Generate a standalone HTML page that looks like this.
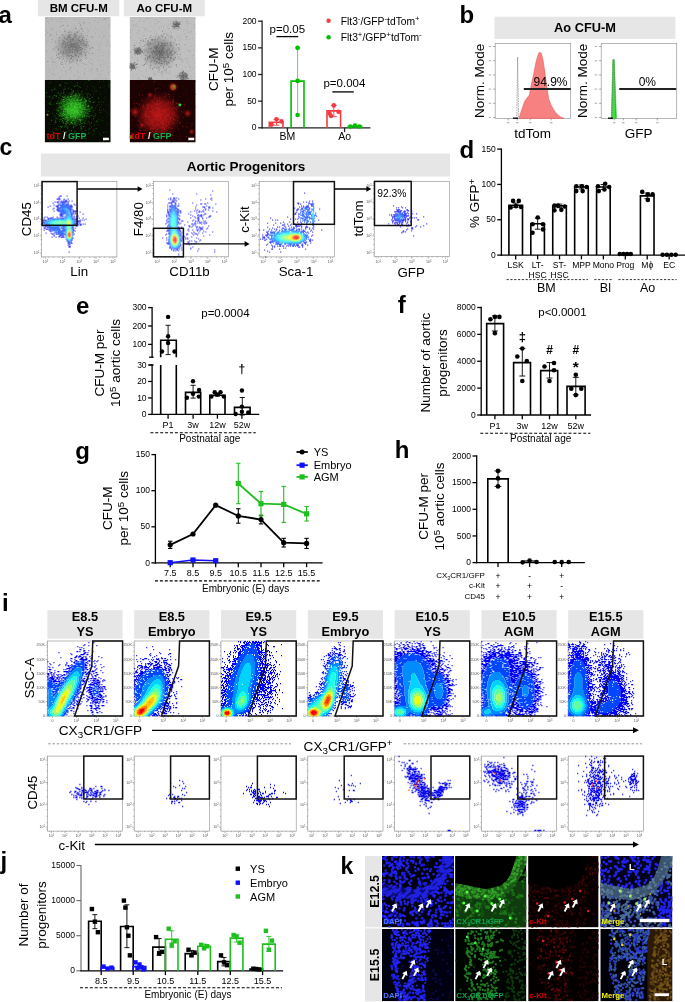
<!DOCTYPE html>
<html><head><meta charset="utf-8"><style>html,body{margin:0;padding:0;background:#fff;overflow:hidden;}svg{display:block;font-family:"Liberation Sans", sans-serif;will-change:transform;}</style></head><body><svg width="685" height="1002" viewBox="0 0 685 1002"><defs><clipPath id="c1"><rect x="44.7" y="17" width="66" height="63"/></clipPath><radialGradient id="g1"><stop offset="0" stop-color="#7a7a7a" stop-opacity="0.9"/><stop offset="0.6" stop-color="#8c8c8c" stop-opacity="0.5"/><stop offset="1" stop-color="#aaa" stop-opacity="0"/></radialGradient><clipPath id="c2"><rect x="129.6" y="17" width="66.1" height="63"/></clipPath><radialGradient id="g2"><stop offset="0" stop-color="#6e6e6e" stop-opacity="0.9"/><stop offset="0.6" stop-color="#858585" stop-opacity="0.5"/><stop offset="1" stop-color="#aaa" stop-opacity="0"/></radialGradient><clipPath id="c3"><rect x="44.7" y="80" width="66" height="62.5"/></clipPath><radialGradient id="g3"><stop offset="0" stop-color="#30c020" stop-opacity="1"/><stop offset="0.45" stop-color="#209818" stop-opacity="0.75"/><stop offset="1" stop-color="#104a08" stop-opacity="0"/></radialGradient><clipPath id="c4"><rect x="129.6" y="80" width="66.1" height="62.5"/></clipPath><radialGradient id="g4"><stop offset="0" stop-color="#b01414" stop-opacity="1"/><stop offset="0.55" stop-color="#901010" stop-opacity="0.85"/><stop offset="1" stop-color="#4a0505" stop-opacity="0"/></radialGradient><radialGradient id="g5"><stop offset="0" stop-color="#c01a1a" stop-opacity="1"/><stop offset="1" stop-color="#600808" stop-opacity="0.2"/></radialGradient><radialGradient id="g6"><stop offset="0" stop-color="#c01a1a" stop-opacity="1"/><stop offset="1" stop-color="#600808" stop-opacity="0.2"/></radialGradient><radialGradient id="g7"><stop offset="0" stop-color="#c01a1a" stop-opacity="1"/><stop offset="1" stop-color="#600808" stop-opacity="0.2"/></radialGradient><radialGradient id="g8"><stop offset="0" stop-color="#c01a1a" stop-opacity="1"/><stop offset="1" stop-color="#600808" stop-opacity="0.2"/></radialGradient><radialGradient id="g9"><stop offset="0" stop-color="#c01a1a" stop-opacity="1"/><stop offset="1" stop-color="#600808" stop-opacity="0.2"/></radialGradient><radialGradient id="g10"><stop offset="0" stop-color="#c01a1a" stop-opacity="1"/><stop offset="1" stop-color="#600808" stop-opacity="0.2"/></radialGradient><filter id="blurf" x="-5%" y="-5%" width="110%" height="110%"><feGaussianBlur stdDeviation="0.32"/></filter><clipPath id="c5"><rect x="382" y="856" width="72" height="71.4"/></clipPath><clipPath id="c6"><rect x="455.2" y="856" width="71.2" height="71.4"/></clipPath><clipPath id="c7"><rect x="528.2" y="856" width="70.4" height="71.4"/></clipPath><clipPath id="c8"><rect x="600.3" y="856" width="72.1" height="71.4"/></clipPath><clipPath id="c9"><rect x="382" y="928.9" width="72" height="72.3"/></clipPath><clipPath id="c10"><rect x="455.2" y="928.9" width="71.2" height="72.3"/></clipPath><clipPath id="c11"><rect x="528.2" y="928.9" width="70.4" height="72.3"/></clipPath><clipPath id="c12"><rect x="600.3" y="928.9" width="72.1" height="72.3"/></clipPath></defs>
<text x="-1.6" y="23.3" font-size="24" font-weight="bold">a</text>
<rect x="38" y="0" width="81.3" height="16.3" fill="#e6e6e6" />
<text x="78.7" y="12.4" font-size="11.5" text-anchor="middle" font-weight="bold">BM CFU-M</text>
<rect x="123.8" y="0" width="81" height="16.3" fill="#e6e6e6" />
<text x="164.3" y="12.4" font-size="11.5" text-anchor="middle" font-weight="bold">Ao CFU-M</text>
<g clip-path="url(#c1)">
<rect x="44.7" y="17" width="66" height="63" fill="#bbbbbb" />
<path d="M53.57 70.39h0.8v0.8h-0.8zM95.11 33.07h0.8v0.8h-0.8zM77.4 45.32h0.8v0.8h-0.8zM87.71 66.69h0.8v0.8h-0.8zM50.89 18.79h0.8v0.8h-0.8zM99.86 44.26h0.8v0.8h-0.8zM95.01 17.13h0.8v0.8h-0.8zM74.1 62.46h0.8v0.8h-0.8zM59.8 76.55h0.8v0.8h-0.8zM104.19 18.93h0.8v0.8h-0.8zM46.38 51.11h0.8v0.8h-0.8zM106.68 41.02h0.8v0.8h-0.8zM59 43.59h0.8v0.8h-0.8zM46.62 30.97h0.8v0.8h-0.8zM73.6 48.24h0.8v0.8h-0.8zM60.08 31.54h0.8v0.8h-0.8zM59.14 45.96h0.8v0.8h-0.8zM63.83 18.35h0.8v0.8h-0.8zM99.98 52.06h0.8v0.8h-0.8zM87.09 28.71h0.8v0.8h-0.8zM110.21 71.18h0.8v0.8h-0.8zM52.68 37.96h0.8v0.8h-0.8zM92.32 61.81h0.8v0.8h-0.8zM106.51 43.59h0.8v0.8h-0.8zM99.48 59.23h0.8v0.8h-0.8zM64.72 54.02h0.8v0.8h-0.8zM102.94 70.31h0.8v0.8h-0.8zM78.05 54.11h0.8v0.8h-0.8zM46.98 32.29h0.8v0.8h-0.8zM97.33 43.1h0.8v0.8h-0.8zM56.12 51.57h0.8v0.8h-0.8zM91.1 59.49h0.8v0.8h-0.8zM69.43 44.65h0.8v0.8h-0.8zM78.26 66.04h0.8v0.8h-0.8zM79.08 41.78h0.8v0.8h-0.8zM77.02 18.86h0.8v0.8h-0.8zM47.57 61.31h0.8v0.8h-0.8zM109.59 54.37h0.8v0.8h-0.8zM70.68 27.73h0.8v0.8h-0.8zM77.85 78.87h0.8v0.8h-0.8zM95.55 51h0.8v0.8h-0.8zM101.48 31.63h0.8v0.8h-0.8zM78.61 77.01h0.8v0.8h-0.8zM82.83 45.93h0.8v0.8h-0.8zM62.47 51.52h0.8v0.8h-0.8zM107.87 17.36h0.8v0.8h-0.8zM96.42 68.69h0.8v0.8h-0.8zM103.19 63.65h0.8v0.8h-0.8zM98.1 49.68h0.8v0.8h-0.8zM81.75 43.84h0.8v0.8h-0.8zM48.4 71.81h0.8v0.8h-0.8zM82.32 29.59h0.8v0.8h-0.8zM78.01 47.55h0.8v0.8h-0.8zM68.25 38.8h0.8v0.8h-0.8zM80.24 56.28h0.8v0.8h-0.8zM85.12 45.86h0.8v0.8h-0.8zM46.55 31.47h0.8v0.8h-0.8zM56.4 53.82h0.8v0.8h-0.8zM101.53 67.3h0.8v0.8h-0.8zM97.31 68.44h0.8v0.8h-0.8zM61.55 70.03h0.8v0.8h-0.8zM89.13 22.24h0.8v0.8h-0.8zM45.8 17.92h0.8v0.8h-0.8zM94.57 32.72h0.8v0.8h-0.8zM51.93 56.36h0.8v0.8h-0.8zM67.43 21.38h0.8v0.8h-0.8zM55.24 50.22h0.8v0.8h-0.8zM55.8 34.19h0.8v0.8h-0.8zM91.66 45.65h0.8v0.8h-0.8zM65.95 46.85h0.8v0.8h-0.8zM46.26 41.35h0.8v0.8h-0.8zM72.48 28.85h0.8v0.8h-0.8zM51.88 73.69h0.8v0.8h-0.8zM78.37 30.17h0.8v0.8h-0.8zM84.67 68.47h0.8v0.8h-0.8zM46.07 18.13h0.8v0.8h-0.8zM54.37 62.29h0.8v0.8h-0.8zM55.28 61.39h0.8v0.8h-0.8zM89.46 51.32h0.8v0.8h-0.8zM59.26 78.46h0.8v0.8h-0.8zM97.36 49.55h0.8v0.8h-0.8zM59.43 57.86h0.8v0.8h-0.8zM70.76 53.28h0.8v0.8h-0.8zM65.9 56.75h0.8v0.8h-0.8zM48.58 35.81h0.8v0.8h-0.8zM108.58 72.16h0.8v0.8h-0.8zM64.92 71.09h0.8v0.8h-0.8zM65.18 76.18h0.8v0.8h-0.8zM93.79 43.22h0.8v0.8h-0.8zM61.36 17.53h0.8v0.8h-0.8zM102.7 19.39h0.8v0.8h-0.8zM98.78 77.62h0.8v0.8h-0.8zM82.34 27.81h0.8v0.8h-0.8zM101.97 78.35h0.8v0.8h-0.8zM91.17 49.06h0.8v0.8h-0.8zM69.65 38.86h0.8v0.8h-0.8zM58.28 59.47h0.8v0.8h-0.8zM73.27 29.23h0.8v0.8h-0.8zM51.59 58.96h0.8v0.8h-0.8zM64.24 48.49h0.8v0.8h-0.8zM66.17 71.91h0.8v0.8h-0.8zM104.08 18.14h0.8v0.8h-0.8zM57.96 37.65h0.8v0.8h-0.8zM109.85 66.31h0.8v0.8h-0.8zM67.08 30.42h0.8v0.8h-0.8zM89.21 69.78h0.8v0.8h-0.8zM106.22 38.66h0.8v0.8h-0.8zM102.94 60.29h0.8v0.8h-0.8zM76.68 79.09h0.8v0.8h-0.8zM60.19 62.7h0.8v0.8h-0.8zM50.29 27.69h0.8v0.8h-0.8zM104.83 30.42h0.8v0.8h-0.8zM94.8 54.81h0.8v0.8h-0.8zM100.21 40.19h0.8v0.8h-0.8zM67.16 35.35h0.8v0.8h-0.8zM101.95 55.05h0.8v0.8h-0.8zM107.68 72.9h0.8v0.8h-0.8zM53.63 51.72h0.8v0.8h-0.8zM51.58 19.47h0.8v0.8h-0.8zM49.53 71.57h0.8v0.8h-0.8zM96.72 69.2h0.8v0.8h-0.8zM67.2 55.76h0.8v0.8h-0.8zM96.31 40.82h0.8v0.8h-0.8zM82.37 31.09h0.8v0.8h-0.8zM50.1 33.8h0.8v0.8h-0.8zM103.49 52.56h0.8v0.8h-0.8zM105.75 45.84h0.8v0.8h-0.8zM62.99 66.58h0.8v0.8h-0.8zM99.33 17.78h0.8v0.8h-0.8zM88.95 22.78h0.8v0.8h-0.8zM52.3 72.76h0.8v0.8h-0.8zM47.34 32.1h0.8v0.8h-0.8zM109.92 43.52h0.8v0.8h-0.8zM52.33 27.55h0.8v0.8h-0.8zM60.63 63.87h0.8v0.8h-0.8zM51.49 74.38h0.8v0.8h-0.8zM69.67 78.13h0.8v0.8h-0.8zM104.71 35.52h0.8v0.8h-0.8zM61.43 47.05h0.8v0.8h-0.8zM51.31 58.08h0.8v0.8h-0.8zM47.31 17.66h0.8v0.8h-0.8zM109.55 35.62h0.8v0.8h-0.8zM84.07 45.34h0.8v0.8h-0.8zM65.38 20.97h0.8v0.8h-0.8zM104.98 78.1h0.8v0.8h-0.8zM108.71 24.02h0.8v0.8h-0.8zM58.9 55.92h0.8v0.8h-0.8zM109.38 51.2h0.8v0.8h-0.8zM90.12 58.7h0.8v0.8h-0.8zM61.8 51.12h0.8v0.8h-0.8zM64.98 32.52h0.8v0.8h-0.8zM50.07 34.69h0.8v0.8h-0.8zM109.6 45.22h0.8v0.8h-0.8zM87.73 57.54h0.8v0.8h-0.8zM106.79 41.6h0.8v0.8h-0.8zM64.95 37.62h0.8v0.8h-0.8zM65.6 70.37h0.8v0.8h-0.8zM103.67 36.08h0.8v0.8h-0.8zM66.77 51.29h0.8v0.8h-0.8zM82.91 54.55h0.8v0.8h-0.8zM60.88 18.28h0.8v0.8h-0.8zM60.79 21.56h0.8v0.8h-0.8zM81.08 21.47h0.8v0.8h-0.8zM49.66 57.03h0.8v0.8h-0.8zM63.89 66.91h0.8v0.8h-0.8zM77.26 71.35h0.8v0.8h-0.8zM54.88 48.59h0.8v0.8h-0.8zM97.17 21.86h0.8v0.8h-0.8zM107.35 27.91h0.8v0.8h-0.8zM95.93 79.05h0.8v0.8h-0.8zM98.92 37.15h0.8v0.8h-0.8zM51.75 49.4h0.8v0.8h-0.8zM105.38 35.49h0.8v0.8h-0.8zM103.69 25.93h0.8v0.8h-0.8zM104.79 19h0.8v0.8h-0.8zM65.56 73.89h0.8v0.8h-0.8zM97.75 74.15h0.8v0.8h-0.8zM100.19 64.01h0.8v0.8h-0.8zM90.21 28.22h0.8v0.8h-0.8zM73.25 26.95h0.8v0.8h-0.8zM91.88 59.07h0.8v0.8h-0.8zM61.37 21.06h0.8v0.8h-0.8zM108.28 67.92h0.8v0.8h-0.8zM80.95 51.11h0.8v0.8h-0.8zM100.89 45.56h0.8v0.8h-0.8zM70.82 38.34h0.8v0.8h-0.8zM61.73 18.54h0.8v0.8h-0.8zM87.36 43.25h0.8v0.8h-0.8zM82.36 20.93h0.8v0.8h-0.8zM68.13 25.71h0.8v0.8h-0.8zM52.96 33.32h0.8v0.8h-0.8zM99.41 42.06h0.8v0.8h-0.8zM71.17 55.58h0.8v0.8h-0.8zM60.11 17.47h0.8v0.8h-0.8zM79.59 48.56h0.8v0.8h-0.8zM87.52 44.61h0.8v0.8h-0.8zM90.01 63.08h0.8v0.8h-0.8zM60.43 48.19h0.8v0.8h-0.8zM76.3 31.18h0.8v0.8h-0.8zM71.91 52.31h0.8v0.8h-0.8zM104.56 74.82h0.8v0.8h-0.8zM62.86 57.72h0.8v0.8h-0.8zM47.88 21.51h0.8v0.8h-0.8zM78.47 72.28h0.8v0.8h-0.8zM55.22 65.26h0.8v0.8h-0.8zM102.98 36.64h0.8v0.8h-0.8zM90.41 70.49h0.8v0.8h-0.8zM69.23 61.18h0.8v0.8h-0.8zM93.3 54.46h0.8v0.8h-0.8zM101.21 73.49h0.8v0.8h-0.8zM108.07 52.99h0.8v0.8h-0.8zM56.33 32.79h0.8v0.8h-0.8zM59.06 52.88h0.8v0.8h-0.8zM94.71 20.28h0.8v0.8h-0.8zM89.69 62.18h0.8v0.8h-0.8zM67.67 49.45h0.8v0.8h-0.8zM55.58 62.98h0.8v0.8h-0.8zM47.39 78.82h0.8v0.8h-0.8zM98.02 56.59h0.8v0.8h-0.8zM62.36 74.51h0.8v0.8h-0.8zM108.02 25.76h0.8v0.8h-0.8zM95.9 70.04h0.8v0.8h-0.8zM88.24 61.13h0.8v0.8h-0.8zM74.07 75.23h0.8v0.8h-0.8zM108.8 41.09h0.8v0.8h-0.8zM97.68 44.27h0.8v0.8h-0.8zM55.57 37.5h0.8v0.8h-0.8zM53.04 74.26h0.8v0.8h-0.8zM108.02 24.51h0.8v0.8h-0.8zM84.34 42.72h0.8v0.8h-0.8zM52.49 35.61h0.8v0.8h-0.8zM61.08 64.22h0.8v0.8h-0.8zM44.96 28.96h0.8v0.8h-0.8zM73.66 18.33h0.8v0.8h-0.8zM86.12 55.15h0.8v0.8h-0.8zM99.83 30.02h0.8v0.8h-0.8zM63.5 51.17h0.8v0.8h-0.8zM62.73 53.9h0.8v0.8h-0.8zM61.26 60.06h0.8v0.8h-0.8zM96.91 67.95h0.8v0.8h-0.8zM108.96 51.36h0.8v0.8h-0.8zM77.09 70.91h0.8v0.8h-0.8zM95.46 52.94h0.8v0.8h-0.8zM69.99 34.89h0.8v0.8h-0.8zM51.84 67.88h0.8v0.8h-0.8zM52.49 64.08h0.8v0.8h-0.8zM80.69 77.79h0.8v0.8h-0.8zM94.93 78.33h0.8v0.8h-0.8zM53.72 48.52h0.8v0.8h-0.8zM82.49 36.61h0.8v0.8h-0.8zM77.9 39.48h0.8v0.8h-0.8zM79.57 17.05h0.8v0.8h-0.8zM73.89 45.32h0.8v0.8h-0.8zM64.82 42.16h0.8v0.8h-0.8zM96.38 60.06h0.8v0.8h-0.8zM77.19 57.8h0.8v0.8h-0.8zM69.62 29.85h0.8v0.8h-0.8zM44.96 34.49h0.8v0.8h-0.8zM84.18 72.54h0.8v0.8h-0.8zM99.44 49.19h0.8v0.8h-0.8zM109.84 46.08h0.8v0.8h-0.8zM99.78 42.76h0.8v0.8h-0.8zM93.85 79.22h0.8v0.8h-0.8zM64.85 27.73h0.8v0.8h-0.8zM85.62 50.45h0.8v0.8h-0.8zM68.42 17.22h0.8v0.8h-0.8zM70.38 43.83h0.8v0.8h-0.8zM71.45 71.26h0.8v0.8h-0.8zM83.27 63.23h0.8v0.8h-0.8zM103.96 64.17h0.8v0.8h-0.8zM77.22 63.98h0.8v0.8h-0.8zM86.96 57.87h0.8v0.8h-0.8zM86.26 42.64h0.8v0.8h-0.8zM86.23 56.93h0.8v0.8h-0.8zM106.55 66.3h0.8v0.8h-0.8zM100.55 65.35h0.8v0.8h-0.8zM98.51 55.14h0.8v0.8h-0.8zM67.76 33.67h0.8v0.8h-0.8zM91.43 72.06h0.8v0.8h-0.8zM80.62 26.58h0.8v0.8h-0.8zM99.68 47.53h0.8v0.8h-0.8zM75.53 19.86h0.8v0.8h-0.8zM78.38 63.92h0.8v0.8h-0.8zM72.59 39.38h0.8v0.8h-0.8zM88.05 18.24h0.8v0.8h-0.8zM78.17 76.61h0.8v0.8h-0.8zM90.27 42.32h0.8v0.8h-0.8zM90.17 55.11h0.8v0.8h-0.8zM58.49 30.09h0.8v0.8h-0.8zM103.18 33.95h0.8v0.8h-0.8zM49.64 69.33h0.8v0.8h-0.8zM79.23 40.2h0.8v0.8h-0.8zM78.46 63.41h0.8v0.8h-0.8zM55.82 58.14h0.8v0.8h-0.8zM91.79 68.35h0.8v0.8h-0.8zM62.5 55.41h0.8v0.8h-0.8zM60.02 52.35h0.8v0.8h-0.8zM56.08 66.76h0.8v0.8h-0.8zM101.9 37.77h0.8v0.8h-0.8zM59.37 77.72h0.8v0.8h-0.8zM91.34 70.16h0.8v0.8h-0.8zM46.72 73.66h0.8v0.8h-0.8zM85.78 36.94h0.8v0.8h-0.8zM73.2 64.98h0.8v0.8h-0.8zM96.54 28.96h0.8v0.8h-0.8zM86.01 27.43h0.8v0.8h-0.8zM108.92 44.95h0.8v0.8h-0.8zM104.97 62.88h0.8v0.8h-0.8zM84.71 33.5h0.8v0.8h-0.8zM79.46 25.73h0.8v0.8h-0.8zM53.81 62.09h0.8v0.8h-0.8zM68.53 64.34h0.8v0.8h-0.8zM60.57 62.24h0.8v0.8h-0.8zM92.12 36.25h0.8v0.8h-0.8zM51.72 42.01h0.8v0.8h-0.8zM77.2 23.3h0.8v0.8h-0.8zM57.03 20.49h0.8v0.8h-0.8zM84.14 73h0.8v0.8h-0.8zM58.99 19.19h0.8v0.8h-0.8zM91.16 68.34h0.8v0.8h-0.8zM108.33 55.63h0.8v0.8h-0.8zM67.3 69.79h0.8v0.8h-0.8zM52.49 60.64h0.8v0.8h-0.8zM50.99 42.18h0.8v0.8h-0.8zM77.37 40.81h0.8v0.8h-0.8zM55.83 31.6h0.8v0.8h-0.8zM98.83 46.14h0.8v0.8h-0.8zM82.98 30.35h0.8v0.8h-0.8zM91.89 37.8h0.8v0.8h-0.8zM83.88 74.3h0.8v0.8h-0.8zM110.33 19.91h0.8v0.8h-0.8zM97.33 71.03h0.8v0.8h-0.8zM65.79 41.14h0.8v0.8h-0.8zM83 74.89h0.8v0.8h-0.8zM71.1 72.44h0.8v0.8h-0.8zM94.76 26.59h0.8v0.8h-0.8zM105 17.96h0.8v0.8h-0.8zM54.28 58.88h0.8v0.8h-0.8zM48.47 40.91h0.8v0.8h-0.8zM53.28 46.16h0.8v0.8h-0.8zM100.14 74.08h0.8v0.8h-0.8zM47.04 20.83h0.8v0.8h-0.8zM100.18 19.7h0.8v0.8h-0.8zM62.76 24.4h0.8v0.8h-0.8zM50.71 18.74h0.8v0.8h-0.8zM86.78 63.91h0.8v0.8h-0.8zM90.03 70.27h0.8v0.8h-0.8zM88.46 41.55h0.8v0.8h-0.8zM86.35 78.08h0.8v0.8h-0.8zM87.05 32.31h0.8v0.8h-0.8zM48.67 75.92h0.8v0.8h-0.8zM83.67 39.03h0.8v0.8h-0.8zM84.65 52.3h0.8v0.8h-0.8zM79.16 20.83h0.8v0.8h-0.8zM68.01 43h0.8v0.8h-0.8zM57.86 72.45h0.8v0.8h-0.8zM72.69 58.73h0.8v0.8h-0.8zM91.79 63.83h0.8v0.8h-0.8zM92.29 64.39h0.8v0.8h-0.8zM61.3 78.51h0.8v0.8h-0.8zM54.67 74.87h0.8v0.8h-0.8zM101.1 70.69h0.8v0.8h-0.8zM48.19 22.75h0.8v0.8h-0.8zM98.36 46.56h0.8v0.8h-0.8zM69.14 79.04h0.8v0.8h-0.8zM47.35 50.48h0.8v0.8h-0.8zM73.96 25.08h0.8v0.8h-0.8zM70.78 61.58h0.8v0.8h-0.8zM102.93 18.55h0.8v0.8h-0.8zM79.32 22.69h0.8v0.8h-0.8zM97.53 22.4h0.8v0.8h-0.8zM46.96 41.21h0.8v0.8h-0.8zM93.05 36.73h0.8v0.8h-0.8zM53.28 67.06h0.8v0.8h-0.8zM97.96 70.92h0.8v0.8h-0.8zM64.75 43.76h0.8v0.8h-0.8zM60.9 52.1h0.8v0.8h-0.8zM66.49 38.34h0.8v0.8h-0.8zM96.42 77.25h0.8v0.8h-0.8zM83.25 23.6h0.8v0.8h-0.8zM87.77 45.26h0.8v0.8h-0.8zM109.91 62.32h0.8v0.8h-0.8zM99.8 61.18h0.8v0.8h-0.8zM80.05 73.5h0.8v0.8h-0.8zM99.59 35.35h0.8v0.8h-0.8zM55.06 40.33h0.8v0.8h-0.8zM79.09 23.13h0.8v0.8h-0.8zM67.5 53.22h0.8v0.8h-0.8zM47.58 68.34h0.8v0.8h-0.8zM87.67 36.76h0.8v0.8h-0.8zM64.39 39.21h0.8v0.8h-0.8zM66.17 64.16h0.8v0.8h-0.8zM77.77 50.15h0.8v0.8h-0.8zM54.52 74.61h0.8v0.8h-0.8zM66.19 37.64h0.8v0.8h-0.8zM49.24 78.7h0.8v0.8h-0.8zM76.36 74.51h0.8v0.8h-0.8zM105.92 78.09h0.8v0.8h-0.8zM98.53 75.3h0.8v0.8h-0.8zM105.57 67.49h0.8v0.8h-0.8z" fill="#8a8a8a" fill-opacity="0.45"/>
<ellipse cx="72.5" cy="46" rx="20" ry="18" fill="url(#g1)"/>
<path d="M78.96 53.29h0.9v0.9h-0.9zM50.25 34.55h0.9v0.9h-0.9zM75.14 33.82h0.9v0.9h-0.9zM72.34 38.42h0.9v0.9h-0.9zM83.24 41.93h0.9v0.9h-0.9zM65.18 51.14h0.9v0.9h-0.9zM82.28 44.75h0.9v0.9h-0.9zM74.74 49.94h0.9v0.9h-0.9zM68.55 36.5h0.9v0.9h-0.9zM76.76 43.18h0.9v0.9h-0.9zM61.55 52.84h0.9v0.9h-0.9zM75.98 47.13h0.9v0.9h-0.9zM66.47 44.22h0.9v0.9h-0.9zM77.38 49.88h0.9v0.9h-0.9zM65.9 38.78h0.9v0.9h-0.9zM75.24 47.47h0.9v0.9h-0.9zM79.29 36.73h0.9v0.9h-0.9zM79.87 60.11h0.9v0.9h-0.9zM80.09 47.05h0.9v0.9h-0.9zM79.75 35.7h0.9v0.9h-0.9zM68.95 62.48h0.9v0.9h-0.9zM59.42 36.74h0.9v0.9h-0.9zM79.08 40.75h0.9v0.9h-0.9zM67.98 37.04h0.9v0.9h-0.9zM85.96 41.13h0.9v0.9h-0.9zM70.28 31.5h0.9v0.9h-0.9zM78.66 45.93h0.9v0.9h-0.9zM76.49 58.64h0.9v0.9h-0.9zM73.72 36.46h0.9v0.9h-0.9zM64.39 46.66h0.9v0.9h-0.9zM83.07 36.41h0.9v0.9h-0.9zM70.53 44.84h0.9v0.9h-0.9zM77.76 38.87h0.9v0.9h-0.9zM74.99 52.27h0.9v0.9h-0.9zM72.2 45.22h0.9v0.9h-0.9zM77.45 50.65h0.9v0.9h-0.9zM82.57 37.37h0.9v0.9h-0.9zM82.34 44.17h0.9v0.9h-0.9zM63.39 41.57h0.9v0.9h-0.9zM62.63 44.4h0.9v0.9h-0.9zM80.77 28h0.9v0.9h-0.9zM63.04 52.15h0.9v0.9h-0.9zM70.09 52.34h0.9v0.9h-0.9zM61.88 45.58h0.9v0.9h-0.9zM51.65 39.23h0.9v0.9h-0.9zM78.42 55.72h0.9v0.9h-0.9zM85.55 45.55h0.9v0.9h-0.9zM65.48 42.91h0.9v0.9h-0.9zM57.15 56.84h0.9v0.9h-0.9zM81.92 38.72h0.9v0.9h-0.9zM87.15 35.18h0.9v0.9h-0.9zM76.98 39.53h0.9v0.9h-0.9zM58.59 49.17h0.9v0.9h-0.9zM63.23 55.55h0.9v0.9h-0.9zM65.3 46.84h0.9v0.9h-0.9zM68.67 47.08h0.9v0.9h-0.9zM67.44 52.56h0.9v0.9h-0.9zM77.38 46.56h0.9v0.9h-0.9zM71.48 61.77h0.9v0.9h-0.9zM66.93 42.49h0.9v0.9h-0.9zM78.68 45.91h0.9v0.9h-0.9zM59.43 44.86h0.9v0.9h-0.9zM69.43 38.04h0.9v0.9h-0.9zM74.06 36.91h0.9v0.9h-0.9zM70.5 36.92h0.9v0.9h-0.9zM84.99 43.74h0.9v0.9h-0.9zM76.04 48.29h0.9v0.9h-0.9zM78.15 44.79h0.9v0.9h-0.9zM78.53 47h0.9v0.9h-0.9zM52.93 48.5h0.9v0.9h-0.9zM62.16 53.6h0.9v0.9h-0.9zM74.25 43.02h0.9v0.9h-0.9zM52.32 28.89h0.9v0.9h-0.9zM63.08 42.97h0.9v0.9h-0.9zM61.46 61.87h0.9v0.9h-0.9zM76.17 45.29h0.9v0.9h-0.9zM64.61 43.28h0.9v0.9h-0.9zM70.6 42.46h0.9v0.9h-0.9zM71.88 52.44h0.9v0.9h-0.9zM58.41 47.81h0.9v0.9h-0.9zM81.31 35.05h0.9v0.9h-0.9zM70.98 42.94h0.9v0.9h-0.9zM63.35 53.6h0.9v0.9h-0.9zM69.89 55.16h0.9v0.9h-0.9zM75.79 43.77h0.9v0.9h-0.9zM74.8 42.99h0.9v0.9h-0.9zM59.37 57.38h0.9v0.9h-0.9zM75.43 55.25h0.9v0.9h-0.9zM58.01 54.37h0.9v0.9h-0.9zM79.09 45.67h0.9v0.9h-0.9zM55.53 46.8h0.9v0.9h-0.9zM67.16 44.46h0.9v0.9h-0.9zM72.94 38.76h0.9v0.9h-0.9zM71.45 46.09h0.9v0.9h-0.9zM84.18 45.19h0.9v0.9h-0.9zM91.31 36.54h0.9v0.9h-0.9zM71.4 55.92h0.9v0.9h-0.9zM59.93 50.95h0.9v0.9h-0.9zM75.66 41.18h0.9v0.9h-0.9zM70.57 58.37h0.9v0.9h-0.9zM68.91 48.23h0.9v0.9h-0.9zM75.96 55.66h0.9v0.9h-0.9zM55.96 34.22h0.9v0.9h-0.9zM61.77 43.76h0.9v0.9h-0.9zM77.41 52.65h0.9v0.9h-0.9zM70.2 58.12h0.9v0.9h-0.9zM71.91 51.53h0.9v0.9h-0.9zM66.42 52.67h0.9v0.9h-0.9zM66.74 55.27h0.9v0.9h-0.9zM79.4 60.96h0.9v0.9h-0.9zM69.1 36.71h0.9v0.9h-0.9zM79.14 48.54h0.9v0.9h-0.9zM68.27 35.29h0.9v0.9h-0.9zM78.9 30.4h0.9v0.9h-0.9zM68.77 54.56h0.9v0.9h-0.9zM70.48 49.67h0.9v0.9h-0.9zM76.42 50.75h0.9v0.9h-0.9zM80.97 51.23h0.9v0.9h-0.9zM69.5 36.15h0.9v0.9h-0.9zM70.22 40.74h0.9v0.9h-0.9zM75.74 55.84h0.9v0.9h-0.9zM78.76 40.43h0.9v0.9h-0.9zM74.11 46.04h0.9v0.9h-0.9zM68.73 56.4h0.9v0.9h-0.9zM77.42 48.89h0.9v0.9h-0.9zM62.72 24.98h0.9v0.9h-0.9zM66.63 55.12h0.9v0.9h-0.9zM70.78 45.8h0.9v0.9h-0.9zM70.39 49.84h0.9v0.9h-0.9zM72.43 59.72h0.9v0.9h-0.9zM71.53 43.9h0.9v0.9h-0.9zM83.86 52.01h0.9v0.9h-0.9zM78.07 50.22h0.9v0.9h-0.9zM72.19 48.54h0.9v0.9h-0.9zM76.79 46.85h0.9v0.9h-0.9zM57.47 57.02h0.9v0.9h-0.9zM68.66 41.45h0.9v0.9h-0.9zM69.76 40.22h0.9v0.9h-0.9zM65.48 45.33h0.9v0.9h-0.9zM79.57 43.64h0.9v0.9h-0.9zM76.28 35.19h0.9v0.9h-0.9zM78.54 36.9h0.9v0.9h-0.9zM78.1 40.07h0.9v0.9h-0.9zM67.69 35.95h0.9v0.9h-0.9zM62.34 44.21h0.9v0.9h-0.9zM64.7 44.22h0.9v0.9h-0.9zM81.59 39.25h0.9v0.9h-0.9zM69.96 45.19h0.9v0.9h-0.9zM67.54 45.73h0.9v0.9h-0.9zM74.36 54.34h0.9v0.9h-0.9zM66.68 44.27h0.9v0.9h-0.9zM71.21 55.75h0.9v0.9h-0.9zM64.49 47.36h0.9v0.9h-0.9zM78.65 50.69h0.9v0.9h-0.9zM66.83 37.73h0.9v0.9h-0.9zM57.69 41.72h0.9v0.9h-0.9zM70.46 34.02h0.9v0.9h-0.9zM79.24 47.3h0.9v0.9h-0.9zM70.58 41.76h0.9v0.9h-0.9zM76.29 43.71h0.9v0.9h-0.9zM76.55 42.15h0.9v0.9h-0.9zM80.95 32.97h0.9v0.9h-0.9zM63.93 60.4h0.9v0.9h-0.9zM80.86 59.12h0.9v0.9h-0.9zM66.16 51.83h0.9v0.9h-0.9zM80.5 53.32h0.9v0.9h-0.9zM71.03 57.77h0.9v0.9h-0.9zM75.82 35.64h0.9v0.9h-0.9zM92.21 47.01h0.9v0.9h-0.9zM82.55 40.45h0.9v0.9h-0.9zM65.03 53.06h0.9v0.9h-0.9zM79.08 40.04h0.9v0.9h-0.9zM74.47 35.37h0.9v0.9h-0.9zM56.05 54.74h0.9v0.9h-0.9zM63.34 51.94h0.9v0.9h-0.9zM81.02 48.96h0.9v0.9h-0.9zM84.64 48.91h0.9v0.9h-0.9zM74.85 46.01h0.9v0.9h-0.9zM75.86 48.82h0.9v0.9h-0.9zM65 45.62h0.9v0.9h-0.9zM69.5 68.74h0.9v0.9h-0.9zM82.31 39.69h0.9v0.9h-0.9zM77.26 31.98h0.9v0.9h-0.9zM72.94 60.53h0.9v0.9h-0.9zM73.16 56.26h0.9v0.9h-0.9zM69.55 49.67h0.9v0.9h-0.9zM75.49 28.43h0.9v0.9h-0.9zM66.08 61.17h0.9v0.9h-0.9zM65.84 55.63h0.9v0.9h-0.9zM86.25 45.64h0.9v0.9h-0.9zM80.53 48.93h0.9v0.9h-0.9zM67.74 50.68h0.9v0.9h-0.9zM75.98 38.11h0.9v0.9h-0.9zM68.94 35.22h0.9v0.9h-0.9zM69.8 45.68h0.9v0.9h-0.9zM64.66 31.08h0.9v0.9h-0.9zM77.89 56.13h0.9v0.9h-0.9zM65.22 46.58h0.9v0.9h-0.9zM67.15 24.92h0.9v0.9h-0.9zM89.41 48.32h0.9v0.9h-0.9zM61.24 56.15h0.9v0.9h-0.9zM78.29 57.31h0.9v0.9h-0.9zM78.36 50.24h0.9v0.9h-0.9zM83.99 43.8h0.9v0.9h-0.9zM74.42 37.31h0.9v0.9h-0.9zM63.33 47.68h0.9v0.9h-0.9zM74.36 33.31h0.9v0.9h-0.9zM75.48 54.09h0.9v0.9h-0.9zM62.45 43.28h0.9v0.9h-0.9zM86.22 39.2h0.9v0.9h-0.9zM77.07 52.28h0.9v0.9h-0.9zM73.93 47.17h0.9v0.9h-0.9zM77.04 48.3h0.9v0.9h-0.9zM73.7 34.19h0.9v0.9h-0.9zM74.46 39.7h0.9v0.9h-0.9zM84.47 63.74h0.9v0.9h-0.9zM81.41 28.79h0.9v0.9h-0.9zM80.48 46.95h0.9v0.9h-0.9zM63.79 36.27h0.9v0.9h-0.9zM80.98 40.82h0.9v0.9h-0.9zM71.86 46.52h0.9v0.9h-0.9zM80.04 24.59h0.9v0.9h-0.9zM82.34 39.51h0.9v0.9h-0.9zM69.25 50.94h0.9v0.9h-0.9zM75.43 27.5h0.9v0.9h-0.9zM77.32 44.77h0.9v0.9h-0.9zM64.25 41.1h0.9v0.9h-0.9zM59.72 52.27h0.9v0.9h-0.9zM84.32 40.96h0.9v0.9h-0.9zM68.74 34.34h0.9v0.9h-0.9zM66.85 37.84h0.9v0.9h-0.9zM72.68 59.91h0.9v0.9h-0.9zM80.93 53.82h0.9v0.9h-0.9zM64.73 52.68h0.9v0.9h-0.9zM66.74 38.91h0.9v0.9h-0.9zM78.36 45.19h0.9v0.9h-0.9zM92.38 47.52h0.9v0.9h-0.9zM70.05 51.97h0.9v0.9h-0.9zM63.22 51.44h0.9v0.9h-0.9zM85 44.91h0.9v0.9h-0.9zM68.38 55h0.9v0.9h-0.9zM63.55 48.99h0.9v0.9h-0.9zM68.29 48.4h0.9v0.9h-0.9zM66.21 50.85h0.9v0.9h-0.9zM76.99 60.04h0.9v0.9h-0.9zM69.58 49.53h0.9v0.9h-0.9zM58.4 39.7h0.9v0.9h-0.9zM74.63 35.05h0.9v0.9h-0.9zM71.64 38.81h0.9v0.9h-0.9zM76.33 50.8h0.9v0.9h-0.9zM68.72 51.25h0.9v0.9h-0.9zM68.05 46.91h0.9v0.9h-0.9zM76.67 50.46h0.9v0.9h-0.9zM77.25 59.59h0.9v0.9h-0.9zM67.33 44.76h0.9v0.9h-0.9zM57.86 52.98h0.9v0.9h-0.9zM63.52 41.24h0.9v0.9h-0.9zM68.4 49.33h0.9v0.9h-0.9zM70.24 43.73h0.9v0.9h-0.9zM73.12 43.32h0.9v0.9h-0.9zM72.32 38.15h0.9v0.9h-0.9zM68.09 36.25h0.9v0.9h-0.9zM79.35 53.22h0.9v0.9h-0.9zM77.81 48.67h0.9v0.9h-0.9zM67.67 50.44h0.9v0.9h-0.9zM60.11 25.98h0.9v0.9h-0.9zM62.99 57.96h0.9v0.9h-0.9zM74.46 58.42h0.9v0.9h-0.9zM66.79 54.1h0.9v0.9h-0.9zM85.23 53.92h0.9v0.9h-0.9zM74.78 54.63h0.9v0.9h-0.9zM68.85 60.12h0.9v0.9h-0.9zM63.26 39.92h0.9v0.9h-0.9zM72.68 39.87h0.9v0.9h-0.9zM86.53 51.38h0.9v0.9h-0.9zM66.64 59.41h0.9v0.9h-0.9zM83.35 42.97h0.9v0.9h-0.9zM85 55.48h0.9v0.9h-0.9zM68.48 41.53h0.9v0.9h-0.9zM74.99 55.19h0.9v0.9h-0.9zM85.06 58.03h0.9v0.9h-0.9zM68.63 31.72h0.9v0.9h-0.9zM58.99 58.09h0.9v0.9h-0.9zM80.96 55.47h0.9v0.9h-0.9zM72.48 46.68h0.9v0.9h-0.9zM76.39 49.7h0.9v0.9h-0.9zM73.15 38.23h0.9v0.9h-0.9zM61.54 47.24h0.9v0.9h-0.9zM71.24 57.34h0.9v0.9h-0.9zM63.96 30.1h0.9v0.9h-0.9zM56.77 45.72h0.9v0.9h-0.9zM85.91 43.24h0.9v0.9h-0.9zM66.89 49.03h0.9v0.9h-0.9zM84.83 54.69h0.9v0.9h-0.9zM79.53 53.45h0.9v0.9h-0.9zM70.18 46.69h0.9v0.9h-0.9zM75.81 60.51h0.9v0.9h-0.9zM54.85 41.63h0.9v0.9h-0.9zM75.48 44.06h0.9v0.9h-0.9zM71.47 43.87h0.9v0.9h-0.9zM64.86 50.03h0.9v0.9h-0.9zM82.87 43.12h0.9v0.9h-0.9zM76.02 54.88h0.9v0.9h-0.9zM67.25 45.28h0.9v0.9h-0.9zM62.07 58.65h0.9v0.9h-0.9zM86.26 44.39h0.9v0.9h-0.9zM88.48 52.86h0.9v0.9h-0.9zM57.85 49.91h0.9v0.9h-0.9zM74.51 50.05h0.9v0.9h-0.9zM77.96 42.37h0.9v0.9h-0.9zM81.59 48.52h0.9v0.9h-0.9zM87.67 45.1h0.9v0.9h-0.9zM52.44 61.3h0.9v0.9h-0.9zM76.94 31.29h0.9v0.9h-0.9zM67.63 39.64h0.9v0.9h-0.9zM79.99 40.96h0.9v0.9h-0.9zM81.8 41.95h0.9v0.9h-0.9zM80.19 41.11h0.9v0.9h-0.9zM62.94 50.73h0.9v0.9h-0.9zM70.63 50.15h0.9v0.9h-0.9zM59.29 37.69h0.9v0.9h-0.9zM69.72 61.77h0.9v0.9h-0.9zM75.7 32.54h0.9v0.9h-0.9zM47.3 60.88h0.9v0.9h-0.9zM75.16 35.87h0.9v0.9h-0.9zM80.4 52.84h0.9v0.9h-0.9zM89.68 47.56h0.9v0.9h-0.9zM68.53 52.56h0.9v0.9h-0.9zM61.68 42.42h0.9v0.9h-0.9zM64.5 41.42h0.9v0.9h-0.9zM62.2 34.41h0.9v0.9h-0.9zM63.61 49.12h0.9v0.9h-0.9zM72.74 45.39h0.9v0.9h-0.9zM76.27 52.01h0.9v0.9h-0.9zM76.32 62.59h0.9v0.9h-0.9zM74.78 49.07h0.9v0.9h-0.9zM68.59 54.7h0.9v0.9h-0.9zM83.95 22.23h0.9v0.9h-0.9zM79.05 37.21h0.9v0.9h-0.9zM75.32 46.68h0.9v0.9h-0.9zM62.41 35.16h0.9v0.9h-0.9zM70.45 67.01h0.9v0.9h-0.9zM62.57 42.75h0.9v0.9h-0.9zM70.18 43.86h0.9v0.9h-0.9zM81.5 62.47h0.9v0.9h-0.9zM72.14 49.32h0.9v0.9h-0.9zM69.89 58.61h0.9v0.9h-0.9zM72.06 51.48h0.9v0.9h-0.9zM70.95 55.02h0.9v0.9h-0.9zM71.97 39.25h0.9v0.9h-0.9zM87.79 30.42h0.9v0.9h-0.9zM73.88 43.16h0.9v0.9h-0.9zM65.21 62.72h0.9v0.9h-0.9zM75.21 42.69h0.9v0.9h-0.9zM65.39 48.7h0.9v0.9h-0.9zM72.47 44.07h0.9v0.9h-0.9zM67.17 58.21h0.9v0.9h-0.9zM74.25 44.5h0.9v0.9h-0.9zM62.46 39.78h0.9v0.9h-0.9zM78.37 39.98h0.9v0.9h-0.9zM77.73 45.11h0.9v0.9h-0.9zM75.67 48.79h0.9v0.9h-0.9zM69 43.88h0.9v0.9h-0.9zM71.95 51.26h0.9v0.9h-0.9zM91.77 52.98h0.9v0.9h-0.9zM62.01 63.76h0.9v0.9h-0.9zM71.56 40.44h0.9v0.9h-0.9zM73.5 45.55h0.9v0.9h-0.9zM74.54 45.76h0.9v0.9h-0.9zM72.29 56.14h0.9v0.9h-0.9zM86.09 46.78h0.9v0.9h-0.9zM85.21 53.48h0.9v0.9h-0.9zM82.07 48.15h0.9v0.9h-0.9zM74.17 52.39h0.9v0.9h-0.9zM64.81 46.46h0.9v0.9h-0.9zM63.43 53.31h0.9v0.9h-0.9zM74.21 50.77h0.9v0.9h-0.9zM69.81 39.85h0.9v0.9h-0.9zM80.2 42.55h0.9v0.9h-0.9zM70.79 46.28h0.9v0.9h-0.9zM76.23 46.49h0.9v0.9h-0.9zM64.17 37.61h0.9v0.9h-0.9zM80.63 43.48h0.9v0.9h-0.9zM70.57 38.92h0.9v0.9h-0.9zM79.96 49.75h0.9v0.9h-0.9zM68.18 32.21h0.9v0.9h-0.9zM86.93 41.51h0.9v0.9h-0.9zM63.18 42.06h0.9v0.9h-0.9zM63.38 45.94h0.9v0.9h-0.9zM68.07 36.51h0.9v0.9h-0.9zM77.96 39.16h0.9v0.9h-0.9zM57.63 48.72h0.9v0.9h-0.9zM68.11 37.29h0.9v0.9h-0.9zM59.15 40.38h0.9v0.9h-0.9zM67.66 42.13h0.9v0.9h-0.9zM68.47 56.13h0.9v0.9h-0.9zM80.98 48.51h0.9v0.9h-0.9zM77.02 42.35h0.9v0.9h-0.9zM60.85 50.26h0.9v0.9h-0.9zM83.52 40.43h0.9v0.9h-0.9z" fill="#5a5a5a" fill-opacity="0.55"/>
</g>
<g clip-path="url(#c2)">
<rect x="129.6" y="17" width="66.1" height="63" fill="#bfbfbf" />
<path d="M170.97 41.19h0.8v0.8h-0.8zM158.51 57.44h0.8v0.8h-0.8zM153.15 66.45h0.8v0.8h-0.8zM130.14 64.34h0.8v0.8h-0.8zM178.65 36.31h0.8v0.8h-0.8zM130.59 38.3h0.8v0.8h-0.8zM168.55 66.58h0.8v0.8h-0.8zM187.13 30.14h0.8v0.8h-0.8zM135 24.55h0.8v0.8h-0.8zM194.98 57.66h0.8v0.8h-0.8zM138.08 60.52h0.8v0.8h-0.8zM193.02 55.27h0.8v0.8h-0.8zM144.97 77.63h0.8v0.8h-0.8zM175.91 28.53h0.8v0.8h-0.8zM180.25 48.76h0.8v0.8h-0.8zM167.54 40.04h0.8v0.8h-0.8zM149.02 43.49h0.8v0.8h-0.8zM164.4 46.07h0.8v0.8h-0.8zM186.86 21.67h0.8v0.8h-0.8zM142.75 76.06h0.8v0.8h-0.8zM169.78 55.9h0.8v0.8h-0.8zM171.23 32.34h0.8v0.8h-0.8zM155.69 30.24h0.8v0.8h-0.8zM139.65 79.34h0.8v0.8h-0.8zM178.77 72.39h0.8v0.8h-0.8zM129.7 61.38h0.8v0.8h-0.8zM149.91 48.37h0.8v0.8h-0.8zM174.23 18.96h0.8v0.8h-0.8zM154.11 51.9h0.8v0.8h-0.8zM187.4 49.33h0.8v0.8h-0.8zM150.59 55.04h0.8v0.8h-0.8zM168.18 35.41h0.8v0.8h-0.8zM165.83 34.4h0.8v0.8h-0.8zM130.35 36.58h0.8v0.8h-0.8zM135.31 47.99h0.8v0.8h-0.8zM162.73 71.82h0.8v0.8h-0.8zM179.04 64.21h0.8v0.8h-0.8zM195.02 33.67h0.8v0.8h-0.8zM154.24 31.53h0.8v0.8h-0.8zM136.37 49.46h0.8v0.8h-0.8zM163.4 25.17h0.8v0.8h-0.8zM190.58 78.65h0.8v0.8h-0.8zM134.12 17.2h0.8v0.8h-0.8zM133.68 63.1h0.8v0.8h-0.8zM185.95 21.17h0.8v0.8h-0.8zM130.19 50.89h0.8v0.8h-0.8zM151.59 18.18h0.8v0.8h-0.8zM130.18 30.32h0.8v0.8h-0.8zM142.83 35.61h0.8v0.8h-0.8zM166 32.84h0.8v0.8h-0.8zM145.04 30.28h0.8v0.8h-0.8zM188.23 32.03h0.8v0.8h-0.8zM166.31 45.52h0.8v0.8h-0.8zM151.51 42.63h0.8v0.8h-0.8zM130.66 28.66h0.8v0.8h-0.8zM171.91 64.97h0.8v0.8h-0.8zM144.03 28.12h0.8v0.8h-0.8zM189.47 23.16h0.8v0.8h-0.8zM182.14 72.32h0.8v0.8h-0.8zM139.27 69.48h0.8v0.8h-0.8zM139.52 19.72h0.8v0.8h-0.8zM148.52 38.69h0.8v0.8h-0.8zM168.57 44.88h0.8v0.8h-0.8zM182.05 58.88h0.8v0.8h-0.8zM137.48 29.75h0.8v0.8h-0.8zM178.92 24.3h0.8v0.8h-0.8zM192.57 68.13h0.8v0.8h-0.8zM144.13 35.03h0.8v0.8h-0.8zM146.27 43.64h0.8v0.8h-0.8zM146.04 19.03h0.8v0.8h-0.8zM146.24 29.27h0.8v0.8h-0.8zM152.73 45.62h0.8v0.8h-0.8zM187.39 58.55h0.8v0.8h-0.8zM170.28 71.47h0.8v0.8h-0.8zM155.15 43.84h0.8v0.8h-0.8zM145.76 69.3h0.8v0.8h-0.8zM187.59 74.38h0.8v0.8h-0.8zM169.59 24.17h0.8v0.8h-0.8zM134.38 67.24h0.8v0.8h-0.8zM188.13 50.53h0.8v0.8h-0.8zM190.46 75.64h0.8v0.8h-0.8zM179.49 40.34h0.8v0.8h-0.8zM159.76 39.17h0.8v0.8h-0.8zM155.78 46.69h0.8v0.8h-0.8zM130.73 25.02h0.8v0.8h-0.8zM140.71 52.71h0.8v0.8h-0.8zM187.21 61.82h0.8v0.8h-0.8zM139.48 45.83h0.8v0.8h-0.8zM171.06 25.52h0.8v0.8h-0.8zM134.87 55.56h0.8v0.8h-0.8zM145.16 57.64h0.8v0.8h-0.8zM140.94 70.92h0.8v0.8h-0.8zM150.07 43.99h0.8v0.8h-0.8zM165.95 72.84h0.8v0.8h-0.8zM190.17 70.22h0.8v0.8h-0.8zM174.85 21.36h0.8v0.8h-0.8zM141.95 50.68h0.8v0.8h-0.8zM194.72 62.75h0.8v0.8h-0.8zM142.27 39.43h0.8v0.8h-0.8zM193.22 48.99h0.8v0.8h-0.8zM187.13 71.05h0.8v0.8h-0.8zM181.27 56.5h0.8v0.8h-0.8zM173.61 38.55h0.8v0.8h-0.8zM137.56 76.76h0.8v0.8h-0.8zM131.76 34.07h0.8v0.8h-0.8zM170.18 77.79h0.8v0.8h-0.8zM143.49 32.56h0.8v0.8h-0.8zM185.65 37.61h0.8v0.8h-0.8zM156.24 39.66h0.8v0.8h-0.8zM132.87 76.33h0.8v0.8h-0.8zM175.72 17.43h0.8v0.8h-0.8zM136.02 25.53h0.8v0.8h-0.8zM153.98 73.09h0.8v0.8h-0.8zM138.91 31.37h0.8v0.8h-0.8zM150.19 49.17h0.8v0.8h-0.8zM189.16 50.99h0.8v0.8h-0.8zM189.32 51.14h0.8v0.8h-0.8zM158.16 71.9h0.8v0.8h-0.8zM167.99 46.92h0.8v0.8h-0.8zM163.47 39.4h0.8v0.8h-0.8zM158.23 21.67h0.8v0.8h-0.8zM143.16 65.07h0.8v0.8h-0.8zM138.43 30.12h0.8v0.8h-0.8zM140.41 39.86h0.8v0.8h-0.8zM132.86 39.7h0.8v0.8h-0.8zM169.9 59.71h0.8v0.8h-0.8zM186.93 22.49h0.8v0.8h-0.8zM172.16 29.37h0.8v0.8h-0.8zM152.23 53.23h0.8v0.8h-0.8zM184.99 59.25h0.8v0.8h-0.8zM194.73 18.13h0.8v0.8h-0.8zM150.49 47.26h0.8v0.8h-0.8zM131.99 20.3h0.8v0.8h-0.8zM153.84 52.23h0.8v0.8h-0.8zM138.56 21.3h0.8v0.8h-0.8zM150.68 63.72h0.8v0.8h-0.8zM167.09 79.8h0.8v0.8h-0.8zM169.6 73.09h0.8v0.8h-0.8zM167.47 47.3h0.8v0.8h-0.8zM157.07 21.5h0.8v0.8h-0.8zM133.76 58.48h0.8v0.8h-0.8zM186.39 18.2h0.8v0.8h-0.8zM141.51 37.63h0.8v0.8h-0.8zM150.29 69.55h0.8v0.8h-0.8zM146.28 36.29h0.8v0.8h-0.8zM161.83 76.9h0.8v0.8h-0.8zM149.07 56.92h0.8v0.8h-0.8zM132.81 44.18h0.8v0.8h-0.8zM190.89 30.7h0.8v0.8h-0.8zM153.16 58.21h0.8v0.8h-0.8zM166.98 53.29h0.8v0.8h-0.8zM169.83 59.55h0.8v0.8h-0.8zM150.93 39.16h0.8v0.8h-0.8zM155.84 49.91h0.8v0.8h-0.8zM167.08 72.06h0.8v0.8h-0.8zM155.76 45.3h0.8v0.8h-0.8zM184.64 78.18h0.8v0.8h-0.8zM145.66 63.02h0.8v0.8h-0.8zM145.97 63.69h0.8v0.8h-0.8zM132.15 48.95h0.8v0.8h-0.8zM167.28 61.07h0.8v0.8h-0.8zM190.22 67.09h0.8v0.8h-0.8zM166.82 48.32h0.8v0.8h-0.8zM130.47 51.82h0.8v0.8h-0.8zM166.76 63.75h0.8v0.8h-0.8zM140.53 54.09h0.8v0.8h-0.8zM133.01 62.73h0.8v0.8h-0.8zM183.91 44.58h0.8v0.8h-0.8zM175.06 58.73h0.8v0.8h-0.8zM149.67 22.56h0.8v0.8h-0.8zM179.7 39.5h0.8v0.8h-0.8zM140.27 44.86h0.8v0.8h-0.8zM184.66 77.11h0.8v0.8h-0.8zM167.1 78.1h0.8v0.8h-0.8zM141.06 47.9h0.8v0.8h-0.8zM130.15 31.74h0.8v0.8h-0.8zM187.54 20.74h0.8v0.8h-0.8zM172.86 49.1h0.8v0.8h-0.8zM194.88 79.6h0.8v0.8h-0.8zM137.75 33.51h0.8v0.8h-0.8zM195.13 37.79h0.8v0.8h-0.8zM141.53 74.44h0.8v0.8h-0.8zM170.4 36.41h0.8v0.8h-0.8zM166.24 43.93h0.8v0.8h-0.8zM159.87 51.78h0.8v0.8h-0.8zM140.82 55.78h0.8v0.8h-0.8zM192.74 54.3h0.8v0.8h-0.8zM181.65 34.8h0.8v0.8h-0.8zM139.82 17.41h0.8v0.8h-0.8zM194.47 24.5h0.8v0.8h-0.8zM154.72 58.25h0.8v0.8h-0.8zM178.16 55.94h0.8v0.8h-0.8zM158.66 68.34h0.8v0.8h-0.8zM158.84 69.62h0.8v0.8h-0.8zM133.17 62.49h0.8v0.8h-0.8zM136.03 41.42h0.8v0.8h-0.8zM158.91 28.47h0.8v0.8h-0.8zM159.28 70.73h0.8v0.8h-0.8zM132.01 29.22h0.8v0.8h-0.8zM194.09 45.35h0.8v0.8h-0.8zM155.36 74.5h0.8v0.8h-0.8zM180.89 27.93h0.8v0.8h-0.8zM169.12 28.37h0.8v0.8h-0.8zM180.88 52.06h0.8v0.8h-0.8zM182.39 21.09h0.8v0.8h-0.8zM190.94 31.48h0.8v0.8h-0.8zM185.77 44.82h0.8v0.8h-0.8zM188.35 23.4h0.8v0.8h-0.8zM133.16 46.5h0.8v0.8h-0.8zM191.1 46.31h0.8v0.8h-0.8zM163.14 27.34h0.8v0.8h-0.8zM165.36 43.91h0.8v0.8h-0.8zM188.29 63.68h0.8v0.8h-0.8zM161.18 26.38h0.8v0.8h-0.8zM139.25 78.19h0.8v0.8h-0.8zM169.99 31.17h0.8v0.8h-0.8zM183.21 30.62h0.8v0.8h-0.8zM159.61 72.26h0.8v0.8h-0.8zM136.43 23.49h0.8v0.8h-0.8zM133.08 26.56h0.8v0.8h-0.8zM154.36 37.26h0.8v0.8h-0.8zM148.12 17.89h0.8v0.8h-0.8zM161.8 45.06h0.8v0.8h-0.8zM178.57 36.1h0.8v0.8h-0.8zM168.02 36.73h0.8v0.8h-0.8zM179.37 27.97h0.8v0.8h-0.8zM161.95 45.08h0.8v0.8h-0.8zM159.92 50.9h0.8v0.8h-0.8zM165.04 36.93h0.8v0.8h-0.8zM184.07 76.94h0.8v0.8h-0.8zM166.55 57.04h0.8v0.8h-0.8zM177.43 37.15h0.8v0.8h-0.8zM168.75 46.14h0.8v0.8h-0.8zM161.62 41.83h0.8v0.8h-0.8zM165.05 30.74h0.8v0.8h-0.8zM145.53 29.61h0.8v0.8h-0.8zM168.9 32.46h0.8v0.8h-0.8zM181.2 74.03h0.8v0.8h-0.8zM179.82 37.68h0.8v0.8h-0.8zM191.91 38.69h0.8v0.8h-0.8zM153.5 54.5h0.8v0.8h-0.8zM173.27 42.76h0.8v0.8h-0.8zM181.6 70.77h0.8v0.8h-0.8zM148.68 31.15h0.8v0.8h-0.8zM155.87 61.01h0.8v0.8h-0.8zM173.88 28.06h0.8v0.8h-0.8zM155.29 73.82h0.8v0.8h-0.8zM193.05 55.07h0.8v0.8h-0.8zM181.17 69.91h0.8v0.8h-0.8zM144.29 21.15h0.8v0.8h-0.8zM170.01 41.24h0.8v0.8h-0.8zM176.58 35.5h0.8v0.8h-0.8zM158.28 67.92h0.8v0.8h-0.8zM135.76 42.69h0.8v0.8h-0.8zM139.73 50.62h0.8v0.8h-0.8zM178.04 79.19h0.8v0.8h-0.8zM179.4 26.09h0.8v0.8h-0.8zM158.49 51.16h0.8v0.8h-0.8zM171.76 61.15h0.8v0.8h-0.8zM193.94 76.36h0.8v0.8h-0.8zM143.39 26.98h0.8v0.8h-0.8zM193.72 27.11h0.8v0.8h-0.8zM193.6 24.55h0.8v0.8h-0.8zM168.27 25.18h0.8v0.8h-0.8zM138.44 38.03h0.8v0.8h-0.8zM182.07 61.24h0.8v0.8h-0.8zM150.57 25.64h0.8v0.8h-0.8zM153.31 27.97h0.8v0.8h-0.8zM145.13 48.31h0.8v0.8h-0.8zM161.9 75.12h0.8v0.8h-0.8zM135.53 50.57h0.8v0.8h-0.8zM166.93 25.99h0.8v0.8h-0.8zM153.43 25.69h0.8v0.8h-0.8zM188.67 38.96h0.8v0.8h-0.8zM133.89 46.94h0.8v0.8h-0.8zM164.57 72.9h0.8v0.8h-0.8zM177.13 29.99h0.8v0.8h-0.8zM189.64 17.32h0.8v0.8h-0.8zM175.68 19.66h0.8v0.8h-0.8zM183.78 28.93h0.8v0.8h-0.8zM182.3 68.25h0.8v0.8h-0.8zM180.6 23.94h0.8v0.8h-0.8zM156.06 23.6h0.8v0.8h-0.8zM177.1 79.63h0.8v0.8h-0.8zM164.15 58.07h0.8v0.8h-0.8zM173.69 25.99h0.8v0.8h-0.8zM154.15 38.98h0.8v0.8h-0.8zM179.22 42.92h0.8v0.8h-0.8zM153.93 51.59h0.8v0.8h-0.8zM143.21 21.11h0.8v0.8h-0.8zM145.33 18.31h0.8v0.8h-0.8zM173.85 45.78h0.8v0.8h-0.8zM170.36 52.77h0.8v0.8h-0.8zM133.18 68.35h0.8v0.8h-0.8zM183.73 17.48h0.8v0.8h-0.8zM158.04 66.5h0.8v0.8h-0.8zM157.06 71.17h0.8v0.8h-0.8zM175.55 58.62h0.8v0.8h-0.8zM189.47 66.07h0.8v0.8h-0.8zM168.27 19.98h0.8v0.8h-0.8zM159.64 60.39h0.8v0.8h-0.8zM164.18 53.84h0.8v0.8h-0.8zM152.69 70h0.8v0.8h-0.8zM145.82 57.29h0.8v0.8h-0.8zM158.47 26.37h0.8v0.8h-0.8zM130.86 25.18h0.8v0.8h-0.8zM148.65 46.76h0.8v0.8h-0.8zM131.37 21.23h0.8v0.8h-0.8zM182.24 78.75h0.8v0.8h-0.8zM158.09 46.6h0.8v0.8h-0.8zM169.44 23.1h0.8v0.8h-0.8zM165.21 59.46h0.8v0.8h-0.8zM192.02 57.52h0.8v0.8h-0.8zM165.62 42.84h0.8v0.8h-0.8zM189.87 49.97h0.8v0.8h-0.8zM161.17 63.23h0.8v0.8h-0.8zM158.54 21.24h0.8v0.8h-0.8zM168.72 71.56h0.8v0.8h-0.8zM154.01 23.06h0.8v0.8h-0.8zM136.59 74.1h0.8v0.8h-0.8zM136.94 58.21h0.8v0.8h-0.8zM135.38 49.28h0.8v0.8h-0.8zM189.83 31.77h0.8v0.8h-0.8zM149.92 55.52h0.8v0.8h-0.8zM167.51 52.31h0.8v0.8h-0.8zM155.51 19.58h0.8v0.8h-0.8zM168.95 34.44h0.8v0.8h-0.8zM170.61 44.59h0.8v0.8h-0.8zM147.36 79.73h0.8v0.8h-0.8zM150.86 78.18h0.8v0.8h-0.8zM161.18 50.64h0.8v0.8h-0.8zM147.37 27.95h0.8v0.8h-0.8zM176.28 45.7h0.8v0.8h-0.8zM168.28 28.5h0.8v0.8h-0.8zM163.31 58.5h0.8v0.8h-0.8zM179.82 58.99h0.8v0.8h-0.8zM156.95 60.17h0.8v0.8h-0.8zM169.05 47.08h0.8v0.8h-0.8zM171.26 36.3h0.8v0.8h-0.8zM133.78 26.31h0.8v0.8h-0.8zM193.9 73.24h0.8v0.8h-0.8zM184.27 33.33h0.8v0.8h-0.8zM185.05 66.74h0.8v0.8h-0.8zM165.37 36.09h0.8v0.8h-0.8zM136.66 79.86h0.8v0.8h-0.8zM195.62 70.61h0.8v0.8h-0.8zM159.06 62.97h0.8v0.8h-0.8zM189.78 51.15h0.8v0.8h-0.8zM137.87 78.5h0.8v0.8h-0.8zM165.14 65.49h0.8v0.8h-0.8zM170.75 21.08h0.8v0.8h-0.8zM160.14 17.75h0.8v0.8h-0.8zM147.18 77.58h0.8v0.8h-0.8zM175.31 52.64h0.8v0.8h-0.8zM137.01 60.17h0.8v0.8h-0.8zM169.62 57.16h0.8v0.8h-0.8zM175.1 75.46h0.8v0.8h-0.8zM159.17 55.49h0.8v0.8h-0.8zM164.62 54.11h0.8v0.8h-0.8zM174.5 28.84h0.8v0.8h-0.8zM133.27 24.33h0.8v0.8h-0.8zM132.42 51.97h0.8v0.8h-0.8zM149.77 66.43h0.8v0.8h-0.8zM140.3 26.46h0.8v0.8h-0.8zM186.82 22.65h0.8v0.8h-0.8zM152.93 60.47h0.8v0.8h-0.8zM166.8 33.81h0.8v0.8h-0.8zM138.5 53.4h0.8v0.8h-0.8zM146 70.93h0.8v0.8h-0.8zM147.11 75.79h0.8v0.8h-0.8zM131.04 55.49h0.8v0.8h-0.8zM148.26 46.9h0.8v0.8h-0.8zM158.45 67.97h0.8v0.8h-0.8zM141.85 65.37h0.8v0.8h-0.8zM131.85 57.11h0.8v0.8h-0.8zM184.04 44.05h0.8v0.8h-0.8zM185.72 39.35h0.8v0.8h-0.8zM153.06 74.38h0.8v0.8h-0.8zM195.07 66.72h0.8v0.8h-0.8zM144.77 76.37h0.8v0.8h-0.8zM153.76 71.66h0.8v0.8h-0.8zM150.88 30.71h0.8v0.8h-0.8zM146.63 60.53h0.8v0.8h-0.8zM194.35 49.82h0.8v0.8h-0.8zM136.69 60.14h0.8v0.8h-0.8zM188.99 66.24h0.8v0.8h-0.8zM129.72 36.67h0.8v0.8h-0.8zM180.93 61.18h0.8v0.8h-0.8zM195.44 73.59h0.8v0.8h-0.8zM182.36 60.44h0.8v0.8h-0.8zM154.75 19.21h0.8v0.8h-0.8zM180.38 45.79h0.8v0.8h-0.8zM186.78 25.3h0.8v0.8h-0.8zM186.26 57.66h0.8v0.8h-0.8zM188.17 61.18h0.8v0.8h-0.8zM158.43 49.51h0.8v0.8h-0.8zM136.1 32.28h0.8v0.8h-0.8zM167.6 28.2h0.8v0.8h-0.8zM153.3 57.52h0.8v0.8h-0.8zM168.91 73.31h0.8v0.8h-0.8z" fill="#8a8a8a" fill-opacity="0.5"/>
<ellipse cx="159.7" cy="52" rx="20" ry="19" fill="url(#g2)"/>
<path d="M149.84 56.14h0.9v0.9h-0.9zM147.13 58.33h0.9v0.9h-0.9zM145.27 38.3h0.9v0.9h-0.9zM162.49 55.24h0.9v0.9h-0.9zM156.6 62.68h0.9v0.9h-0.9zM156.02 47.9h0.9v0.9h-0.9zM158.17 62.67h0.9v0.9h-0.9zM158.26 67h0.9v0.9h-0.9zM171.34 60.68h0.9v0.9h-0.9zM167.4 62.38h0.9v0.9h-0.9zM163.78 33.22h0.9v0.9h-0.9zM161.25 50.97h0.9v0.9h-0.9zM149.8 37.1h0.9v0.9h-0.9zM160.89 43.27h0.9v0.9h-0.9zM159.71 45.46h0.9v0.9h-0.9zM162.54 44.28h0.9v0.9h-0.9zM161.69 51.65h0.9v0.9h-0.9zM155.81 49.9h0.9v0.9h-0.9zM161.98 30.87h0.9v0.9h-0.9zM143.41 52.77h0.9v0.9h-0.9zM159.92 53.9h0.9v0.9h-0.9zM162.57 44.23h0.9v0.9h-0.9zM170.67 58.02h0.9v0.9h-0.9zM162.59 50.05h0.9v0.9h-0.9zM153.67 47.26h0.9v0.9h-0.9zM162.9 52.82h0.9v0.9h-0.9zM166.68 53.92h0.9v0.9h-0.9zM155.95 61.28h0.9v0.9h-0.9zM147.67 41.27h0.9v0.9h-0.9zM162.92 48.15h0.9v0.9h-0.9zM147.61 40.24h0.9v0.9h-0.9zM159.71 62.87h0.9v0.9h-0.9zM171.73 51.16h0.9v0.9h-0.9zM157.5 45.42h0.9v0.9h-0.9zM175.72 51.29h0.9v0.9h-0.9zM156.52 58.08h0.9v0.9h-0.9zM169.43 52.28h0.9v0.9h-0.9zM170.13 41.98h0.9v0.9h-0.9zM163.49 56.76h0.9v0.9h-0.9zM163.19 57.26h0.9v0.9h-0.9zM161.2 56.59h0.9v0.9h-0.9zM141.9 46.18h0.9v0.9h-0.9zM166.94 43.17h0.9v0.9h-0.9zM152.19 68h0.9v0.9h-0.9zM160.28 54.18h0.9v0.9h-0.9zM162.88 65.81h0.9v0.9h-0.9zM157.46 45.43h0.9v0.9h-0.9zM161.98 63.19h0.9v0.9h-0.9zM144.63 50.97h0.9v0.9h-0.9zM156.36 53.11h0.9v0.9h-0.9zM165.27 54.48h0.9v0.9h-0.9zM146.38 50.13h0.9v0.9h-0.9zM158.58 51.61h0.9v0.9h-0.9zM168.7 49.42h0.9v0.9h-0.9zM154.32 50.69h0.9v0.9h-0.9zM159.95 57.55h0.9v0.9h-0.9zM145.11 41.15h0.9v0.9h-0.9zM159 59.39h0.9v0.9h-0.9zM159.22 53.89h0.9v0.9h-0.9zM174.48 52.92h0.9v0.9h-0.9zM162.18 51.67h0.9v0.9h-0.9zM167.96 56.08h0.9v0.9h-0.9zM157.56 57.67h0.9v0.9h-0.9zM163.51 48.17h0.9v0.9h-0.9zM166 68.36h0.9v0.9h-0.9zM150.45 43.49h0.9v0.9h-0.9zM158.75 50.41h0.9v0.9h-0.9zM161.73 51.73h0.9v0.9h-0.9zM161.07 60.99h0.9v0.9h-0.9zM170.56 35.34h0.9v0.9h-0.9zM164.33 52.24h0.9v0.9h-0.9zM164.29 52.44h0.9v0.9h-0.9zM162.76 50.26h0.9v0.9h-0.9zM154.27 50.72h0.9v0.9h-0.9zM166.58 52.32h0.9v0.9h-0.9zM159.1 61.99h0.9v0.9h-0.9zM167.03 44.99h0.9v0.9h-0.9zM152.98 50.66h0.9v0.9h-0.9zM163.84 60.27h0.9v0.9h-0.9zM145.31 62.65h0.9v0.9h-0.9zM160.2 53.76h0.9v0.9h-0.9zM166.74 54.23h0.9v0.9h-0.9zM161.36 59.89h0.9v0.9h-0.9zM169.72 43.18h0.9v0.9h-0.9zM146.33 43.63h0.9v0.9h-0.9zM161.96 49.98h0.9v0.9h-0.9zM158.02 48.07h0.9v0.9h-0.9zM152.55 56.23h0.9v0.9h-0.9zM159.35 54.39h0.9v0.9h-0.9zM164.26 63.76h0.9v0.9h-0.9zM177.67 47.35h0.9v0.9h-0.9zM170.62 53.49h0.9v0.9h-0.9zM163.45 61.04h0.9v0.9h-0.9zM154.75 51h0.9v0.9h-0.9zM167.98 56.8h0.9v0.9h-0.9zM175.12 56.98h0.9v0.9h-0.9zM160.83 51.11h0.9v0.9h-0.9zM164.8 37.49h0.9v0.9h-0.9zM170.66 54.63h0.9v0.9h-0.9zM154.49 52.78h0.9v0.9h-0.9zM164.3 42.61h0.9v0.9h-0.9zM167.29 34.71h0.9v0.9h-0.9zM172.01 49.78h0.9v0.9h-0.9zM161.85 49.92h0.9v0.9h-0.9zM154.64 59.73h0.9v0.9h-0.9zM151.59 51.41h0.9v0.9h-0.9zM164.29 42.35h0.9v0.9h-0.9zM164.95 44.89h0.9v0.9h-0.9zM167.14 49.32h0.9v0.9h-0.9zM170.68 51.56h0.9v0.9h-0.9zM151.22 59.77h0.9v0.9h-0.9zM169.87 59.55h0.9v0.9h-0.9zM147.25 43.51h0.9v0.9h-0.9zM167.58 55.82h0.9v0.9h-0.9zM157.12 50.54h0.9v0.9h-0.9zM161.15 34.87h0.9v0.9h-0.9zM149.53 42.34h0.9v0.9h-0.9zM168.5 48.99h0.9v0.9h-0.9zM141.96 50.75h0.9v0.9h-0.9zM156.66 46.23h0.9v0.9h-0.9zM147.41 44.72h0.9v0.9h-0.9zM162.2 48.5h0.9v0.9h-0.9zM166.15 62.58h0.9v0.9h-0.9zM156.78 39.36h0.9v0.9h-0.9zM151.36 52.53h0.9v0.9h-0.9zM166.02 50.49h0.9v0.9h-0.9zM159.26 53.75h0.9v0.9h-0.9zM169.97 57.67h0.9v0.9h-0.9zM156.58 47.2h0.9v0.9h-0.9zM159.38 47.12h0.9v0.9h-0.9zM151.31 60.2h0.9v0.9h-0.9zM161.3 43.34h0.9v0.9h-0.9zM163.14 43.56h0.9v0.9h-0.9zM151.41 39.01h0.9v0.9h-0.9zM149.61 48.05h0.9v0.9h-0.9zM161.74 51.14h0.9v0.9h-0.9zM162 52.26h0.9v0.9h-0.9zM155.76 61.22h0.9v0.9h-0.9zM150.21 43.84h0.9v0.9h-0.9zM176.9 53.74h0.9v0.9h-0.9zM161.44 72.87h0.9v0.9h-0.9zM150.41 64.73h0.9v0.9h-0.9zM159.27 50.32h0.9v0.9h-0.9zM151.22 51.39h0.9v0.9h-0.9zM165.87 51.76h0.9v0.9h-0.9zM155.54 55.03h0.9v0.9h-0.9zM170.26 52.29h0.9v0.9h-0.9zM156.01 48.74h0.9v0.9h-0.9zM162.85 47.17h0.9v0.9h-0.9zM171.44 47.41h0.9v0.9h-0.9zM168.68 50.46h0.9v0.9h-0.9zM165.81 42.73h0.9v0.9h-0.9zM157.79 43.97h0.9v0.9h-0.9zM152.95 51.54h0.9v0.9h-0.9zM149.63 67.58h0.9v0.9h-0.9zM173.85 59.14h0.9v0.9h-0.9zM159.7 47.24h0.9v0.9h-0.9zM145.07 58.42h0.9v0.9h-0.9zM149.59 51.47h0.9v0.9h-0.9zM154.48 51.88h0.9v0.9h-0.9zM173.8 51.23h0.9v0.9h-0.9zM157.96 59.21h0.9v0.9h-0.9zM155.18 36.41h0.9v0.9h-0.9zM153.08 49.91h0.9v0.9h-0.9zM152.96 59.78h0.9v0.9h-0.9zM169.72 43.82h0.9v0.9h-0.9zM159.96 53.59h0.9v0.9h-0.9zM156.05 46.77h0.9v0.9h-0.9zM163.29 48.69h0.9v0.9h-0.9zM174.96 51.67h0.9v0.9h-0.9zM159.68 53.42h0.9v0.9h-0.9zM161.47 48.5h0.9v0.9h-0.9zM164.53 58.43h0.9v0.9h-0.9zM161.47 55.16h0.9v0.9h-0.9zM147.89 48.45h0.9v0.9h-0.9zM160.35 49.3h0.9v0.9h-0.9zM168.82 54.87h0.9v0.9h-0.9zM159.4 46.55h0.9v0.9h-0.9zM156.3 49.81h0.9v0.9h-0.9zM173.6 42.33h0.9v0.9h-0.9zM167.47 48.91h0.9v0.9h-0.9zM173.31 59.32h0.9v0.9h-0.9zM152.35 54.67h0.9v0.9h-0.9zM147.71 57.54h0.9v0.9h-0.9zM158.45 43.52h0.9v0.9h-0.9zM159.2 56.55h0.9v0.9h-0.9zM180.27 58.67h0.9v0.9h-0.9zM162.81 51.39h0.9v0.9h-0.9zM140.63 40.13h0.9v0.9h-0.9zM139.64 42.24h0.9v0.9h-0.9zM167.98 62.09h0.9v0.9h-0.9zM161.98 48.68h0.9v0.9h-0.9zM165.52 70.58h0.9v0.9h-0.9zM160.94 63.01h0.9v0.9h-0.9zM171.09 45.36h0.9v0.9h-0.9zM160.73 45.33h0.9v0.9h-0.9zM162.42 48.46h0.9v0.9h-0.9zM151.73 57.45h0.9v0.9h-0.9zM159.06 49.98h0.9v0.9h-0.9zM166.95 55.49h0.9v0.9h-0.9zM170.11 66.55h0.9v0.9h-0.9zM149.06 55.7h0.9v0.9h-0.9zM144.65 59.09h0.9v0.9h-0.9zM175.99 44.26h0.9v0.9h-0.9zM169.89 57.36h0.9v0.9h-0.9zM162.9 34.38h0.9v0.9h-0.9zM150.71 48.89h0.9v0.9h-0.9zM160.19 52.92h0.9v0.9h-0.9zM166.49 52.97h0.9v0.9h-0.9zM158.1 44.02h0.9v0.9h-0.9zM153.17 50.34h0.9v0.9h-0.9zM178.55 49h0.9v0.9h-0.9zM158.96 59.85h0.9v0.9h-0.9zM166.42 56.93h0.9v0.9h-0.9zM160.44 64.87h0.9v0.9h-0.9zM154.73 63.24h0.9v0.9h-0.9zM172.83 54.08h0.9v0.9h-0.9zM155.12 46.97h0.9v0.9h-0.9zM161.94 36.15h0.9v0.9h-0.9zM170.56 45.13h0.9v0.9h-0.9zM149.24 55.96h0.9v0.9h-0.9zM160.26 45.05h0.9v0.9h-0.9zM170.81 42.59h0.9v0.9h-0.9zM154.79 39.32h0.9v0.9h-0.9zM174.47 56.63h0.9v0.9h-0.9zM147.48 56.01h0.9v0.9h-0.9zM154.49 45.18h0.9v0.9h-0.9zM158.2 36.26h0.9v0.9h-0.9zM161.3 51.95h0.9v0.9h-0.9zM172.33 44.96h0.9v0.9h-0.9zM147.82 44.33h0.9v0.9h-0.9zM154.69 58.64h0.9v0.9h-0.9zM178.59 56.64h0.9v0.9h-0.9zM163.31 42.97h0.9v0.9h-0.9zM147.66 42.31h0.9v0.9h-0.9zM165.25 60.99h0.9v0.9h-0.9zM157.81 41.57h0.9v0.9h-0.9zM166.17 51.1h0.9v0.9h-0.9zM153.36 39.44h0.9v0.9h-0.9zM144.09 64.03h0.9v0.9h-0.9zM155.63 54.36h0.9v0.9h-0.9zM163.77 59.02h0.9v0.9h-0.9zM178.51 50.55h0.9v0.9h-0.9zM169.83 45.04h0.9v0.9h-0.9zM147.51 51.76h0.9v0.9h-0.9zM143 39.78h0.9v0.9h-0.9zM153.07 56.97h0.9v0.9h-0.9zM157.7 37.69h0.9v0.9h-0.9zM159.36 47.29h0.9v0.9h-0.9zM155.21 47.29h0.9v0.9h-0.9zM158.71 58.07h0.9v0.9h-0.9zM163.98 52.22h0.9v0.9h-0.9zM152.55 39.42h0.9v0.9h-0.9zM175.81 64.05h0.9v0.9h-0.9zM145.19 54.98h0.9v0.9h-0.9zM163.05 52.84h0.9v0.9h-0.9zM161.21 48.69h0.9v0.9h-0.9zM171.8 54.73h0.9v0.9h-0.9zM168.17 54.25h0.9v0.9h-0.9zM161.36 48.39h0.9v0.9h-0.9zM169.96 37.33h0.9v0.9h-0.9zM171.29 50.28h0.9v0.9h-0.9zM161.87 47.75h0.9v0.9h-0.9zM144.2 44.67h0.9v0.9h-0.9zM163.16 48.33h0.9v0.9h-0.9zM163.77 44.91h0.9v0.9h-0.9zM144.56 50.88h0.9v0.9h-0.9zM155.99 45.81h0.9v0.9h-0.9zM171.83 37.46h0.9v0.9h-0.9zM160.68 49.61h0.9v0.9h-0.9zM170.78 53h0.9v0.9h-0.9zM162.64 54h0.9v0.9h-0.9zM161.53 50.19h0.9v0.9h-0.9zM158.29 58.69h0.9v0.9h-0.9zM178.46 44.03h0.9v0.9h-0.9zM161.73 43.35h0.9v0.9h-0.9zM175.92 65.85h0.9v0.9h-0.9zM161.72 63.29h0.9v0.9h-0.9zM161.51 42.6h0.9v0.9h-0.9zM174.82 39.54h0.9v0.9h-0.9zM150.8 61.38h0.9v0.9h-0.9zM167.18 56.75h0.9v0.9h-0.9zM156.5 46.34h0.9v0.9h-0.9zM149.67 61.66h0.9v0.9h-0.9zM164.36 69.55h0.9v0.9h-0.9zM163.52 56.4h0.9v0.9h-0.9zM155.07 48.19h0.9v0.9h-0.9zM163.99 45.63h0.9v0.9h-0.9zM168.51 60.53h0.9v0.9h-0.9zM149.03 56.93h0.9v0.9h-0.9zM161.84 53.71h0.9v0.9h-0.9zM156.83 61.24h0.9v0.9h-0.9zM161.53 57.19h0.9v0.9h-0.9zM162.96 46.9h0.9v0.9h-0.9zM149.85 65.28h0.9v0.9h-0.9zM174.32 51.82h0.9v0.9h-0.9zM168.88 62.51h0.9v0.9h-0.9zM172.54 59.72h0.9v0.9h-0.9zM158.73 57.55h0.9v0.9h-0.9zM155.49 53.98h0.9v0.9h-0.9zM151.81 39.09h0.9v0.9h-0.9zM152.08 39.63h0.9v0.9h-0.9zM163.29 57.42h0.9v0.9h-0.9zM163.64 45.93h0.9v0.9h-0.9zM159.49 41.65h0.9v0.9h-0.9zM163.25 56.56h0.9v0.9h-0.9zM175.93 44.01h0.9v0.9h-0.9zM158.44 51.19h0.9v0.9h-0.9zM179.62 53.98h0.9v0.9h-0.9zM163.66 40.2h0.9v0.9h-0.9zM158.58 69.47h0.9v0.9h-0.9zM171.33 57.41h0.9v0.9h-0.9zM156.6 44.88h0.9v0.9h-0.9zM161.82 47.21h0.9v0.9h-0.9zM178.9 47.63h0.9v0.9h-0.9zM155.66 58.07h0.9v0.9h-0.9zM161.87 44.96h0.9v0.9h-0.9zM148.64 45.52h0.9v0.9h-0.9zM173.1 47.48h0.9v0.9h-0.9zM158.42 59.37h0.9v0.9h-0.9zM173.38 58.56h0.9v0.9h-0.9zM163.08 47.29h0.9v0.9h-0.9zM151.99 53.29h0.9v0.9h-0.9zM159.28 53.91h0.9v0.9h-0.9zM142.44 41h0.9v0.9h-0.9zM166.48 63.79h0.9v0.9h-0.9zM161.22 42.2h0.9v0.9h-0.9zM164.85 45.15h0.9v0.9h-0.9zM157.39 49.93h0.9v0.9h-0.9zM166.19 60.71h0.9v0.9h-0.9zM164.98 44.41h0.9v0.9h-0.9zM168.77 48.22h0.9v0.9h-0.9zM147.14 59.49h0.9v0.9h-0.9zM175.75 43.77h0.9v0.9h-0.9zM156.52 47.31h0.9v0.9h-0.9zM155.78 61.53h0.9v0.9h-0.9zM166.68 53.52h0.9v0.9h-0.9zM161.23 46.09h0.9v0.9h-0.9zM155.38 46.54h0.9v0.9h-0.9zM164.82 57.36h0.9v0.9h-0.9zM156.73 57.82h0.9v0.9h-0.9zM152.63 68.64h0.9v0.9h-0.9zM150.81 47.75h0.9v0.9h-0.9zM159.07 58.59h0.9v0.9h-0.9zM162.04 45.13h0.9v0.9h-0.9zM164.69 58.38h0.9v0.9h-0.9zM150.34 35.14h0.9v0.9h-0.9zM164.65 43.89h0.9v0.9h-0.9zM168.38 66.54h0.9v0.9h-0.9zM170.59 54.6h0.9v0.9h-0.9zM167 50.76h0.9v0.9h-0.9zM152.52 51.02h0.9v0.9h-0.9zM156.18 53.94h0.9v0.9h-0.9zM149.93 43.62h0.9v0.9h-0.9zM160.55 52.84h0.9v0.9h-0.9zM160.13 59.47h0.9v0.9h-0.9zM147.4 57.05h0.9v0.9h-0.9zM157.53 51.74h0.9v0.9h-0.9zM168.84 53.03h0.9v0.9h-0.9zM167.27 64.67h0.9v0.9h-0.9zM159.31 37.56h0.9v0.9h-0.9zM155.37 48.33h0.9v0.9h-0.9zM161.54 45.62h0.9v0.9h-0.9zM160.92 53.94h0.9v0.9h-0.9zM143.36 64.66h0.9v0.9h-0.9zM154.68 41.24h0.9v0.9h-0.9zM153.07 57.86h0.9v0.9h-0.9zM186.2 36.09h0.9v0.9h-0.9zM154.02 61.22h0.9v0.9h-0.9zM153.99 52.44h0.9v0.9h-0.9zM156.04 51.75h0.9v0.9h-0.9zM162.18 44.19h0.9v0.9h-0.9zM151.33 40.52h0.9v0.9h-0.9zM161.59 71.35h0.9v0.9h-0.9zM169.46 51.24h0.9v0.9h-0.9zM170.61 57.01h0.9v0.9h-0.9zM157.11 46.94h0.9v0.9h-0.9zM160.91 45.59h0.9v0.9h-0.9zM159.47 55.37h0.9v0.9h-0.9zM149.23 42.86h0.9v0.9h-0.9zM157.21 45.58h0.9v0.9h-0.9zM158.87 54.55h0.9v0.9h-0.9zM162.64 57.47h0.9v0.9h-0.9zM160.34 54.27h0.9v0.9h-0.9zM158.73 52.67h0.9v0.9h-0.9zM159.07 51.99h0.9v0.9h-0.9zM156.88 54.44h0.9v0.9h-0.9zM166.6 62.52h0.9v0.9h-0.9zM172.99 58.14h0.9v0.9h-0.9zM154.55 41.63h0.9v0.9h-0.9zM146.35 49.54h0.9v0.9h-0.9zM161.31 60.03h0.9v0.9h-0.9zM160.48 52.08h0.9v0.9h-0.9zM149.54 57.6h0.9v0.9h-0.9zM175.56 48.71h0.9v0.9h-0.9zM177.62 57.88h0.9v0.9h-0.9zM152.72 57.04h0.9v0.9h-0.9zM161.71 54.95h0.9v0.9h-0.9zM149.52 54.98h0.9v0.9h-0.9zM167.22 42.53h0.9v0.9h-0.9zM163.79 62.06h0.9v0.9h-0.9zM162.46 46.56h0.9v0.9h-0.9zM157.97 57.96h0.9v0.9h-0.9zM164.42 51.21h0.9v0.9h-0.9zM154.28 46.39h0.9v0.9h-0.9zM158.12 42.69h0.9v0.9h-0.9zM162.97 67.55h0.9v0.9h-0.9zM157.96 51.61h0.9v0.9h-0.9zM160.71 56.77h0.9v0.9h-0.9zM157.48 56.29h0.9v0.9h-0.9zM152.58 43.33h0.9v0.9h-0.9zM154.7 56h0.9v0.9h-0.9zM154.25 46.17h0.9v0.9h-0.9zM161.61 36.12h0.9v0.9h-0.9zM155.88 33.42h0.9v0.9h-0.9zM154.44 66.81h0.9v0.9h-0.9zM145.77 60.83h0.9v0.9h-0.9zM154.53 47.58h0.9v0.9h-0.9zM156.53 67.49h0.9v0.9h-0.9zM154.83 52.48h0.9v0.9h-0.9z" fill="#555" fill-opacity="0.6"/>
<ellipse cx="137.7" cy="50.7" rx="4" ry="3.4" fill="#8a8a8a" fill-opacity="0.75"/>
<path d="M136.73 50.22h0.9v0.9h-0.9zM139.14 51.22h0.9v0.9h-0.9zM137.91 49.49h0.9v0.9h-0.9zM138.08 50.31h0.9v0.9h-0.9zM137.6 50.84h0.9v0.9h-0.9zM136.65 48.4h0.9v0.9h-0.9zM138.49 47.47h0.9v0.9h-0.9zM139.46 49.67h0.9v0.9h-0.9zM135.87 52.53h0.9v0.9h-0.9zM136.39 50.8h0.9v0.9h-0.9zM135.88 51.44h0.9v0.9h-0.9zM138.33 50.22h0.9v0.9h-0.9zM137.25 47.91h0.9v0.9h-0.9zM139.92 49.5h0.9v0.9h-0.9zM137.42 49.81h0.9v0.9h-0.9zM138.16 50.28h0.9v0.9h-0.9zM136.94 50.15h0.9v0.9h-0.9zM138.1 53.42h0.9v0.9h-0.9zM135.43 52.53h0.9v0.9h-0.9zM137.87 51.49h0.9v0.9h-0.9zM136.34 52.45h0.9v0.9h-0.9zM139.17 47.34h0.9v0.9h-0.9zM134.25 53.68h0.9v0.9h-0.9zM136.52 50.26h0.9v0.9h-0.9zM134.68 50.64h0.9v0.9h-0.9zM137.78 49.79h0.9v0.9h-0.9zM140.21 50.31h0.9v0.9h-0.9zM139.34 50.75h0.9v0.9h-0.9zM138.03 50.18h0.9v0.9h-0.9zM136.56 53.21h0.9v0.9h-0.9zM139.92 52.76h0.9v0.9h-0.9zM136.36 49.94h0.9v0.9h-0.9zM137.99 50.05h0.9v0.9h-0.9zM138.89 53.57h0.9v0.9h-0.9zM136.58 49.95h0.9v0.9h-0.9zM134.67 52.88h0.9v0.9h-0.9zM138.04 51.28h0.9v0.9h-0.9zM136.35 50.71h0.9v0.9h-0.9zM137.08 49.47h0.9v0.9h-0.9zM138.73 53h0.9v0.9h-0.9zM140.14 50.13h0.9v0.9h-0.9zM143.74 49.53h0.9v0.9h-0.9zM137.73 48.35h0.9v0.9h-0.9zM137.14 51.23h0.9v0.9h-0.9zM136.46 50.5h0.9v0.9h-0.9zM135.75 49.92h0.9v0.9h-0.9zM135.25 49.88h0.9v0.9h-0.9zM133.44 49.18h0.9v0.9h-0.9zM136.76 50.4h0.9v0.9h-0.9zM140.16 48.73h0.9v0.9h-0.9zM136.24 52.14h0.9v0.9h-0.9zM135.86 50.02h0.9v0.9h-0.9zM134.27 45.12h0.9v0.9h-0.9zM141.93 52h0.9v0.9h-0.9zM141.68 50.48h0.9v0.9h-0.9zM134.83 51.31h0.9v0.9h-0.9zM135.81 51.06h0.9v0.9h-0.9zM138.44 51.7h0.9v0.9h-0.9zM136.09 50.91h0.9v0.9h-0.9zM138.41 53.08h0.9v0.9h-0.9zM136.93 54.03h0.9v0.9h-0.9zM138.92 51.38h0.9v0.9h-0.9zM136.47 51.27h0.9v0.9h-0.9zM138.91 48.91h0.9v0.9h-0.9zM138.95 51.16h0.9v0.9h-0.9zM137.15 49.23h0.9v0.9h-0.9zM137.28 51.88h0.9v0.9h-0.9zM141.06 50.94h0.9v0.9h-0.9zM137.02 51.9h0.9v0.9h-0.9zM139.57 52.01h0.9v0.9h-0.9z" fill="#5a5a5a" fill-opacity="0.8"/>
<ellipse cx="176" cy="24.2" rx="3.5" ry="2.98" fill="#8a8a8a" fill-opacity="0.75"/>
<path d="M175.7 20.39h0.9v0.9h-0.9zM176.3 24.08h0.9v0.9h-0.9zM173.98 24.25h0.9v0.9h-0.9zM174.24 23.69h0.9v0.9h-0.9zM178.11 23.27h0.9v0.9h-0.9zM171.87 25.78h0.9v0.9h-0.9zM175.78 24.18h0.9v0.9h-0.9zM172.84 21.28h0.9v0.9h-0.9zM175.33 23.34h0.9v0.9h-0.9zM176.25 23.84h0.9v0.9h-0.9zM176.54 23.51h0.9v0.9h-0.9zM176.59 23.37h0.9v0.9h-0.9zM176.81 25.15h0.9v0.9h-0.9zM173.31 24.14h0.9v0.9h-0.9zM175.33 24.15h0.9v0.9h-0.9zM179.16 23.22h0.9v0.9h-0.9zM175.68 24.52h0.9v0.9h-0.9zM172.21 26.38h0.9v0.9h-0.9zM177.02 23.93h0.9v0.9h-0.9zM177.57 28.29h0.9v0.9h-0.9zM174.57 26.26h0.9v0.9h-0.9zM178.95 22.93h0.9v0.9h-0.9zM176.81 22.16h0.9v0.9h-0.9zM176.45 23.12h0.9v0.9h-0.9zM177 23.58h0.9v0.9h-0.9zM178.14 26.09h0.9v0.9h-0.9zM178.95 24.06h0.9v0.9h-0.9zM175.46 23.72h0.9v0.9h-0.9zM174.92 24.03h0.9v0.9h-0.9zM174.26 23.79h0.9v0.9h-0.9zM177.4 25.72h0.9v0.9h-0.9zM176.71 21.79h0.9v0.9h-0.9zM178.61 27.05h0.9v0.9h-0.9zM177.5 23.58h0.9v0.9h-0.9zM177.13 24.06h0.9v0.9h-0.9zM173.28 25.97h0.9v0.9h-0.9zM177.5 25.01h0.9v0.9h-0.9zM177.2 24.27h0.9v0.9h-0.9zM173.95 26.55h0.9v0.9h-0.9zM175.45 23.7h0.9v0.9h-0.9zM176.85 21.66h0.9v0.9h-0.9zM175.62 25.11h0.9v0.9h-0.9zM175.61 20.51h0.9v0.9h-0.9zM176.3 25.58h0.9v0.9h-0.9zM173.74 27.77h0.9v0.9h-0.9zM176.32 24.3h0.9v0.9h-0.9zM176.81 25.8h0.9v0.9h-0.9zM176.47 24.11h0.9v0.9h-0.9zM176.63 22.36h0.9v0.9h-0.9zM179.48 21.62h0.9v0.9h-0.9zM175.73 23.03h0.9v0.9h-0.9zM176.23 24.07h0.9v0.9h-0.9zM177.8 24.08h0.9v0.9h-0.9zM175.55 27.44h0.9v0.9h-0.9zM174.27 24.21h0.9v0.9h-0.9zM175.38 25.74h0.9v0.9h-0.9zM176.02 26.1h0.9v0.9h-0.9zM174.74 24.68h0.9v0.9h-0.9zM177 24.23h0.9v0.9h-0.9zM176.53 21.77h0.9v0.9h-0.9zM176.88 23.79h0.9v0.9h-0.9zM179.27 22.73h0.9v0.9h-0.9zM173.44 27.37h0.9v0.9h-0.9zM179.37 23.89h0.9v0.9h-0.9zM172.68 23.08h0.9v0.9h-0.9zM176.53 24.89h0.9v0.9h-0.9zM177.73 26.06h0.9v0.9h-0.9zM177.11 23.94h0.9v0.9h-0.9zM178.38 26.68h0.9v0.9h-0.9zM176.66 23.63h0.9v0.9h-0.9z" fill="#5a5a5a" fill-opacity="0.8"/>
<ellipse cx="183.2" cy="76" rx="5" ry="4.25" fill="#8a8a8a" fill-opacity="0.75"/>
<path d="M185.17 76.38h0.9v0.9h-0.9zM183.16 76.27h0.9v0.9h-0.9zM186.1 79.38h0.9v0.9h-0.9zM185.74 76.97h0.9v0.9h-0.9zM182.37 72.52h0.9v0.9h-0.9zM182.71 77.12h0.9v0.9h-0.9zM181.09 76.95h0.9v0.9h-0.9zM181.23 76.6h0.9v0.9h-0.9zM176.51 76.95h0.9v0.9h-0.9zM185 76.08h0.9v0.9h-0.9zM184.92 73.85h0.9v0.9h-0.9zM183.41 75.11h0.9v0.9h-0.9zM183.38 75.99h0.9v0.9h-0.9zM183.62 74.35h0.9v0.9h-0.9zM182.12 72.05h0.9v0.9h-0.9zM182.59 70.43h0.9v0.9h-0.9zM184.04 80.33h0.9v0.9h-0.9zM182.02 75.04h0.9v0.9h-0.9zM183.42 76.96h0.9v0.9h-0.9zM185.03 74.84h0.9v0.9h-0.9zM182.47 76.94h0.9v0.9h-0.9zM184.24 73.29h0.9v0.9h-0.9zM184.45 79.85h0.9v0.9h-0.9zM178.88 75.09h0.9v0.9h-0.9zM182.47 73.7h0.9v0.9h-0.9zM179.93 79.73h0.9v0.9h-0.9zM183.69 76.95h0.9v0.9h-0.9zM185.61 73.34h0.9v0.9h-0.9zM186.27 74.61h0.9v0.9h-0.9zM185.86 75.99h0.9v0.9h-0.9zM186.61 77.29h0.9v0.9h-0.9zM183.17 78.24h0.9v0.9h-0.9zM181.7 77.47h0.9v0.9h-0.9zM179.84 75.68h0.9v0.9h-0.9zM187.97 78.05h0.9v0.9h-0.9zM180.85 79.01h0.9v0.9h-0.9zM182.48 76.93h0.9v0.9h-0.9zM182.35 77.41h0.9v0.9h-0.9zM181.96 79.15h0.9v0.9h-0.9zM182.49 74.68h0.9v0.9h-0.9zM182.24 73.01h0.9v0.9h-0.9zM184.92 78.53h0.9v0.9h-0.9zM186.64 77.16h0.9v0.9h-0.9zM182.87 78.99h0.9v0.9h-0.9zM186.82 74.66h0.9v0.9h-0.9zM180.17 74.95h0.9v0.9h-0.9zM183.24 78.53h0.9v0.9h-0.9zM185.94 76.88h0.9v0.9h-0.9zM186.1 75.47h0.9v0.9h-0.9zM183 71.15h0.9v0.9h-0.9zM181.99 75.52h0.9v0.9h-0.9zM186.18 75.83h0.9v0.9h-0.9zM182.39 76.35h0.9v0.9h-0.9zM182.39 71.7h0.9v0.9h-0.9zM181.63 75.71h0.9v0.9h-0.9zM182.76 74.6h0.9v0.9h-0.9zM182.14 77.36h0.9v0.9h-0.9zM179.63 75.45h0.9v0.9h-0.9zM181.8 75.52h0.9v0.9h-0.9zM183.37 77.58h0.9v0.9h-0.9zM176.78 75.62h0.9v0.9h-0.9zM180.43 72.3h0.9v0.9h-0.9zM183.67 76.27h0.9v0.9h-0.9zM181.46 75.55h0.9v0.9h-0.9zM181.19 79.17h0.9v0.9h-0.9zM187.47 78.57h0.9v0.9h-0.9zM180.34 77.58h0.9v0.9h-0.9zM184.06 76.21h0.9v0.9h-0.9zM182.88 75.45h0.9v0.9h-0.9zM181.79 74.53h0.9v0.9h-0.9z" fill="#5a5a5a" fill-opacity="0.8"/>
<ellipse cx="132" cy="66" rx="3.5" ry="2.98" fill="#8a8a8a" fill-opacity="0.75"/>
<path d="M130.64 69.74h0.9v0.9h-0.9zM132.98 64.98h0.9v0.9h-0.9zM130.9 66.87h0.9v0.9h-0.9zM135.16 68.67h0.9v0.9h-0.9zM130.38 63.97h0.9v0.9h-0.9zM130.94 66.5h0.9v0.9h-0.9zM131.11 65.13h0.9v0.9h-0.9zM135.61 64.04h0.9v0.9h-0.9zM133.19 65.78h0.9v0.9h-0.9zM131.01 69.01h0.9v0.9h-0.9zM129.82 66.44h0.9v0.9h-0.9zM131.73 64.95h0.9v0.9h-0.9zM131.29 66.15h0.9v0.9h-0.9zM136.51 66.8h0.9v0.9h-0.9zM131.57 63.84h0.9v0.9h-0.9zM132.41 67.26h0.9v0.9h-0.9zM136.89 63.57h0.9v0.9h-0.9zM129.52 63.21h0.9v0.9h-0.9zM129.34 67.86h0.9v0.9h-0.9zM131.83 64.9h0.9v0.9h-0.9zM132.26 65.87h0.9v0.9h-0.9zM131.76 67.82h0.9v0.9h-0.9zM133.51 65.44h0.9v0.9h-0.9zM134.17 67.6h0.9v0.9h-0.9zM131.57 65.3h0.9v0.9h-0.9zM131.35 64.55h0.9v0.9h-0.9zM128.34 67.78h0.9v0.9h-0.9zM134.38 62.23h0.9v0.9h-0.9zM131.49 64.51h0.9v0.9h-0.9zM131.32 66.62h0.9v0.9h-0.9zM133.91 66.78h0.9v0.9h-0.9zM133.24 67.76h0.9v0.9h-0.9zM132.49 67.81h0.9v0.9h-0.9zM133.57 64.95h0.9v0.9h-0.9zM133.32 65.39h0.9v0.9h-0.9zM133.82 67.85h0.9v0.9h-0.9zM129.62 66.95h0.9v0.9h-0.9zM130.35 65.2h0.9v0.9h-0.9zM131.2 66.84h0.9v0.9h-0.9zM133.18 65.94h0.9v0.9h-0.9zM128.41 66.8h0.9v0.9h-0.9zM134.02 61.9h0.9v0.9h-0.9zM130.98 65.1h0.9v0.9h-0.9zM132.44 65.57h0.9v0.9h-0.9zM133.78 65.39h0.9v0.9h-0.9zM130.46 62.96h0.9v0.9h-0.9zM128.78 65.65h0.9v0.9h-0.9zM133.1 64.41h0.9v0.9h-0.9zM133.12 65.37h0.9v0.9h-0.9zM133.51 68.06h0.9v0.9h-0.9zM132.81 64.55h0.9v0.9h-0.9zM133.82 66.31h0.9v0.9h-0.9zM132.1 66.6h0.9v0.9h-0.9zM133.21 67.84h0.9v0.9h-0.9zM129.73 67.93h0.9v0.9h-0.9zM132.45 68.11h0.9v0.9h-0.9zM131.84 67.28h0.9v0.9h-0.9zM133.7 68.1h0.9v0.9h-0.9zM131.48 68.3h0.9v0.9h-0.9zM131.16 64.15h0.9v0.9h-0.9zM130.61 63.97h0.9v0.9h-0.9zM134.47 67.56h0.9v0.9h-0.9zM128.81 65.67h0.9v0.9h-0.9zM132.46 66.35h0.9v0.9h-0.9zM131.09 64.93h0.9v0.9h-0.9zM133.49 65.87h0.9v0.9h-0.9zM130.47 66.44h0.9v0.9h-0.9zM130.87 65.61h0.9v0.9h-0.9zM133.36 65.69h0.9v0.9h-0.9zM136.43 63.79h0.9v0.9h-0.9z" fill="#5a5a5a" fill-opacity="0.8"/>
<ellipse cx="150" cy="79" rx="2" ry="1.7" fill="#8a8a8a" fill-opacity="0.75"/>
<path d="M149.03 80.41h0.9v0.9h-0.9zM150.21 78.85h0.9v0.9h-0.9zM150.97 78.84h0.9v0.9h-0.9zM149.04 80.38h0.9v0.9h-0.9zM150.12 79.18h0.9v0.9h-0.9zM150.18 78.97h0.9v0.9h-0.9zM149.16 78.11h0.9v0.9h-0.9zM148.36 79.81h0.9v0.9h-0.9zM150.09 78.82h0.9v0.9h-0.9zM148.54 77.8h0.9v0.9h-0.9zM149.6 79.3h0.9v0.9h-0.9zM149.84 78.93h0.9v0.9h-0.9zM149.12 79.71h0.9v0.9h-0.9zM150.29 80.17h0.9v0.9h-0.9zM150.53 78.1h0.9v0.9h-0.9zM149.37 78.85h0.9v0.9h-0.9zM151.13 79.05h0.9v0.9h-0.9zM150 80.27h0.9v0.9h-0.9zM150.89 79.58h0.9v0.9h-0.9zM148.26 78.84h0.9v0.9h-0.9zM151.99 79.61h0.9v0.9h-0.9zM151.27 80.66h0.9v0.9h-0.9zM150.8 77.25h0.9v0.9h-0.9zM150.37 78.83h0.9v0.9h-0.9zM149.13 79.92h0.9v0.9h-0.9zM149.28 80.15h0.9v0.9h-0.9zM150.46 78.56h0.9v0.9h-0.9zM149.16 80.66h0.9v0.9h-0.9zM149.8 79.32h0.9v0.9h-0.9zM149.98 78.25h0.9v0.9h-0.9zM149.68 78.83h0.9v0.9h-0.9zM148.32 78.34h0.9v0.9h-0.9zM149.11 79.29h0.9v0.9h-0.9zM150.15 77.91h0.9v0.9h-0.9zM149.39 79.09h0.9v0.9h-0.9zM149.19 77.47h0.9v0.9h-0.9zM150.86 79h0.9v0.9h-0.9zM149.67 78.58h0.9v0.9h-0.9zM150.34 78.62h0.9v0.9h-0.9zM150.04 79.99h0.9v0.9h-0.9zM151.41 80.49h0.9v0.9h-0.9zM149.01 78.96h0.9v0.9h-0.9zM148.73 78.04h0.9v0.9h-0.9zM148.61 78.64h0.9v0.9h-0.9zM149.55 78.12h0.9v0.9h-0.9zM149.9 79.46h0.9v0.9h-0.9zM149.49 78.25h0.9v0.9h-0.9zM150.77 78.79h0.9v0.9h-0.9zM150.22 78.05h0.9v0.9h-0.9zM150.56 79.74h0.9v0.9h-0.9zM148.96 78.03h0.9v0.9h-0.9zM149.59 79.53h0.9v0.9h-0.9zM150.75 80h0.9v0.9h-0.9zM149.08 77.25h0.9v0.9h-0.9zM149.11 79.05h0.9v0.9h-0.9zM150.43 77.78h0.9v0.9h-0.9zM149.94 78.68h0.9v0.9h-0.9zM150.44 78.19h0.9v0.9h-0.9zM149.81 78.69h0.9v0.9h-0.9zM150.25 79h0.9v0.9h-0.9zM150.38 79.17h0.9v0.9h-0.9zM150.81 78.13h0.9v0.9h-0.9zM153.4 80.24h0.9v0.9h-0.9zM148.63 79.57h0.9v0.9h-0.9zM149.51 78.28h0.9v0.9h-0.9zM151.2 76.91h0.9v0.9h-0.9zM149.21 79.45h0.9v0.9h-0.9zM148.33 79.79h0.9v0.9h-0.9zM149.54 78.99h0.9v0.9h-0.9zM151.47 79.09h0.9v0.9h-0.9z" fill="#5a5a5a" fill-opacity="0.8"/>
</g>
<g clip-path="url(#c3)">
<rect x="44.7" y="80" width="66" height="62.5" fill="#080a04" />
<path d="M54.48 127.92h0.9v0.9h-0.9zM84.28 93.19h0.9v0.9h-0.9zM49.2 121.86h0.9v0.9h-0.9zM55.28 141.3h0.9v0.9h-0.9zM78.61 100.44h0.9v0.9h-0.9zM97.77 118.6h0.9v0.9h-0.9zM88.17 129.31h0.9v0.9h-0.9zM74.56 82.74h0.9v0.9h-0.9zM55.22 141.95h0.9v0.9h-0.9zM85.88 81.49h0.9v0.9h-0.9zM54.46 86.67h0.9v0.9h-0.9zM61.63 120.89h0.9v0.9h-0.9zM105.9 115.73h0.9v0.9h-0.9zM77.64 137.63h0.9v0.9h-0.9zM53.34 136.17h0.9v0.9h-0.9zM87.13 94.75h0.9v0.9h-0.9zM95.37 90.93h0.9v0.9h-0.9zM83.77 108.76h0.9v0.9h-0.9zM51.79 138.57h0.9v0.9h-0.9zM57.61 102.85h0.9v0.9h-0.9zM86.73 96.88h0.9v0.9h-0.9zM50.95 98.77h0.9v0.9h-0.9zM69.57 130.43h0.9v0.9h-0.9zM80.67 137.64h0.9v0.9h-0.9zM53.9 131.69h0.9v0.9h-0.9zM109.76 141.45h0.9v0.9h-0.9zM64.46 86.28h0.9v0.9h-0.9zM95.13 107.5h0.9v0.9h-0.9zM86.94 86.11h0.9v0.9h-0.9zM108.33 104.71h0.9v0.9h-0.9zM108.43 80.48h0.9v0.9h-0.9zM64.1 109.33h0.9v0.9h-0.9zM69.06 93.08h0.9v0.9h-0.9zM109.4 114.26h0.9v0.9h-0.9zM106.53 112.44h0.9v0.9h-0.9zM96.59 120.11h0.9v0.9h-0.9zM53.79 123.64h0.9v0.9h-0.9zM94.04 124.8h0.9v0.9h-0.9zM77.13 83.04h0.9v0.9h-0.9zM99.49 140.54h0.9v0.9h-0.9zM49.1 82.66h0.9v0.9h-0.9zM73.21 126.06h0.9v0.9h-0.9zM74.36 131.14h0.9v0.9h-0.9zM102.79 117.22h0.9v0.9h-0.9zM85.38 120.25h0.9v0.9h-0.9zM69.19 92.72h0.9v0.9h-0.9zM104.78 96.22h0.9v0.9h-0.9zM99.25 112.38h0.9v0.9h-0.9zM93.5 129.22h0.9v0.9h-0.9zM102.99 132.4h0.9v0.9h-0.9zM66.32 132.15h0.9v0.9h-0.9zM102.06 120.12h0.9v0.9h-0.9zM57.8 141.57h0.9v0.9h-0.9zM97.43 104.01h0.9v0.9h-0.9zM64.7 130.91h0.9v0.9h-0.9zM88.24 103.4h0.9v0.9h-0.9zM104.55 141.87h0.9v0.9h-0.9zM89.48 131.97h0.9v0.9h-0.9zM84.08 99.06h0.9v0.9h-0.9zM97.41 123.77h0.9v0.9h-0.9zM102.84 101.75h0.9v0.9h-0.9zM106.65 123.43h0.9v0.9h-0.9zM94.23 132.66h0.9v0.9h-0.9zM74.74 132.45h0.9v0.9h-0.9zM103.51 140.68h0.9v0.9h-0.9zM84.26 83.86h0.9v0.9h-0.9zM60.63 92.33h0.9v0.9h-0.9zM53.98 103.66h0.9v0.9h-0.9zM83.49 141.85h0.9v0.9h-0.9zM50.13 139.83h0.9v0.9h-0.9zM80.8 130.07h0.9v0.9h-0.9zM99.34 102.1h0.9v0.9h-0.9zM91.08 126.5h0.9v0.9h-0.9zM66.42 137.79h0.9v0.9h-0.9zM102.91 80.69h0.9v0.9h-0.9zM101.1 104.18h0.9v0.9h-0.9zM107.89 83.65h0.9v0.9h-0.9zM100.33 111.98h0.9v0.9h-0.9zM62.95 110.73h0.9v0.9h-0.9zM99.76 106.77h0.9v0.9h-0.9zM74.78 135.25h0.9v0.9h-0.9zM100.18 93.76h0.9v0.9h-0.9zM78.46 105.06h0.9v0.9h-0.9zM57.36 92.59h0.9v0.9h-0.9zM52.08 90.45h0.9v0.9h-0.9zM72.53 95.81h0.9v0.9h-0.9zM92.56 85.8h0.9v0.9h-0.9zM60.52 140.11h0.9v0.9h-0.9zM82.36 91.49h0.9v0.9h-0.9zM98.9 81.06h0.9v0.9h-0.9zM64.85 88.66h0.9v0.9h-0.9zM71.86 109.2h0.9v0.9h-0.9zM105.17 110.97h0.9v0.9h-0.9zM104.05 139.88h0.9v0.9h-0.9zM47.65 86.63h0.9v0.9h-0.9zM98.19 98.38h0.9v0.9h-0.9zM75.28 120.93h0.9v0.9h-0.9zM72.9 134.17h0.9v0.9h-0.9zM46.46 96.41h0.9v0.9h-0.9zM48.78 96.21h0.9v0.9h-0.9zM109.78 81.79h0.9v0.9h-0.9zM80.59 93.64h0.9v0.9h-0.9zM93.62 90.24h0.9v0.9h-0.9zM93.79 112.47h0.9v0.9h-0.9zM108.25 84.96h0.9v0.9h-0.9zM79.25 136.9h0.9v0.9h-0.9zM79.08 106.61h0.9v0.9h-0.9zM105.65 131.8h0.9v0.9h-0.9zM96.29 105.39h0.9v0.9h-0.9zM66.33 97.62h0.9v0.9h-0.9zM108.97 84.85h0.9v0.9h-0.9zM53.62 119.53h0.9v0.9h-0.9zM103.01 141.19h0.9v0.9h-0.9zM84.88 133.77h0.9v0.9h-0.9zM68.71 112.21h0.9v0.9h-0.9zM95.44 90.92h0.9v0.9h-0.9zM91.05 106.54h0.9v0.9h-0.9zM47.7 102.25h0.9v0.9h-0.9zM93.6 129.97h0.9v0.9h-0.9zM89.89 125.21h0.9v0.9h-0.9zM69.12 99.38h0.9v0.9h-0.9zM71.01 107.39h0.9v0.9h-0.9zM66.23 135.34h0.9v0.9h-0.9zM90.94 89.47h0.9v0.9h-0.9zM53.46 109.86h0.9v0.9h-0.9zM86.74 123.37h0.9v0.9h-0.9zM72.89 116.1h0.9v0.9h-0.9zM84.65 98.39h0.9v0.9h-0.9zM97.86 101.54h0.9v0.9h-0.9zM53.37 89.06h0.9v0.9h-0.9zM87.49 109.64h0.9v0.9h-0.9zM100.47 134.81h0.9v0.9h-0.9zM60.06 128.75h0.9v0.9h-0.9zM89.75 115.16h0.9v0.9h-0.9zM110.41 90.62h0.9v0.9h-0.9zM72.42 105.62h0.9v0.9h-0.9zM62.51 118.55h0.9v0.9h-0.9zM101.17 109.99h0.9v0.9h-0.9zM50.05 96.42h0.9v0.9h-0.9zM92.18 108.71h0.9v0.9h-0.9zM47.71 95.82h0.9v0.9h-0.9zM79.69 100.13h0.9v0.9h-0.9zM58.29 103.83h0.9v0.9h-0.9zM52.02 135.43h0.9v0.9h-0.9zM65.91 109.31h0.9v0.9h-0.9zM79.08 108.07h0.9v0.9h-0.9zM105.53 89.65h0.9v0.9h-0.9zM77.3 89.74h0.9v0.9h-0.9zM48.71 124.03h0.9v0.9h-0.9zM66.77 126.27h0.9v0.9h-0.9zM76.91 82.31h0.9v0.9h-0.9zM50.01 81.67h0.9v0.9h-0.9zM82.68 105.3h0.9v0.9h-0.9zM63.95 98.76h0.9v0.9h-0.9zM73.2 134.06h0.9v0.9h-0.9zM103.55 131.5h0.9v0.9h-0.9zM93.93 87.53h0.9v0.9h-0.9zM69.24 131.35h0.9v0.9h-0.9zM58.11 125.33h0.9v0.9h-0.9zM51.88 130.93h0.9v0.9h-0.9zM61.75 96.13h0.9v0.9h-0.9zM108.37 86.9h0.9v0.9h-0.9zM104.08 98.43h0.9v0.9h-0.9zM63.16 89.03h0.9v0.9h-0.9zM48.5 103.68h0.9v0.9h-0.9zM74.03 99.57h0.9v0.9h-0.9zM45.16 135.69h0.9v0.9h-0.9zM100.3 119.32h0.9v0.9h-0.9zM53.7 89.37h0.9v0.9h-0.9zM76.72 90.74h0.9v0.9h-0.9zM63.28 93.7h0.9v0.9h-0.9zM95.48 121.77h0.9v0.9h-0.9zM58.39 139.25h0.9v0.9h-0.9zM84.55 129.57h0.9v0.9h-0.9zM89 108.97h0.9v0.9h-0.9zM75.7 106.7h0.9v0.9h-0.9zM49.21 138.89h0.9v0.9h-0.9zM67.44 83.47h0.9v0.9h-0.9zM51.56 103.97h0.9v0.9h-0.9zM91.88 111.24h0.9v0.9h-0.9zM66.54 136.63h0.9v0.9h-0.9zM49.22 96.77h0.9v0.9h-0.9zM103.03 109.29h0.9v0.9h-0.9zM75.42 85.01h0.9v0.9h-0.9zM84.1 125.51h0.9v0.9h-0.9zM100.04 87.09h0.9v0.9h-0.9zM82.41 131h0.9v0.9h-0.9zM103.58 85.82h0.9v0.9h-0.9zM54.24 136.62h0.9v0.9h-0.9zM69.93 106.48h0.9v0.9h-0.9zM93.09 93.64h0.9v0.9h-0.9zM54.38 114.99h0.9v0.9h-0.9zM85.45 138.44h0.9v0.9h-0.9zM51.39 120.34h0.9v0.9h-0.9zM52.91 116.44h0.9v0.9h-0.9zM87.17 106.05h0.9v0.9h-0.9zM70.74 105.87h0.9v0.9h-0.9zM98.99 133.1h0.9v0.9h-0.9zM74.47 126.51h0.9v0.9h-0.9zM73.47 107.54h0.9v0.9h-0.9zM85.79 118.02h0.9v0.9h-0.9zM74.88 109.88h0.9v0.9h-0.9zM101.58 100.75h0.9v0.9h-0.9zM86.08 88.82h0.9v0.9h-0.9zM109.23 82.72h0.9v0.9h-0.9zM96.21 90.41h0.9v0.9h-0.9zM88.19 80.28h0.9v0.9h-0.9zM66.28 82.57h0.9v0.9h-0.9zM72.54 118.69h0.9v0.9h-0.9zM45.84 114.34h0.9v0.9h-0.9zM71.21 134.53h0.9v0.9h-0.9zM70.78 81.72h0.9v0.9h-0.9zM60.55 134.68h0.9v0.9h-0.9zM76.78 104.41h0.9v0.9h-0.9zM65.42 98.03h0.9v0.9h-0.9zM53.89 115.38h0.9v0.9h-0.9zM53.94 88.83h0.9v0.9h-0.9zM54.32 94.81h0.9v0.9h-0.9zM103.71 92.4h0.9v0.9h-0.9zM46.72 139.36h0.9v0.9h-0.9z" fill="#1a5a10" fill-opacity="0.7"/>
<ellipse cx="73.5" cy="109" rx="19" ry="18" fill="url(#g3)"/>
<path d="M57.65 110.03h0.9v0.9h-0.9zM75.08 102.43h0.9v0.9h-0.9zM73.33 109.08h0.9v0.9h-0.9zM69.62 111.13h0.9v0.9h-0.9zM64.91 117.17h0.9v0.9h-0.9zM62.99 99.26h0.9v0.9h-0.9zM74.88 97.33h0.9v0.9h-0.9zM79.08 113.55h0.9v0.9h-0.9zM78.07 99.67h0.9v0.9h-0.9zM76.17 103.24h0.9v0.9h-0.9zM78.51 114.28h0.9v0.9h-0.9zM64.23 104.8h0.9v0.9h-0.9zM64.89 118.48h0.9v0.9h-0.9zM80.62 102.03h0.9v0.9h-0.9zM72.89 90.86h0.9v0.9h-0.9zM78.18 112.02h0.9v0.9h-0.9zM67.63 111.24h0.9v0.9h-0.9zM70.62 103.23h0.9v0.9h-0.9zM72.48 110h0.9v0.9h-0.9zM80.13 111.06h0.9v0.9h-0.9zM71.58 112.9h0.9v0.9h-0.9zM75.88 109.29h0.9v0.9h-0.9zM76.42 115.16h0.9v0.9h-0.9zM74.29 115.61h0.9v0.9h-0.9zM73.37 106.62h0.9v0.9h-0.9zM66.52 101.72h0.9v0.9h-0.9zM89.37 98.16h0.9v0.9h-0.9zM74.19 110.65h0.9v0.9h-0.9zM69.03 102.96h0.9v0.9h-0.9zM80.2 104.49h0.9v0.9h-0.9zM73.89 108.2h0.9v0.9h-0.9zM69.58 109.74h0.9v0.9h-0.9zM74.47 111.11h0.9v0.9h-0.9zM79.14 107h0.9v0.9h-0.9zM76.51 99.1h0.9v0.9h-0.9zM75.32 104.24h0.9v0.9h-0.9zM74.24 102.43h0.9v0.9h-0.9zM81.81 105.38h0.9v0.9h-0.9zM85.4 100.1h0.9v0.9h-0.9zM69.98 113.4h0.9v0.9h-0.9zM84.84 109.2h0.9v0.9h-0.9zM70.84 106.58h0.9v0.9h-0.9zM63.19 99.01h0.9v0.9h-0.9zM89.94 100.71h0.9v0.9h-0.9zM71.13 112.89h0.9v0.9h-0.9zM76.84 109.07h0.9v0.9h-0.9zM73.12 117.42h0.9v0.9h-0.9zM87.3 109.54h0.9v0.9h-0.9zM66.43 99.5h0.9v0.9h-0.9zM71.93 116.13h0.9v0.9h-0.9zM75.98 107.51h0.9v0.9h-0.9zM76.51 110.61h0.9v0.9h-0.9zM74.59 112.6h0.9v0.9h-0.9zM76.94 109.68h0.9v0.9h-0.9zM68.6 110.94h0.9v0.9h-0.9zM66.81 111.33h0.9v0.9h-0.9zM71.41 101.39h0.9v0.9h-0.9zM87.7 106.37h0.9v0.9h-0.9zM79.36 104.67h0.9v0.9h-0.9zM73.78 115.58h0.9v0.9h-0.9zM66.3 109.38h0.9v0.9h-0.9zM81.81 105.69h0.9v0.9h-0.9zM76.66 107.66h0.9v0.9h-0.9zM70.5 105.37h0.9v0.9h-0.9zM74.05 109.06h0.9v0.9h-0.9zM70.87 111.78h0.9v0.9h-0.9zM72.68 110.56h0.9v0.9h-0.9zM77.95 109.83h0.9v0.9h-0.9zM72.43 102.2h0.9v0.9h-0.9zM71.16 95.86h0.9v0.9h-0.9zM65.52 109.03h0.9v0.9h-0.9zM75.24 114.3h0.9v0.9h-0.9zM73.4 98.46h0.9v0.9h-0.9zM75.93 112.1h0.9v0.9h-0.9zM67.15 110.56h0.9v0.9h-0.9zM64.44 101.08h0.9v0.9h-0.9zM73.55 111.68h0.9v0.9h-0.9zM77.92 111.73h0.9v0.9h-0.9zM71.41 111.23h0.9v0.9h-0.9zM76.29 104.06h0.9v0.9h-0.9zM73.52 113.9h0.9v0.9h-0.9zM79.79 103.36h0.9v0.9h-0.9zM74.63 106.12h0.9v0.9h-0.9zM76.54 114.32h0.9v0.9h-0.9zM70.33 109.73h0.9v0.9h-0.9zM74.3 111.31h0.9v0.9h-0.9zM76.61 110.53h0.9v0.9h-0.9zM73.69 114.08h0.9v0.9h-0.9zM55.8 95.84h0.9v0.9h-0.9zM67.37 105.95h0.9v0.9h-0.9zM71.33 110.88h0.9v0.9h-0.9zM69.96 103.43h0.9v0.9h-0.9zM70.25 103.94h0.9v0.9h-0.9zM74.77 114.25h0.9v0.9h-0.9zM76.28 112.84h0.9v0.9h-0.9zM77.29 107.83h0.9v0.9h-0.9zM62.33 101.1h0.9v0.9h-0.9zM69.17 112.04h0.9v0.9h-0.9zM76 111h0.9v0.9h-0.9zM79.59 106.05h0.9v0.9h-0.9zM72.7 110.59h0.9v0.9h-0.9zM72.69 105.88h0.9v0.9h-0.9zM63.44 109.07h0.9v0.9h-0.9zM77.35 97.77h0.9v0.9h-0.9zM73.34 112.49h0.9v0.9h-0.9zM77.35 112.56h0.9v0.9h-0.9zM71.34 112.33h0.9v0.9h-0.9zM77.99 113.3h0.9v0.9h-0.9zM70.69 110.54h0.9v0.9h-0.9zM74.61 106.66h0.9v0.9h-0.9zM68.97 112.82h0.9v0.9h-0.9zM66.95 114.15h0.9v0.9h-0.9zM65.4 108.17h0.9v0.9h-0.9zM73.2 106.36h0.9v0.9h-0.9zM80.63 107.43h0.9v0.9h-0.9zM73.61 105h0.9v0.9h-0.9zM63.34 110.74h0.9v0.9h-0.9zM70.34 115.98h0.9v0.9h-0.9zM78.62 103.72h0.9v0.9h-0.9zM64.31 107.6h0.9v0.9h-0.9zM77.61 106.8h0.9v0.9h-0.9zM83.23 107.42h0.9v0.9h-0.9zM70.63 111.28h0.9v0.9h-0.9zM73.13 115.12h0.9v0.9h-0.9zM71.85 103.12h0.9v0.9h-0.9zM75.84 109.82h0.9v0.9h-0.9zM75.77 108.09h0.9v0.9h-0.9zM84.39 101.38h0.9v0.9h-0.9zM66.74 103.35h0.9v0.9h-0.9zM80.41 99.92h0.9v0.9h-0.9zM71.18 99.22h0.9v0.9h-0.9zM77.44 106.91h0.9v0.9h-0.9zM65.04 114.38h0.9v0.9h-0.9zM71.04 103.45h0.9v0.9h-0.9zM75.35 108.97h0.9v0.9h-0.9zM74.79 112.14h0.9v0.9h-0.9zM65.98 121.01h0.9v0.9h-0.9zM83.79 108.45h0.9v0.9h-0.9zM61.37 115.6h0.9v0.9h-0.9zM69.81 115.47h0.9v0.9h-0.9zM72.37 103.56h0.9v0.9h-0.9zM69.96 96.12h0.9v0.9h-0.9zM67.39 117.36h0.9v0.9h-0.9zM85.3 114.67h0.9v0.9h-0.9zM67.98 110.13h0.9v0.9h-0.9zM76.05 108.32h0.9v0.9h-0.9zM58.64 107.55h0.9v0.9h-0.9zM70.14 112.26h0.9v0.9h-0.9zM64.94 111.32h0.9v0.9h-0.9zM72.26 123.35h0.9v0.9h-0.9zM82.56 103.68h0.9v0.9h-0.9zM67.29 107.91h0.9v0.9h-0.9zM73.98 114.56h0.9v0.9h-0.9zM68.24 110.15h0.9v0.9h-0.9zM72.59 108.89h0.9v0.9h-0.9zM77.02 99.51h0.9v0.9h-0.9zM74.13 106.33h0.9v0.9h-0.9zM72.89 113.23h0.9v0.9h-0.9zM59.38 102.9h0.9v0.9h-0.9zM66.36 117.87h0.9v0.9h-0.9zM82.18 111.17h0.9v0.9h-0.9zM69.21 112.61h0.9v0.9h-0.9zM67.4 99.16h0.9v0.9h-0.9zM79.12 106.5h0.9v0.9h-0.9zM66.87 108.62h0.9v0.9h-0.9zM80.73 111.51h0.9v0.9h-0.9zM72.87 95.54h0.9v0.9h-0.9zM75.29 116.45h0.9v0.9h-0.9zM74.63 105.15h0.9v0.9h-0.9zM72.37 115.13h0.9v0.9h-0.9zM68.56 98.46h0.9v0.9h-0.9zM71.35 116.89h0.9v0.9h-0.9zM87.84 105.47h0.9v0.9h-0.9zM76.33 103.49h0.9v0.9h-0.9zM71.39 102.46h0.9v0.9h-0.9zM67.86 108.48h0.9v0.9h-0.9zM83.48 108.52h0.9v0.9h-0.9zM72.04 108.59h0.9v0.9h-0.9zM68.22 119.66h0.9v0.9h-0.9zM83.99 115.73h0.9v0.9h-0.9zM71.13 109.92h0.9v0.9h-0.9zM63.02 110.94h0.9v0.9h-0.9zM80.16 111.16h0.9v0.9h-0.9zM71.12 103.04h0.9v0.9h-0.9zM71.24 116.89h0.9v0.9h-0.9zM70.6 108.17h0.9v0.9h-0.9zM82.69 101.64h0.9v0.9h-0.9zM60.33 106.14h0.9v0.9h-0.9zM72.34 107.95h0.9v0.9h-0.9zM81.8 105.82h0.9v0.9h-0.9zM74.23 110.03h0.9v0.9h-0.9zM73.57 103.13h0.9v0.9h-0.9zM79.51 115.61h0.9v0.9h-0.9zM62.95 105.2h0.9v0.9h-0.9zM68.24 105.07h0.9v0.9h-0.9zM64.76 125.41h0.9v0.9h-0.9zM75.58 108.34h0.9v0.9h-0.9zM83.63 108.45h0.9v0.9h-0.9zM73.36 119.49h0.9v0.9h-0.9zM68.53 102.18h0.9v0.9h-0.9zM77.02 105.33h0.9v0.9h-0.9zM76.66 101.91h0.9v0.9h-0.9zM61.93 120.14h0.9v0.9h-0.9zM80.6 112.65h0.9v0.9h-0.9zM74.69 107.2h0.9v0.9h-0.9zM78.17 103.34h0.9v0.9h-0.9zM68.61 107.3h0.9v0.9h-0.9zM73.87 105.68h0.9v0.9h-0.9zM67.78 109.53h0.9v0.9h-0.9zM69.6 107.8h0.9v0.9h-0.9zM72.52 108.74h0.9v0.9h-0.9zM67.86 103.33h0.9v0.9h-0.9zM76.73 113.11h0.9v0.9h-0.9zM62.87 113.09h0.9v0.9h-0.9zM81.52 108.58h0.9v0.9h-0.9zM74.74 103.36h0.9v0.9h-0.9zM85.45 100.74h0.9v0.9h-0.9zM81.82 108.64h0.9v0.9h-0.9zM77.12 111.1h0.9v0.9h-0.9zM74.9 117.11h0.9v0.9h-0.9zM69.82 114.23h0.9v0.9h-0.9zM73.76 106.32h0.9v0.9h-0.9zM77.8 109.8h0.9v0.9h-0.9zM70.8 105.47h0.9v0.9h-0.9zM80.12 105.78h0.9v0.9h-0.9zM66.67 106.83h0.9v0.9h-0.9zM81.41 112.22h0.9v0.9h-0.9zM65.42 104.12h0.9v0.9h-0.9zM67.18 119.87h0.9v0.9h-0.9zM64.38 113.74h0.9v0.9h-0.9zM81.42 109.07h0.9v0.9h-0.9zM76.9 107.39h0.9v0.9h-0.9zM74.6 109.01h0.9v0.9h-0.9zM66.07 117.34h0.9v0.9h-0.9zM75.24 117.63h0.9v0.9h-0.9zM74.91 104.74h0.9v0.9h-0.9zM79.7 103.99h0.9v0.9h-0.9zM68.45 111.97h0.9v0.9h-0.9zM78.91 119.01h0.9v0.9h-0.9zM75.18 105.26h0.9v0.9h-0.9zM76.67 110.2h0.9v0.9h-0.9zM69.06 112.53h0.9v0.9h-0.9zM82.9 105.06h0.9v0.9h-0.9zM79.7 120.06h0.9v0.9h-0.9zM88.23 105.3h0.9v0.9h-0.9zM64.86 109.01h0.9v0.9h-0.9zM76.68 106.9h0.9v0.9h-0.9zM78.44 108.92h0.9v0.9h-0.9zM70.88 112.62h0.9v0.9h-0.9zM70.76 99.66h0.9v0.9h-0.9zM74.06 113.17h0.9v0.9h-0.9zM84.37 108.64h0.9v0.9h-0.9zM72.2 119.9h0.9v0.9h-0.9zM71.66 102.91h0.9v0.9h-0.9zM82.64 105.44h0.9v0.9h-0.9zM71.03 121.98h0.9v0.9h-0.9zM66.83 117.09h0.9v0.9h-0.9zM67.34 109.38h0.9v0.9h-0.9zM75.64 115.88h0.9v0.9h-0.9zM68.37 108.03h0.9v0.9h-0.9zM74.32 116.43h0.9v0.9h-0.9zM66.84 112.48h0.9v0.9h-0.9zM74.5 95.19h0.9v0.9h-0.9zM65.39 108.36h0.9v0.9h-0.9zM76.85 111.26h0.9v0.9h-0.9zM67.68 113.77h0.9v0.9h-0.9zM75.28 116.11h0.9v0.9h-0.9zM73.23 99.48h0.9v0.9h-0.9zM78.43 102.5h0.9v0.9h-0.9zM73.63 100.42h0.9v0.9h-0.9zM80.23 114.24h0.9v0.9h-0.9zM71.31 104.5h0.9v0.9h-0.9zM75.12 103.49h0.9v0.9h-0.9zM81.07 99.31h0.9v0.9h-0.9zM64.08 114.05h0.9v0.9h-0.9zM73.59 112.9h0.9v0.9h-0.9zM75.05 107h0.9v0.9h-0.9zM69.43 100.02h0.9v0.9h-0.9zM68.89 109.22h0.9v0.9h-0.9zM79.37 110.26h0.9v0.9h-0.9zM68.04 112.89h0.9v0.9h-0.9zM74.89 113.72h0.9v0.9h-0.9zM73.87 112.31h0.9v0.9h-0.9zM67.17 119.45h0.9v0.9h-0.9zM78.72 103.64h0.9v0.9h-0.9zM69.85 101.61h0.9v0.9h-0.9zM67.78 105.76h0.9v0.9h-0.9zM70.83 103.84h0.9v0.9h-0.9zM71.83 112.97h0.9v0.9h-0.9zM65.69 115.11h0.9v0.9h-0.9zM83.61 111.47h0.9v0.9h-0.9zM76.26 100.36h0.9v0.9h-0.9zM71.75 106.26h0.9v0.9h-0.9zM71.51 111.69h0.9v0.9h-0.9zM66.97 108.97h0.9v0.9h-0.9zM59.63 119.2h0.9v0.9h-0.9zM63.08 115.01h0.9v0.9h-0.9zM71.8 112.71h0.9v0.9h-0.9zM68.92 112.97h0.9v0.9h-0.9zM70.9 108.83h0.9v0.9h-0.9zM63.32 97.08h0.9v0.9h-0.9zM81.84 116.13h0.9v0.9h-0.9zM71.37 111h0.9v0.9h-0.9zM75.6 93.36h0.9v0.9h-0.9zM71.86 98.35h0.9v0.9h-0.9zM79.71 99.79h0.9v0.9h-0.9zM66.76 110.43h0.9v0.9h-0.9zM82.25 113.94h0.9v0.9h-0.9zM85.88 100.73h0.9v0.9h-0.9zM79.8 106.86h0.9v0.9h-0.9zM73.69 103.1h0.9v0.9h-0.9zM75.77 105.85h0.9v0.9h-0.9zM77.18 110.49h0.9v0.9h-0.9zM72.79 112.7h0.9v0.9h-0.9zM63.61 109.16h0.9v0.9h-0.9zM60.38 106.69h0.9v0.9h-0.9zM73.98 109.71h0.9v0.9h-0.9zM70.23 117.64h0.9v0.9h-0.9zM74.03 110.21h0.9v0.9h-0.9zM70.36 121.41h0.9v0.9h-0.9zM72.7 112.58h0.9v0.9h-0.9zM71.36 115.82h0.9v0.9h-0.9zM75.97 100.45h0.9v0.9h-0.9zM77.85 104.11h0.9v0.9h-0.9zM74.45 112.83h0.9v0.9h-0.9zM81.25 111.63h0.9v0.9h-0.9zM70.86 113.97h0.9v0.9h-0.9zM72.16 110.21h0.9v0.9h-0.9zM70.72 111.14h0.9v0.9h-0.9zM80.73 119.51h0.9v0.9h-0.9zM77.39 117.37h0.9v0.9h-0.9zM68.15 110.34h0.9v0.9h-0.9zM80.6 107.67h0.9v0.9h-0.9zM77.2 107.01h0.9v0.9h-0.9zM69.21 107.79h0.9v0.9h-0.9zM74.18 106.94h0.9v0.9h-0.9zM74.42 123.48h0.9v0.9h-0.9zM66.96 107.54h0.9v0.9h-0.9zM65.17 123.2h0.9v0.9h-0.9zM80.38 107.82h0.9v0.9h-0.9zM70.31 109.24h0.9v0.9h-0.9zM70.06 110.75h0.9v0.9h-0.9zM68.07 106.83h0.9v0.9h-0.9zM79.79 102.61h0.9v0.9h-0.9zM76.54 100.23h0.9v0.9h-0.9zM73.79 115.9h0.9v0.9h-0.9zM70.01 114.5h0.9v0.9h-0.9zM83.97 114.65h0.9v0.9h-0.9zM87.52 105.96h0.9v0.9h-0.9zM74.59 110.65h0.9v0.9h-0.9z" fill="#48e038" fill-opacity="0.7"/>
<path d="M52.24 112.71h0.9v0.9h-0.9zM61.31 98.95h0.9v0.9h-0.9zM76.32 109.77h0.9v0.9h-0.9zM85 104.02h0.9v0.9h-0.9zM61.57 112.17h0.9v0.9h-0.9zM63.37 113.82h0.9v0.9h-0.9zM80.66 114.46h0.9v0.9h-0.9zM74.15 114.15h0.9v0.9h-0.9zM58.81 115.97h0.9v0.9h-0.9zM88.81 98.74h0.9v0.9h-0.9zM76.21 99.99h0.9v0.9h-0.9zM69.41 104.59h0.9v0.9h-0.9zM69.84 117.77h0.9v0.9h-0.9zM46.07 92.31h0.9v0.9h-0.9zM80.6 110.62h0.9v0.9h-0.9zM56.3 112.9h0.9v0.9h-0.9zM77.7 102.42h0.9v0.9h-0.9zM99.17 109.54h0.9v0.9h-0.9zM82.4 116.44h0.9v0.9h-0.9zM73.41 115.04h0.9v0.9h-0.9zM69.47 96.6h0.9v0.9h-0.9zM66.38 116.15h0.9v0.9h-0.9zM91.83 96.79h0.9v0.9h-0.9zM93.44 115.82h0.9v0.9h-0.9zM77.61 115.8h0.9v0.9h-0.9zM58.28 110.9h0.9v0.9h-0.9zM68.42 107.49h0.9v0.9h-0.9zM91.96 106.68h0.9v0.9h-0.9zM51.05 89.74h0.9v0.9h-0.9zM88.17 108.79h0.9v0.9h-0.9zM59.07 115.22h0.9v0.9h-0.9zM73.35 106.24h0.9v0.9h-0.9zM69.56 97.07h0.9v0.9h-0.9zM68.75 105.56h0.9v0.9h-0.9zM86.64 112.78h0.9v0.9h-0.9zM67.15 127.92h0.9v0.9h-0.9zM87.57 106.26h0.9v0.9h-0.9zM80.97 104.99h0.9v0.9h-0.9zM67.75 117.06h0.9v0.9h-0.9zM71.58 111.16h0.9v0.9h-0.9zM61.94 114.69h0.9v0.9h-0.9zM83.95 107.22h0.9v0.9h-0.9zM72.95 137.21h0.9v0.9h-0.9zM73.65 104.94h0.9v0.9h-0.9zM72.95 118.14h0.9v0.9h-0.9zM74.84 99.93h0.9v0.9h-0.9zM88.76 101.01h0.9v0.9h-0.9zM87.77 93.17h0.9v0.9h-0.9zM67.21 97.02h0.9v0.9h-0.9zM79.68 105.06h0.9v0.9h-0.9zM61.45 103.17h0.9v0.9h-0.9zM70.36 122.65h0.9v0.9h-0.9zM75.93 124.88h0.9v0.9h-0.9zM84.21 122.87h0.9v0.9h-0.9zM54.51 88.49h0.9v0.9h-0.9zM61.92 96.16h0.9v0.9h-0.9zM58.48 97.23h0.9v0.9h-0.9zM59.31 84.32h0.9v0.9h-0.9zM87.51 96.61h0.9v0.9h-0.9zM77.67 110.37h0.9v0.9h-0.9zM78.54 85.92h0.9v0.9h-0.9zM81.52 128.43h0.9v0.9h-0.9zM85.08 109.36h0.9v0.9h-0.9zM74.12 132.86h0.9v0.9h-0.9zM81.6 115.92h0.9v0.9h-0.9zM81.77 96.6h0.9v0.9h-0.9zM81.68 98.4h0.9v0.9h-0.9zM81.5 114.36h0.9v0.9h-0.9zM65.16 99.88h0.9v0.9h-0.9zM87.62 108.61h0.9v0.9h-0.9zM59.88 115.09h0.9v0.9h-0.9zM66.31 116.1h0.9v0.9h-0.9zM70.53 119.68h0.9v0.9h-0.9zM83.73 106.37h0.9v0.9h-0.9zM79.66 99.58h0.9v0.9h-0.9zM51.11 119.82h0.9v0.9h-0.9zM69.92 99.82h0.9v0.9h-0.9zM88.9 127.86h0.9v0.9h-0.9zM66.15 126.42h0.9v0.9h-0.9zM81.47 101.98h0.9v0.9h-0.9zM70.58 112.42h0.9v0.9h-0.9zM73.57 103.15h0.9v0.9h-0.9zM71.67 106.64h0.9v0.9h-0.9zM84.76 122.88h0.9v0.9h-0.9zM73.21 112.15h0.9v0.9h-0.9zM79.17 114.86h0.9v0.9h-0.9zM81.03 108.22h0.9v0.9h-0.9zM77.53 115.13h0.9v0.9h-0.9zM66.89 115.82h0.9v0.9h-0.9zM63.34 102.22h0.9v0.9h-0.9zM57.51 100.97h0.9v0.9h-0.9zM71.55 107h0.9v0.9h-0.9zM83.73 121.5h0.9v0.9h-0.9zM65.92 108.38h0.9v0.9h-0.9zM85.5 100.09h0.9v0.9h-0.9zM60.45 106.98h0.9v0.9h-0.9zM88.38 100.17h0.9v0.9h-0.9zM71.64 92.21h0.9v0.9h-0.9zM62.02 104.54h0.9v0.9h-0.9zM52.58 97.57h0.9v0.9h-0.9zM68.71 106.93h0.9v0.9h-0.9zM67.58 127.2h0.9v0.9h-0.9zM74.08 116.44h0.9v0.9h-0.9zM81.42 125.59h0.9v0.9h-0.9zM73.98 85.9h0.9v0.9h-0.9zM59.69 93.72h0.9v0.9h-0.9zM75.37 124.66h0.9v0.9h-0.9zM56.71 110.29h0.9v0.9h-0.9zM78.77 105.47h0.9v0.9h-0.9zM88.63 105.72h0.9v0.9h-0.9zM82.37 116.98h0.9v0.9h-0.9zM60.43 84.72h0.9v0.9h-0.9zM78.86 94.27h0.9v0.9h-0.9zM74.6 100.74h0.9v0.9h-0.9zM78.94 104.94h0.9v0.9h-0.9zM70.3 106.39h0.9v0.9h-0.9zM76.45 105.37h0.9v0.9h-0.9zM81.85 94.19h0.9v0.9h-0.9zM64.25 107.83h0.9v0.9h-0.9zM67.15 96.75h0.9v0.9h-0.9zM67.32 101.69h0.9v0.9h-0.9zM81.29 119.35h0.9v0.9h-0.9zM71.41 102.56h0.9v0.9h-0.9zM75.9 93.97h0.9v0.9h-0.9zM77.66 109.02h0.9v0.9h-0.9zM49.45 102.87h0.9v0.9h-0.9zM94.56 115.55h0.9v0.9h-0.9zM65.37 98.11h0.9v0.9h-0.9zM59.73 112.57h0.9v0.9h-0.9zM75.56 108.71h0.9v0.9h-0.9zM70.72 112.54h0.9v0.9h-0.9zM79.81 111.7h0.9v0.9h-0.9zM60.58 102.57h0.9v0.9h-0.9zM79.18 124.36h0.9v0.9h-0.9zM85.42 104.62h0.9v0.9h-0.9zM60.96 126.74h0.9v0.9h-0.9zM84.32 102.2h0.9v0.9h-0.9zM91.03 122.24h0.9v0.9h-0.9zM66.86 107.28h0.9v0.9h-0.9zM77.77 106.43h0.9v0.9h-0.9zM66.2 131.49h0.9v0.9h-0.9zM63.11 99.14h0.9v0.9h-0.9zM59.49 105.64h0.9v0.9h-0.9zM63.16 103.23h0.9v0.9h-0.9zM74.01 97.18h0.9v0.9h-0.9zM76.5 95.77h0.9v0.9h-0.9zM65.58 104.01h0.9v0.9h-0.9zM70.93 129.83h0.9v0.9h-0.9zM88.86 80.08h0.9v0.9h-0.9zM95.18 113.69h0.9v0.9h-0.9zM70.85 96.52h0.9v0.9h-0.9zM92.61 101.92h0.9v0.9h-0.9zM71.34 91.65h0.9v0.9h-0.9zM59.75 85.26h0.9v0.9h-0.9zM63.11 103.47h0.9v0.9h-0.9zM74.02 122.71h0.9v0.9h-0.9zM88.27 116.29h0.9v0.9h-0.9zM73.1 125.65h0.9v0.9h-0.9zM74.63 99.06h0.9v0.9h-0.9zM82.85 103.64h0.9v0.9h-0.9zM93.39 130.57h0.9v0.9h-0.9zM68.46 119.05h0.9v0.9h-0.9zM86.18 116.1h0.9v0.9h-0.9zM85.1 107.17h0.9v0.9h-0.9zM62.25 117.84h0.9v0.9h-0.9zM75.5 93.9h0.9v0.9h-0.9zM73.76 103.12h0.9v0.9h-0.9zM94.65 78.92h0.9v0.9h-0.9zM89.19 110.77h0.9v0.9h-0.9zM84.69 112.92h0.9v0.9h-0.9zM61.97 125.75h0.9v0.9h-0.9zM64.32 126.57h0.9v0.9h-0.9zM64.59 82.45h0.9v0.9h-0.9zM71.17 93.82h0.9v0.9h-0.9zM75.14 116.17h0.9v0.9h-0.9zM58.95 121.16h0.9v0.9h-0.9zM71.21 100.4h0.9v0.9h-0.9zM82.14 122.91h0.9v0.9h-0.9zM75.06 94.03h0.9v0.9h-0.9zM87.3 115.53h0.9v0.9h-0.9zM61.05 103.06h0.9v0.9h-0.9zM74.01 121.93h0.9v0.9h-0.9zM60.37 113.27h0.9v0.9h-0.9zM95.68 128.02h0.9v0.9h-0.9zM65.62 124.54h0.9v0.9h-0.9zM67.88 114.46h0.9v0.9h-0.9zM83.42 115.82h0.9v0.9h-0.9zM87.78 121.11h0.9v0.9h-0.9zM81.87 108.57h0.9v0.9h-0.9zM64.2 108.17h0.9v0.9h-0.9zM88.37 110.86h0.9v0.9h-0.9zM68.97 99.16h0.9v0.9h-0.9zM61.71 114.43h0.9v0.9h-0.9zM61.64 112.96h0.9v0.9h-0.9zM72.76 127h0.9v0.9h-0.9zM76.8 94.95h0.9v0.9h-0.9zM78.61 111.33h0.9v0.9h-0.9zM69.37 112.67h0.9v0.9h-0.9zM71.15 130.38h0.9v0.9h-0.9zM81.96 114.52h0.9v0.9h-0.9zM60.66 119.35h0.9v0.9h-0.9zM90.31 101.97h0.9v0.9h-0.9zM63.81 96.58h0.9v0.9h-0.9zM66.57 114.03h0.9v0.9h-0.9zM68.59 99.32h0.9v0.9h-0.9zM89.95 110.61h0.9v0.9h-0.9zM69.33 108h0.9v0.9h-0.9zM69.18 111.97h0.9v0.9h-0.9zM76.78 85.01h0.9v0.9h-0.9zM85.27 105.61h0.9v0.9h-0.9zM64.24 115.36h0.9v0.9h-0.9zM82.31 110.44h0.9v0.9h-0.9zM75.58 96.47h0.9v0.9h-0.9zM56.89 118.34h0.9v0.9h-0.9zM76.69 115.37h0.9v0.9h-0.9zM67.09 115.31h0.9v0.9h-0.9zM98.2 97.54h0.9v0.9h-0.9zM62.65 105.64h0.9v0.9h-0.9zM92.56 133.95h0.9v0.9h-0.9zM68.85 124.25h0.9v0.9h-0.9zM71.11 107.58h0.9v0.9h-0.9zM64.42 107.65h0.9v0.9h-0.9zM47.7 111.02h0.9v0.9h-0.9zM72.33 89.94h0.9v0.9h-0.9zM73.66 98.19h0.9v0.9h-0.9zM69.73 96.74h0.9v0.9h-0.9zM81.07 91.36h0.9v0.9h-0.9zM65.44 113.43h0.9v0.9h-0.9zM80.95 102.1h0.9v0.9h-0.9zM68.98 115.9h0.9v0.9h-0.9zM93.13 101.73h0.9v0.9h-0.9zM78.79 112.56h0.9v0.9h-0.9zM67.57 122.49h0.9v0.9h-0.9zM85.97 108.97h0.9v0.9h-0.9zM63.16 118.12h0.9v0.9h-0.9zM74.8 122.37h0.9v0.9h-0.9zM50.17 101.41h0.9v0.9h-0.9zM64.08 114.4h0.9v0.9h-0.9zM74.89 108.64h0.9v0.9h-0.9zM82.27 97.68h0.9v0.9h-0.9zM64.63 105.34h0.9v0.9h-0.9zM79.69 87.07h0.9v0.9h-0.9zM84.24 97.83h0.9v0.9h-0.9zM75.82 120.56h0.9v0.9h-0.9zM79.84 121.76h0.9v0.9h-0.9zM71.86 99.9h0.9v0.9h-0.9zM83.35 101.41h0.9v0.9h-0.9zM75.11 95.64h0.9v0.9h-0.9zM89.72 94.34h0.9v0.9h-0.9zM68.3 102.73h0.9v0.9h-0.9zM93.09 118.29h0.9v0.9h-0.9zM66.17 123.29h0.9v0.9h-0.9zM67.53 104.06h0.9v0.9h-0.9zM74.48 102.55h0.9v0.9h-0.9zM75.15 105.62h0.9v0.9h-0.9zM59.81 126.29h0.9v0.9h-0.9zM66.59 102.66h0.9v0.9h-0.9zM85.06 112.08h0.9v0.9h-0.9zM91.62 107.09h0.9v0.9h-0.9zM80.01 121.51h0.9v0.9h-0.9zM79.52 93.51h0.9v0.9h-0.9zM55.87 109.18h0.9v0.9h-0.9zM71.24 115.05h0.9v0.9h-0.9zM66.81 97.24h0.9v0.9h-0.9zM70.8 88.78h0.9v0.9h-0.9zM74.07 97.36h0.9v0.9h-0.9zM74.98 139.35h0.9v0.9h-0.9zM56.62 128.56h0.9v0.9h-0.9zM63.07 122.91h0.9v0.9h-0.9zM62.45 121.29h0.9v0.9h-0.9zM64.76 94.71h0.9v0.9h-0.9zM87.27 112.81h0.9v0.9h-0.9zM85.23 102.73h0.9v0.9h-0.9zM69.79 112.27h0.9v0.9h-0.9zM74.24 109.01h0.9v0.9h-0.9zM75.78 113.77h0.9v0.9h-0.9zM64.29 118.43h0.9v0.9h-0.9zM63.92 115.9h0.9v0.9h-0.9zM63.13 100.77h0.9v0.9h-0.9zM71.74 121.44h0.9v0.9h-0.9zM80.17 123.68h0.9v0.9h-0.9zM89.39 108.26h0.9v0.9h-0.9zM96.33 121.12h0.9v0.9h-0.9zM77.65 115.65h0.9v0.9h-0.9zM68.52 129.95h0.9v0.9h-0.9zM76.4 107.04h0.9v0.9h-0.9zM72.51 108.26h0.9v0.9h-0.9zM72.91 107.36h0.9v0.9h-0.9zM83.63 102.78h0.9v0.9h-0.9zM77.33 118.98h0.9v0.9h-0.9zM79.42 117.08h0.9v0.9h-0.9zM69.62 105.44h0.9v0.9h-0.9zM79.25 94.91h0.9v0.9h-0.9zM67.37 118.76h0.9v0.9h-0.9zM72.35 102.49h0.9v0.9h-0.9zM61.14 108.92h0.9v0.9h-0.9zM76.86 105.91h0.9v0.9h-0.9zM76.75 123.55h0.9v0.9h-0.9zM78.79 115.42h0.9v0.9h-0.9zM74.93 130.72h0.9v0.9h-0.9zM64.91 119.24h0.9v0.9h-0.9zM66.93 105.81h0.9v0.9h-0.9zM78.41 110.01h0.9v0.9h-0.9zM54.99 120.57h0.9v0.9h-0.9zM78.47 96.93h0.9v0.9h-0.9zM73.98 112.71h0.9v0.9h-0.9zM83.01 126.04h0.9v0.9h-0.9zM67.54 98.94h0.9v0.9h-0.9zM65.05 106.9h0.9v0.9h-0.9zM73.62 85.48h0.9v0.9h-0.9zM76.69 95.72h0.9v0.9h-0.9zM71.23 116.76h0.9v0.9h-0.9zM64.06 106.23h0.9v0.9h-0.9zM56.56 102.75h0.9v0.9h-0.9zM61.7 116.16h0.9v0.9h-0.9zM53.9 94.98h0.9v0.9h-0.9zM75.85 95.61h0.9v0.9h-0.9zM85.82 111.24h0.9v0.9h-0.9zM74.91 113.82h0.9v0.9h-0.9zM59.05 114.73h0.9v0.9h-0.9zM85.17 103.66h0.9v0.9h-0.9zM55.99 103.11h0.9v0.9h-0.9zM57.81 114.37h0.9v0.9h-0.9zM80.02 126.27h0.9v0.9h-0.9zM64.45 96.26h0.9v0.9h-0.9zM55.71 95.24h0.9v0.9h-0.9zM93.59 109.95h0.9v0.9h-0.9zM68.13 99.55h0.9v0.9h-0.9zM77.91 96.72h0.9v0.9h-0.9zM71.37 123.05h0.9v0.9h-0.9zM75.08 95.01h0.9v0.9h-0.9zM63.22 112.18h0.9v0.9h-0.9zM70.57 111.28h0.9v0.9h-0.9zM83.05 112.81h0.9v0.9h-0.9zM71.76 96.92h0.9v0.9h-0.9zM70.5 109.57h0.9v0.9h-0.9zM80.57 107.84h0.9v0.9h-0.9zM62.95 130.92h0.9v0.9h-0.9zM65.58 133.65h0.9v0.9h-0.9zM72.58 100.73h0.9v0.9h-0.9zM71.58 102.86h0.9v0.9h-0.9zM84.77 99.63h0.9v0.9h-0.9zM64.52 88.53h0.9v0.9h-0.9zM69.81 112.71h0.9v0.9h-0.9zM69.23 98.25h0.9v0.9h-0.9zM55.51 118.31h0.9v0.9h-0.9zM74.64 115.77h0.9v0.9h-0.9zM60.86 100.35h0.9v0.9h-0.9zM68.49 110.05h0.9v0.9h-0.9zM55.55 121.85h0.9v0.9h-0.9zM73.66 101.83h0.9v0.9h-0.9zM67.39 96.01h0.9v0.9h-0.9zM83.15 105.27h0.9v0.9h-0.9zM62.18 101.29h0.9v0.9h-0.9zM79.07 95.41h0.9v0.9h-0.9zM74.36 119.82h0.9v0.9h-0.9zM66.95 103.33h0.9v0.9h-0.9zM88.16 132.8h0.9v0.9h-0.9zM75.11 101.58h0.9v0.9h-0.9zM69.61 114.74h0.9v0.9h-0.9zM82.62 108.8h0.9v0.9h-0.9zM89.16 122.86h0.9v0.9h-0.9zM72.36 107.48h0.9v0.9h-0.9zM72.04 115h0.9v0.9h-0.9zM60.29 101.78h0.9v0.9h-0.9zM68.12 107.32h0.9v0.9h-0.9zM69.41 102.84h0.9v0.9h-0.9zM59.57 95.22h0.9v0.9h-0.9zM70.43 94.34h0.9v0.9h-0.9zM80.7 123.42h0.9v0.9h-0.9zM83.53 134.56h0.9v0.9h-0.9zM77.63 105.63h0.9v0.9h-0.9zM52.39 96.99h0.9v0.9h-0.9zM73.4 109.79h0.9v0.9h-0.9zM62.18 95.71h0.9v0.9h-0.9zM80.2 102.48h0.9v0.9h-0.9zM62.64 106.27h0.9v0.9h-0.9zM71.08 114.4h0.9v0.9h-0.9zM84.53 98.78h0.9v0.9h-0.9zM80.08 119.31h0.9v0.9h-0.9zM69.87 112.25h0.9v0.9h-0.9zM68.26 110.99h0.9v0.9h-0.9zM83.64 133.27h0.9v0.9h-0.9zM86.39 93.53h0.9v0.9h-0.9zM73.08 99.75h0.9v0.9h-0.9zM62.86 122.35h0.9v0.9h-0.9zM63.37 90.46h0.9v0.9h-0.9zM73.78 95.31h0.9v0.9h-0.9zM60.8 92.94h0.9v0.9h-0.9zM65.72 112.6h0.9v0.9h-0.9zM50 103.87h0.9v0.9h-0.9zM67.98 103.1h0.9v0.9h-0.9zM63.41 92.01h0.9v0.9h-0.9zM63.33 92.51h0.9v0.9h-0.9zM91.05 114.96h0.9v0.9h-0.9zM93.98 101.4h0.9v0.9h-0.9zM72.41 105.34h0.9v0.9h-0.9zM71.55 105.76h0.9v0.9h-0.9zM76.5 108.84h0.9v0.9h-0.9zM60.4 126.07h0.9v0.9h-0.9zM76.88 115.06h0.9v0.9h-0.9zM81.2 127.59h0.9v0.9h-0.9zM71.49 106.42h0.9v0.9h-0.9zM61.96 99.17h0.9v0.9h-0.9zM57.87 92.87h0.9v0.9h-0.9zM67.98 97.4h0.9v0.9h-0.9zM63.93 99.15h0.9v0.9h-0.9zM75.38 138.31h0.9v0.9h-0.9zM73.82 114.25h0.9v0.9h-0.9zM70.38 115.11h0.9v0.9h-0.9zM84.45 101.56h0.9v0.9h-0.9zM65.73 115.73h0.9v0.9h-0.9zM82.19 103.94h0.9v0.9h-0.9zM61.98 113.75h0.9v0.9h-0.9zM72.43 102.51h0.9v0.9h-0.9zM89.39 115.41h0.9v0.9h-0.9zM66.72 121.55h0.9v0.9h-0.9zM79.74 110.23h0.9v0.9h-0.9zM80.3 128.46h0.9v0.9h-0.9zM63.98 101.14h0.9v0.9h-0.9zM74.07 112.81h0.9v0.9h-0.9zM68.55 104.64h0.9v0.9h-0.9zM59.59 113.2h0.9v0.9h-0.9zM73.89 108.69h0.9v0.9h-0.9zM88.16 113.4h0.9v0.9h-0.9zM88.88 116.68h0.9v0.9h-0.9zM54.55 122.36h0.9v0.9h-0.9zM77.95 92.8h0.9v0.9h-0.9zM77.8 99.96h0.9v0.9h-0.9zM82.24 115.55h0.9v0.9h-0.9zM67.45 122.57h0.9v0.9h-0.9zM82.49 137.88h0.9v0.9h-0.9zM90.5 108.27h0.9v0.9h-0.9zM64.54 97.31h0.9v0.9h-0.9zM70.36 117.61h0.9v0.9h-0.9zM66.99 108.8h0.9v0.9h-0.9zM85.33 130.13h0.9v0.9h-0.9zM58.78 102.46h0.9v0.9h-0.9zM68.27 95.7h0.9v0.9h-0.9zM55.54 116.67h0.9v0.9h-0.9zM78.29 107.79h0.9v0.9h-0.9zM60.71 114.41h0.9v0.9h-0.9zM61.32 107.74h0.9v0.9h-0.9zM72.39 92.74h0.9v0.9h-0.9zM78.48 95.55h0.9v0.9h-0.9zM84.62 138.2h0.9v0.9h-0.9zM67.82 87.87h0.9v0.9h-0.9zM62.6 133.42h0.9v0.9h-0.9zM77.57 112.74h0.9v0.9h-0.9zM86.78 113.44h0.9v0.9h-0.9z" fill="#2a9a1a" fill-opacity="0.7"/>
<circle cx="47.5" cy="114.8" r="1" fill="#8a8a10" />
</g>
<g clip-path="url(#c4)">
<rect x="129.6" y="80" width="66.1" height="62.5" fill="#1c0303" />
<path d="M153.1 135.95h1v1h-1zM136.59 135.93h1v1h-1zM133.45 100.48h1v1h-1zM158.52 131.34h1v1h-1zM159.89 87.92h1v1h-1zM164.73 87.09h1v1h-1zM168.83 138.23h1v1h-1zM134.98 106.77h1v1h-1zM163.2 85.36h1v1h-1zM153.13 139.15h1v1h-1zM140.73 115.99h1v1h-1zM162.6 120.56h1v1h-1zM184.62 111.74h1v1h-1zM180.13 137.95h1v1h-1zM179.27 109.2h1v1h-1zM143.41 128.99h1v1h-1zM142.32 83.88h1v1h-1zM147.91 80.86h1v1h-1zM158.8 108.03h1v1h-1zM173.69 93.03h1v1h-1zM187.96 98.92h1v1h-1zM135.22 131.38h1v1h-1zM164.68 121.21h1v1h-1zM140.87 90.51h1v1h-1zM143.69 106.36h1v1h-1zM146.31 128.36h1v1h-1zM139.74 114.83h1v1h-1zM191.55 100.52h1v1h-1zM180.02 138.11h1v1h-1zM180.79 126.85h1v1h-1zM144.86 119.51h1v1h-1zM133.36 94.11h1v1h-1zM174.35 106.66h1v1h-1zM129.9 82.11h1v1h-1zM174.93 117.59h1v1h-1zM182.63 107.47h1v1h-1zM178.15 138.21h1v1h-1zM139.29 102.76h1v1h-1zM186.08 127.36h1v1h-1zM166.83 132.18h1v1h-1zM194.22 114.9h1v1h-1zM148.06 111.38h1v1h-1zM148.65 98.34h1v1h-1zM164.35 83.87h1v1h-1zM133.23 103.15h1v1h-1zM137.18 111.5h1v1h-1zM147.75 124.38h1v1h-1zM133.28 141.38h1v1h-1zM151.99 101.79h1v1h-1zM180.36 140.99h1v1h-1zM162 127.53h1v1h-1zM134.07 105.52h1v1h-1zM160.66 131.73h1v1h-1zM156.89 107.15h1v1h-1zM159.78 112.09h1v1h-1zM135.01 111.73h1v1h-1zM154.71 92.55h1v1h-1zM170.58 82.35h1v1h-1zM139.05 141.59h1v1h-1zM152.9 130.05h1v1h-1zM193.82 133.53h1v1h-1zM182.17 85.86h1v1h-1zM186.04 95.06h1v1h-1zM195.29 81.11h1v1h-1zM174.12 107.16h1v1h-1zM147.15 101.3h1v1h-1zM177.07 85.2h1v1h-1zM178.86 96.79h1v1h-1zM157.74 139.34h1v1h-1zM195.59 131.74h1v1h-1zM184.64 103.21h1v1h-1zM170.48 127.76h1v1h-1zM145.22 124.39h1v1h-1zM141.18 121.77h1v1h-1zM192.97 139.74h1v1h-1zM185.79 92.07h1v1h-1zM171.2 94.43h1v1h-1zM156.97 125.75h1v1h-1zM139.13 122.14h1v1h-1zM160.42 131.94h1v1h-1zM169.06 133.44h1v1h-1zM192.11 130.07h1v1h-1zM176.63 86.26h1v1h-1zM142 83.93h1v1h-1zM167.38 93.56h1v1h-1zM150.65 104.45h1v1h-1zM140.94 98.26h1v1h-1zM148.06 135.11h1v1h-1zM144.69 87.46h1v1h-1zM192.28 88.89h1v1h-1zM191.06 101.98h1v1h-1zM169.06 116.99h1v1h-1zM189.21 112.75h1v1h-1zM135.57 107.13h1v1h-1zM152 112.85h1v1h-1zM165.32 141.01h1v1h-1zM163.94 97.85h1v1h-1zM163.75 100.17h1v1h-1zM139.43 86.26h1v1h-1zM173.26 89.49h1v1h-1zM144.31 98.91h1v1h-1zM157.49 136.63h1v1h-1zM147.02 119.27h1v1h-1zM170.87 134.23h1v1h-1zM171.97 138.08h1v1h-1zM158.86 83.53h1v1h-1zM166.64 80.02h1v1h-1zM191.88 98.62h1v1h-1zM162.72 120.19h1v1h-1zM137.05 102.68h1v1h-1zM153.82 139.61h1v1h-1zM139.53 131.05h1v1h-1zM173.9 125.52h1v1h-1zM182.99 110.56h1v1h-1zM193.04 114.22h1v1h-1zM152.89 83.48h1v1h-1zM137.37 111.06h1v1h-1zM174.98 85.83h1v1h-1zM133.64 125.73h1v1h-1zM134.38 80.7h1v1h-1zM168.91 141.18h1v1h-1zM170.19 140.09h1v1h-1zM144.86 124.86h1v1h-1zM166.24 105.37h1v1h-1zM168.06 123.45h1v1h-1zM139.94 122.07h1v1h-1zM185.36 83.5h1v1h-1zM131.54 137.72h1v1h-1zM173.54 108.25h1v1h-1zM131.91 124.05h1v1h-1zM182.23 103.9h1v1h-1zM172.36 127.92h1v1h-1zM132.11 112.79h1v1h-1zM141.78 118.34h1v1h-1zM148.25 87.42h1v1h-1zM167.68 91.54h1v1h-1zM168.81 109.91h1v1h-1zM179.9 95.89h1v1h-1zM187.42 114.69h1v1h-1zM183.42 122.34h1v1h-1zM138.37 94.41h1v1h-1zM151.83 107.52h1v1h-1zM152.63 127.89h1v1h-1zM176.83 80.71h1v1h-1zM190.5 125.77h1v1h-1zM167.34 132.58h1v1h-1zM130.56 114.16h1v1h-1zM179.33 135.96h1v1h-1zM149.06 139.44h1v1h-1zM170.92 141.64h1v1h-1zM166.04 136.45h1v1h-1zM167.74 111.51h1v1h-1zM186.5 123.19h1v1h-1zM166.12 111.22h1v1h-1zM160.81 101.54h1v1h-1zM156.59 122.44h1v1h-1zM136.13 131.36h1v1h-1zM182.96 92.9h1v1h-1zM176.01 117.69h1v1h-1zM168.44 83.73h1v1h-1zM195.29 93.84h1v1h-1zM187.41 141.78h1v1h-1zM181.83 103.55h1v1h-1zM133.01 83.19h1v1h-1zM179.97 134.71h1v1h-1zM187.91 126.9h1v1h-1zM147.96 134.74h1v1h-1zM167.91 123.64h1v1h-1zM136.44 133.21h1v1h-1zM152.6 109.18h1v1h-1zM177.82 106.21h1v1h-1zM176.23 135.97h1v1h-1zM191.45 81.65h1v1h-1zM179.12 141.33h1v1h-1zM186.8 121.67h1v1h-1zM141.73 85.06h1v1h-1zM169.1 126.65h1v1h-1zM170.05 81.64h1v1h-1zM142.21 133.36h1v1h-1zM133.62 104.91h1v1h-1zM147.42 106.36h1v1h-1zM190.44 135.6h1v1h-1zM159.47 84.35h1v1h-1zM143.34 81.92h1v1h-1zM156.82 132.45h1v1h-1zM158.66 91.12h1v1h-1zM142.26 85.8h1v1h-1zM175.52 102.62h1v1h-1zM190.58 122.52h1v1h-1zM164.61 114.85h1v1h-1zM130.1 97.44h1v1h-1zM153.35 81.75h1v1h-1zM195.11 106.58h1v1h-1zM154 122.04h1v1h-1zM183.82 108.93h1v1h-1zM176.73 126.48h1v1h-1zM136.9 125.85h1v1h-1zM180 134.87h1v1h-1zM143.44 101.4h1v1h-1zM158.11 124.03h1v1h-1z" fill="#4a0808" fill-opacity="0.8"/>
<ellipse cx="158.7" cy="115" rx="25" ry="24" fill="url(#g4)"/>
<path d="M159.26 111.59h1v1h-1zM165.87 119.81h1v1h-1zM175.9 109.26h1v1h-1zM156.02 118.19h1v1h-1zM154.95 125.14h1v1h-1zM165.41 126.18h1v1h-1zM152.19 113.62h1v1h-1zM167.42 113.14h1v1h-1zM147.88 107.41h1v1h-1zM130.88 132.59h1v1h-1zM153.27 106.9h1v1h-1zM149.87 110.86h1v1h-1zM156.84 124.2h1v1h-1zM161.49 110.27h1v1h-1zM150.53 112.98h1v1h-1zM161.58 111.59h1v1h-1zM149.44 115.74h1v1h-1zM143.97 126.21h1v1h-1zM156.45 111.44h1v1h-1zM180.93 110.95h1v1h-1zM164.09 117.13h1v1h-1zM136.31 102.67h1v1h-1zM160.23 118.45h1v1h-1zM153.56 119.06h1v1h-1zM151.4 120.87h1v1h-1zM153.43 111.77h1v1h-1zM139.33 127.83h1v1h-1zM160.4 131.34h1v1h-1zM148.98 124.73h1v1h-1zM176.59 115.91h1v1h-1zM155.96 107.23h1v1h-1zM159.42 107.14h1v1h-1zM164.66 111.75h1v1h-1zM158.93 112.19h1v1h-1zM159.35 110.1h1v1h-1zM157.21 112.12h1v1h-1zM151.8 105.51h1v1h-1zM144.91 116.15h1v1h-1zM160.97 129.94h1v1h-1zM155.87 116.67h1v1h-1zM182.33 111.86h1v1h-1zM170.06 118.29h1v1h-1zM154.97 109.67h1v1h-1zM154.58 110.74h1v1h-1zM159.14 116.9h1v1h-1zM138.82 94.24h1v1h-1zM150.77 120.37h1v1h-1zM155.83 119.96h1v1h-1zM151.96 128.71h1v1h-1zM152.69 108.51h1v1h-1zM139.5 120.81h1v1h-1zM170.41 134.07h1v1h-1zM156.88 103.58h1v1h-1zM176.51 106.39h1v1h-1zM163.97 127.92h1v1h-1zM142.66 124.95h1v1h-1zM168.01 122.67h1v1h-1zM174.74 119.54h1v1h-1zM161.35 127.4h1v1h-1zM152.98 97.43h1v1h-1zM150.77 119.33h1v1h-1zM177.37 103.11h1v1h-1zM141.48 127.26h1v1h-1zM165.47 110.89h1v1h-1zM159.69 113.71h1v1h-1zM155.58 116.09h1v1h-1zM142.46 107.75h1v1h-1zM154.37 103.1h1v1h-1zM164.64 116.24h1v1h-1zM172.77 110.68h1v1h-1zM157.22 115.37h1v1h-1zM140.37 109.22h1v1h-1zM160.57 127.18h1v1h-1zM144.36 114.08h1v1h-1zM142.98 104.74h1v1h-1zM174.01 112h1v1h-1zM155.9 103.79h1v1h-1zM150.66 128.83h1v1h-1zM160.44 122.28h1v1h-1zM146.85 97.48h1v1h-1zM163 122.29h1v1h-1zM164.72 118.24h1v1h-1zM162.33 113.43h1v1h-1zM159.01 97.72h1v1h-1zM158.23 124.45h1v1h-1zM167.09 125.27h1v1h-1zM158.97 118.93h1v1h-1zM152.62 113.9h1v1h-1zM170.29 119.61h1v1h-1zM191.54 124.17h1v1h-1zM146.26 110.37h1v1h-1zM148.43 116.47h1v1h-1zM154.61 112.33h1v1h-1zM153.89 95.82h1v1h-1zM142.15 114.6h1v1h-1zM159.04 100.27h1v1h-1zM157.83 131.4h1v1h-1zM154.82 132.62h1v1h-1zM155.24 126.42h1v1h-1zM144.93 114.64h1v1h-1zM161.51 117.36h1v1h-1zM165.79 110.06h1v1h-1zM172.95 113.53h1v1h-1zM149.59 124.43h1v1h-1zM148.2 78.87h1v1h-1zM173.08 99.45h1v1h-1zM175.23 114.94h1v1h-1zM151.56 114.82h1v1h-1zM163.99 109.49h1v1h-1zM146.16 122.47h1v1h-1zM160.98 119.33h1v1h-1zM156.65 104.47h1v1h-1zM156.08 98.34h1v1h-1zM167.91 113.97h1v1h-1zM165.05 120.93h1v1h-1zM164.56 113.74h1v1h-1zM157.86 104.12h1v1h-1zM164.5 96.04h1v1h-1zM145.82 115.14h1v1h-1zM156.72 119.09h1v1h-1zM164.78 119.34h1v1h-1zM159.86 139.63h1v1h-1zM177.05 120.26h1v1h-1zM185.71 126.04h1v1h-1zM155.3 107.18h1v1h-1zM146.99 103.65h1v1h-1zM161.41 110.08h1v1h-1zM173.41 107.21h1v1h-1zM162.06 113.16h1v1h-1zM174.7 108.21h1v1h-1zM166.33 130.26h1v1h-1zM155.95 104.66h1v1h-1zM155.36 107.93h1v1h-1zM164.11 123.65h1v1h-1zM162.55 109.89h1v1h-1zM159.47 126.15h1v1h-1zM141.66 99.99h1v1h-1zM152.45 109.79h1v1h-1zM151.95 128.43h1v1h-1zM179.41 104.47h1v1h-1zM151.42 111.36h1v1h-1zM162.45 109.58h1v1h-1zM165.19 110.09h1v1h-1zM160.13 116.78h1v1h-1zM150.15 118.62h1v1h-1zM154.72 95.52h1v1h-1zM137.61 125.26h1v1h-1zM168.12 114.72h1v1h-1zM160.43 118.35h1v1h-1zM158.01 124.02h1v1h-1zM167.22 114.54h1v1h-1zM172.32 135.2h1v1h-1zM147.09 106.47h1v1h-1zM162.82 104.59h1v1h-1zM161.05 101.42h1v1h-1zM159.79 115.67h1v1h-1zM158.9 113.21h1v1h-1zM160.11 105.5h1v1h-1zM161.28 113.46h1v1h-1zM179.53 121.71h1v1h-1zM163.91 131.26h1v1h-1zM163.27 127.21h1v1h-1zM162.61 126.68h1v1h-1zM156.92 102.17h1v1h-1zM164.3 108.36h1v1h-1zM145.22 111.07h1v1h-1zM171.7 108.11h1v1h-1zM169.99 116.65h1v1h-1zM167.45 115.72h1v1h-1zM166.43 109.6h1v1h-1zM139.46 126.97h1v1h-1zM157.33 110.4h1v1h-1zM173.29 113.8h1v1h-1zM172.13 102h1v1h-1zM164.73 114.76h1v1h-1zM160.56 115.88h1v1h-1zM158.48 114.99h1v1h-1zM158.89 109.62h1v1h-1zM160.87 106.77h1v1h-1zM155.18 115.53h1v1h-1zM158.95 115.34h1v1h-1zM156.44 113.44h1v1h-1zM166.08 121.63h1v1h-1zM170.61 112.4h1v1h-1zM151.25 110.75h1v1h-1zM160.83 115.09h1v1h-1zM130.77 109.53h1v1h-1zM153.42 108.89h1v1h-1zM142.13 134.06h1v1h-1zM163.63 135.94h1v1h-1zM144.27 121.91h1v1h-1zM155.52 114.95h1v1h-1zM171.2 128.21h1v1h-1zM148.51 104.87h1v1h-1zM176.74 107.46h1v1h-1zM139.53 129.63h1v1h-1zM145.19 115.44h1v1h-1zM167.86 127.53h1v1h-1zM158.69 118.52h1v1h-1zM154.92 114.22h1v1h-1zM183.94 104.41h1v1h-1zM158.75 109.15h1v1h-1zM149.04 115.75h1v1h-1zM171.64 104h1v1h-1zM152.89 133.88h1v1h-1zM162.68 122.49h1v1h-1zM166.04 116.36h1v1h-1zM158.46 111h1v1h-1zM153.56 132.54h1v1h-1zM177.84 128.69h1v1h-1zM161.8 131.67h1v1h-1zM151.66 123.36h1v1h-1zM153.14 126.27h1v1h-1zM148.62 118.52h1v1h-1zM153.89 114.21h1v1h-1zM152.44 110.52h1v1h-1zM149.17 117.12h1v1h-1zM166.08 120.18h1v1h-1zM157.68 113.97h1v1h-1zM169 134.82h1v1h-1zM156.47 116.04h1v1h-1zM156.95 99.89h1v1h-1zM156.38 113.35h1v1h-1zM161.03 114.99h1v1h-1zM152.43 106.02h1v1h-1zM165.41 104.7h1v1h-1zM143.58 119.66h1v1h-1zM172.93 122.52h1v1h-1zM167.66 109.42h1v1h-1zM148.12 115.52h1v1h-1zM147.79 123.85h1v1h-1zM144.21 108.17h1v1h-1zM155.77 111.4h1v1h-1zM159.95 102.5h1v1h-1zM171.86 134.33h1v1h-1zM162.28 131.09h1v1h-1zM149.76 128.42h1v1h-1zM155.7 111.43h1v1h-1zM146.81 106.84h1v1h-1zM135.27 116.05h1v1h-1zM172.99 118.45h1v1h-1zM168.23 121.71h1v1h-1zM169.65 131.58h1v1h-1zM153.42 122.1h1v1h-1zM163.96 127.29h1v1h-1zM161.85 128.62h1v1h-1zM154.05 113.82h1v1h-1zM161.52 119.22h1v1h-1zM173.36 119.19h1v1h-1zM144.71 113.16h1v1h-1zM142.46 105.7h1v1h-1zM148.78 93.34h1v1h-1zM151.53 100.32h1v1h-1zM154.06 113.28h1v1h-1zM151.67 112.29h1v1h-1zM146.94 121.7h1v1h-1zM163.2 122.7h1v1h-1zM164.53 96.02h1v1h-1zM158.9 108.89h1v1h-1zM145.34 129.51h1v1h-1zM167.7 103.36h1v1h-1zM176.24 102.64h1v1h-1zM164.54 92.89h1v1h-1zM140.75 125.05h1v1h-1zM166.08 126.05h1v1h-1zM150.63 106.87h1v1h-1zM156.92 129.23h1v1h-1zM145.75 114.57h1v1h-1zM159.03 103.21h1v1h-1zM142.08 116.86h1v1h-1zM170.3 102.87h1v1h-1zM167.38 101.9h1v1h-1zM166.23 114.15h1v1h-1zM162.6 119.64h1v1h-1zM157.25 110.8h1v1h-1zM179.13 122.65h1v1h-1zM155.58 113.74h1v1h-1zM147.53 115.13h1v1h-1zM170.21 116.76h1v1h-1zM155.33 130.84h1v1h-1zM139.66 117.56h1v1h-1zM153.44 128.11h1v1h-1zM173.19 95.83h1v1h-1zM161.65 146.55h1v1h-1zM182.45 126h1v1h-1zM157.07 106.9h1v1h-1zM159.99 110.56h1v1h-1zM159.19 109.6h1v1h-1zM155 119.59h1v1h-1zM157.39 87.76h1v1h-1zM185.94 136.06h1v1h-1zM161.11 121.92h1v1h-1zM156.77 112.84h1v1h-1zM148.59 132.76h1v1h-1zM151.86 121.64h1v1h-1zM146.69 104.96h1v1h-1zM159.17 103.78h1v1h-1zM155.01 106.8h1v1h-1zM159.06 113.07h1v1h-1zM153.46 114.66h1v1h-1zM177.41 117.38h1v1h-1zM158.93 131.68h1v1h-1zM173.78 113.38h1v1h-1zM153.97 80.9h1v1h-1zM141.95 94.87h1v1h-1zM143.52 130.05h1v1h-1zM129.94 110.52h1v1h-1zM160.99 121.64h1v1h-1zM152.03 130.94h1v1h-1zM155.84 97.19h1v1h-1zM157.94 124.95h1v1h-1zM150.97 132.09h1v1h-1zM163.37 129.39h1v1h-1zM153.06 116.4h1v1h-1zM152.49 121.06h1v1h-1zM159.54 126.18h1v1h-1zM155.08 88.27h1v1h-1zM167.73 112.71h1v1h-1zM168.98 96.31h1v1h-1zM153.06 124.23h1v1h-1zM151.8 101.18h1v1h-1zM153.3 104.77h1v1h-1zM157.35 111.75h1v1h-1zM154.39 116.03h1v1h-1zM180.79 103.89h1v1h-1zM162.28 120.88h1v1h-1zM163.13 122.25h1v1h-1zM140.12 129.94h1v1h-1zM163.81 127.5h1v1h-1zM172.84 116.22h1v1h-1zM158.29 107.16h1v1h-1zM154.92 113.66h1v1h-1zM166.9 109.37h1v1h-1zM133.88 103.37h1v1h-1zM165.12 116.58h1v1h-1zM131.7 119.61h1v1h-1zM160.56 123.65h1v1h-1zM146.76 115.98h1v1h-1zM156.75 107.42h1v1h-1zM164.11 123.62h1v1h-1zM172.46 100.44h1v1h-1zM161.43 108.39h1v1h-1zM149.64 121.03h1v1h-1zM156.57 105.34h1v1h-1zM165.19 115.06h1v1h-1zM155.87 118.79h1v1h-1zM169.68 117.65h1v1h-1zM164.09 128.86h1v1h-1zM152.73 128.63h1v1h-1zM151.91 114.77h1v1h-1zM165.69 94.73h1v1h-1zM145.82 112.82h1v1h-1zM157.81 139.7h1v1h-1zM159.72 116.32h1v1h-1zM159.54 97.3h1v1h-1zM152.86 111.19h1v1h-1zM161.19 119.9h1v1h-1zM163.47 123.99h1v1h-1zM158.28 114.77h1v1h-1zM142.04 105.83h1v1h-1zM167.83 93.99h1v1h-1zM159.2 108.06h1v1h-1zM173.08 122.88h1v1h-1zM137.9 119.79h1v1h-1zM169.79 135.42h1v1h-1zM160.6 114.69h1v1h-1zM142.13 124.94h1v1h-1zM147.21 108.39h1v1h-1zM160.6 119.13h1v1h-1zM142.23 106.7h1v1h-1zM156.94 108.55h1v1h-1zM157.14 114.81h1v1h-1zM168.96 93.66h1v1h-1zM159.4 102.52h1v1h-1zM162.43 126.14h1v1h-1zM147.73 123.07h1v1h-1zM154.58 89.72h1v1h-1zM150.96 123.09h1v1h-1zM155.23 115.54h1v1h-1zM151.1 128.33h1v1h-1zM158.81 120.18h1v1h-1zM152.98 119.46h1v1h-1zM155.74 124.14h1v1h-1zM164.7 109.67h1v1h-1zM157.62 109.33h1v1h-1zM145.46 111.69h1v1h-1zM148.5 116.45h1v1h-1zM158.36 113.47h1v1h-1zM152.77 109.03h1v1h-1zM168.93 118.44h1v1h-1zM156.67 116.03h1v1h-1zM157.27 122.28h1v1h-1zM168.19 127.21h1v1h-1zM148.82 122.65h1v1h-1zM153.84 98.93h1v1h-1zM159.61 105.48h1v1h-1zM144.91 116.04h1v1h-1zM154.66 117.35h1v1h-1zM164.06 117.99h1v1h-1zM183.16 117.26h1v1h-1zM169.33 121.1h1v1h-1zM152.89 112.28h1v1h-1zM146.14 112.82h1v1h-1zM163.98 111.44h1v1h-1zM162.64 114.49h1v1h-1zM159.27 115.46h1v1h-1zM159.97 105.56h1v1h-1zM157.24 101.84h1v1h-1zM163.42 120.64h1v1h-1zM147.01 137.44h1v1h-1zM168.7 107.84h1v1h-1zM150.52 105.75h1v1h-1zM168.76 111.13h1v1h-1zM139.02 104.2h1v1h-1zM160.62 117.71h1v1h-1zM164.68 112.18h1v1h-1zM134.89 116.35h1v1h-1zM161.99 124.55h1v1h-1zM152.03 124.85h1v1h-1zM172.96 101.63h1v1h-1zM159.88 121.47h1v1h-1zM157.45 113.74h1v1h-1zM165.23 124.69h1v1h-1zM156.36 103.51h1v1h-1zM158.09 120.1h1v1h-1zM167.05 118.92h1v1h-1zM162.04 125.02h1v1h-1zM152.2 119.16h1v1h-1zM136.33 112.23h1v1h-1zM156.81 116.84h1v1h-1zM158.68 108.46h1v1h-1zM144.61 124.5h1v1h-1zM156.11 130.49h1v1h-1zM165.65 128.77h1v1h-1zM149.9 127.23h1v1h-1zM171.79 113.77h1v1h-1zM151.23 122.64h1v1h-1zM155.23 118.79h1v1h-1zM165.23 117.29h1v1h-1zM151.55 108.87h1v1h-1zM146.28 110.4h1v1h-1zM166.23 111.71h1v1h-1zM148.94 111.16h1v1h-1zM165.46 108.13h1v1h-1zM162.99 110.75h1v1h-1zM162.55 123.61h1v1h-1zM154.5 104.54h1v1h-1zM148.05 104.19h1v1h-1zM161.83 123.22h1v1h-1zM167.89 101.3h1v1h-1z" fill="#c81c1c" fill-opacity="0.6"/>
<circle cx="135" cy="112" r="5" fill="url(#g5)"/>
<circle cx="187.6" cy="113.4" r="4" fill="url(#g6)"/>
<circle cx="173.2" cy="87" r="5" fill="url(#g7)"/>
<circle cx="191.6" cy="131.7" r="3" fill="url(#g8)"/>
<circle cx="142" cy="125" r="3" fill="url(#g9)"/>
<circle cx="150" cy="95" r="3" fill="url(#g10)"/>
<circle cx="173.2" cy="87" r="3" fill="#b05020" fill-opacity="0.8"/>
<circle cx="174" cy="86.5" r="0.9" fill="#60c020" />
<circle cx="179.8" cy="105" r="1.4" fill="#22dd22" />
<circle cx="131" cy="137" r="2" fill="#806010" />
</g>
<text x="46.5" y="139" font-size="9" font-weight="bold"><tspan fill="#e00000">tdT</tspan><tspan fill="#ffffff"> / </tspan><tspan fill="#10b050">GFP</tspan></text>
<rect x="103" y="137.7" width="5.9" height="2.5" fill="#ffffff" />
<text x="131.6" y="139" font-size="9" font-weight="bold"><tspan fill="#e00000">tdT</tspan><tspan fill="#ffffff"> / </tspan><tspan fill="#10b050">GFP</tspan></text>
<rect x="188.3" y="137.7" width="5.9" height="2.5" fill="#ffffff" />
<line x1="262.1" y1="21.2" x2="262.1" y2="127.8" stroke="#222" stroke-width="1.3" stroke-linecap="square"/>
<line x1="258.1" y1="127.8" x2="262.1" y2="127.8" stroke="#222" stroke-width="1.3" />
<text x="256.6" y="130.44" font-size="8.5" text-anchor="end" fill="#000">0</text>
<line x1="258.1" y1="101.15" x2="262.1" y2="101.15" stroke="#222" stroke-width="1.3" />
<text x="256.6" y="103.79" font-size="8.5" text-anchor="end" fill="#000">50</text>
<line x1="258.1" y1="74.5" x2="262.1" y2="74.5" stroke="#222" stroke-width="1.3" />
<text x="256.6" y="77.14" font-size="8.5" text-anchor="end" fill="#000">100</text>
<line x1="258.1" y1="47.85" x2="262.1" y2="47.85" stroke="#222" stroke-width="1.3" />
<text x="256.6" y="50.49" font-size="8.5" text-anchor="end" fill="#000">150</text>
<line x1="258.1" y1="21.2" x2="262.1" y2="21.2" stroke="#222" stroke-width="1.3" />
<text x="256.6" y="23.84" font-size="8.5" text-anchor="end" fill="#000">200</text>
<line x1="262.1" y1="127.8" x2="369.8" y2="127.8" stroke="#222" stroke-width="1.3" stroke-linecap="square"/>
<line x1="287.4" y1="127.8" x2="287.4" y2="132.1" stroke="#222" stroke-width="1.3" />
<line x1="344.6" y1="127.8" x2="344.6" y2="132.1" stroke="#222" stroke-width="1.3" />
<path d="M269.3 127.8V122.2H283V127.8" fill="none" stroke="#f23c44" stroke-width="1.6"/>
<path d="M291.1 127.8V81.16H304V127.8" fill="none" stroke="#00bd00" stroke-width="1.6"/>
<path d="M327 127.8V110.9H340.6V127.8" fill="none" stroke="#f23c44" stroke-width="1.6"/>
<path d="M348.4 127.8V126.3H361.6V127.8" fill="none" stroke="#00bd00" stroke-width="1.6"/>
<line x1="276.5" y1="125.13" x2="276.5" y2="119.27" stroke="#f23c44" stroke-width="0.9" />
<line x1="273.5" y1="119.27" x2="279.5" y2="119.27" stroke="#f23c44" stroke-width="0.9" />
<line x1="273.5" y1="125.13" x2="279.5" y2="125.13" stroke="#f23c44" stroke-width="0.9" />
<line x1="297.6" y1="115.01" x2="297.6" y2="47.85" stroke="#55cc55" stroke-width="0.9" />
<line x1="295" y1="47.85" x2="300.2" y2="47.85" stroke="#00bd00" stroke-width="0.9" />
<line x1="333.8" y1="116.61" x2="333.8" y2="105.41" stroke="#f23c44" stroke-width="0.9" />
<line x1="330.8" y1="105.41" x2="336.8" y2="105.41" stroke="#f23c44" stroke-width="0.9" />
<line x1="330.8" y1="116.61" x2="336.8" y2="116.61" stroke="#f23c44" stroke-width="0.9" />
<circle cx="271.5" cy="124.6" r="2.3" fill="#f23c44" />
<circle cx="276.5" cy="119.27" r="2.3" fill="#f23c44" />
<circle cx="281.5" cy="121.4" r="2.3" fill="#f23c44" />
<circle cx="297.6" cy="47.85" r="2.3" fill="#00bd00" />
<circle cx="297.6" cy="80.9" r="2.3" fill="#00bd00" />
<circle cx="297.6" cy="115.01" r="2.3" fill="#00bd00" />
<circle cx="329.5" cy="113.41" r="2.3" fill="#f23c44" />
<circle cx="333.8" cy="105.41" r="2.3" fill="#f23c44" />
<circle cx="338.5" cy="111.81" r="2.3" fill="#f23c44" />
<circle cx="331" cy="116.07" r="2.3" fill="#f23c44" />
<circle cx="350.5" cy="126.47" r="2.3" fill="#00bd00" />
<circle cx="355" cy="125.67" r="2.3" fill="#00bd00" />
<circle cx="359.5" cy="126.47" r="2.3" fill="#00bd00" />
<text x="287.4" y="140.2" font-size="10.5" text-anchor="middle">BM</text>
<text x="344.6" y="140.2" font-size="10.5" text-anchor="middle">Ao</text>
<text x="287.3" y="32.9" font-size="11.5" text-anchor="middle">p=0.05</text>
<line x1="276.4" y1="36.6" x2="298.2" y2="36.6" stroke="#000" stroke-width="1.3" />
<text x="344.4" y="87.4" font-size="11.5" text-anchor="middle">p=0.004</text>
<line x1="332.4" y1="91.9" x2="353.8" y2="91.9" stroke="#000" stroke-width="1.3" />
<text transform="translate(218 69.3) rotate(-90)" font-size="13.5" text-anchor="middle">CFU-M</text>
<text transform="translate(233.2 69.3) rotate(-90)" font-size="13.5" text-anchor="middle">per 10<tspan dy="-4.6" font-size="9.72">5</tspan><tspan dy="4.6">​</tspan> cells</text>
<circle cx="328.6" cy="20.8" r="2.2" fill="#f23c44" />
<circle cx="328.6" cy="37.2" r="2.2" fill="#00bd00" />
<text x="340.7" y="24.6" font-size="10.3">Flt3<tspan dy="-3.6" font-size="7.73">-</tspan><tspan dy="3.6">​</tspan>/GFP<tspan dy="-3.6" font-size="7.73">-</tspan><tspan dy="3.6">​</tspan>tdTom<tspan dy="-3.6" font-size="7.73">+</tspan><tspan dy="3.6">​</tspan></text>
<text x="340.7" y="40.7" font-size="10.3">Flt3<tspan dy="-3.6" font-size="7.73">+</tspan><tspan dy="3.6">​</tspan>/GFP<tspan dy="-3.6" font-size="7.73">+</tspan><tspan dy="3.6">​</tspan>tdTom<tspan dy="-3.6" font-size="7.73">-</tspan><tspan dy="3.6">​</tspan></text>
<text x="459.5" y="23.2" font-size="24" font-weight="bold">b</text>
<rect x="494.4" y="16.7" width="181" height="22.2" fill="#e6e6e6" />
<text x="585" y="32.3" font-size="12.8" text-anchor="middle" font-weight="bold">Ao CFU-M</text>
<rect x="495.2" y="43.4" width="75.5" height="75" fill="none" stroke="#999" stroke-width="0.7" />
<line x1="493.2" y1="46.5" x2="495.2" y2="46.5" stroke="#666" stroke-width="0.6" />
<rect x="488.7" y="45.9" width="2.6" height="1.2" fill="#bbb" />
<line x1="493.2" y1="60.7" x2="495.2" y2="60.7" stroke="#666" stroke-width="0.6" />
<rect x="488.7" y="60.1" width="2.6" height="1.2" fill="#bbb" />
<line x1="493.2" y1="74.9" x2="495.2" y2="74.9" stroke="#666" stroke-width="0.6" />
<rect x="488.7" y="74.3" width="2.6" height="1.2" fill="#bbb" />
<line x1="493.2" y1="89.1" x2="495.2" y2="89.1" stroke="#666" stroke-width="0.6" />
<rect x="488.7" y="88.5" width="2.6" height="1.2" fill="#bbb" />
<line x1="493.2" y1="103.3" x2="495.2" y2="103.3" stroke="#666" stroke-width="0.6" />
<rect x="488.7" y="102.7" width="2.6" height="1.2" fill="#bbb" />
<line x1="493.2" y1="117.5" x2="495.2" y2="117.5" stroke="#666" stroke-width="0.6" />
<rect x="488.7" y="116.9" width="2.6" height="1.2" fill="#bbb" />
<line x1="508.2" y1="118.4" x2="508.2" y2="120.4" stroke="#666" stroke-width="0.6" />
<rect x="506.9" y="122" width="2.6" height="1.3" fill="#bbb" />
<line x1="517.2" y1="118.4" x2="517.2" y2="120.4" stroke="#666" stroke-width="0.6" />
<rect x="515.9" y="122" width="2.6" height="1.3" fill="#bbb" />
<line x1="530.2" y1="118.4" x2="530.2" y2="120.4" stroke="#666" stroke-width="0.6" />
<rect x="528.9" y="122" width="2.6" height="1.3" fill="#bbb" />
<line x1="551.2" y1="118.4" x2="551.2" y2="120.4" stroke="#666" stroke-width="0.6" />
<rect x="549.9" y="122" width="2.6" height="1.3" fill="#bbb" />
<text x="532.6" y="137.7" font-size="13.5" text-anchor="middle">tdTom</text>
<text transform="translate(484.2 80.8) rotate(-90)" font-size="13.5" text-anchor="middle">Norm. Mode</text>
<rect x="601.2" y="43.4" width="75.5" height="75" fill="none" stroke="#999" stroke-width="0.7" />
<line x1="599.2" y1="46.5" x2="601.2" y2="46.5" stroke="#666" stroke-width="0.6" />
<rect x="594.7" y="45.9" width="2.6" height="1.2" fill="#bbb" />
<line x1="599.2" y1="60.7" x2="601.2" y2="60.7" stroke="#666" stroke-width="0.6" />
<rect x="594.7" y="60.1" width="2.6" height="1.2" fill="#bbb" />
<line x1="599.2" y1="74.9" x2="601.2" y2="74.9" stroke="#666" stroke-width="0.6" />
<rect x="594.7" y="74.3" width="2.6" height="1.2" fill="#bbb" />
<line x1="599.2" y1="89.1" x2="601.2" y2="89.1" stroke="#666" stroke-width="0.6" />
<rect x="594.7" y="88.5" width="2.6" height="1.2" fill="#bbb" />
<line x1="599.2" y1="103.3" x2="601.2" y2="103.3" stroke="#666" stroke-width="0.6" />
<rect x="594.7" y="102.7" width="2.6" height="1.2" fill="#bbb" />
<line x1="599.2" y1="117.5" x2="601.2" y2="117.5" stroke="#666" stroke-width="0.6" />
<rect x="594.7" y="116.9" width="2.6" height="1.2" fill="#bbb" />
<line x1="614.2" y1="118.4" x2="614.2" y2="120.4" stroke="#666" stroke-width="0.6" />
<rect x="612.9" y="122" width="2.6" height="1.3" fill="#bbb" />
<line x1="623.2" y1="118.4" x2="623.2" y2="120.4" stroke="#666" stroke-width="0.6" />
<rect x="621.9" y="122" width="2.6" height="1.3" fill="#bbb" />
<line x1="636.2" y1="118.4" x2="636.2" y2="120.4" stroke="#666" stroke-width="0.6" />
<rect x="634.9" y="122" width="2.6" height="1.3" fill="#bbb" />
<line x1="657.2" y1="118.4" x2="657.2" y2="120.4" stroke="#666" stroke-width="0.6" />
<rect x="655.9" y="122" width="2.6" height="1.3" fill="#bbb" />
<text x="638.6" y="137.7" font-size="13.5" text-anchor="middle">GFP</text>
<text transform="translate(586.8 80.8) rotate(-90)" font-size="13.5" text-anchor="middle">Norm. Mode</text>
<path d="M519 118.4 L521 112 L524.6 101.5 L527 98 L529.4 95.1 L531.8 82.3 L533.5 75 L535.8 63 L538 55 L539.2 52.4 L541.3 53.2 L543 60 L544.7 71 L546.5 85 L548.7 99 L551 105 L553.5 109.6 L556 113 L558.3 115.2 L561 117.3 L564 118.4Z" fill="#f78080" stroke="#e85a5a" stroke-width="0.6"/>
<path d="M516.8 118.4 L517.6 57 L518.6 118.4" fill="none" stroke="#666" stroke-width="0.6" stroke-dasharray="1.5 1"/>
<line x1="513" y1="118.2" x2="518" y2="118.2" stroke="#111" stroke-width="1.4" />
<line x1="523.8" y1="89" x2="570.8" y2="89" stroke="#222" stroke-width="1.8" />
<text x="550.5" y="85.5" font-size="12" text-anchor="middle">94.9%</text>
<path d="M611.3 118.4 L612.8 60 L614.3 60 L616.5 118.4Z" fill="#40e040" stroke="#22bb22" stroke-width="0.5"/>
<path d="M611.8 118.4 L613.2 59 L614 59 L615.6 118.4" fill="none" stroke="#666" stroke-width="0.7" stroke-dasharray="1.5 1"/>
<line x1="608" y1="118.2" x2="613" y2="118.2" stroke="#111" stroke-width="1.4" />
<line x1="619.2" y1="89" x2="676.2" y2="89" stroke="#222" stroke-width="1.8" />
<text x="647.3" y="85.5" font-size="12" text-anchor="middle">0%</text>
<text x="-0.5" y="155.2" font-size="23" font-weight="bold">c</text>
<rect x="40.9" y="153.5" width="409.1" height="23" fill="#e6e6e6" />
<text x="246" y="171.3" font-size="13.5" text-anchor="middle" font-weight="bold">Aortic Progenitors</text>
<rect x="41.6" y="181.6" width="75.3" height="75.3" fill="none" stroke="#8c8c8c" stroke-width="0.6" />
<path d="M41.6 252.9h-2M41.6 236.07h-2M41.6 219.25h-2M41.6 202.42h-2M41.6 185.6h-2M45.6 256.9v2M62.42 256.9v2M79.25 256.9v2M96.07 256.9v2M112.9 256.9v2M41.6 254.9h-1M41.6 249.81h-1M41.6 244.71h-1M41.6 239.62h-1M41.6 234.53h-1M41.6 229.44h-1M41.6 224.34h-1M41.6 219.25h-1M41.6 214.16h-1M41.6 209.06h-1M41.6 203.97h-1M41.6 198.88h-1M41.6 193.79h-1M41.6 188.69h-1M41.6 183.6h-1M43.6 256.9v1M48.69 256.9v1M53.79 256.9v1M58.88 256.9v1M63.97 256.9v1M69.06 256.9v1M74.16 256.9v1M79.25 256.9v1M84.34 256.9v1M89.44 256.9v1M94.53 256.9v1M99.62 256.9v1M104.71 256.9v1M109.81 256.9v1M114.9 256.9v1" stroke="#777" stroke-width="0.5"/>
<text x="39.2" y="254.1" font-size="3.6" text-anchor="end" fill="#555">10<tspan dy="-1" font-size="2.6">1</tspan><tspan dy="1"> </tspan></text>
<text x="39.2" y="237.27" font-size="3.6" text-anchor="end" fill="#555">10<tspan dy="-1" font-size="2.6">2</tspan><tspan dy="1"> </tspan></text>
<text x="39.2" y="220.45" font-size="3.6" text-anchor="end" fill="#555">10<tspan dy="-1" font-size="2.6">3</tspan><tspan dy="1"> </tspan></text>
<text x="39.2" y="203.62" font-size="3.6" text-anchor="end" fill="#555">10<tspan dy="-1" font-size="2.6">4</tspan><tspan dy="1"> </tspan></text>
<text x="39.2" y="186.8" font-size="3.6" text-anchor="end" fill="#555">10<tspan dy="-1" font-size="2.6">5</tspan><tspan dy="1"> </tspan></text>
<text x="45.6" y="263.1" font-size="3.6" text-anchor="middle" fill="#555">10<tspan dy="-1" font-size="2.6">1</tspan><tspan dy="1"> </tspan></text>
<text x="62.42" y="263.1" font-size="3.6" text-anchor="middle" fill="#555">10<tspan dy="-1" font-size="2.6">2</tspan><tspan dy="1"> </tspan></text>
<text x="79.25" y="263.1" font-size="3.6" text-anchor="middle" fill="#555">10<tspan dy="-1" font-size="2.6">3</tspan><tspan dy="1"> </tspan></text>
<text x="96.07" y="263.1" font-size="3.6" text-anchor="middle" fill="#555">10<tspan dy="-1" font-size="2.6">4</tspan><tspan dy="1"> </tspan></text>
<text x="112.9" y="263.1" font-size="3.6" text-anchor="middle" fill="#555">10<tspan dy="-1" font-size="2.6">5</tspan><tspan dy="1"> </tspan></text>
<g transform="translate(41.6 181.6)" stroke-width="1" filter="url(#blurf)">
<path d="M18 14.5h2M25 14.5h1M17 15.5h1M17 16.5h1M15 17.5h4M22 17.5h1M26 17.5h1M22 18.5h1M24 18.5h1M17 19.5h1M19 19.5h1M21 19.5h1M23 19.5h3M27 19.5h1M30 19.5h1M13 20.5h1M15 20.5h2M19 20.5h6M26 20.5h1M11 21.5h1M16 21.5h1M18 21.5h1M26 21.5h1M26 22.5h1M32 22.5h1M12 23.5h1M16 23.5h2M27 23.5h1M29 23.5h1M33 23.5h1M8 24.5h1M14 24.5h3M28 24.5h3M6 25.5h1M15 25.5h2M29 25.5h2M12 26.5h1M16 26.5h1M35 26.5h1M11 27.5h1M15 27.5h2M30 27.5h1M15 28.5h3M31 28.5h1M12 29.5h1M16 29.5h2M31 29.5h5M18 30.5h1M31 30.5h1M33 30.5h1M38 30.5h1M19 31.5h1M31 31.5h1M33 31.5h1M18 32.5h3M31 32.5h1M33 32.5h1M41 32.5h1M18 33.5h3M19 34.5h3M32 34.5h1M36 34.5h1M3 35.5h1M5 35.5h1M11 35.5h1M15 35.5h1M18 35.5h1M32 35.5h1M34 35.5h1M2 36.5h1M6 36.5h1M8 36.5h3M16 36.5h1M19 36.5h1M31 36.5h1M37 36.5h1M41 36.5h1M6 37.5h2M32 37.5h4M44 37.5h1M1 38.5h3M35 38.5h1M38 38.5h1M40 38.5h1M42 38.5h1M1 39.5h1M35 39.5h4M36 40.5h1M38 40.5h1M0 41.5h1M37 41.5h1M0 42.5h1M36 42.5h1M38 42.5h2M41 42.5h1M43 42.5h1M33 43.5h1M36 43.5h1M38 43.5h2M1 44.5h1M3 44.5h2M34 44.5h2M3 45.5h1M5 45.5h2M31 45.5h1M2 46.5h2M7 46.5h1M31 46.5h1M33 46.5h1M4 47.5h3M8 47.5h1M31 47.5h1M2 48.5h1M7 48.5h2M31 48.5h2M8 49.5h2M31 49.5h1M33 49.5h1M31 50.5h1M4 51.5h1M9 51.5h1M12 51.5h1M31 51.5h1M10 52.5h2M14 52.5h2M32 52.5h1M12 53.5h1M18 53.5h4M12 54.5h1M17 54.5h2M21 54.5h1M10 55.5h1M14 55.5h1M17 55.5h1M19 55.5h4M31 56.5h1M30 58.5h1M25 59.5h1M29 60.5h1M26 61.5h2M29 61.5h2M27 62.5h2M26 63.5h1M27 64.5h2M27 65.5h2M27 70.5h1" stroke="#0000ff"/>
<path d="M20 21.5h4M18 22.5h1M20 22.5h3M24 22.5h2M18 23.5h9M19 24.5h9M18 25.5h11M17 26.5h5M25 26.5h5M17 27.5h2M20 27.5h2M26 27.5h4M18 28.5h5M27 28.5h3M18 29.5h6M28 29.5h2M19 30.5h6M28 30.5h2M20 31.5h5M29 31.5h2M21 32.5h2M24 32.5h1M29 32.5h2M24 33.5h1M29 33.5h2M23 34.5h1M29 34.5h2M23 35.5h2M30 35.5h1M20 36.5h3M24 36.5h1M30 36.5h1M8 37.5h1M10 37.5h13M30 37.5h2M4 38.5h1M6 38.5h1M8 38.5h1M31 38.5h1M33 38.5h1M3 39.5h3M32 39.5h3M1 40.5h3M34 40.5h2M1 41.5h3M32 41.5h4M2 42.5h1M4 42.5h2M32 42.5h3M3 43.5h5M31 43.5h1M5 44.5h5M20 44.5h3M31 44.5h1M7 45.5h11M19 45.5h1M21 45.5h3M30 45.5h1M8 46.5h10M19 46.5h4M30 46.5h1M9 47.5h10M21 47.5h3M30 47.5h1M10 48.5h9M20 48.5h4M10 49.5h1M12 49.5h1M14 49.5h1M16 49.5h8M13 50.5h9M23 50.5h1M14 51.5h1M16 51.5h7M16 52.5h8M23 53.5h1M31 53.5h1M24 55.5h1M30 56.5h1M24 57.5h1M30 57.5h1M25 58.5h1M29 58.5h1M26 59.5h2M29 59.5h1M26 60.5h3" stroke="#0046ff"/>
<path d="M22 26.5h3M22 27.5h3M23 28.5h4M24 29.5h3M25 30.5h3M25 31.5h2M28 31.5h1M25 32.5h4M25 33.5h3M25 34.5h4M25 35.5h1M28 35.5h2M25 36.5h1M29 36.5h1M23 37.5h2M29 37.5h1M9 38.5h5M30 38.5h1M6 39.5h3M31 39.5h1M5 40.5h2M31 40.5h2M4 41.5h3M31 41.5h1M6 42.5h3M31 42.5h1M8 43.5h4M30 43.5h1M11 44.5h8M23 44.5h2M30 44.5h1M24 45.5h1M24 46.5h1M24 47.5h1M24 48.5h1M24 49.5h1M30 49.5h1M24 50.5h1M30 50.5h1M24 51.5h1M30 51.5h1M24 52.5h1M30 52.5h1M24 53.5h1M30 53.5h1M24 54.5h1M30 54.5h1M30 55.5h1M25 57.5h1M29 57.5h1M26 58.5h1M28 58.5h1" stroke="#008cff"/>
<path d="M26 35.5h2M26 36.5h3M25 37.5h1M28 37.5h1M14 38.5h11M29 38.5h1M9 39.5h3M30 39.5h1M7 40.5h3M30 40.5h1M7 41.5h3M30 41.5h1M9 42.5h3M30 42.5h1M12 43.5h13M29 44.5h1M25 45.5h1M29 45.5h1M25 46.5h1M29 46.5h1M25 47.5h1M29 47.5h1M25 48.5h1M29 48.5h1M25 56.5h1M29 56.5h1M26 57.5h1M27 58.5h1" stroke="#00d3ff"/>
<path d="M26 37.5h2M25 38.5h1M28 38.5h1M12 39.5h6M19 39.5h6M29 39.5h1M10 40.5h3M29 40.5h1M10 41.5h3M29 41.5h1M12 42.5h13M29 42.5h1M25 43.5h1M29 43.5h1M25 44.5h1M28 45.5h1M28 46.5h1M25 49.5h1M29 49.5h1M25 50.5h1M25 55.5h1M27 57.5h2" stroke="#1affe4"/>
<path d="M26 38.5h2M18 39.5h1M25 39.5h1M28 39.5h1M13 40.5h12M13 41.5h12M25 42.5h1M26 43.5h1M28 43.5h1M26 44.5h3M26 45.5h2M26 46.5h2M26 47.5h3M26 48.5h1M28 48.5h1M29 50.5h1M25 51.5h1M25 52.5h1M25 53.5h1M25 54.5h1M29 55.5h1M26 56.5h1" stroke="#61ff9d"/>
<path d="M26 39.5h2M25 40.5h1M28 40.5h1M25 41.5h1M28 41.5h1M26 42.5h3M27 43.5h1M27 48.5h1M26 49.5h1M28 49.5h1M29 51.5h1M29 52.5h1M29 53.5h1M29 54.5h1M28 56.5h1" stroke="#a7ff57"/>
<path d="M26 40.5h2M26 41.5h2M27 49.5h1M26 50.5h1M26 55.5h1M27 56.5h1" stroke="#eeff10"/>
<path d="M28 50.5h1M26 51.5h1M26 54.5h1M28 55.5h1" stroke="#ffc900"/>
<path d="M27 50.5h1M28 51.5h1M26 52.5h1M26 53.5h1M28 54.5h1M27 55.5h1" stroke="#ff8200"/>
<path d="M27 51.5h1M28 52.5h1M28 53.5h1" stroke="#ff3c00"/>
<path d="M27 52.5h1M27 53.5h1M27 54.5h1" stroke="#f40000"/>
</g>
<rect x="42.1" y="181.6" width="35" height="43.7" fill="none" stroke="#111" stroke-width="1.5" />
<line x1="77.1" y1="189" x2="138.1" y2="189" stroke="#000" stroke-width="1.3" />
<path d="M142.6 189L137.6 186.2L137.6 191.8Z" fill="#000"/>
<text transform="translate(31.3 219.2) rotate(-90)" font-size="13.3" text-anchor="middle">CD45</text>
<text x="79.2" y="276" font-size="13.3" text-anchor="middle">Lin</text>
<rect x="153.3" y="181.5" width="75.3" height="75.3" fill="none" stroke="#8c8c8c" stroke-width="0.6" />
<path d="M153.3 252.8h-2M153.3 235.98h-2M153.3 219.15h-2M153.3 202.33h-2M153.3 185.5h-2M157.3 256.8v2M174.12 256.8v2M190.95 256.8v2M207.78 256.8v2M224.6 256.8v2M153.3 254.8h-1M153.3 249.71h-1M153.3 244.61h-1M153.3 239.52h-1M153.3 234.43h-1M153.3 229.34h-1M153.3 224.24h-1M153.3 219.15h-1M153.3 214.06h-1M153.3 208.96h-1M153.3 203.87h-1M153.3 198.78h-1M153.3 193.69h-1M153.3 188.59h-1M153.3 183.5h-1M155.3 256.8v1M160.39 256.8v1M165.49 256.8v1M170.58 256.8v1M175.67 256.8v1M180.76 256.8v1M185.86 256.8v1M190.95 256.8v1M196.04 256.8v1M201.14 256.8v1M206.23 256.8v1M211.32 256.8v1M216.41 256.8v1M221.51 256.8v1M226.6 256.8v1" stroke="#777" stroke-width="0.5"/>
<text x="150.9" y="254" font-size="3.6" text-anchor="end" fill="#555">10<tspan dy="-1" font-size="2.6">1</tspan><tspan dy="1"> </tspan></text>
<text x="150.9" y="237.18" font-size="3.6" text-anchor="end" fill="#555">10<tspan dy="-1" font-size="2.6">2</tspan><tspan dy="1"> </tspan></text>
<text x="150.9" y="220.35" font-size="3.6" text-anchor="end" fill="#555">10<tspan dy="-1" font-size="2.6">3</tspan><tspan dy="1"> </tspan></text>
<text x="150.9" y="203.53" font-size="3.6" text-anchor="end" fill="#555">10<tspan dy="-1" font-size="2.6">4</tspan><tspan dy="1"> </tspan></text>
<text x="150.9" y="186.7" font-size="3.6" text-anchor="end" fill="#555">10<tspan dy="-1" font-size="2.6">5</tspan><tspan dy="1"> </tspan></text>
<text x="157.3" y="263" font-size="3.6" text-anchor="middle" fill="#555">10<tspan dy="-1" font-size="2.6">1</tspan><tspan dy="1"> </tspan></text>
<text x="174.12" y="263" font-size="3.6" text-anchor="middle" fill="#555">10<tspan dy="-1" font-size="2.6">2</tspan><tspan dy="1"> </tspan></text>
<text x="190.95" y="263" font-size="3.6" text-anchor="middle" fill="#555">10<tspan dy="-1" font-size="2.6">3</tspan><tspan dy="1"> </tspan></text>
<text x="207.78" y="263" font-size="3.6" text-anchor="middle" fill="#555">10<tspan dy="-1" font-size="2.6">4</tspan><tspan dy="1"> </tspan></text>
<text x="224.6" y="263" font-size="3.6" text-anchor="middle" fill="#555">10<tspan dy="-1" font-size="2.6">5</tspan><tspan dy="1"> </tspan></text>
<g transform="translate(153.3 181.5)" stroke-width="0.9" filter="url(#blurf)">
<path d="M16 8.5h1M59 9.5h1M19 12.5h1M43 12.5h1M57 13.5h1M17 16.5h1M20 16.5h2M23 16.5h1M58 16.5h1M15 17.5h1M17 17.5h1M20 17.5h2M25 17.5h1M52 17.5h1M57 17.5h1M17 18.5h1M19 18.5h1M22 18.5h1M47 18.5h1M58 18.5h1M19 19.5h3M23 19.5h1M18 20.5h3M15 21.5h4M21 21.5h2M39 21.5h1M54 21.5h1M18 22.5h1M22 22.5h1M25 22.5h1M47 22.5h2M51 22.5h2M62 22.5h1M14 23.5h1M18 23.5h1M22 23.5h1M43 23.5h1M16 24.5h2M22 24.5h1M24 24.5h2M53 24.5h1M14 25.5h1M16 25.5h2M42 25.5h1M49 25.5h3M55 25.5h2M23 26.5h1M51 26.5h1M55 26.5h2M59 26.5h1M14 27.5h1M16 27.5h1M24 27.5h1M42 27.5h1M52 27.5h1M14 28.5h1M24 28.5h2M44 28.5h1M50 28.5h1M52 28.5h1M55 28.5h1M14 29.5h1M24 29.5h1M26 29.5h2M41 29.5h1M43 29.5h1M46 29.5h1M49 29.5h1M59 29.5h1M14 30.5h2M24 30.5h2M27 30.5h1M37 30.5h1M45 30.5h2M48 30.5h1M50 30.5h1M63 30.5h1M14 31.5h2M25 31.5h1M27 31.5h1M43 31.5h1M15 32.5h1M35 32.5h1M51 32.5h2M13 33.5h1M15 33.5h1M25 33.5h1M37 33.5h1M44 33.5h2M47 33.5h2M50 33.5h1M13 34.5h1M26 34.5h1M39 34.5h1M44 34.5h1M46 34.5h3M56 34.5h2M13 35.5h1M41 35.5h1M45 35.5h1M48 35.5h1M55 35.5h2M25 36.5h1M37 36.5h1M42 36.5h1M44 36.5h2M49 36.5h1M53 36.5h1M14 37.5h1M25 37.5h2M44 37.5h2M49 37.5h1M13 38.5h1M26 38.5h1M40 38.5h1M45 38.5h1M13 39.5h1M28 39.5h2M39 39.5h1M42 39.5h1M44 39.5h2M50 39.5h1M52 39.5h1M14 40.5h1M25 40.5h1M34 40.5h1M42 40.5h1M46 40.5h1M48 40.5h1M51 40.5h1M13 41.5h1M25 41.5h1M27 41.5h1M41 41.5h1M44 41.5h1M46 41.5h2M50 41.5h1M52 41.5h2M12 42.5h1M26 42.5h1M38 42.5h2M41 42.5h2M48 42.5h1M51 42.5h1M31 43.5h1M40 43.5h1M14 44.5h1M35 44.5h2M39 44.5h1M42 44.5h1M55 44.5h1M14 45.5h1M25 45.5h1M28 45.5h1M36 45.5h1M38 45.5h1M43 45.5h2M46 45.5h1M49 45.5h1M13 46.5h1M25 46.5h2M28 46.5h1M43 46.5h1M46 46.5h3M54 46.5h1M25 47.5h2M35 47.5h1M45 47.5h1M47 47.5h3M53 47.5h1M14 48.5h2M25 48.5h2M34 48.5h1M39 48.5h1M43 48.5h2M47 48.5h1M13 49.5h3M26 49.5h2M35 49.5h1M44 49.5h1M46 49.5h1M50 49.5h1M27 50.5h1M40 50.5h1M52 50.5h1M59 50.5h1M15 51.5h1M26 51.5h1M28 51.5h1M38 51.5h1M41 51.5h1M45 51.5h1M49 51.5h1M13 52.5h1M15 52.5h1M27 52.5h1M33 52.5h2M39 52.5h1M42 52.5h2M12 53.5h1M27 53.5h1M33 53.5h1M40 53.5h1M44 53.5h1M56 53.5h1M28 54.5h1M30 54.5h1M50 54.5h1M29 55.5h1M31 55.5h1M38 55.5h1M9 56.5h1M13 56.5h1M28 56.5h1M32 56.5h1M34 56.5h1M43 56.5h1M29 57.5h1M32 57.5h1M34 57.5h1M45 57.5h1M13 58.5h1M28 58.5h1M30 58.5h1M47 58.5h1M28 59.5h1M36 59.5h1M38 59.5h1M41 59.5h1M46 59.5h1M30 60.5h1M34 60.5h2M42 60.5h2M13 61.5h3M35 61.5h1M14 62.5h2M27 62.5h1M33 62.5h1M35 62.5h1M38 62.5h1M41 62.5h1M27 63.5h1M36 63.5h1M27 64.5h1M16 65.5h1M26 65.5h1M39 65.5h1M16 66.5h2M25 66.5h1M28 66.5h1M37 66.5h1M18 67.5h1M24 67.5h1M26 67.5h1M37 67.5h1M45 67.5h1M18 68.5h1M20 68.5h1M23 68.5h2M28 68.5h1M61 68.5h1M20 69.5h1M22 69.5h1M25 69.5h1M44 69.5h1M61 70.5h1M25 72.5h1M25 74.5h1M29 75.5h1" stroke="#0000ff"/>
<path d="M19 23.5h1M21 23.5h1M18 24.5h4M18 25.5h5M18 26.5h5M17 27.5h2M21 27.5h3M16 28.5h3M22 28.5h1M16 29.5h2M22 29.5h2M16 30.5h2M23 30.5h1M23 31.5h2M16 32.5h1M23 32.5h2M16 33.5h1M23 33.5h2M15 34.5h2M24 34.5h1M16 35.5h1M24 35.5h1M15 36.5h1M24 36.5h1M15 37.5h1M24 37.5h1M24 38.5h1M15 39.5h1M24 39.5h1M15 40.5h1M24 40.5h1M24 41.5h1M15 42.5h1M24 42.5h1M15 43.5h1M24 43.5h1M15 44.5h2M16 45.5h1M24 45.5h1M15 46.5h2M24 46.5h1M16 47.5h1M24 47.5h1M16 48.5h1M24 48.5h1M16 49.5h1M24 49.5h2M16 50.5h1M25 50.5h1M16 51.5h1M25 51.5h1M16 52.5h1M26 52.5h1M16 53.5h1M26 53.5h1M16 54.5h1M26 54.5h2M15 55.5h1M27 56.5h1M15 57.5h1M27 57.5h1M15 58.5h1M27 58.5h1M15 59.5h1M27 59.5h1M15 60.5h1M27 60.5h1M16 61.5h1M16 62.5h1M26 62.5h1M16 63.5h1M17 64.5h1M25 64.5h2M17 65.5h1M25 65.5h1M18 66.5h2M23 66.5h2M20 67.5h4" stroke="#0046ff"/>
<path d="M19 27.5h2M19 28.5h3M18 29.5h4M18 30.5h2M21 30.5h2M17 31.5h2M21 31.5h2M17 32.5h1M22 32.5h1M17 33.5h1M22 33.5h1M17 34.5h1M23 34.5h1M17 35.5h1M23 35.5h1M17 36.5h1M23 36.5h1M16 37.5h1M23 37.5h1M16 38.5h1M23 38.5h1M16 39.5h1M23 39.5h1M16 40.5h1M23 40.5h1M16 41.5h1M23 41.5h1M16 42.5h1M23 42.5h1M16 43.5h1M23 43.5h1M17 44.5h1M23 44.5h1M17 45.5h1M23 45.5h1M17 46.5h1M17 47.5h1M23 47.5h1M17 48.5h1M23 48.5h1M17 49.5h1M23 49.5h1M17 50.5h1M24 50.5h1M17 51.5h1M24 51.5h1M17 52.5h1M25 52.5h1M25 53.5h1M16 55.5h1M26 55.5h1M16 56.5h1M26 56.5h1M16 57.5h1M26 57.5h1M16 58.5h1M26 58.5h1M16 59.5h1M26 59.5h1M16 60.5h1M26 60.5h1M26 61.5h1M17 62.5h1M17 63.5h1M25 63.5h1M18 64.5h1M24 64.5h1M19 65.5h1M23 65.5h2M20 66.5h3" stroke="#008cff"/>
<path d="M19 31.5h2M18 32.5h4M18 33.5h4M18 34.5h1M21 34.5h2M18 35.5h1M21 35.5h2M18 36.5h1M22 36.5h1M17 37.5h1M22 37.5h1M17 38.5h1M22 38.5h1M17 39.5h1M22 39.5h1M17 40.5h1M22 40.5h1M17 41.5h1M22 41.5h1M17 42.5h1M22 42.5h1M17 43.5h1M22 43.5h1M18 44.5h1M22 44.5h1M18 45.5h1M22 45.5h1M18 46.5h1M21 46.5h2M18 47.5h1M21 47.5h2M18 48.5h2M21 48.5h2M18 49.5h2M22 49.5h1M18 50.5h1M22 50.5h2M18 51.5h1M23 51.5h1M18 52.5h1M24 52.5h1M17 53.5h1M17 54.5h1M25 54.5h1M17 55.5h1M25 55.5h1M17 60.5h1M17 61.5h1M25 61.5h1M25 62.5h1M18 63.5h1M24 63.5h1M19 64.5h1M23 64.5h1M20 65.5h3" stroke="#00d3ff"/>
<path d="M19 34.5h2M19 35.5h2M19 36.5h3M18 37.5h4M18 38.5h4M18 39.5h4M18 40.5h2M21 40.5h1M18 41.5h4M18 42.5h4M18 43.5h4M19 44.5h3M19 45.5h3M19 46.5h2M19 47.5h2M20 48.5h1M20 49.5h2M19 50.5h3M19 51.5h1M22 51.5h1M23 52.5h1M18 53.5h1M24 53.5h1M17 56.5h1M25 56.5h1M17 57.5h1M25 57.5h1M17 58.5h1M25 58.5h1M17 59.5h1M25 59.5h1M25 60.5h1M18 62.5h1M24 62.5h1M19 63.5h1M20 64.5h3" stroke="#1affe4"/>
<path d="M20 40.5h1M20 51.5h2M19 52.5h2M22 52.5h1M19 53.5h1M23 53.5h1M18 54.5h1M24 54.5h1M18 55.5h1M24 55.5h1M18 60.5h1M18 61.5h1M24 61.5h1M19 62.5h1M20 63.5h1M22 63.5h2" stroke="#61ff9d"/>
<path d="M21 52.5h1M22 53.5h1M19 54.5h1M23 54.5h1M18 56.5h1M24 56.5h1M18 57.5h1M18 58.5h1M18 59.5h1M24 60.5h1M23 62.5h1M21 63.5h1" stroke="#a7ff57"/>
<path d="M20 53.5h2M19 55.5h1M23 55.5h1M24 57.5h1M24 58.5h1M24 59.5h1M19 61.5h1M23 61.5h1M20 62.5h3" stroke="#eeff10"/>
<path d="M20 54.5h3M19 56.5h1M23 56.5h1M19 57.5h1M19 59.5h1M19 60.5h1M23 60.5h1M20 61.5h1" stroke="#ffc900"/>
<path d="M20 55.5h1M22 55.5h1M23 57.5h1M19 58.5h1M23 58.5h1M23 59.5h1M20 60.5h1M21 61.5h2" stroke="#ff8200"/>
<path d="M21 55.5h1M20 56.5h1M22 56.5h1M20 57.5h1M20 59.5h1M21 60.5h2" stroke="#ff3c00"/>
<path d="M21 56.5h1M21 57.5h2M20 58.5h3M21 59.5h2" stroke="#f40000"/>
</g>
<rect x="153.5" y="228.3" width="29.9" height="28.5" fill="none" stroke="#111" stroke-width="1.5" />
<line x1="183.4" y1="243.9" x2="245.1" y2="243.9" stroke="#000" stroke-width="1.3" />
<path d="M249.6 243.9L244.6 241.1L244.6 246.7Z" fill="#000"/>
<text transform="translate(143.3 219.2) rotate(-90)" font-size="13.3" text-anchor="middle">F4/80</text>
<text x="189.5" y="276" font-size="13.3" text-anchor="middle">CD11b</text>
<rect x="259.2" y="181.6" width="75.3" height="75.3" fill="none" stroke="#8c8c8c" stroke-width="0.6" />
<path d="M259.2 252.9h-2M259.2 236.07h-2M259.2 219.25h-2M259.2 202.42h-2M259.2 185.6h-2M263.2 256.9v2M280.02 256.9v2M296.85 256.9v2M313.67 256.9v2M330.5 256.9v2M259.2 254.9h-1M259.2 249.81h-1M259.2 244.71h-1M259.2 239.62h-1M259.2 234.53h-1M259.2 229.44h-1M259.2 224.34h-1M259.2 219.25h-1M259.2 214.16h-1M259.2 209.06h-1M259.2 203.97h-1M259.2 198.88h-1M259.2 193.79h-1M259.2 188.69h-1M259.2 183.6h-1M261.2 256.9v1M266.29 256.9v1M271.39 256.9v1M276.48 256.9v1M281.57 256.9v1M286.66 256.9v1M291.76 256.9v1M296.85 256.9v1M301.94 256.9v1M307.04 256.9v1M312.13 256.9v1M317.22 256.9v1M322.31 256.9v1M327.41 256.9v1M332.5 256.9v1" stroke="#777" stroke-width="0.5"/>
<text x="256.8" y="254.1" font-size="3.6" text-anchor="end" fill="#555">10<tspan dy="-1" font-size="2.6">1</tspan><tspan dy="1"> </tspan></text>
<text x="256.8" y="237.27" font-size="3.6" text-anchor="end" fill="#555">10<tspan dy="-1" font-size="2.6">2</tspan><tspan dy="1"> </tspan></text>
<text x="256.8" y="220.45" font-size="3.6" text-anchor="end" fill="#555">10<tspan dy="-1" font-size="2.6">3</tspan><tspan dy="1"> </tspan></text>
<text x="256.8" y="203.62" font-size="3.6" text-anchor="end" fill="#555">10<tspan dy="-1" font-size="2.6">4</tspan><tspan dy="1"> </tspan></text>
<text x="256.8" y="186.8" font-size="3.6" text-anchor="end" fill="#555">10<tspan dy="-1" font-size="2.6">5</tspan><tspan dy="1"> </tspan></text>
<text x="263.2" y="263.1" font-size="3.6" text-anchor="middle" fill="#555">10<tspan dy="-1" font-size="2.6">1</tspan><tspan dy="1"> </tspan></text>
<text x="280.02" y="263.1" font-size="3.6" text-anchor="middle" fill="#555">10<tspan dy="-1" font-size="2.6">2</tspan><tspan dy="1"> </tspan></text>
<text x="296.85" y="263.1" font-size="3.6" text-anchor="middle" fill="#555">10<tspan dy="-1" font-size="2.6">3</tspan><tspan dy="1"> </tspan></text>
<text x="313.67" y="263.1" font-size="3.6" text-anchor="middle" fill="#555">10<tspan dy="-1" font-size="2.6">4</tspan><tspan dy="1"> </tspan></text>
<text x="330.5" y="263.1" font-size="3.6" text-anchor="middle" fill="#555">10<tspan dy="-1" font-size="2.6">5</tspan><tspan dy="1"> </tspan></text>
<g transform="translate(259.2 181.6)" stroke-width="1" filter="url(#blurf)">
<path d="M45 11.5h1M50 19.5h1M53 19.5h1M44 20.5h1M47 20.5h1M38 21.5h2M49 21.5h2M53 21.5h1M39 22.5h1M41 22.5h1M51 22.5h2M49 23.5h1M52 23.5h1M42 24.5h1M44 24.5h1M47 24.5h2M52 24.5h1M40 25.5h1M44 25.5h1M46 25.5h4M35 26.5h1M42 26.5h2M50 26.5h1M38 27.5h2M42 27.5h1M60 27.5h1M37 28.5h2M41 28.5h1M37 30.5h1M36 31.5h1M56 31.5h1M35 32.5h2M39 32.5h1M56 33.5h1M39 34.5h1M57 34.5h1M28 35.5h1M11 36.5h1M39 36.5h1M31 37.5h1M36 37.5h1M38 37.5h1M13 38.5h1M16 38.5h1M18 38.5h1M34 38.5h1M59 38.5h1M24 40.5h1M30 40.5h1M38 40.5h1M41 40.5h1M51 40.5h1M8 41.5h1M16 41.5h1M21 41.5h1M42 41.5h1M25 42.5h1M28 42.5h1M32 42.5h1M35 42.5h1M39 42.5h1M42 42.5h1M47 42.5h1M14 43.5h1M23 43.5h2M31 43.5h1M36 43.5h2M41 43.5h1M25 44.5h1M29 44.5h1M36 44.5h5M42 44.5h1M47 44.5h1M8 45.5h1M18 45.5h1M20 45.5h1M26 45.5h1M32 45.5h1M34 45.5h1M37 45.5h1M42 45.5h1M46 45.5h3M13 46.5h1M23 46.5h2M34 46.5h2M46 46.5h1M50 46.5h1M53 46.5h1M10 47.5h1M15 47.5h1M17 47.5h1M39 47.5h2M42 47.5h1M46 47.5h1M50 47.5h1M54 47.5h1M0 48.5h1M4 48.5h1M12 48.5h1M17 48.5h1M44 48.5h1M52 48.5h1M62 48.5h1M9 49.5h1M44 49.5h2M51 49.5h1M7 50.5h2M11 50.5h2M46 50.5h1M48 50.5h1M53 50.5h1M8 51.5h1M49 51.5h1M8 52.5h2M3 53.5h1M6 53.5h3M53 53.5h1M7 54.5h1M52 54.5h1M3 55.5h3M4 56.5h2M1 57.5h1M3 57.5h1M7 57.5h1M51 57.5h1M5 58.5h2M50 58.5h2M53 58.5h1M50 59.5h2M10 60.5h2M47 60.5h1M11 61.5h1M45 61.5h2M51 61.5h1M8 62.5h1M43 62.5h1M46 62.5h1M7 63.5h1M12 63.5h1M37 63.5h3M42 63.5h2M48 63.5h1M13 64.5h1M15 64.5h1M18 64.5h1M20 64.5h2M23 64.5h2M27 64.5h1M29 64.5h1M31 64.5h1M33 64.5h2M36 64.5h1M38 64.5h1M43 64.5h1M13 65.5h1M15 65.5h1M39 65.5h2M43 65.5h1M24 66.5h1M26 66.5h1M12 67.5h2M20 67.5h1M46 67.5h1M5 68.5h1M8 69.5h1M10 70.5h1M21 70.5h1M6 75.5h1" stroke="#0000ff"/>
<path d="M53 22.5h2M53 23.5h1M53 24.5h2M45 26.5h3M43 27.5h1M46 27.5h5M52 27.5h1M44 28.5h2M48 28.5h2M42 29.5h3M46 29.5h1M48 29.5h1M50 29.5h1M52 29.5h1M41 30.5h1M43 30.5h2M47 30.5h5M41 31.5h1M43 31.5h1M45 31.5h1M47 31.5h1M49 31.5h3M40 32.5h1M43 32.5h2M46 32.5h6M41 33.5h4M47 33.5h1M49 33.5h1M52 33.5h1M55 33.5h1M43 34.5h3M47 34.5h2M52 34.5h1M55 34.5h1M40 35.5h1M45 35.5h6M41 36.5h4M46 36.5h3M50 36.5h3M55 36.5h1M43 37.5h1M45 37.5h2M50 37.5h1M52 37.5h1M41 38.5h1M44 38.5h5M43 39.5h1M45 39.5h1M48 39.5h2M55 39.5h1M45 40.5h1M47 40.5h2M47 41.5h1M53 41.5h2M53 42.5h2M53 43.5h2M54 44.5h1M54 45.5h1M30 46.5h1M22 47.5h1M25 47.5h3M29 47.5h2M32 47.5h3M37 47.5h1M20 48.5h1M23 48.5h1M25 48.5h2M30 48.5h5M37 48.5h2M40 48.5h1M16 49.5h1M20 49.5h1M22 49.5h2M36 49.5h2M39 49.5h2M42 49.5h2M13 50.5h3M18 50.5h2M41 50.5h4M11 51.5h5M44 51.5h1M47 51.5h1M45 52.5h1M10 53.5h4M46 53.5h3M12 54.5h1M46 54.5h2M8 55.5h2M12 55.5h1M47 55.5h3M9 56.5h1M12 56.5h1M47 56.5h1M10 57.5h3M47 57.5h1M49 57.5h1M13 58.5h1M45 58.5h2M11 59.5h5M44 59.5h1M12 60.5h2M16 60.5h2M42 60.5h1M44 60.5h3M14 61.5h1M17 61.5h3M39 61.5h3M16 62.5h7M25 62.5h2M29 62.5h4M34 62.5h2M37 62.5h2M20 63.5h2M28 63.5h1M30 63.5h2M33 63.5h3" stroke="#0046ff"/>
<path d="M54 25.5h1M54 26.5h1M53 27.5h2M53 28.5h2M54 29.5h1M53 36.5h1M53 37.5h2M53 38.5h2M53 39.5h2M53 40.5h2M24 49.5h7M32 49.5h4M22 50.5h6M33 50.5h7M17 51.5h5M41 51.5h2M15 52.5h4M44 52.5h1M14 53.5h3M44 53.5h2M13 54.5h1M15 54.5h2M45 54.5h1M14 55.5h2M45 55.5h2M13 56.5h3M45 56.5h2M13 57.5h4M45 57.5h1M14 58.5h4M44 58.5h1M16 59.5h4M42 59.5h2M18 60.5h3M22 60.5h1M40 60.5h2M21 61.5h1M23 61.5h1M25 61.5h14" stroke="#008cff"/>
<path d="M54 30.5h1M53 31.5h1M53 32.5h2M53 33.5h1M53 34.5h2M53 35.5h2M54 36.5h1M28 50.5h3M32 50.5h1M22 51.5h9M37 51.5h3M19 52.5h4M41 52.5h2M17 53.5h1M19 53.5h2M43 53.5h1M17 54.5h2M44 54.5h1M16 55.5h3M44 55.5h1M16 56.5h3M44 56.5h1M17 57.5h3M43 57.5h2M18 58.5h3M42 58.5h2M20 59.5h4M41 59.5h1M23 60.5h17" stroke="#00d3ff"/>
<path d="M31 51.5h6M23 52.5h7M40 52.5h1M21 53.5h3M42 53.5h1M19 54.5h3M43 54.5h1M19 55.5h2M43 55.5h1M19 56.5h3M43 56.5h1M20 57.5h2M42 57.5h1M21 58.5h4M41 58.5h1M24 59.5h9M39 59.5h2" stroke="#1affe4"/>
<path d="M30 52.5h5M37 52.5h3M24 53.5h6M41 53.5h1M22 54.5h4M42 54.5h1M21 55.5h3M42 55.5h1M22 56.5h3M42 56.5h1M22 57.5h4M25 58.5h6M40 58.5h1M33 59.5h6" stroke="#61ff9d"/>
<path d="M35 52.5h2M30 53.5h3M40 53.5h1M26 54.5h5M41 54.5h1M24 55.5h5M25 56.5h4M26 57.5h5M41 57.5h1M31 58.5h3M39 58.5h1" stroke="#a7ff57"/>
<path d="M33 53.5h2M38 53.5h2M31 54.5h1M40 54.5h1M29 55.5h3M41 55.5h1M29 56.5h3M41 56.5h1M31 57.5h2M40 57.5h1M34 58.5h5" stroke="#eeff10"/>
<path d="M35 53.5h3M32 54.5h2M32 55.5h1M40 55.5h1M32 56.5h1M40 56.5h1M33 57.5h1M39 57.5h1" stroke="#ffc900"/>
<path d="M34 54.5h1M39 54.5h1M33 55.5h1M33 56.5h1M34 57.5h2M38 57.5h1" stroke="#ff8200"/>
<path d="M35 54.5h4M34 55.5h1M39 55.5h1M34 56.5h1M39 56.5h1M36 57.5h2" stroke="#ff3c00"/>
<path d="M35 55.5h4M35 56.5h4" stroke="#f40000"/>
</g>
<rect x="293.5" y="181.6" width="40.9" height="42.7" fill="none" stroke="#111" stroke-width="1.5" />
<line x1="334.4" y1="189" x2="366.9" y2="189" stroke="#000" stroke-width="1.3" />
<path d="M371.4 189L366.4 186.2L366.4 191.8Z" fill="#000"/>
<text transform="translate(249.3 219.5) rotate(-90)" font-size="13.3" text-anchor="middle">c-Kit</text>
<text x="296" y="276" font-size="13.3" text-anchor="middle">Sca-1</text>
<rect x="374.2" y="181.4" width="75.3" height="75.3" fill="none" stroke="#8c8c8c" stroke-width="0.6" />
<path d="M374.2 252.7h-2M374.2 235.88h-2M374.2 219.05h-2M374.2 202.22h-2M374.2 185.4h-2M378.2 256.7v2M395.02 256.7v2M411.85 256.7v2M428.67 256.7v2M445.5 256.7v2M374.2 254.7h-1M374.2 249.61h-1M374.2 244.51h-1M374.2 239.42h-1M374.2 234.33h-1M374.2 229.24h-1M374.2 224.14h-1M374.2 219.05h-1M374.2 213.96h-1M374.2 208.86h-1M374.2 203.77h-1M374.2 198.68h-1M374.2 193.59h-1M374.2 188.49h-1M374.2 183.4h-1M376.2 256.7v1M381.29 256.7v1M386.39 256.7v1M391.48 256.7v1M396.57 256.7v1M401.66 256.7v1M406.76 256.7v1M411.85 256.7v1M416.94 256.7v1M422.04 256.7v1M427.13 256.7v1M432.22 256.7v1M437.31 256.7v1M442.41 256.7v1M447.5 256.7v1" stroke="#777" stroke-width="0.5"/>
<text x="371.8" y="253.9" font-size="3.6" text-anchor="end" fill="#555">10<tspan dy="-1" font-size="2.6">1</tspan><tspan dy="1"> </tspan></text>
<text x="371.8" y="237.07" font-size="3.6" text-anchor="end" fill="#555">10<tspan dy="-1" font-size="2.6">2</tspan><tspan dy="1"> </tspan></text>
<text x="371.8" y="220.25" font-size="3.6" text-anchor="end" fill="#555">10<tspan dy="-1" font-size="2.6">3</tspan><tspan dy="1"> </tspan></text>
<text x="371.8" y="203.42" font-size="3.6" text-anchor="end" fill="#555">10<tspan dy="-1" font-size="2.6">4</tspan><tspan dy="1"> </tspan></text>
<text x="371.8" y="186.6" font-size="3.6" text-anchor="end" fill="#555">10<tspan dy="-1" font-size="2.6">5</tspan><tspan dy="1"> </tspan></text>
<text x="378.2" y="262.9" font-size="3.6" text-anchor="middle" fill="#555">10<tspan dy="-1" font-size="2.6">1</tspan><tspan dy="1"> </tspan></text>
<text x="395.02" y="262.9" font-size="3.6" text-anchor="middle" fill="#555">10<tspan dy="-1" font-size="2.6">2</tspan><tspan dy="1"> </tspan></text>
<text x="411.85" y="262.9" font-size="3.6" text-anchor="middle" fill="#555">10<tspan dy="-1" font-size="2.6">3</tspan><tspan dy="1"> </tspan></text>
<text x="428.67" y="262.9" font-size="3.6" text-anchor="middle" fill="#555">10<tspan dy="-1" font-size="2.6">4</tspan><tspan dy="1"> </tspan></text>
<text x="445.5" y="262.9" font-size="3.6" text-anchor="middle" fill="#555">10<tspan dy="-1" font-size="2.6">5</tspan><tspan dy="1"> </tspan></text>
<g transform="translate(374.2 181.4)" stroke-width="1" filter="url(#blurf)">
<path d="M19 24.5h1M27 25.5h1M22 26.5h1M24 26.5h1M28 26.5h1M31 26.5h1M22 28.5h4M32 28.5h2M23 29.5h2M26 29.5h2M30 29.5h1M33 29.5h2M37 29.5h1M20 30.5h7M29 30.5h3M37 30.5h1M28 31.5h1M30 31.5h1M33 31.5h1M21 32.5h1M28 32.5h1M30 32.5h3M34 32.5h1M38 32.5h1M42 32.5h1M15 33.5h1M17 33.5h1M19 33.5h2M29 33.5h3M17 34.5h1M20 34.5h1M29 34.5h6M18 35.5h3M30 35.5h1M32 35.5h1M36 35.5h1M49 35.5h1M18 36.5h1M20 36.5h1M30 36.5h2M35 36.5h1M38 36.5h1M40 36.5h1M42 36.5h1M18 37.5h1M20 37.5h1M29 37.5h1M31 37.5h1M33 37.5h2M17 38.5h1M20 38.5h2M28 38.5h4M33 38.5h2M43 38.5h2M18 39.5h2M21 39.5h3M27 39.5h3M31 39.5h1M18 40.5h1M24 40.5h3M28 40.5h1M31 40.5h1M33 40.5h1M36 40.5h1M18 41.5h1M20 41.5h4M25 41.5h1M27 41.5h2M33 41.5h1M14 42.5h1M20 42.5h1M23 42.5h1M25 42.5h1M27 42.5h1M32 42.5h1M52 42.5h1M21 43.5h1M23 43.5h2M27 43.5h2M34 43.5h1M32 44.5h3M42 44.5h1M49 44.5h1M26 45.5h1M41 45.5h1M46 45.5h1M37 46.5h2M33 47.5h1M37 47.5h2M32 48.5h1M29 49.5h1M37 49.5h1M28 50.5h2M31 50.5h1M27 51.5h1M39 54.5h1" stroke="#0000ff"/>
<path d="M24 31.5h3M22 32.5h2M25 32.5h3M21 33.5h8M21 34.5h3M27 34.5h2M21 35.5h2M27 35.5h3M23 36.5h1M28 36.5h1M21 37.5h5M27 37.5h1M22 38.5h6M24 39.5h3" stroke="#0046ff"/>
<path d="M24 34.5h3M23 35.5h4M24 36.5h3" stroke="#008cff"/>
</g>
<rect x="374.5" y="181.4" width="36.7" height="44.1" fill="none" stroke="#111" stroke-width="1.5" />
<text x="391.8" y="196.5" font-size="10.3" text-anchor="middle">92.3%</text>
<text transform="translate(362.8 218.5) rotate(-90)" font-size="13.3" text-anchor="middle">tdTom</text>
<text x="411.2" y="276.8" font-size="13.3" text-anchor="middle">GFP</text>
<text x="459.5" y="157.5" font-size="24" font-weight="bold">d</text>
<line x1="501.4" y1="149.1" x2="501.4" y2="255.1" stroke="#000" stroke-width="1.3" stroke-linecap="square"/>
<line x1="497.2" y1="255.1" x2="501.4" y2="255.1" stroke="#000" stroke-width="1.3" />
<text x="495.7" y="257.74" font-size="8.5" text-anchor="end" fill="#000">0</text>
<line x1="497.2" y1="219.77" x2="501.4" y2="219.77" stroke="#000" stroke-width="1.3" />
<text x="495.7" y="222.4" font-size="8.5" text-anchor="end" fill="#000">50</text>
<line x1="497.2" y1="184.43" x2="501.4" y2="184.43" stroke="#000" stroke-width="1.3" />
<text x="495.7" y="187.07" font-size="8.5" text-anchor="end" fill="#000">100</text>
<line x1="497.2" y1="149.1" x2="501.4" y2="149.1" stroke="#000" stroke-width="1.3" />
<text x="495.7" y="151.73" font-size="8.5" text-anchor="end" fill="#000">150</text>
<line x1="501.3" y1="255.1" x2="685" y2="255.1" stroke="#000" stroke-width="1.3" stroke-linecap="square"/>
<line x1="515.7" y1="255.1" x2="515.7" y2="259.4" stroke="#000" stroke-width="1.3" />
<line x1="537.62" y1="255.1" x2="537.62" y2="259.4" stroke="#000" stroke-width="1.3" />
<line x1="559.54" y1="255.1" x2="559.54" y2="259.4" stroke="#000" stroke-width="1.3" />
<line x1="581.46" y1="255.1" x2="581.46" y2="259.4" stroke="#000" stroke-width="1.3" />
<line x1="603.38" y1="255.1" x2="603.38" y2="259.4" stroke="#000" stroke-width="1.3" />
<line x1="625.3" y1="255.1" x2="625.3" y2="259.4" stroke="#000" stroke-width="1.3" />
<line x1="647.22" y1="255.1" x2="647.22" y2="259.4" stroke="#000" stroke-width="1.3" />
<line x1="669.14" y1="255.1" x2="669.14" y2="259.4" stroke="#000" stroke-width="1.3" />
<path d="M508.9 255.1V205.21H522.5V255.1" fill="none" stroke="#000" stroke-width="1.6"/>
<line x1="515.7" y1="207.33" x2="515.7" y2="203.09" stroke="#000" stroke-width="0.9" />
<line x1="512.9" y1="203.09" x2="518.5" y2="203.09" stroke="#000" stroke-width="0.9" />
<line x1="512.9" y1="207.33" x2="518.5" y2="207.33" stroke="#000" stroke-width="0.9" />
<circle cx="513.1" cy="200.9" r="2.3" fill="#000" />
<circle cx="518.8" cy="200.9" r="2.3" fill="#000" />
<circle cx="510.7" cy="207.47" r="2.3" fill="#000" />
<circle cx="515.9" cy="206.13" r="2.3" fill="#000" />
<circle cx="521.1" cy="206.98" r="2.3" fill="#000" />
<path d="M530.82 255.1V223.72H544.42V255.1" fill="none" stroke="#000" stroke-width="1.6"/>
<line x1="537.62" y1="229.17" x2="537.62" y2="218.28" stroke="#000" stroke-width="0.9" />
<line x1="534.82" y1="218.28" x2="540.42" y2="218.28" stroke="#000" stroke-width="0.9" />
<line x1="534.82" y1="229.17" x2="540.42" y2="229.17" stroke="#000" stroke-width="0.9" />
<circle cx="537.72" cy="217.51" r="2.3" fill="#000" />
<circle cx="532.52" cy="224.22" r="2.3" fill="#000" />
<circle cx="543.02" cy="224.22" r="2.3" fill="#000" />
<circle cx="543.02" cy="229.38" r="2.3" fill="#000" />
<circle cx="532.52" cy="232.7" r="2.3" fill="#000" />
<path d="M552.74 255.1V205.92H566.34V255.1" fill="none" stroke="#000" stroke-width="1.6"/>
<line x1="559.54" y1="207.68" x2="559.54" y2="204.15" stroke="#000" stroke-width="0.9" />
<line x1="556.74" y1="204.15" x2="562.34" y2="204.15" stroke="#000" stroke-width="0.9" />
<line x1="556.74" y1="207.68" x2="562.34" y2="207.68" stroke="#000" stroke-width="0.9" />
<circle cx="554.44" cy="205.63" r="2.3" fill="#000" />
<circle cx="558.14" cy="205.63" r="2.3" fill="#000" />
<circle cx="564.84" cy="206.48" r="2.3" fill="#000" />
<circle cx="554.44" cy="210.37" r="2.3" fill="#000" />
<circle cx="561.34" cy="209.87" r="2.3" fill="#000" />
<path d="M574.66 255.1V186.98H588.26V255.1" fill="none" stroke="#000" stroke-width="1.6"/>
<line x1="581.46" y1="188.96" x2="581.46" y2="185" stroke="#000" stroke-width="0.9" />
<line x1="578.66" y1="185" x2="584.26" y2="185" stroke="#000" stroke-width="0.9" />
<line x1="578.66" y1="188.96" x2="584.26" y2="188.96" stroke="#000" stroke-width="0.9" />
<circle cx="576.26" cy="186.2" r="2.3" fill="#000" />
<circle cx="581.86" cy="186.2" r="2.3" fill="#000" />
<circle cx="586.76" cy="186.98" r="2.3" fill="#000" />
<circle cx="576.26" cy="191.08" r="2.3" fill="#000" />
<circle cx="582.66" cy="191.08" r="2.3" fill="#000" />
<path d="M596.58 255.1V186.98H610.18V255.1" fill="none" stroke="#000" stroke-width="1.6"/>
<line x1="603.38" y1="189.45" x2="603.38" y2="184.5" stroke="#000" stroke-width="0.9" />
<line x1="600.58" y1="184.5" x2="606.18" y2="184.5" stroke="#000" stroke-width="0.9" />
<line x1="600.58" y1="189.45" x2="606.18" y2="189.45" stroke="#000" stroke-width="0.9" />
<circle cx="597.98" cy="186.2" r="2.3" fill="#000" />
<circle cx="605.18" cy="183.8" r="2.3" fill="#000" />
<circle cx="609.18" cy="186.98" r="2.3" fill="#000" />
<circle cx="598.78" cy="191.08" r="2.3" fill="#000" />
<circle cx="604.38" cy="189.52" r="2.3" fill="#000" />
<circle cx="619.8" cy="254.04" r="2.3" fill="#000" />
<circle cx="623.5" cy="254.04" r="2.3" fill="#000" />
<circle cx="627.1" cy="254.04" r="2.3" fill="#000" />
<circle cx="630.8" cy="254.04" r="2.3" fill="#000" />
<path d="M640.42 255.1V195.88H654.02V255.1" fill="none" stroke="#000" stroke-width="1.6"/>
<line x1="647.22" y1="198.71" x2="647.22" y2="193.05" stroke="#000" stroke-width="0.9" />
<line x1="644.42" y1="193.05" x2="650.02" y2="193.05" stroke="#000" stroke-width="0.9" />
<line x1="644.42" y1="198.71" x2="650.02" y2="198.71" stroke="#000" stroke-width="0.9" />
<circle cx="642.22" cy="191.92" r="2.3" fill="#000" />
<circle cx="647.82" cy="194.33" r="2.3" fill="#000" />
<circle cx="652.62" cy="194.33" r="2.3" fill="#000" />
<circle cx="647.82" cy="199.91" r="2.3" fill="#000" />
<circle cx="662.64" cy="254.75" r="2.3" fill="#000" />
<circle cx="666.94" cy="254.75" r="2.3" fill="#000" />
<circle cx="671.34" cy="254.75" r="2.3" fill="#000" />
<circle cx="675.64" cy="254.75" r="2.3" fill="#000" />
<text x="515.7" y="268" font-size="8.6" text-anchor="middle">LSK</text>
<text x="537.62" y="268" font-size="8.6" text-anchor="middle">LT-</text>
<text x="559.54" y="268" font-size="8.6" text-anchor="middle">ST-</text>
<text x="581.46" y="268" font-size="8.6" text-anchor="middle">MPP</text>
<text x="603.38" y="268" font-size="8.6" text-anchor="middle">Mono</text>
<text x="625.3" y="268" font-size="8.6" text-anchor="middle">Prog</text>
<text x="647.22" y="268" font-size="8.6" text-anchor="middle">Mϕ</text>
<text x="669.14" y="268" font-size="8.6" text-anchor="middle">EC</text>
<text x="537.62" y="278.3" font-size="8.6" text-anchor="middle">HSC</text>
<text x="559.54" y="278.3" font-size="8.6" text-anchor="middle">HSC</text>
<line x1="506.6" y1="279.6" x2="588" y2="279.6" stroke="#000" stroke-width="0.8" stroke-dasharray="2.2 1.6"/>
<line x1="594.3" y1="279.6" x2="612.9" y2="279.6" stroke="#000" stroke-width="0.8" stroke-dasharray="2.2 1.6"/>
<line x1="618.4" y1="279.6" x2="676.7" y2="279.6" stroke="#000" stroke-width="0.8" stroke-dasharray="2.2 1.6"/>
<text x="546.3" y="291.6" font-size="12.5" text-anchor="middle">BM</text>
<text x="605.4" y="291.6" font-size="12.5" text-anchor="middle">Bl</text>
<text x="647.6" y="291.6" font-size="12.5" text-anchor="middle">Ao</text>
<text transform="translate(479.3 203.5) rotate(-90)" font-size="13.5" text-anchor="middle">% GFP<tspan dy="-4.6" font-size="9.72">+</tspan><tspan dy="4.6">​</tspan></text>
<text x="76" y="313.9" font-size="24" font-weight="bold">e</text>
<line x1="152.1" y1="307.6" x2="152.1" y2="357.2" stroke="#000" stroke-width="1.3" stroke-linecap="square"/>
<line x1="152.1" y1="365" x2="152.1" y2="414.4" stroke="#000" stroke-width="1.3" stroke-linecap="square"/>
<line x1="148.1" y1="307.6" x2="152.1" y2="307.6" stroke="#000" stroke-width="1.3" />
<text x="146.6" y="310.2" font-size="8.5" text-anchor="end">300</text>
<line x1="148.1" y1="326" x2="152.1" y2="326" stroke="#000" stroke-width="1.3" />
<text x="146.6" y="328.6" font-size="8.5" text-anchor="end">200</text>
<line x1="148.1" y1="344.4" x2="152.1" y2="344.4" stroke="#000" stroke-width="1.3" />
<text x="146.6" y="347" font-size="8.5" text-anchor="end">100</text>
<line x1="149.1" y1="357.2" x2="153.6" y2="357.2" stroke="#000" stroke-width="1.3" />
<line x1="149.1" y1="365" x2="153.6" y2="365" stroke="#000" stroke-width="1.3" />
<line x1="148.1" y1="365" x2="152.1" y2="365" stroke="#000" stroke-width="1.3" />
<text x="146.6" y="367.6" font-size="8.5" text-anchor="end">30</text>
<line x1="148.1" y1="381.47" x2="152.1" y2="381.47" stroke="#000" stroke-width="1.3" />
<text x="146.6" y="384.07" font-size="8.5" text-anchor="end">20</text>
<line x1="148.1" y1="397.93" x2="152.1" y2="397.93" stroke="#000" stroke-width="1.3" />
<text x="146.6" y="400.53" font-size="8.5" text-anchor="end">10</text>
<line x1="148.1" y1="414.4" x2="152.1" y2="414.4" stroke="#000" stroke-width="1.3" />
<text x="146.6" y="417" font-size="8.5" text-anchor="end">0</text>
<line x1="152.1" y1="414.4" x2="258.6" y2="414.4" stroke="#000" stroke-width="1.3" stroke-linecap="square"/>
<line x1="168.1" y1="414.4" x2="168.1" y2="418.7" stroke="#000" stroke-width="1.3" />
<line x1="193.1" y1="414.4" x2="193.1" y2="418.7" stroke="#000" stroke-width="1.3" />
<line x1="217.4" y1="414.4" x2="217.4" y2="418.7" stroke="#000" stroke-width="1.3" />
<line x1="241.9" y1="414.4" x2="241.9" y2="418.7" stroke="#000" stroke-width="1.3" />
<path d="M160.7 357.2V340.2H176.3V357.2" fill="none" stroke="#000" stroke-width="1.6"/>
<path d="M160.7 414.4V365M176.3 414.4V365" fill="none" stroke="#000" stroke-width="1.6"/>
<line x1="168.1" y1="325.3" x2="168.1" y2="354.6" stroke="#000" stroke-width="0.9" />
<line x1="165.5" y1="325.3" x2="170.7" y2="325.3" stroke="#000" stroke-width="0.9" />
<line x1="165.5" y1="354.6" x2="170.7" y2="354.6" stroke="#000" stroke-width="0.9" />
<circle cx="168.1" cy="316.9" r="2.2" fill="#000" />
<circle cx="168.1" cy="336.2" r="2.2" fill="#000" />
<circle cx="168.1" cy="343" r="2.2" fill="#000" />
<circle cx="162" cy="351.5" r="2.2" fill="#000" />
<circle cx="174.5" cy="351.5" r="2.2" fill="#000" />
<path d="M185.5 414.4V392.4H200.7V414.4" fill="none" stroke="#000" stroke-width="1.6"/>
<line x1="193.1" y1="398.1" x2="193.1" y2="385.3" stroke="#000" stroke-width="0.9" />
<line x1="190.5" y1="385.3" x2="195.7" y2="385.3" stroke="#000" stroke-width="0.9" />
<line x1="190.5" y1="398.1" x2="195.7" y2="398.1" stroke="#000" stroke-width="0.9" />
<circle cx="193" cy="381.3" r="2.2" fill="#000" />
<circle cx="199.1" cy="389.9" r="2.2" fill="#000" />
<circle cx="193" cy="393.7" r="2.2" fill="#000" />
<circle cx="186.9" cy="397.7" r="2.2" fill="#000" />
<circle cx="198.8" cy="396.6" r="2.2" fill="#000" />
<path d="M209.8 414.4V395.3H225V414.4" fill="none" stroke="#000" stroke-width="1.6"/>
<line x1="217.4" y1="396.2" x2="217.4" y2="394.6" stroke="#000" stroke-width="0.9" />
<line x1="214.8" y1="394.6" x2="220" y2="394.6" stroke="#000" stroke-width="0.9" />
<line x1="214.8" y1="396.2" x2="220" y2="396.2" stroke="#000" stroke-width="0.9" />
<circle cx="214.7" cy="392.3" r="2.2" fill="#000" />
<circle cx="220.5" cy="392.3" r="2.2" fill="#000" />
<circle cx="211.4" cy="396.6" r="2.2" fill="#000" />
<circle cx="217.2" cy="394.5" r="2.2" fill="#000" />
<circle cx="223.8" cy="396.6" r="2.2" fill="#000" />
<path d="M234.5 414.4V407.4H250.1V414.4" fill="none" stroke="#000" stroke-width="1.6"/>
<line x1="242.3" y1="415" x2="242.3" y2="397.5" stroke="#000" stroke-width="0.9" />
<line x1="239.7" y1="397.5" x2="244.9" y2="397.5" stroke="#000" stroke-width="0.9" />
<line x1="239.7" y1="415" x2="244.9" y2="415" stroke="#000" stroke-width="0.9" />
<circle cx="235.7" cy="414" r="2.2" fill="#000" />
<circle cx="241.9" cy="406.6" r="2.2" fill="#000" />
<circle cx="241.9" cy="411.8" r="2.2" fill="#000" />
<circle cx="248.2" cy="412.5" r="2.2" fill="#000" />
<circle cx="241.9" cy="390.5" r="2.2" fill="#000" />
<text x="241.9" y="373.2" font-size="12" text-anchor="middle" font-weight="bold">†</text>
<text x="168.1" y="427.7" font-size="9" text-anchor="middle">P1</text>
<text x="193.1" y="427.7" font-size="9" text-anchor="middle">3w</text>
<text x="217.4" y="427.7" font-size="9" text-anchor="middle">12w</text>
<text x="241.9" y="427.7" font-size="9" text-anchor="middle">52w</text>
<line x1="150.4" y1="432.8" x2="255.8" y2="432.8" stroke="#000" stroke-width="1.1" stroke-dasharray="3 1.9"/>
<text x="209.8" y="441.5" font-size="10" text-anchor="middle">Postnatal age</text>
<text x="225.4" y="316.6" font-size="11.5" text-anchor="middle">p=0.0004</text>
<text transform="translate(104 363) rotate(-90)" font-size="13.5" text-anchor="middle">CFU-M per</text>
<text transform="translate(120.2 363) rotate(-90)" font-size="13.5" text-anchor="middle">10<tspan dy="-4.6" font-size="9.72">5</tspan><tspan dy="4.6">​</tspan> aortic cells</text>
<text x="397.8" y="313.4" font-size="24" font-weight="bold">f</text>
<line x1="481.2" y1="307.5" x2="481.2" y2="415" stroke="#000" stroke-width="1.3" stroke-linecap="square"/>
<line x1="477.2" y1="415" x2="481.2" y2="415" stroke="#000" stroke-width="1.3" />
<text x="475.7" y="417.63" font-size="8.5" text-anchor="end" fill="#000">0</text>
<line x1="477.2" y1="388.12" x2="481.2" y2="388.12" stroke="#000" stroke-width="1.3" />
<text x="475.7" y="390.76" font-size="8.5" text-anchor="end" fill="#000">2000</text>
<line x1="477.2" y1="361.25" x2="481.2" y2="361.25" stroke="#000" stroke-width="1.3" />
<text x="475.7" y="363.88" font-size="8.5" text-anchor="end" fill="#000">4000</text>
<line x1="477.2" y1="334.38" x2="481.2" y2="334.38" stroke="#000" stroke-width="1.3" />
<text x="475.7" y="337.01" font-size="8.5" text-anchor="end" fill="#000">6000</text>
<line x1="477.2" y1="307.5" x2="481.2" y2="307.5" stroke="#000" stroke-width="1.3" />
<text x="475.7" y="310.13" font-size="8.5" text-anchor="end" fill="#000">8000</text>
<line x1="481.2" y1="415" x2="590.4" y2="415" stroke="#000" stroke-width="1.3" stroke-linecap="square"/>
<line x1="494.9" y1="415" x2="494.9" y2="419.3" stroke="#000" stroke-width="1.3" />
<line x1="522.3" y1="415" x2="522.3" y2="419.3" stroke="#000" stroke-width="1.3" />
<line x1="549.5" y1="415" x2="549.5" y2="419.3" stroke="#000" stroke-width="1.3" />
<line x1="575.8" y1="415" x2="575.8" y2="419.3" stroke="#000" stroke-width="1.3" />
<path d="M486.7 415V323.62H503.6V415" fill="none" stroke="#000" stroke-width="1.6"/>
<line x1="494.9" y1="331.02" x2="494.9" y2="315.83" stroke="#000" stroke-width="0.9" />
<line x1="491.9" y1="315.83" x2="497.9" y2="315.83" stroke="#000" stroke-width="0.9" />
<line x1="491.9" y1="331.02" x2="497.9" y2="331.02" stroke="#000" stroke-width="0.9" />
<circle cx="490.4" cy="319.19" r="2.3" fill="#000" />
<circle cx="499.4" cy="316.91" r="2.3" fill="#000" />
<circle cx="494.9" cy="316.91" r="2.3" fill="#000" />
<circle cx="494.9" cy="333.17" r="2.3" fill="#000" />
<path d="M513.6 415V362.59H530.5V415" fill="none" stroke="#000" stroke-width="1.6"/>
<line x1="522.3" y1="376.03" x2="522.3" y2="348.48" stroke="#000" stroke-width="0.9" />
<line x1="519.3" y1="348.48" x2="525.3" y2="348.48" stroke="#000" stroke-width="0.9" />
<line x1="519.3" y1="376.03" x2="525.3" y2="376.03" stroke="#000" stroke-width="0.9" />
<circle cx="522.3" cy="348.48" r="2.3" fill="#000" />
<circle cx="517.3" cy="356.55" r="2.3" fill="#000" />
<circle cx="526.8" cy="360.98" r="2.3" fill="#000" />
<circle cx="522.3" cy="381" r="2.3" fill="#000" />
<path d="M540.7 415V370.66H557.7V415" fill="none" stroke="#000" stroke-width="1.6"/>
<line x1="549.5" y1="378.05" x2="549.5" y2="362.59" stroke="#000" stroke-width="0.9" />
<line x1="546.5" y1="362.59" x2="552.5" y2="362.59" stroke="#000" stroke-width="0.9" />
<line x1="546.5" y1="378.05" x2="552.5" y2="378.05" stroke="#000" stroke-width="0.9" />
<circle cx="544.5" cy="366.49" r="2.3" fill="#000" />
<circle cx="554" cy="363" r="2.3" fill="#000" />
<circle cx="554" cy="370.25" r="2.3" fill="#000" />
<circle cx="549.5" cy="381" r="2.3" fill="#000" />
<path d="M567 415V386.38H585.1V415" fill="none" stroke="#000" stroke-width="1.6"/>
<line x1="575.8" y1="394.84" x2="575.8" y2="377.38" stroke="#000" stroke-width="0.9" />
<line x1="572.8" y1="377.38" x2="578.8" y2="377.38" stroke="#000" stroke-width="0.9" />
<line x1="572.8" y1="394.84" x2="578.8" y2="394.84" stroke="#000" stroke-width="0.9" />
<circle cx="575.8" cy="374.69" r="2.3" fill="#000" />
<circle cx="571.3" cy="388.66" r="2.3" fill="#000" />
<circle cx="581.3" cy="388.66" r="2.3" fill="#000" />
<circle cx="575.8" cy="395.11" r="2.3" fill="#000" />
<text x="522.3" y="341.3" font-size="13" text-anchor="middle" font-weight="bold">‡</text>
<text x="549.5" y="354.3" font-size="12" text-anchor="middle" font-weight="bold">#</text>
<text x="575.8" y="354.3" font-size="12" text-anchor="middle" font-weight="bold">#</text>
<text x="575.8" y="372.2" font-size="15.5" text-anchor="middle" font-weight="bold">*</text>
<text x="494.9" y="428.7" font-size="9" text-anchor="middle">P1</text>
<text x="522.3" y="428.7" font-size="9" text-anchor="middle">3w</text>
<text x="549.5" y="428.7" font-size="9" text-anchor="middle">12w</text>
<text x="575.8" y="428.7" font-size="9" text-anchor="middle">52w</text>
<line x1="480.3" y1="433.2" x2="590.4" y2="433.2" stroke="#000" stroke-width="1.1" stroke-dasharray="3 1.9"/>
<text x="540.7" y="442.4" font-size="10" text-anchor="middle">Postnatal age</text>
<text x="562.4" y="316.3" font-size="11.5" text-anchor="middle">p&lt;0.0001</text>
<text transform="translate(430.4 362.6) rotate(-90)" font-size="13.5" text-anchor="middle">Number of aortic</text>
<text transform="translate(447.2 363) rotate(-90)" font-size="13.5" text-anchor="middle">progenitors</text>
<text x="75.2" y="459.2" font-size="24" font-weight="bold">g</text>
<line x1="155.4" y1="454.6" x2="155.4" y2="562.9" stroke="#000" stroke-width="1.3" stroke-linecap="square"/>
<line x1="151.4" y1="562.9" x2="155.4" y2="562.9" stroke="#000" stroke-width="1.3" />
<text x="149.9" y="565.53" font-size="8.5" text-anchor="end" fill="#000">0</text>
<line x1="151.4" y1="526.8" x2="155.4" y2="526.8" stroke="#000" stroke-width="1.3" />
<text x="149.9" y="529.43" font-size="8.5" text-anchor="end" fill="#000">50</text>
<line x1="151.4" y1="490.7" x2="155.4" y2="490.7" stroke="#000" stroke-width="1.3" />
<text x="149.9" y="493.34" font-size="8.5" text-anchor="end" fill="#000">100</text>
<line x1="151.4" y1="454.6" x2="155.4" y2="454.6" stroke="#000" stroke-width="1.3" />
<text x="149.9" y="457.24" font-size="8.5" text-anchor="end" fill="#000">150</text>
<line x1="155.4" y1="562.9" x2="322" y2="562.9" stroke="#000" stroke-width="1.3" stroke-linecap="square"/>
<line x1="170.2" y1="562.9" x2="170.2" y2="567.2" stroke="#000" stroke-width="1.3" />
<line x1="193" y1="562.9" x2="193" y2="567.2" stroke="#000" stroke-width="1.3" />
<line x1="215.7" y1="562.9" x2="215.7" y2="567.2" stroke="#000" stroke-width="1.3" />
<line x1="238.3" y1="562.9" x2="238.3" y2="567.2" stroke="#000" stroke-width="1.3" />
<line x1="261" y1="562.9" x2="261" y2="567.2" stroke="#000" stroke-width="1.3" />
<line x1="283.7" y1="562.9" x2="283.7" y2="567.2" stroke="#000" stroke-width="1.3" />
<line x1="306.6" y1="562.9" x2="306.6" y2="567.2" stroke="#000" stroke-width="1.3" />
<text x="170.2" y="575.6" font-size="9" text-anchor="middle">7.5</text>
<text x="193" y="575.6" font-size="9" text-anchor="middle">8.5</text>
<text x="215.7" y="575.6" font-size="9" text-anchor="middle">9.5</text>
<text x="238.3" y="575.6" font-size="9" text-anchor="middle">10.5</text>
<text x="261" y="575.6" font-size="9" text-anchor="middle">11.5</text>
<text x="283.7" y="575.6" font-size="9" text-anchor="middle">12.5</text>
<text x="306.6" y="575.6" font-size="9" text-anchor="middle">15.5</text>
<line x1="155" y1="580.9" x2="319.8" y2="580.9" stroke="#000" stroke-width="1.1" stroke-dasharray="3 1.9"/>
<text x="245.7" y="592" font-size="10" text-anchor="middle">Embryonic (E) days</text>
<polyline points="170.2,544.85 193,534.02 215.7,505.14 238.3,515.97 261,519.58 283.7,542.68 306.6,543.41" fill="none" stroke="#000" stroke-width="1.8"/>
<line x1="170.2" y1="548.46" x2="170.2" y2="541.24" stroke="#000" stroke-width="1.1" />
<line x1="168" y1="541.24" x2="172.4" y2="541.24" stroke="#000" stroke-width="1.1" />
<line x1="168" y1="548.46" x2="172.4" y2="548.46" stroke="#000" stroke-width="1.1" />
<circle cx="170.2" cy="544.85" r="2.6" fill="#000" />
<circle cx="193" cy="534.02" r="2.6" fill="#000" />
<circle cx="215.7" cy="505.14" r="2.6" fill="#000" />
<line x1="238.3" y1="523.19" x2="238.3" y2="508.75" stroke="#000" stroke-width="1.1" />
<line x1="236.1" y1="508.75" x2="240.5" y2="508.75" stroke="#000" stroke-width="1.1" />
<line x1="236.1" y1="523.19" x2="240.5" y2="523.19" stroke="#000" stroke-width="1.1" />
<circle cx="238.3" cy="515.97" r="2.6" fill="#000" />
<line x1="261" y1="523.91" x2="261" y2="515.25" stroke="#000" stroke-width="1.1" />
<line x1="258.8" y1="515.25" x2="263.2" y2="515.25" stroke="#000" stroke-width="1.1" />
<line x1="258.8" y1="523.91" x2="263.2" y2="523.91" stroke="#000" stroke-width="1.1" />
<circle cx="261" cy="519.58" r="2.6" fill="#000" />
<line x1="283.7" y1="547.02" x2="283.7" y2="538.35" stroke="#000" stroke-width="1.1" />
<line x1="281.5" y1="538.35" x2="285.9" y2="538.35" stroke="#000" stroke-width="1.1" />
<line x1="281.5" y1="547.02" x2="285.9" y2="547.02" stroke="#000" stroke-width="1.1" />
<circle cx="283.7" cy="542.68" r="2.6" fill="#000" />
<line x1="306.6" y1="548.46" x2="306.6" y2="538.35" stroke="#000" stroke-width="1.1" />
<line x1="304.4" y1="538.35" x2="308.8" y2="538.35" stroke="#000" stroke-width="1.1" />
<line x1="304.4" y1="548.46" x2="308.8" y2="548.46" stroke="#000" stroke-width="1.1" />
<circle cx="306.6" cy="543.41" r="2.6" fill="#000" />
<polyline points="238.3,483.48 261,503.7 283.7,504.42 306.6,513.8" fill="none" stroke="#1fbf1f" stroke-width="1.8"/>
<line x1="238.3" y1="503.7" x2="238.3" y2="463.26" stroke="#1fbf1f" stroke-width="1.1" />
<line x1="236.1" y1="463.26" x2="240.5" y2="463.26" stroke="#1fbf1f" stroke-width="1.1" />
<line x1="236.1" y1="503.7" x2="240.5" y2="503.7" stroke="#1fbf1f" stroke-width="1.1" />
<rect x="235.7" y="480.88" width="5.2" height="5.2" fill="#1fbf1f" />
<line x1="261" y1="515.97" x2="261" y2="491.42" stroke="#1fbf1f" stroke-width="1.1" />
<line x1="258.8" y1="491.42" x2="263.2" y2="491.42" stroke="#1fbf1f" stroke-width="1.1" />
<line x1="258.8" y1="515.97" x2="263.2" y2="515.97" stroke="#1fbf1f" stroke-width="1.1" />
<rect x="258.4" y="501.1" width="5.2" height="5.2" fill="#1fbf1f" />
<line x1="283.7" y1="522.47" x2="283.7" y2="486.37" stroke="#1fbf1f" stroke-width="1.1" />
<line x1="281.5" y1="486.37" x2="285.9" y2="486.37" stroke="#1fbf1f" stroke-width="1.1" />
<line x1="281.5" y1="522.47" x2="285.9" y2="522.47" stroke="#1fbf1f" stroke-width="1.1" />
<rect x="281.1" y="501.82" width="5.2" height="5.2" fill="#1fbf1f" />
<line x1="306.6" y1="521.02" x2="306.6" y2="506.58" stroke="#1fbf1f" stroke-width="1.1" />
<line x1="304.4" y1="506.58" x2="308.8" y2="506.58" stroke="#1fbf1f" stroke-width="1.1" />
<line x1="304.4" y1="521.02" x2="308.8" y2="521.02" stroke="#1fbf1f" stroke-width="1.1" />
<rect x="304" y="511.2" width="5.2" height="5.2" fill="#1fbf1f" />
<polyline points="170.2,562.68 193,560.01 215.7,560.73" fill="none" stroke="#1010ff" stroke-width="1.6"/>
<rect x="167.6" y="560.08" width="5.2" height="5.2" fill="#1010ff" />
<rect x="190.4" y="557.41" width="5.2" height="5.2" fill="#1010ff" />
<rect x="213.1" y="558.13" width="5.2" height="5.2" fill="#1010ff" />
<line x1="296.5" y1="452" x2="307.8" y2="452" stroke="#000" stroke-width="1.8" />
<circle cx="302.1" cy="452" r="2.5" fill="#000" />
<text x="313.7" y="456" font-size="11" fill="#000">YS</text>
<line x1="296.5" y1="465.2" x2="307.8" y2="465.2" stroke="#1010ff" stroke-width="1.8" />
<rect x="299.5" y="462.6" width="5.2" height="5.2" fill="#1010ff" />
<text x="313.7" y="469.2" font-size="11" fill="#000">Embryo</text>
<line x1="296.5" y1="476.9" x2="307.8" y2="476.9" stroke="#1fbf1f" stroke-width="1.8" />
<rect x="299.5" y="474.3" width="5.2" height="5.2" fill="#1fbf1f" />
<text x="313.7" y="480.9" font-size="11" fill="#000">AGM</text>
<text transform="translate(111.9 508.2) rotate(-90)" font-size="13.5" text-anchor="middle">CFU-M</text>
<text transform="translate(128.4 508.2) rotate(-90)" font-size="13.5" text-anchor="middle">per 10<tspan dy="-4.6" font-size="9.72">5</tspan><tspan dy="4.6">​</tspan> cells</text>
<text x="394.8" y="458.1" font-size="24" font-weight="bold">h</text>
<line x1="476.7" y1="456" x2="476.7" y2="562.6" stroke="#000" stroke-width="1.3" stroke-linecap="square"/>
<line x1="472.5" y1="562.6" x2="476.7" y2="562.6" stroke="#000" stroke-width="1.3" />
<text x="471" y="565.24" font-size="8.5" text-anchor="end" fill="#000">0</text>
<line x1="472.5" y1="535.95" x2="476.7" y2="535.95" stroke="#000" stroke-width="1.3" />
<text x="471" y="538.59" font-size="8.5" text-anchor="end" fill="#000">500</text>
<line x1="472.5" y1="509.3" x2="476.7" y2="509.3" stroke="#000" stroke-width="1.3" />
<text x="471" y="511.94" font-size="8.5" text-anchor="end" fill="#000">1000</text>
<line x1="472.5" y1="482.65" x2="476.7" y2="482.65" stroke="#000" stroke-width="1.3" />
<text x="471" y="485.28" font-size="8.5" text-anchor="end" fill="#000">1500</text>
<line x1="472.5" y1="456" x2="476.7" y2="456" stroke="#000" stroke-width="1.3" />
<text x="471" y="458.63" font-size="8.5" text-anchor="end" fill="#000">2000</text>
<line x1="476.7" y1="562.6" x2="584.2" y2="562.6" stroke="#000" stroke-width="1.3" stroke-linecap="square"/>
<line x1="498" y1="562.6" x2="498" y2="566.9" stroke="#000" stroke-width="1.3" />
<line x1="529.6" y1="562.6" x2="529.6" y2="566.9" stroke="#000" stroke-width="1.3" />
<line x1="561.7" y1="562.6" x2="561.7" y2="566.9" stroke="#000" stroke-width="1.3" />
<path d="M487.8 562.6V478.92H508.2V562.6" fill="none" stroke="#000" stroke-width="1.6"/>
<line x1="498" y1="486.38" x2="498" y2="470.92" stroke="#000" stroke-width="0.9" />
<line x1="494.5" y1="470.92" x2="501.5" y2="470.92" stroke="#000" stroke-width="0.9" />
<line x1="494.5" y1="486.38" x2="501.5" y2="486.38" stroke="#000" stroke-width="0.9" />
<circle cx="498" cy="470.92" r="2.3" fill="#000" />
<circle cx="498" cy="478.39" r="2.3" fill="#000" />
<circle cx="498" cy="486.38" r="2.3" fill="#000" />
<circle cx="522.6" cy="562.33" r="2.3" fill="#000" />
<circle cx="529.6" cy="560.47" r="2.3" fill="#000" />
<circle cx="536.6" cy="562.07" r="2.3" fill="#000" />
<line x1="524" y1="561" x2="535" y2="561" stroke="#000" stroke-width="1.2" />
<circle cx="554.7" cy="562.07" r="2.3" fill="#000" />
<circle cx="561.7" cy="562.17" r="2.3" fill="#000" />
<circle cx="568.7" cy="561.96" r="2.3" fill="#000" />
<text x="484.9" y="578.2" font-size="8" text-anchor="end">CX<tspan dy="2" font-size="5.2">3</tspan><tspan dy="-2">​</tspan>CR1/GFP</text>
<text x="484.9" y="588" font-size="8" text-anchor="end">c-Kit</text>
<text x="484.9" y="598.6" font-size="8" text-anchor="end">CD45</text>
<text x="498" y="578.7" font-size="8.5" text-anchor="middle">+</text>
<text x="529.6" y="578.7" font-size="8.5" text-anchor="middle">-</text>
<text x="561.7" y="578.7" font-size="8.5" text-anchor="middle">+</text>
<text x="498" y="589.2" font-size="8.5" text-anchor="middle">+</text>
<text x="529.6" y="589.2" font-size="8.5" text-anchor="middle">+</text>
<text x="561.7" y="589.2" font-size="8.5" text-anchor="middle">-</text>
<text x="498" y="599.6" font-size="8.5" text-anchor="middle">+</text>
<text x="529.6" y="599.6" font-size="8.5" text-anchor="middle">+</text>
<text x="561.7" y="599.6" font-size="8.5" text-anchor="middle">+</text>
<text transform="translate(428.3 506.4) rotate(-90)" font-size="13.5" text-anchor="middle">CFU-M per</text>
<text transform="translate(444.3 506.4) rotate(-90)" font-size="13.5" text-anchor="middle">10<tspan dy="-4.6" font-size="9.72">5</tspan><tspan dy="4.6">​</tspan> aortic cells</text>
<text x="2" y="610.5" font-size="24" font-weight="bold">i</text>
<rect x="47.4" y="610.2" width="75.2" height="28.5" fill="#e6e6e6" />
<text x="85" y="621.3" font-size="12.8" text-anchor="middle" font-weight="bold">E8.5</text>
<text x="85" y="636.4" font-size="12.8" text-anchor="middle" font-weight="bold">YS</text>
<rect x="134.2" y="610.2" width="75.2" height="28.5" fill="#e6e6e6" />
<text x="171.8" y="621.3" font-size="12.8" text-anchor="middle" font-weight="bold">E8.5</text>
<text x="171.8" y="636.4" font-size="12.8" text-anchor="middle" font-weight="bold">Embryo</text>
<rect x="221" y="610.2" width="75.2" height="28.5" fill="#e6e6e6" />
<text x="258.6" y="621.3" font-size="12.8" text-anchor="middle" font-weight="bold">E9.5</text>
<text x="258.6" y="636.4" font-size="12.8" text-anchor="middle" font-weight="bold">YS</text>
<rect x="307.8" y="610.2" width="75.2" height="28.5" fill="#e6e6e6" />
<text x="345.4" y="621.3" font-size="12.8" text-anchor="middle" font-weight="bold">E9.5</text>
<text x="345.4" y="636.4" font-size="12.8" text-anchor="middle" font-weight="bold">Embryo</text>
<rect x="394.6" y="610.2" width="75.2" height="28.5" fill="#e6e6e6" />
<text x="432.2" y="621.3" font-size="12.8" text-anchor="middle" font-weight="bold">E10.5</text>
<text x="432.2" y="636.4" font-size="12.8" text-anchor="middle" font-weight="bold">YS</text>
<rect x="481.4" y="610.2" width="75.2" height="28.5" fill="#e6e6e6" />
<text x="519" y="621.3" font-size="12.8" text-anchor="middle" font-weight="bold">E10.5</text>
<text x="519" y="636.4" font-size="12.8" text-anchor="middle" font-weight="bold">AGM</text>
<rect x="568.2" y="610.2" width="75.2" height="28.5" fill="#e6e6e6" />
<text x="605.8" y="621.3" font-size="12.8" text-anchor="middle" font-weight="bold">E15.5</text>
<text x="605.8" y="636.4" font-size="12.8" text-anchor="middle" font-weight="bold">AGM</text>
<rect x="47.4" y="641" width="75.2" height="75" fill="none" stroke="#8c8c8c" stroke-width="0.6" />
<path d="M47.4 716h-2M47.4 701.85h-2M47.4 687.7h-2M47.4 673.55h-2M47.4 659.4h-2M47.4 645.25h-2M52.6 716v2M76.5 716v2M96.4 716v2M115.7 716v2M47.4 714h-1M47.4 709.82h-1M47.4 705.65h-1M47.4 701.47h-1M47.4 697.29h-1M47.4 693.12h-1M47.4 688.94h-1M47.4 684.76h-1M47.4 680.59h-1M47.4 676.41h-1M47.4 672.24h-1M47.4 668.06h-1M47.4 663.88h-1M47.4 659.71h-1M47.4 655.53h-1M47.4 651.35h-1M47.4 647.18h-1M47.4 643h-1M49.4 716v1M55.87 716v1M62.35 716v1M68.82 716v1M75.29 716v1M81.76 716v1M88.24 716v1M94.71 716v1M101.18 716v1M107.65 716v1M114.13 716v1M120.6 716v1" stroke="#777" stroke-width="0.5"/>
<text x="45" y="717.2" font-size="3.6" text-anchor="end" fill="#555">0</text>
<text x="45" y="703.05" font-size="3.6" text-anchor="end" fill="#555">50K</text>
<text x="45" y="688.9" font-size="3.6" text-anchor="end" fill="#555">100K</text>
<text x="45" y="674.75" font-size="3.6" text-anchor="end" fill="#555">150K</text>
<text x="45" y="660.6" font-size="3.6" text-anchor="end" fill="#555">200K</text>
<text x="45" y="646.45" font-size="3.6" text-anchor="end" fill="#555">250K</text>
<text x="52.6" y="722.2" font-size="3.6" text-anchor="middle" fill="#555">0</text>
<text x="76.5" y="722.2" font-size="3.6" text-anchor="middle" fill="#555">10<tspan dy="-1" font-size="2.6">3</tspan></text>
<text x="96.4" y="722.2" font-size="3.6" text-anchor="middle" fill="#555">10<tspan dy="-1" font-size="2.6">4</tspan></text>
<text x="115.7" y="722.2" font-size="3.6" text-anchor="middle" fill="#555">10<tspan dy="-1" font-size="2.6">5</tspan></text>
<g transform="translate(47.4 641)" stroke-width="1.25" filter="url(#blurf)">
<path d="M41 1.5h1M46 1.5h1M37 3.5h1M36 4.5h1M41 4.5h1M49 4.5h1M30 5.5h1M32 6.5h1M34 6.5h1M36 7.5h1M32 8.5h2M36 9.5h2M41 9.5h1M29 10.5h2M32 10.5h1M36 10.5h1M45 10.5h1M11 11.5h1M37 11.5h2M40 11.5h1M23 12.5h1M36 12.5h2M24 13.5h1M33 13.5h4M39 13.5h2M29 14.5h1M32 14.5h1M44 14.5h1M28 15.5h2M31 15.5h3M36 15.5h1M38 15.5h1M42 15.5h1M51 15.5h1M13 16.5h1M27 16.5h2M31 16.5h1M34 16.5h2M38 16.5h1M44 16.5h1M54 16.5h1M23 17.5h2M33 17.5h3M38 17.5h2M43 17.5h1M27 18.5h1M32 18.5h8M23 19.5h1M28 19.5h2M35 19.5h2M38 19.5h1M41 19.5h2M47 19.5h1M50 19.5h1M0 20.5h1M24 20.5h1M27 20.5h1M29 20.5h1M36 20.5h1M40 20.5h1M42 20.5h1M46 20.5h1M49 20.5h1M6 21.5h1M19 21.5h1M26 21.5h2M38 21.5h2M2 22.5h1M19 22.5h1M27 22.5h1M37 22.5h1M40 22.5h1M47 22.5h1M3 23.5h1M12 23.5h1M18 23.5h1M24 23.5h1M37 23.5h2M42 23.5h1M53 23.5h1M11 24.5h1M18 24.5h1M20 24.5h2M23 24.5h1M25 24.5h1M37 24.5h3M42 24.5h1M44 24.5h1M48 24.5h1M1 25.5h1M21 25.5h1M24 25.5h1M37 25.5h1M45 25.5h1M47 25.5h1M56 25.5h1M2 26.5h1M5 26.5h1M22 26.5h2M37 26.5h3M47 26.5h1M54 26.5h1M19 27.5h4M38 27.5h1M42 27.5h1M49 27.5h1M1 28.5h3M16 28.5h1M18 28.5h1M22 28.5h1M37 28.5h1M39 28.5h2M48 28.5h1M7 29.5h1M21 29.5h1M45 29.5h1M47 29.5h1M53 29.5h1M2 30.5h1M10 30.5h2M16 30.5h5M38 30.5h1M41 30.5h1M44 30.5h3M3 31.5h2M7 31.5h1M19 31.5h1M37 31.5h2M40 31.5h2M48 31.5h2M55 31.5h1M0 32.5h2M3 32.5h1M6 32.5h1M19 32.5h1M39 32.5h2M43 32.5h1M46 32.5h1M0 33.5h2M4 33.5h1M6 33.5h1M9 33.5h1M11 33.5h1M13 33.5h1M16 33.5h2M38 33.5h2M44 33.5h1M49 33.5h2M1 34.5h1M4 34.5h1M6 34.5h1M10 34.5h1M14 34.5h2M17 34.5h1M44 34.5h1M47 34.5h2M0 35.5h1M4 35.5h2M7 35.5h1M11 35.5h1M13 35.5h1M37 35.5h1M39 35.5h1M45 35.5h1M48 35.5h1M0 36.5h1M2 36.5h4M7 36.5h1M9 36.5h2M12 36.5h1M15 36.5h2M45 36.5h1M51 36.5h1M1 37.5h1M3 37.5h4M9 37.5h2M12 37.5h1M14 37.5h1M36 37.5h2M41 37.5h1M43 37.5h2M46 37.5h3M53 37.5h1M0 38.5h1M4 38.5h3M8 38.5h1M11 38.5h1M14 38.5h1M35 38.5h1M39 38.5h2M46 38.5h1M48 38.5h1M50 38.5h1M56 38.5h1M6 39.5h3M11 39.5h1M13 39.5h1M35 39.5h2M38 39.5h1M43 39.5h1M45 39.5h3M49 39.5h3M55 39.5h1M57 39.5h1M5 40.5h8M35 40.5h3M41 40.5h1M46 40.5h1M48 40.5h1M50 40.5h1M52 40.5h1M55 40.5h1M6 41.5h1M12 41.5h1M37 41.5h1M44 41.5h2M47 41.5h1M49 41.5h4M8 42.5h2M36 42.5h1M43 42.5h1M46 42.5h4M51 42.5h1M34 43.5h2M41 43.5h6M49 43.5h2M52 43.5h1M54 43.5h1M33 44.5h1M43 44.5h1M45 44.5h1M51 44.5h1M33 45.5h1M37 45.5h1M42 45.5h1M50 45.5h2M53 45.5h1M55 45.5h3M33 46.5h1M36 46.5h1M39 46.5h6M51 46.5h2M54 46.5h1M57 46.5h1M32 47.5h2M39 47.5h1M42 47.5h1M44 47.5h1M51 47.5h1M53 47.5h1M55 47.5h1M57 47.5h1M32 48.5h1M37 48.5h1M41 48.5h4M51 48.5h1M53 48.5h1M55 48.5h1M58 48.5h1M31 49.5h1M40 49.5h3M53 49.5h1M55 49.5h1M31 50.5h1M33 50.5h1M39 50.5h1M42 50.5h3M51 50.5h5M32 51.5h1M34 51.5h1M41 51.5h3M51 51.5h1M30 52.5h2M35 52.5h1M43 52.5h2M52 52.5h1M56 52.5h1M30 53.5h1M35 53.5h2M42 53.5h3M51 53.5h3M29 54.5h1M33 54.5h1M39 54.5h1M44 54.5h2M50 54.5h1M52 54.5h3M58 54.5h1M30 55.5h1M40 55.5h1M42 55.5h1M44 55.5h2M50 55.5h2M53 55.5h2M56 55.5h1M58 55.5h1M29 56.5h1M31 56.5h1M36 56.5h1M41 56.5h2M44 56.5h3M52 56.5h2M55 56.5h1M34 57.5h1M39 57.5h1M43 57.5h3M47 57.5h1M49 57.5h2M54 57.5h1M27 58.5h1M31 58.5h1M40 58.5h2M45 58.5h1M47 58.5h7M55 58.5h2M27 59.5h1M29 59.5h1M31 59.5h1M40 59.5h1M44 59.5h1M46 59.5h2M49 59.5h1M53 59.5h1M59 59.5h1M26 60.5h1M29 60.5h2M34 60.5h1M39 60.5h1M45 60.5h2M48 60.5h1M50 60.5h1M52 60.5h1M55 60.5h2M27 61.5h1M30 61.5h1M43 61.5h1M45 61.5h1M47 61.5h4M52 61.5h1M55 61.5h1M59 61.5h1M26 62.5h1M29 62.5h1M33 62.5h1M43 62.5h1M45 62.5h1M48 62.5h1M51 62.5h1M25 63.5h1M29 63.5h2M32 63.5h1M47 63.5h1M26 64.5h2M30 64.5h1M39 64.5h1M42 64.5h3M48 64.5h1M50 64.5h2M54 64.5h3M23 65.5h1M43 65.5h2M48 65.5h1M51 65.5h1M22 66.5h1M25 66.5h2M44 66.5h1M49 66.5h2M22 67.5h1M24 67.5h1M26 67.5h1M30 67.5h1M43 67.5h2M46 67.5h4M51 67.5h2M48 68.5h1M23 69.5h2M40 69.5h1M43 69.5h2M49 69.5h1M20 70.5h1M26 70.5h1M45 70.5h1M52 70.5h1M20 71.5h1M44 71.5h2M49 71.5h2M54 71.5h1M26 72.5h1M19 73.5h1M45 73.5h1M47 74.5h1" stroke="#0000ff"/>
<path d="M34 19.5h1M30 20.5h2M33 20.5h3M29 21.5h1M31 21.5h1M33 21.5h4M28 22.5h9M28 23.5h9M26 24.5h3M30 24.5h3M35 24.5h2M25 25.5h12M24 26.5h1M26 26.5h3M33 26.5h4M24 27.5h4M34 27.5h3M24 28.5h3M34 28.5h3M23 29.5h3M34 29.5h3M21 30.5h4M36 30.5h1M20 31.5h2M23 31.5h1M34 31.5h3M21 32.5h2M34 32.5h3M19 33.5h1M21 33.5h1M34 33.5h2M20 34.5h2M34 34.5h2M19 35.5h2M34 35.5h1M17 36.5h3M33 36.5h2M2 37.5h1M16 37.5h3M33 37.5h2M1 38.5h1M3 38.5h1M17 38.5h2M33 38.5h1M1 39.5h4M15 39.5h2M33 39.5h2M1 40.5h4M14 40.5h1M16 40.5h1M32 40.5h2M0 41.5h5M13 41.5h4M32 41.5h2M0 42.5h6M7 42.5h1M11 42.5h5M32 42.5h2M0 43.5h5M6 43.5h2M10 43.5h3M14 43.5h1M31 43.5h3M0 44.5h15M31 44.5h2M46 44.5h2M49 44.5h1M0 45.5h6M7 45.5h5M13 45.5h1M31 45.5h2M47 45.5h3M1 46.5h8M10 46.5h1M12 46.5h1M30 46.5h3M45 46.5h1M47 46.5h1M49 46.5h1M0 47.5h2M3 47.5h1M6 47.5h2M9 47.5h3M30 47.5h1M45 47.5h3M49 47.5h2M0 48.5h1M5 48.5h7M29 48.5h3M46 48.5h1M48 48.5h1M50 48.5h1M0 49.5h1M4 49.5h1M8 49.5h3M29 49.5h2M45 49.5h4M50 49.5h1M0 50.5h1M4 50.5h6M29 50.5h2M45 50.5h2M48 50.5h3M0 51.5h1M5 51.5h2M8 51.5h2M28 51.5h3M46 51.5h1M49 51.5h2M5 52.5h1M7 52.5h2M28 52.5h1M45 52.5h6M0 53.5h1M5 53.5h3M27 53.5h3M46 53.5h2M0 54.5h1M5 54.5h2M28 54.5h1M47 54.5h1M49 54.5h1M0 55.5h1M6 55.5h1M26 55.5h3M49 55.5h1M0 56.5h1M26 56.5h2M47 56.5h2M0 57.5h1M25 57.5h3M0 58.5h1M25 58.5h2M0 59.5h1M25 59.5h2M0 60.5h1M23 60.5h1M25 60.5h1M0 61.5h1M23 61.5h2M0 62.5h1M23 62.5h2M0 63.5h1M22 63.5h2M0 64.5h1M21 64.5h1M20 65.5h1M20 67.5h2M19 68.5h1M18 69.5h3M18 70.5h2M17 71.5h2M16 72.5h3M16 73.5h2M15 74.5h2" stroke="#0046ff"/>
<path d="M29 26.5h1M31 26.5h2M28 27.5h6M27 28.5h7M26 29.5h8M25 30.5h4M30 30.5h4M24 31.5h3M31 31.5h3M23 32.5h3M31 32.5h3M22 33.5h3M32 33.5h2M22 34.5h2M32 34.5h2M21 35.5h2M31 35.5h3M20 36.5h2M31 36.5h2M19 37.5h2M31 37.5h2M19 38.5h1M31 38.5h2M18 39.5h2M31 39.5h2M17 40.5h2M31 40.5h1M17 41.5h2M30 41.5h2M16 42.5h1M30 42.5h2M15 43.5h2M30 43.5h1M15 44.5h1M29 44.5h2M15 45.5h1M29 45.5h2M13 46.5h2M29 46.5h1M2 47.5h1M12 47.5h2M28 47.5h2M1 48.5h3M13 48.5h1M28 48.5h1M1 49.5h3M12 49.5h1M27 49.5h2M1 50.5h3M12 50.5h1M27 50.5h2M1 51.5h3M10 51.5h1M26 51.5h2M1 52.5h4M9 52.5h2M26 52.5h2M1 53.5h4M8 53.5h3M26 53.5h1M1 54.5h3M7 54.5h3M25 54.5h2M1 55.5h5M7 55.5h3M24 55.5h2M1 56.5h5M7 56.5h2M24 56.5h2M1 57.5h8M23 57.5h2M1 58.5h7M23 58.5h1M1 59.5h7M22 59.5h2M1 60.5h3M5 60.5h2M22 60.5h1M1 61.5h6M21 61.5h2M1 62.5h4M6 62.5h1M21 62.5h1M1 63.5h5M20 63.5h2M1 64.5h4M19 64.5h2M0 65.5h4M19 65.5h1M1 66.5h2M18 66.5h2M0 67.5h2M18 67.5h1M0 68.5h1M17 68.5h2M17 69.5h1M0 70.5h1M16 70.5h2M0 71.5h1M15 71.5h2M0 72.5h1M15 72.5h1M0 73.5h2M14 73.5h2M0 74.5h2M13 74.5h2" stroke="#008cff"/>
<path d="M29 30.5h1M27 31.5h4M26 32.5h5M25 33.5h7M24 34.5h8M23 35.5h3M29 35.5h2M22 36.5h3M29 36.5h2M21 37.5h3M29 37.5h2M21 38.5h2M29 38.5h2M20 39.5h2M29 39.5h2M19 40.5h2M29 40.5h2M19 41.5h1M29 41.5h1M18 42.5h1M28 42.5h2M17 43.5h2M28 43.5h2M17 44.5h1M28 44.5h1M16 45.5h1M28 45.5h1M15 46.5h2M27 46.5h2M14 47.5h2M27 47.5h1M14 48.5h1M26 48.5h2M13 49.5h2M26 49.5h1M13 50.5h1M26 50.5h1M12 51.5h1M25 51.5h1M11 52.5h2M25 52.5h1M11 53.5h1M24 53.5h1M10 54.5h2M24 54.5h1M10 55.5h1M23 55.5h1M9 56.5h2M23 56.5h1M9 57.5h1M22 57.5h1M8 58.5h2M22 58.5h1M8 59.5h1M21 59.5h1M7 60.5h2M20 60.5h2M7 61.5h1M20 61.5h1M7 62.5h1M19 62.5h2M6 63.5h2M19 63.5h1M5 64.5h2M18 64.5h1M4 65.5h2M3 66.5h3M17 66.5h1M2 67.5h3M16 67.5h2M1 68.5h3M16 68.5h1M1 69.5h2M15 69.5h2M1 70.5h2M15 70.5h1M1 71.5h2M14 71.5h1M1 72.5h2M14 72.5h1M2 73.5h2M13 73.5h1M2 74.5h3M12 74.5h1" stroke="#00d3ff"/>
<path d="M26 35.5h3M25 36.5h4M24 37.5h5M23 38.5h6M22 39.5h2M27 39.5h2M21 40.5h2M27 40.5h2M20 41.5h2M27 41.5h2M19 42.5h2M27 42.5h1M19 43.5h1M27 43.5h1M18 44.5h1M26 44.5h2M17 45.5h2M26 45.5h2M17 46.5h1M26 46.5h1M16 47.5h1M25 47.5h2M15 48.5h1M25 48.5h1M15 49.5h1M25 49.5h1M14 50.5h1M24 50.5h2M13 51.5h1M24 51.5h1M13 52.5h1M23 52.5h2M12 53.5h1M23 53.5h1M12 54.5h1M22 54.5h2M11 55.5h1M22 55.5h1M11 56.5h1M22 56.5h1M10 57.5h1M21 57.5h1M10 58.5h1M20 58.5h2M9 59.5h1M20 59.5h1M9 60.5h1M19 60.5h1M8 61.5h1M19 61.5h1M8 62.5h1M18 62.5h1M8 63.5h1M18 63.5h1M7 64.5h1M17 64.5h1M6 65.5h2M17 65.5h1M6 66.5h1M16 66.5h1M5 67.5h2M15 67.5h1M4 68.5h2M15 68.5h1M3 69.5h2M14 69.5h1M3 70.5h2M14 70.5h1M3 71.5h2M13 71.5h1M3 72.5h2M12 72.5h2M4 73.5h2M11 73.5h2M5 74.5h2M9 74.5h3" stroke="#1affe4"/>
<path d="M24 39.5h3M23 40.5h4M22 41.5h5M21 42.5h6M20 43.5h7M19 44.5h3M24 44.5h2M19 45.5h1M24 45.5h2M18 46.5h1M24 46.5h2M17 47.5h2M24 47.5h1M16 48.5h2M24 48.5h1M16 49.5h1M23 49.5h2M15 50.5h1M23 50.5h1M14 51.5h2M23 51.5h1M14 52.5h1M22 52.5h1M13 53.5h1M22 53.5h1M13 54.5h1M21 54.5h1M12 55.5h1M21 55.5h1M12 56.5h1M20 56.5h2M11 57.5h1M20 57.5h1M11 58.5h1M19 58.5h1M10 59.5h1M19 59.5h1M10 60.5h1M18 60.5h1M9 61.5h1M18 61.5h1M9 62.5h1M17 62.5h1M9 63.5h1M17 63.5h1M8 64.5h1M16 64.5h1M8 65.5h1M15 65.5h2M7 66.5h1M15 66.5h1M7 67.5h1M14 67.5h1M6 68.5h1M14 68.5h1M5 69.5h2M13 69.5h1M5 70.5h1M12 70.5h2M5 71.5h2M12 71.5h1M5 72.5h2M11 72.5h1M6 73.5h5M7 74.5h2" stroke="#61ff9d"/>
<path d="M22 44.5h2M20 45.5h4M19 46.5h5M19 47.5h5M18 48.5h2M21 48.5h3M17 49.5h2M21 49.5h2M16 50.5h2M21 50.5h2M16 51.5h1M21 51.5h2M15 52.5h1M21 52.5h1M14 53.5h1M20 53.5h2M14 54.5h1M20 54.5h1M13 55.5h1M20 55.5h1M13 56.5h1M19 56.5h1M12 57.5h1M19 57.5h1M12 58.5h1M18 58.5h1M11 59.5h1M18 59.5h1M11 60.5h1M17 60.5h1M10 61.5h2M17 61.5h1M10 62.5h1M16 62.5h1M10 63.5h1M16 63.5h1M9 64.5h2M15 64.5h1M9 65.5h1M14 65.5h1M8 66.5h2M14 66.5h1M8 67.5h1M13 67.5h1M7 68.5h2M12 68.5h2M7 69.5h2M12 69.5h1M6 70.5h3M11 70.5h1M7 71.5h5M7 72.5h4" stroke="#a7ff57"/>
<path d="M20 48.5h1M19 49.5h2M18 50.5h3M17 51.5h4M16 52.5h5M15 53.5h5M15 54.5h2M18 54.5h2M14 55.5h2M18 55.5h2M14 56.5h1M18 56.5h1M13 57.5h1M17 57.5h2M13 58.5h1M17 58.5h1M12 59.5h2M17 59.5h1M12 60.5h1M16 60.5h1M12 61.5h1M15 61.5h2M11 62.5h2M15 62.5h1M11 63.5h5M11 64.5h4M10 65.5h4M10 66.5h4M9 67.5h4M9 68.5h3M9 69.5h3M9 70.5h2" stroke="#eeff10"/>
<path d="M17 54.5h1M16 55.5h2M15 56.5h3M14 57.5h3M14 58.5h3M14 59.5h3M13 60.5h3M13 61.5h2M13 62.5h2" stroke="#ffc900"/>
</g>
<path d="M92.8 641L91.8 666L74.6 716H122.6V641Z" fill="none" stroke="#111" stroke-width="1.5" stroke-linejoin="miter"/>
<rect x="134.2" y="641" width="75.2" height="75" fill="none" stroke="#8c8c8c" stroke-width="0.6" />
<path d="M134.2 716h-2M134.2 701.85h-2M134.2 687.7h-2M134.2 673.55h-2M134.2 659.4h-2M134.2 645.25h-2M139.4 716v2M163.3 716v2M183.2 716v2M202.5 716v2M134.2 714h-1M134.2 709.82h-1M134.2 705.65h-1M134.2 701.47h-1M134.2 697.29h-1M134.2 693.12h-1M134.2 688.94h-1M134.2 684.76h-1M134.2 680.59h-1M134.2 676.41h-1M134.2 672.24h-1M134.2 668.06h-1M134.2 663.88h-1M134.2 659.71h-1M134.2 655.53h-1M134.2 651.35h-1M134.2 647.18h-1M134.2 643h-1M136.2 716v1M142.67 716v1M149.15 716v1M155.62 716v1M162.09 716v1M168.56 716v1M175.04 716v1M181.51 716v1M187.98 716v1M194.45 716v1M200.93 716v1M207.4 716v1" stroke="#777" stroke-width="0.5"/>
<text x="131.8" y="717.2" font-size="3.6" text-anchor="end" fill="#555">0</text>
<text x="131.8" y="703.05" font-size="3.6" text-anchor="end" fill="#555">50K</text>
<text x="131.8" y="688.9" font-size="3.6" text-anchor="end" fill="#555">100K</text>
<text x="131.8" y="674.75" font-size="3.6" text-anchor="end" fill="#555">150K</text>
<text x="131.8" y="660.6" font-size="3.6" text-anchor="end" fill="#555">200K</text>
<text x="131.8" y="646.45" font-size="3.6" text-anchor="end" fill="#555">250K</text>
<text x="139.4" y="722.2" font-size="3.6" text-anchor="middle" fill="#555">0</text>
<text x="163.3" y="722.2" font-size="3.6" text-anchor="middle" fill="#555">10<tspan dy="-1" font-size="2.6">3</tspan></text>
<text x="183.2" y="722.2" font-size="3.6" text-anchor="middle" fill="#555">10<tspan dy="-1" font-size="2.6">4</tspan></text>
<text x="202.5" y="722.2" font-size="3.6" text-anchor="middle" fill="#555">10<tspan dy="-1" font-size="2.6">5</tspan></text>
<g transform="translate(134.2 641)" stroke-width="1.25" filter="url(#blurf)">
<path d="M18 5.5h1M12 6.5h1M19 8.5h1M35 8.5h1M25 11.5h1M16 12.5h1M26 12.5h1M35 12.5h2M15 13.5h1M34 13.5h1M2 14.5h1M16 14.5h1M22 14.5h1M20 15.5h1M36 15.5h1M18 16.5h1M27 16.5h1M6 17.5h1M10 17.5h3M22 17.5h1M24 17.5h1M27 17.5h2M30 17.5h2M2 18.5h1M8 18.5h2M14 18.5h1M17 18.5h1M19 18.5h1M22 18.5h3M33 18.5h1M36 18.5h1M41 18.5h1M18 19.5h1M25 19.5h1M29 19.5h4M3 20.5h1M6 20.5h1M15 20.5h1M20 20.5h3M25 20.5h1M29 20.5h1M16 21.5h1M21 21.5h2M24 21.5h1M27 21.5h1M29 21.5h4M7 22.5h1M11 22.5h1M13 22.5h3M17 22.5h2M23 22.5h2M30 22.5h1M32 22.5h2M37 22.5h1M11 23.5h1M14 23.5h1M16 23.5h2M21 23.5h3M25 23.5h1M30 23.5h1M32 23.5h1M34 23.5h2M4 24.5h4M11 24.5h1M16 24.5h1M19 24.5h4M25 24.5h3M31 24.5h1M35 24.5h2M3 25.5h1M7 25.5h2M10 25.5h3M15 25.5h1M19 25.5h1M23 25.5h3M30 25.5h1M33 25.5h2M3 26.5h1M6 26.5h3M10 26.5h5M19 26.5h9M30 26.5h2M35 26.5h2M0 27.5h1M5 27.5h1M8 27.5h1M10 27.5h1M14 27.5h1M17 27.5h1M19 27.5h2M22 27.5h3M28 27.5h1M31 27.5h2M34 27.5h1M36 27.5h1M3 28.5h1M7 28.5h1M11 28.5h3M15 28.5h2M28 28.5h4M34 28.5h2M37 28.5h1M2 29.5h1M6 29.5h1M11 29.5h1M29 29.5h1M31 29.5h2M34 29.5h2M37 29.5h1M1 30.5h2M6 30.5h3M10 30.5h2M35 30.5h1M1 31.5h3M6 31.5h4M32 31.5h3M38 31.5h1M0 32.5h1M5 32.5h4M4 33.5h1M6 33.5h2M32 33.5h2M35 33.5h2M0 34.5h1M2 34.5h5M33 34.5h1M35 34.5h1M0 35.5h2M3 35.5h1M5 35.5h1M33 35.5h2M2 36.5h1M4 36.5h1M42 36.5h1M44 36.5h1M2 37.5h1M4 37.5h1M33 37.5h2M38 37.5h1M43 37.5h1M0 38.5h4M34 38.5h1M46 38.5h2M0 39.5h2M33 39.5h1M35 39.5h1M39 39.5h1M0 40.5h1M2 40.5h1M33 40.5h3M39 40.5h2M44 40.5h1M0 41.5h1M33 41.5h2M36 41.5h1M40 41.5h1M0 42.5h1M33 42.5h2M39 42.5h1M0 43.5h2M35 43.5h3M0 44.5h1M34 44.5h3M38 44.5h1M0 45.5h1M36 45.5h3M47 45.5h1M34 46.5h1M36 46.5h1M38 46.5h1M0 47.5h1M35 47.5h1M37 47.5h1M0 48.5h1M35 48.5h3M37 49.5h1M37 50.5h1M42 50.5h1M34 51.5h2M39 51.5h1M33 52.5h1M35 52.5h1M42 52.5h1M33 53.5h2M40 53.5h1M34 54.5h2M37 54.5h1M40 54.5h1M0 55.5h1M34 55.5h3M41 55.5h1M34 57.5h2M41 57.5h2M0 58.5h1M32 58.5h1M32 59.5h1M31 60.5h1M35 60.5h1M31 61.5h3M35 61.5h1M42 61.5h1M30 62.5h5M38 62.5h1M42 62.5h1M29 63.5h3M34 63.5h1M29 64.5h2M32 64.5h3M39 64.5h1M30 65.5h1M32 65.5h2M35 65.5h2M28 66.5h3M34 66.5h1M36 66.5h1M39 66.5h1M41 66.5h2M27 67.5h1M30 67.5h4M35 67.5h2M26 68.5h1M29 68.5h2M33 68.5h1M35 68.5h1M30 69.5h2M35 69.5h1M24 70.5h1M26 70.5h1M29 70.5h1M31 70.5h2M34 70.5h1M23 71.5h1M27 71.5h4M36 71.5h1M39 71.5h1M20 72.5h2M24 72.5h1M29 72.5h4M44 72.5h1M19 73.5h4M24 73.5h1M18 74.5h3M22 74.5h2M25 74.5h1M30 74.5h1M38 74.5h1" stroke="#0000ff"/>
<path d="M18 28.5h10M14 29.5h1M16 29.5h2M21 29.5h2M24 29.5h4M12 30.5h5M18 30.5h5M24 30.5h5M10 31.5h2M15 31.5h2M19 31.5h9M29 31.5h1M9 32.5h2M12 32.5h1M14 32.5h17M8 33.5h1M11 33.5h19M31 33.5h1M7 34.5h5M14 34.5h5M20 34.5h1M27 34.5h3M31 34.5h1M6 35.5h3M10 35.5h9M28 35.5h4M6 36.5h11M28 36.5h5M5 37.5h2M8 37.5h1M10 37.5h3M14 37.5h1M29 37.5h4M4 38.5h2M7 38.5h2M10 38.5h4M29 38.5h3M3 39.5h7M11 39.5h2M30 39.5h2M4 40.5h1M6 40.5h6M30 40.5h3M3 41.5h3M8 41.5h3M30 41.5h3M3 42.5h1M5 42.5h5M30 42.5h3M4 43.5h6M30 43.5h4M2 44.5h3M6 44.5h3M30 44.5h3M1 45.5h4M6 45.5h3M30 45.5h2M33 45.5h1M1 46.5h4M6 46.5h2M30 46.5h4M1 47.5h7M30 47.5h4M1 48.5h2M4 48.5h4M30 48.5h4M0 49.5h1M2 49.5h6M30 49.5h4M0 50.5h1M2 50.5h6M30 50.5h2M33 50.5h1M0 51.5h1M3 51.5h4M30 51.5h1M32 51.5h1M0 52.5h3M4 52.5h1M6 52.5h1M30 52.5h3M0 53.5h6M30 53.5h3M1 54.5h5M2 55.5h5M30 55.5h1M32 55.5h1M1 56.5h2M4 56.5h2M29 56.5h4M2 57.5h4M29 57.5h3M2 58.5h3M29 58.5h1M1 59.5h3M28 59.5h4M1 60.5h1M28 60.5h1M1 61.5h1M3 61.5h1M28 61.5h3M0 62.5h1M2 62.5h1M26 62.5h4M1 63.5h1M26 63.5h3M0 64.5h1M25 64.5h2M28 64.5h1M24 65.5h4M24 66.5h3M22 67.5h4M22 68.5h2M20 69.5h4M19 70.5h1M18 71.5h2M17 72.5h3M16 73.5h2M15 74.5h1" stroke="#0046ff"/>
<path d="M21 34.5h4M26 34.5h1M19 35.5h9M17 36.5h11M15 37.5h14M14 38.5h8M25 38.5h4M13 39.5h7M26 39.5h4M12 40.5h7M27 40.5h3M12 41.5h6M27 41.5h3M10 42.5h4M15 42.5h2M27 42.5h3M10 43.5h1M12 43.5h4M28 43.5h2M9 44.5h7M28 44.5h2M10 45.5h5M28 45.5h2M8 46.5h6M28 46.5h2M8 47.5h6M28 47.5h1M8 48.5h5M28 48.5h2M8 49.5h1M10 49.5h3M28 49.5h2M8 50.5h4M28 50.5h2M7 51.5h5M28 51.5h2M7 52.5h4M28 52.5h2M7 53.5h4M28 53.5h1M7 54.5h3M28 54.5h2M7 55.5h2M28 55.5h2M6 56.5h3M27 56.5h2M6 57.5h2M27 57.5h1M6 58.5h2M27 58.5h2M5 59.5h2M26 59.5h2M4 60.5h2M26 60.5h2M4 61.5h2M3 62.5h2M25 62.5h1M2 63.5h2M24 63.5h2M1 64.5h2M23 64.5h2M0 65.5h1M22 65.5h2M21 66.5h2M20 67.5h2M19 68.5h2M18 69.5h2M17 70.5h2M16 71.5h2M15 72.5h2M14 73.5h2M13 74.5h2" stroke="#008cff"/>
<path d="M22 38.5h3M20 39.5h6M19 40.5h8M18 41.5h9M17 42.5h10M16 43.5h5M24 43.5h4M16 44.5h4M25 44.5h3M15 45.5h4M26 45.5h2M14 46.5h4M26 46.5h2M14 47.5h3M26 47.5h2M13 48.5h4M26 48.5h2M13 49.5h3M26 49.5h2M12 50.5h3M27 50.5h1M12 51.5h2M27 51.5h1M11 52.5h3M27 52.5h1M11 53.5h2M26 53.5h2M10 54.5h2M26 54.5h2M9 55.5h2M26 55.5h2M9 56.5h2M26 56.5h1M8 57.5h2M26 57.5h1M8 58.5h1M25 58.5h2M7 59.5h2M25 59.5h1M6 60.5h2M24 60.5h2M6 61.5h1M24 61.5h1M5 62.5h1M23 62.5h2M4 63.5h1M22 63.5h2M3 64.5h1M22 64.5h1M1 65.5h2M21 65.5h1M0 66.5h2M20 66.5h1M19 67.5h1M18 68.5h1M16 70.5h1M15 71.5h1M14 72.5h1M13 73.5h1M12 74.5h1" stroke="#00d3ff"/>
<path d="M21 43.5h3M20 44.5h5M19 45.5h7M18 46.5h8M17 47.5h4M23 47.5h3M17 48.5h3M24 48.5h2M16 49.5h3M24 49.5h2M15 50.5h3M25 50.5h2M14 51.5h3M25 51.5h2M14 52.5h2M25 52.5h2M13 53.5h2M25 53.5h1M12 54.5h2M25 54.5h1M11 55.5h2M25 55.5h1M11 56.5h1M25 56.5h1M10 57.5h1M24 57.5h2M9 58.5h2M24 58.5h1M9 59.5h1M24 59.5h1M8 60.5h1M23 60.5h1M7 61.5h1M23 61.5h1M6 62.5h2M22 62.5h1M5 63.5h1M21 63.5h1M4 64.5h1M20 64.5h2M3 65.5h1M19 65.5h2M2 66.5h1M18 66.5h2M1 67.5h1M17 67.5h2M0 68.5h1M16 68.5h2M16 69.5h1M15 70.5h1M14 71.5h1M13 72.5h1M12 73.5h1M11 74.5h1" stroke="#1affe4"/>
<path d="M21 47.5h2M20 48.5h4M19 49.5h5M18 50.5h7M17 51.5h2M22 51.5h3M16 52.5h2M23 52.5h2M15 53.5h2M23 53.5h2M14 54.5h2M24 54.5h1M13 55.5h2M24 55.5h1M12 56.5h2M23 56.5h2M11 57.5h2M23 57.5h1M11 58.5h1M23 58.5h1M10 59.5h1M22 59.5h2M9 60.5h2M22 60.5h1M8 61.5h2M21 61.5h2M8 62.5h1M21 62.5h1M6 63.5h2M20 63.5h1M5 64.5h1M19 64.5h1M4 65.5h1M18 65.5h1M3 66.5h1M17 66.5h1M2 67.5h1M16 67.5h1M1 68.5h1M15 68.5h1M0 69.5h1M14 69.5h2M14 70.5h1M13 71.5h1M12 72.5h1M0 73.5h1M11 73.5h1M0 74.5h1M9 74.5h2" stroke="#61ff9d"/>
<path d="M19 51.5h3M18 52.5h5M17 53.5h6M16 54.5h2M22 54.5h2M15 55.5h1M22 55.5h2M14 56.5h1M22 56.5h1M13 57.5h1M22 57.5h1M12 58.5h1M22 58.5h1M11 59.5h2M21 59.5h1M11 60.5h1M21 60.5h1M10 61.5h1M20 61.5h1M9 62.5h1M19 62.5h2M8 63.5h1M19 63.5h1M6 64.5h2M18 64.5h1M5 65.5h1M17 65.5h1M4 66.5h1M16 66.5h1M15 67.5h1M14 68.5h1M1 69.5h1M0 70.5h1M13 70.5h1M0 71.5h1M12 71.5h1M0 72.5h1M11 72.5h1M10 73.5h1M1 74.5h1M8 74.5h1" stroke="#a7ff57"/>
<path d="M18 54.5h4M16 55.5h6M15 56.5h3M20 56.5h2M14 57.5h2M20 57.5h2M13 58.5h2M20 58.5h2M13 59.5h1M20 59.5h1M12 60.5h1M19 60.5h2M11 61.5h1M19 61.5h1M10 62.5h2M18 62.5h1M9 63.5h2M17 63.5h2M8 64.5h1M16 64.5h2M6 65.5h1M15 65.5h2M5 66.5h1M14 66.5h2M3 67.5h1M14 67.5h1M2 68.5h1M13 68.5h1M13 69.5h1M1 70.5h1M12 70.5h1M1 71.5h1M11 71.5h1M1 72.5h1M10 72.5h1M1 73.5h1M9 73.5h1M2 74.5h3M6 74.5h2" stroke="#eeff10"/>
<path d="M18 56.5h2M16 57.5h4M15 58.5h5M14 59.5h6M13 60.5h3M17 60.5h2M12 61.5h3M16 61.5h3M12 62.5h6M11 63.5h6M9 64.5h3M13 64.5h3M7 65.5h2M13 65.5h2M6 66.5h1M13 66.5h1M4 67.5h1M13 67.5h1M3 68.5h1M12 68.5h1M2 69.5h1M12 69.5h1M2 70.5h1M11 70.5h1M2 71.5h1M10 71.5h1M2 72.5h1M9 72.5h1M2 73.5h2M7 73.5h2M5 74.5h1" stroke="#ffc900"/>
<path d="M16 60.5h1M15 61.5h1M12 64.5h1M9 65.5h4M7 66.5h6M5 67.5h2M11 67.5h2M4 68.5h1M11 68.5h1M3 69.5h1M11 69.5h1M3 70.5h1M10 70.5h1M9 71.5h1M3 72.5h1M8 72.5h1M4 73.5h3" stroke="#ff8200"/>
<path d="M7 67.5h4M5 68.5h1M10 68.5h1M4 69.5h1M10 69.5h1M4 70.5h1M9 70.5h1M3 71.5h2M8 71.5h1M4 72.5h4" stroke="#ff3c00"/>
<path d="M6 68.5h4M5 69.5h5M5 70.5h4M5 71.5h3" stroke="#f40000"/>
</g>
<path d="M179.6 641L178.6 666L161.4 716H209.4V641Z" fill="none" stroke="#111" stroke-width="1.5" stroke-linejoin="miter"/>
<rect x="221" y="641" width="75.2" height="75" fill="none" stroke="#8c8c8c" stroke-width="0.6" />
<path d="M221 716h-2M221 701.85h-2M221 687.7h-2M221 673.55h-2M221 659.4h-2M221 645.25h-2M226.2 716v2M250.1 716v2M270 716v2M289.3 716v2M221 714h-1M221 709.82h-1M221 705.65h-1M221 701.47h-1M221 697.29h-1M221 693.12h-1M221 688.94h-1M221 684.76h-1M221 680.59h-1M221 676.41h-1M221 672.24h-1M221 668.06h-1M221 663.88h-1M221 659.71h-1M221 655.53h-1M221 651.35h-1M221 647.18h-1M221 643h-1M223 716v1M229.47 716v1M235.95 716v1M242.42 716v1M248.89 716v1M255.36 716v1M261.84 716v1M268.31 716v1M274.78 716v1M281.25 716v1M287.73 716v1M294.2 716v1" stroke="#777" stroke-width="0.5"/>
<text x="218.6" y="717.2" font-size="3.6" text-anchor="end" fill="#555">0</text>
<text x="218.6" y="703.05" font-size="3.6" text-anchor="end" fill="#555">50K</text>
<text x="218.6" y="688.9" font-size="3.6" text-anchor="end" fill="#555">100K</text>
<text x="218.6" y="674.75" font-size="3.6" text-anchor="end" fill="#555">150K</text>
<text x="218.6" y="660.6" font-size="3.6" text-anchor="end" fill="#555">200K</text>
<text x="218.6" y="646.45" font-size="3.6" text-anchor="end" fill="#555">250K</text>
<text x="226.2" y="722.2" font-size="3.6" text-anchor="middle" fill="#555">0</text>
<text x="250.1" y="722.2" font-size="3.6" text-anchor="middle" fill="#555">10<tspan dy="-1" font-size="2.6">3</tspan></text>
<text x="270" y="722.2" font-size="3.6" text-anchor="middle" fill="#555">10<tspan dy="-1" font-size="2.6">4</tspan></text>
<text x="289.3" y="722.2" font-size="3.6" text-anchor="middle" fill="#555">10<tspan dy="-1" font-size="2.6">5</tspan></text>
<g transform="translate(221 641)" stroke-width="1.25" filter="url(#blurf)">
<path d="M17 0.5h1M19 0.5h1M23 0.5h2M26 0.5h1M28 0.5h1M31 0.5h2M34 0.5h2M37 0.5h1M40 0.5h1M43 0.5h1M19 1.5h1M22 1.5h2M25 1.5h1M27 1.5h3M31 1.5h10M42 1.5h1M23 2.5h1M25 2.5h3M33 2.5h2M36 2.5h1M38 2.5h3M18 3.5h1M24 3.5h3M35 3.5h4M46 3.5h1M60 3.5h1M13 4.5h1M15 4.5h2M20 4.5h6M35 4.5h6M47 4.5h1M16 5.5h1M19 5.5h1M21 5.5h3M35 5.5h2M39 5.5h2M52 5.5h2M14 6.5h1M16 6.5h1M20 6.5h2M23 6.5h1M36 6.5h2M40 6.5h1M13 7.5h1M16 7.5h3M21 7.5h2M36 7.5h3M40 7.5h1M44 7.5h1M16 8.5h2M19 8.5h1M21 8.5h2M36 8.5h2M40 8.5h1M42 8.5h1M44 8.5h1M13 9.5h2M19 9.5h1M21 9.5h1M37 9.5h2M40 9.5h2M44 9.5h1M46 9.5h2M3 10.5h1M9 10.5h1M15 10.5h1M18 10.5h3M37 10.5h4M44 10.5h3M48 10.5h1M55 10.5h1M9 11.5h1M12 11.5h1M14 11.5h1M17 11.5h3M37 11.5h7M48 11.5h1M50 11.5h1M8 12.5h1M17 12.5h3M37 12.5h2M40 12.5h1M6 13.5h1M9 13.5h1M17 13.5h3M38 13.5h2M41 13.5h1M43 13.5h1M46 13.5h1M48 13.5h1M12 14.5h1M17 14.5h2M40 14.5h1M42 14.5h1M45 14.5h1M48 14.5h2M51 14.5h1M60 14.5h1M7 15.5h2M12 15.5h1M14 15.5h1M17 15.5h1M38 15.5h2M42 15.5h2M12 16.5h1M16 16.5h2M38 16.5h3M42 16.5h1M52 16.5h1M1 17.5h1M6 17.5h1M13 17.5h4M38 17.5h2M41 17.5h1M43 17.5h1M49 17.5h1M8 18.5h1M12 18.5h2M15 18.5h2M38 18.5h3M42 18.5h1M44 18.5h1M47 18.5h1M7 19.5h2M13 19.5h2M39 19.5h1M41 19.5h1M45 19.5h1M47 19.5h1M54 19.5h1M1 20.5h1M9 20.5h1M11 20.5h4M39 20.5h3M43 20.5h1M55 20.5h1M3 21.5h1M8 21.5h1M14 21.5h1M40 21.5h2M44 21.5h1M49 21.5h1M55 21.5h1M11 22.5h4M39 22.5h4M44 22.5h1M46 22.5h2M4 23.5h1M11 23.5h4M39 23.5h1M41 23.5h6M48 23.5h2M53 23.5h1M58 23.5h1M6 24.5h1M10 24.5h2M39 24.5h1M41 24.5h1M44 24.5h4M50 24.5h1M52 24.5h1M3 25.5h1M6 25.5h1M11 25.5h2M41 25.5h1M46 25.5h1M54 25.5h1M0 26.5h3M5 26.5h2M9 26.5h1M11 26.5h1M39 26.5h8M49 26.5h2M52 26.5h2M2 27.5h1M7 27.5h4M12 27.5h1M39 27.5h2M42 27.5h2M45 27.5h1M48 27.5h2M3 28.5h1M5 28.5h7M39 28.5h1M42 28.5h1M45 28.5h1M48 28.5h1M51 28.5h1M53 28.5h1M2 29.5h1M7 29.5h2M10 29.5h1M39 29.5h5M45 29.5h3M50 29.5h1M52 29.5h1M54 29.5h1M3 30.5h2M8 30.5h1M40 30.5h5M49 30.5h1M52 30.5h1M59 30.5h1M4 31.5h1M6 31.5h2M10 31.5h1M39 31.5h2M43 31.5h3M47 31.5h1M49 31.5h3M53 31.5h1M0 32.5h1M5 32.5h1M8 32.5h2M39 32.5h2M42 32.5h1M44 32.5h1M48 32.5h3M53 32.5h1M56 32.5h1M1 33.5h2M6 33.5h1M8 33.5h2M39 33.5h5M47 33.5h1M50 33.5h1M55 33.5h2M58 33.5h1M4 34.5h6M38 34.5h7M47 34.5h1M52 34.5h1M54 34.5h1M0 35.5h1M4 35.5h1M6 35.5h2M9 35.5h1M40 35.5h1M44 35.5h1M46 35.5h3M51 35.5h1M54 35.5h1M56 35.5h1M2 36.5h3M7 36.5h1M38 36.5h4M43 36.5h2M46 36.5h1M48 36.5h1M50 36.5h1M52 36.5h2M1 37.5h1M3 37.5h4M8 37.5h1M38 37.5h7M48 37.5h2M51 37.5h1M57 37.5h1M5 38.5h1M7 38.5h1M38 38.5h3M42 38.5h3M46 38.5h1M48 38.5h2M51 38.5h1M53 38.5h1M1 39.5h1M4 39.5h2M7 39.5h1M39 39.5h1M41 39.5h3M45 39.5h1M47 39.5h2M52 39.5h1M0 40.5h2M3 40.5h5M39 40.5h2M42 40.5h1M45 40.5h2M48 40.5h1M51 40.5h1M0 41.5h1M3 41.5h1M5 41.5h1M7 41.5h1M38 41.5h1M40 41.5h1M42 41.5h2M45 41.5h5M51 41.5h1M2 42.5h1M5 42.5h2M37 42.5h2M40 42.5h2M44 42.5h1M47 42.5h3M55 42.5h1M59 42.5h1M1 43.5h1M4 43.5h1M6 43.5h1M36 43.5h9M46 43.5h2M56 43.5h1M0 44.5h3M5 44.5h2M38 44.5h6M49 44.5h3M56 44.5h1M2 45.5h1M4 45.5h2M36 45.5h1M38 45.5h2M41 45.5h4M47 45.5h1M49 45.5h1M54 45.5h2M0 46.5h1M2 46.5h2M36 46.5h1M38 46.5h5M44 46.5h7M53 46.5h1M2 47.5h2M5 47.5h1M37 47.5h1M39 47.5h5M46 47.5h2M49 47.5h1M52 47.5h1M1 48.5h1M4 48.5h2M36 48.5h2M39 48.5h4M44 48.5h2M49 48.5h2M54 48.5h1M58 48.5h1M0 49.5h5M34 49.5h5M41 49.5h5M49 49.5h6M58 49.5h1M3 50.5h2M34 50.5h2M38 50.5h3M42 50.5h2M46 50.5h1M48 50.5h3M54 50.5h1M0 51.5h4M36 51.5h3M40 51.5h1M43 51.5h2M47 51.5h4M55 51.5h1M61 51.5h1M0 52.5h2M4 52.5h1M34 52.5h3M44 52.5h1M46 52.5h1M48 52.5h2M51 52.5h1M2 53.5h3M33 53.5h1M36 53.5h8M46 53.5h2M50 53.5h1M54 53.5h1M56 53.5h1M1 54.5h3M33 54.5h1M36 54.5h2M40 54.5h1M42 54.5h5M54 54.5h1M0 55.5h1M2 55.5h1M4 55.5h1M33 55.5h2M36 55.5h1M41 55.5h1M43 55.5h1M47 55.5h1M49 55.5h1M51 55.5h1M1 56.5h2M4 56.5h1M34 56.5h3M38 56.5h1M41 56.5h1M43 56.5h8M56 56.5h1M1 57.5h1M35 57.5h2M38 57.5h1M40 57.5h1M42 57.5h1M48 57.5h1M52 57.5h1M1 58.5h1M3 58.5h2M32 58.5h1M34 58.5h4M39 58.5h1M44 58.5h2M47 58.5h1M51 58.5h1M58 58.5h1M0 59.5h1M3 59.5h2M36 59.5h3M42 59.5h2M54 59.5h1M1 60.5h1M4 60.5h1M32 60.5h2M35 60.5h1M39 60.5h1M42 60.5h1M47 60.5h1M49 60.5h1M58 60.5h1M3 61.5h2M40 61.5h2M44 61.5h2M47 61.5h1M50 61.5h1M53 61.5h1M0 62.5h5M31 62.5h3M35 62.5h1M37 62.5h1M43 62.5h1M49 62.5h1M54 62.5h1M0 63.5h1M2 63.5h2M33 63.5h1M38 63.5h1M40 63.5h3M45 63.5h2M56 63.5h1M0 64.5h3M30 64.5h1M34 64.5h1M39 64.5h1M44 64.5h1M46 64.5h1M48 64.5h2M30 65.5h2M34 65.5h1M37 65.5h2M42 65.5h1M45 65.5h1M50 65.5h2M30 66.5h1M32 66.5h2M39 66.5h1M51 66.5h2M28 67.5h2M31 67.5h2M39 67.5h1M42 67.5h1M44 67.5h1M49 67.5h1M61 67.5h1M29 68.5h1M31 68.5h1M38 68.5h1M43 68.5h1M45 68.5h1M51 68.5h1M27 69.5h1M31 69.5h1M39 69.5h1M41 69.5h1M44 69.5h1M47 69.5h1M49 69.5h1M26 70.5h2M31 70.5h1M41 70.5h1M46 70.5h2M27 71.5h1M38 71.5h2M42 71.5h1M49 71.5h1M24 72.5h1M29 72.5h1M34 72.5h1M46 72.5h1M25 73.5h1M30 73.5h1M35 73.5h1M40 73.5h1M21 74.5h2M24 74.5h2M27 74.5h1" stroke="#0000ff"/>
<path d="M30 2.5h3M27 3.5h2M30 3.5h4M26 4.5h9M25 5.5h1M29 5.5h5M24 6.5h4M30 6.5h6M24 7.5h1M26 7.5h7M34 7.5h1M23 8.5h13M22 9.5h15M21 10.5h1M23 10.5h4M28 10.5h8M22 11.5h15M21 12.5h1M23 12.5h14M20 13.5h6M32 13.5h1M34 13.5h3M19 14.5h6M32 14.5h1M34 14.5h4M19 15.5h5M32 15.5h6M18 16.5h5M33 16.5h5M17 17.5h6M33 17.5h2M36 17.5h2M17 18.5h5M33 18.5h4M17 19.5h5M33 19.5h3M37 19.5h1M16 20.5h3M20 20.5h1M34 20.5h2M17 21.5h3M34 21.5h5M15 22.5h5M34 22.5h3M38 22.5h1M15 23.5h4M34 23.5h5M15 24.5h4M34 24.5h3M38 24.5h1M14 25.5h5M34 25.5h3M38 25.5h1M13 26.5h5M34 26.5h5M13 27.5h5M34 27.5h2M37 27.5h1M13 28.5h4M34 28.5h2M37 28.5h2M12 29.5h2M15 29.5h2M34 29.5h5M12 30.5h5M34 30.5h3M11 31.5h1M13 31.5h3M34 31.5h5M12 32.5h4M34 32.5h5M11 33.5h5M34 33.5h4M10 34.5h5M33 34.5h1M35 34.5h2M10 35.5h5M33 35.5h3M37 35.5h1M9 36.5h3M13 36.5h2M33 36.5h5M9 37.5h5M33 37.5h3M37 37.5h1M10 38.5h4M33 38.5h4M8 39.5h6M32 39.5h5M8 40.5h6M32 40.5h3M8 41.5h5M32 41.5h5M7 42.5h6M32 42.5h5M8 43.5h5M31 43.5h5M7 44.5h1M9 44.5h4M31 44.5h2M34 44.5h2M7 45.5h3M11 45.5h1M31 45.5h4M7 46.5h6M31 46.5h4M7 47.5h1M9 47.5h3M31 47.5h1M33 47.5h2M6 48.5h2M9 48.5h3M30 48.5h2M33 48.5h2M6 49.5h5M30 49.5h4M5 50.5h5M11 50.5h1M30 50.5h4M5 51.5h7M30 51.5h1M32 51.5h1M6 52.5h6M30 52.5h4M5 53.5h1M7 53.5h5M30 53.5h1M32 53.5h1M5 54.5h7M30 54.5h3M5 55.5h7M30 55.5h2M6 56.5h5M30 56.5h3M5 57.5h3M9 57.5h2M30 57.5h1M32 57.5h1M5 58.5h1M8 58.5h3M6 59.5h5M29 59.5h3M5 60.5h6M29 60.5h1M31 60.5h1M7 61.5h4M29 61.5h2M6 62.5h5M28 62.5h2M5 63.5h6M28 63.5h1M30 63.5h1M3 64.5h5M9 64.5h1M27 64.5h3M1 65.5h2M4 65.5h2M7 65.5h2M27 65.5h1M29 65.5h1M0 66.5h3M26 66.5h3M0 67.5h1M25 67.5h2M25 68.5h3M23 69.5h4M22 70.5h4M18 71.5h7M15 72.5h8M14 73.5h2M20 73.5h1M22 73.5h1M13 74.5h4M18 74.5h2" stroke="#0046ff"/>
<path d="M27 13.5h4M25 14.5h7M24 15.5h8M23 16.5h10M23 17.5h10M22 18.5h11M22 19.5h11M21 20.5h13M20 21.5h14M20 22.5h5M29 22.5h5M19 23.5h5M29 23.5h5M19 24.5h4M30 24.5h4M19 25.5h4M30 25.5h4M18 26.5h4M30 26.5h4M18 27.5h4M30 27.5h4M17 28.5h4M30 28.5h4M17 29.5h4M30 29.5h4M17 30.5h3M30 30.5h4M16 31.5h4M30 31.5h4M16 32.5h4M30 32.5h4M16 33.5h3M30 33.5h1M32 33.5h2M16 34.5h3M30 34.5h3M15 35.5h4M30 35.5h3M15 36.5h3M31 36.5h2M14 37.5h4M30 37.5h3M14 38.5h4M29 38.5h3M14 39.5h4M29 39.5h3M14 40.5h4M29 40.5h3M13 41.5h4M29 41.5h3M13 42.5h4M28 42.5h2M31 42.5h1M13 43.5h2M16 43.5h1M28 43.5h3M13 44.5h4M28 44.5h3M13 45.5h4M28 45.5h3M13 46.5h4M27 46.5h2M30 46.5h1M12 47.5h5M27 47.5h4M12 48.5h5M27 48.5h3M12 49.5h4M27 49.5h3M12 50.5h4M27 50.5h3M12 51.5h4M27 51.5h3M12 52.5h4M28 52.5h2M12 53.5h3M28 53.5h2M12 54.5h3M28 54.5h2M12 55.5h3M28 55.5h2M11 56.5h3M28 56.5h2M11 57.5h3M28 57.5h2M11 58.5h3M28 58.5h2M11 59.5h3M28 59.5h1M11 60.5h3M27 60.5h2M11 61.5h3M27 61.5h2M12 62.5h2M27 62.5h1M11 63.5h3M26 63.5h2M11 64.5h3M26 64.5h1M9 65.5h5M25 65.5h2M3 66.5h1M5 66.5h5M11 66.5h3M24 66.5h2M1 67.5h2M11 67.5h4M23 67.5h2M0 68.5h1M12 68.5h5M21 68.5h3M13 69.5h10M13 70.5h9M13 71.5h5M13 72.5h2M13 73.5h1M0 74.5h1M12 74.5h1" stroke="#008cff"/>
<path d="M25 22.5h4M24 23.5h5M23 24.5h7M23 25.5h7M22 26.5h8M22 27.5h8M21 28.5h9M21 29.5h9M20 30.5h10M20 31.5h10M20 32.5h10M19 33.5h11M19 34.5h11M19 35.5h11M18 36.5h12M18 37.5h12M18 38.5h11M18 39.5h11M18 40.5h11M17 41.5h12M17 42.5h11M17 43.5h4M22 43.5h6M17 44.5h11M17 45.5h11M17 46.5h10M17 47.5h10M17 48.5h10M16 49.5h11M16 50.5h5M23 50.5h4M16 51.5h4M24 51.5h3M16 52.5h3M25 52.5h2M15 53.5h3M25 53.5h3M15 54.5h3M26 54.5h2M15 55.5h2M26 55.5h2M14 56.5h3M26 56.5h2M14 57.5h2M26 57.5h2M14 58.5h2M26 58.5h2M14 59.5h2M26 59.5h2M14 60.5h1M26 60.5h1M14 61.5h1M26 61.5h1M14 62.5h1M25 62.5h2M14 63.5h2M25 63.5h1M14 64.5h2M24 64.5h2M14 65.5h2M23 65.5h2M14 66.5h4M21 66.5h3M3 67.5h1M8 67.5h3M15 67.5h8M1 68.5h1M10 68.5h2M17 68.5h4M0 69.5h1M11 69.5h2M0 70.5h1M12 70.5h1M12 71.5h1M12 72.5h1M0 73.5h1M12 73.5h1M11 74.5h1" stroke="#00d3ff"/>
<path d="M21 50.5h2M20 51.5h4M19 52.5h6M18 53.5h7M18 54.5h8M17 55.5h3M24 55.5h2M17 56.5h2M24 56.5h2M16 57.5h2M24 57.5h2M16 58.5h2M25 58.5h1M16 59.5h1M25 59.5h1M15 60.5h2M24 60.5h2M15 61.5h2M24 61.5h2M15 62.5h2M23 62.5h2M16 63.5h2M23 63.5h2M16 64.5h3M21 64.5h3M16 65.5h7M18 66.5h3M4 67.5h4M2 68.5h1M9 68.5h1M1 69.5h1M10 69.5h1M11 70.5h1M0 71.5h1M11 71.5h1M0 72.5h1M11 72.5h1M11 73.5h1M1 74.5h1M10 74.5h1" stroke="#1affe4"/>
<path d="M20 55.5h4M19 56.5h5M18 57.5h6M18 58.5h3M22 58.5h3M17 59.5h3M22 59.5h3M17 60.5h3M22 60.5h2M17 61.5h3M21 61.5h3M17 62.5h6M18 63.5h5M19 64.5h2M3 68.5h2M8 68.5h1M2 69.5h1M1 70.5h1M10 70.5h1M1 71.5h1M1 72.5h1M1 73.5h1M10 73.5h1M2 74.5h1M9 74.5h1" stroke="#61ff9d"/>
<path d="M21 58.5h1M20 59.5h2M20 60.5h2M20 61.5h1M5 68.5h3M3 69.5h1M9 69.5h1M2 70.5h1M10 71.5h1M10 72.5h1M2 73.5h1M3 74.5h1" stroke="#a7ff57"/>
<path d="M8 69.5h1M9 70.5h1M2 71.5h1M2 72.5h1M9 73.5h1M4 74.5h1M8 74.5h1" stroke="#eeff10"/>
<path d="M4 69.5h4M3 70.5h1M8 70.5h1M9 71.5h1M9 72.5h1M3 73.5h1M8 73.5h1M5 74.5h3" stroke="#ffc900"/>
<path d="M4 70.5h1M3 71.5h1M8 71.5h1M3 72.5h1M8 72.5h1M4 73.5h1" stroke="#ff8200"/>
<path d="M5 70.5h3M5 73.5h3" stroke="#ff3c00"/>
<path d="M4 71.5h4M4 72.5h4" stroke="#f40000"/>
</g>
<path d="M266.4 641L265.4 666L248.2 716H296.2V641Z" fill="none" stroke="#111" stroke-width="1.5" stroke-linejoin="miter"/>
<rect x="307.8" y="641" width="75.2" height="75" fill="none" stroke="#8c8c8c" stroke-width="0.6" />
<path d="M307.8 716h-2M307.8 701.85h-2M307.8 687.7h-2M307.8 673.55h-2M307.8 659.4h-2M307.8 645.25h-2M313 716v2M336.9 716v2M356.8 716v2M376.1 716v2M307.8 714h-1M307.8 709.82h-1M307.8 705.65h-1M307.8 701.47h-1M307.8 697.29h-1M307.8 693.12h-1M307.8 688.94h-1M307.8 684.76h-1M307.8 680.59h-1M307.8 676.41h-1M307.8 672.24h-1M307.8 668.06h-1M307.8 663.88h-1M307.8 659.71h-1M307.8 655.53h-1M307.8 651.35h-1M307.8 647.18h-1M307.8 643h-1M309.8 716v1M316.27 716v1M322.75 716v1M329.22 716v1M335.69 716v1M342.16 716v1M348.64 716v1M355.11 716v1M361.58 716v1M368.05 716v1M374.53 716v1M381 716v1" stroke="#777" stroke-width="0.5"/>
<text x="305.4" y="717.2" font-size="3.6" text-anchor="end" fill="#555">0</text>
<text x="305.4" y="703.05" font-size="3.6" text-anchor="end" fill="#555">50K</text>
<text x="305.4" y="688.9" font-size="3.6" text-anchor="end" fill="#555">100K</text>
<text x="305.4" y="674.75" font-size="3.6" text-anchor="end" fill="#555">150K</text>
<text x="305.4" y="660.6" font-size="3.6" text-anchor="end" fill="#555">200K</text>
<text x="305.4" y="646.45" font-size="3.6" text-anchor="end" fill="#555">250K</text>
<text x="313" y="722.2" font-size="3.6" text-anchor="middle" fill="#555">0</text>
<text x="336.9" y="722.2" font-size="3.6" text-anchor="middle" fill="#555">10<tspan dy="-1" font-size="2.6">3</tspan></text>
<text x="356.8" y="722.2" font-size="3.6" text-anchor="middle" fill="#555">10<tspan dy="-1" font-size="2.6">4</tspan></text>
<text x="376.1" y="722.2" font-size="3.6" text-anchor="middle" fill="#555">10<tspan dy="-1" font-size="2.6">5</tspan></text>
<g transform="translate(307.8 641)" stroke-width="1.25" filter="url(#blurf)">
<path d="M30 1.5h1M32 1.5h1M31 3.5h1M32 4.5h1M26 5.5h1M36 5.5h1M27 6.5h1M24 7.5h1M26 7.5h3M31 7.5h2M28 8.5h2M31 8.5h1M36 8.5h1M24 9.5h1M32 9.5h1M36 9.5h1M26 10.5h1M35 10.5h2M22 11.5h1M24 11.5h1M26 11.5h1M31 11.5h2M20 12.5h1M22 12.5h1M25 12.5h1M27 12.5h3M31 12.5h1M37 12.5h1M20 13.5h2M24 13.5h1M26 13.5h1M30 13.5h4M18 14.5h1M20 14.5h3M24 14.5h1M30 14.5h3M34 14.5h1M16 15.5h1M22 15.5h2M36 15.5h2M21 16.5h1M32 16.5h1M35 16.5h1M20 17.5h1M34 17.5h1M39 17.5h1M13 18.5h1M15 18.5h1M22 18.5h1M19 19.5h3M16 20.5h1M34 20.5h1M19 21.5h2M34 21.5h1M37 21.5h1M16 22.5h1M19 22.5h1M18 23.5h1M15 24.5h1M17 24.5h1M36 24.5h1M39 24.5h1M16 25.5h2M36 25.5h1M17 26.5h1M35 26.5h2M38 26.5h1M17 27.5h1M15 30.5h1M36 30.5h1M38 30.5h1M14 31.5h2M15 32.5h1M35 32.5h1M39 32.5h1M37 33.5h1M38 34.5h1M35 35.5h1M14 36.5h1M35 36.5h1M13 37.5h1M35 37.5h3M14 38.5h1M36 38.5h2M35 39.5h1M38 39.5h3M12 40.5h1M40 40.5h1M14 41.5h1M37 41.5h1M40 41.5h1M45 41.5h1M11 42.5h1M13 42.5h2M35 42.5h1M38 42.5h1M12 43.5h2M36 43.5h2M39 43.5h2M42 43.5h1M13 44.5h1M39 44.5h2M42 44.5h1M44 44.5h2M8 45.5h1M11 45.5h1M42 45.5h3M12 46.5h1M41 46.5h1M46 46.5h1M13 47.5h1M41 47.5h1M44 47.5h1M10 48.5h1M12 48.5h1M42 48.5h1M44 49.5h1M46 49.5h1M9 50.5h1M42 50.5h1M1 51.5h1M7 51.5h4M8 52.5h1M45 52.5h1M2 53.5h1M6 53.5h1M42 53.5h1M47 53.5h1M1 54.5h2M5 54.5h1M42 54.5h1M46 54.5h1M2 55.5h2M42 55.5h4M0 56.5h3M31 56.5h1M0 57.5h1M42 57.5h1M41 58.5h1M44 58.5h1M31 59.5h1M41 59.5h1M43 59.5h2M29 60.5h1M33 60.5h3M43 60.5h2M33 61.5h1M35 61.5h4M41 61.5h1M34 62.5h2M41 62.5h1M33 63.5h2M37 63.5h2M27 64.5h1M39 64.5h2M43 64.5h1M33 65.5h1M41 65.5h3M27 66.5h1M33 66.5h1M37 66.5h1M40 66.5h1M42 66.5h1M26 67.5h1M33 67.5h1M37 67.5h1M25 69.5h1M23 72.5h1" stroke="#0000ff"/>
<path d="M27 14.5h1M26 15.5h1M28 15.5h1M30 15.5h1M24 16.5h4M29 16.5h2M23 17.5h3M27 17.5h1M31 17.5h2M23 18.5h4M30 18.5h1M32 18.5h1M25 19.5h7M33 19.5h1M21 20.5h2M24 20.5h2M31 20.5h2M21 21.5h1M23 21.5h2M31 21.5h3M20 22.5h4M31 22.5h2M34 22.5h1M22 23.5h1M31 23.5h4M19 24.5h1M33 24.5h1M19 25.5h1M21 25.5h1M33 25.5h1M32 26.5h1M34 26.5h1M18 27.5h3M33 27.5h2M18 28.5h1M19 29.5h1M32 29.5h1M19 30.5h1M34 30.5h1M17 31.5h1M32 31.5h2M17 32.5h2M33 32.5h1M33 33.5h1M18 34.5h1M32 34.5h3M17 35.5h1M16 36.5h1M32 36.5h2M16 37.5h2M32 37.5h2M17 38.5h1M17 39.5h1M32 39.5h2M15 40.5h1M17 40.5h1M32 40.5h1M34 40.5h1M16 41.5h2M31 41.5h1M34 41.5h1M15 42.5h2M31 42.5h1M33 42.5h1M15 43.5h2M34 43.5h2M16 44.5h1M31 44.5h2M37 44.5h2M16 45.5h1M30 45.5h1M34 45.5h2M38 45.5h2M14 46.5h3M30 46.5h1M34 46.5h7M30 47.5h4M35 47.5h1M37 47.5h4M14 48.5h2M30 48.5h2M34 48.5h3M38 48.5h4M30 49.5h1M33 49.5h7M13 50.5h2M30 50.5h5M39 50.5h1M12 51.5h1M34 51.5h1M36 51.5h1M38 51.5h1M41 51.5h1M10 52.5h2M29 52.5h2M33 52.5h1M35 52.5h3M39 52.5h2M8 53.5h1M10 53.5h1M30 53.5h1M36 53.5h1M38 53.5h1M40 53.5h2M6 54.5h1M10 54.5h1M31 54.5h2M34 54.5h1M38 54.5h2M41 54.5h1M7 55.5h2M29 55.5h1M31 55.5h1M33 55.5h6M40 55.5h1M5 56.5h1M7 56.5h1M28 56.5h2M34 56.5h7M2 57.5h4M35 57.5h2M38 57.5h1M40 57.5h2M1 58.5h4M34 58.5h2M37 58.5h1M39 58.5h1M0 59.5h1M2 59.5h2M35 59.5h1M37 59.5h1M39 59.5h2M1 60.5h2M28 60.5h1M36 60.5h3M27 61.5h1M0 62.5h1M27 62.5h1M0 63.5h1M26 64.5h1M25 66.5h1M24 68.5h1M20 72.5h3M19 73.5h1M18 74.5h1M20 74.5h1" stroke="#0046ff"/>
<path d="M27 20.5h1M25 21.5h1M27 21.5h1M24 22.5h2M27 22.5h4M23 23.5h8M22 24.5h1M24 24.5h8M22 25.5h1M24 25.5h2M28 25.5h2M31 25.5h1M22 26.5h1M29 26.5h3M21 27.5h3M29 27.5h3M21 28.5h2M30 28.5h2M20 29.5h2M30 29.5h1M20 30.5h2M30 30.5h1M20 31.5h2M30 31.5h2M19 32.5h2M30 32.5h2M19 33.5h2M30 33.5h2M19 34.5h2M30 34.5h2M18 35.5h2M30 35.5h1M18 36.5h2M30 36.5h1M18 37.5h2M30 37.5h2M18 38.5h2M30 38.5h1M18 39.5h2M30 39.5h2M18 40.5h1M29 40.5h2M30 41.5h1M18 42.5h1M29 42.5h2M18 43.5h1M29 43.5h2M17 44.5h2M29 44.5h1M17 45.5h2M17 46.5h1M28 46.5h2M16 47.5h2M28 47.5h2M16 48.5h1M28 48.5h2M15 49.5h2M29 49.5h1M15 50.5h1M29 50.5h1M14 51.5h2M28 51.5h1M28 52.5h1M12 53.5h2M11 54.5h3M28 54.5h1M9 55.5h3M27 55.5h1M8 56.5h3M27 56.5h1M6 57.5h4M27 57.5h1M6 58.5h2M27 58.5h1M4 59.5h3M27 59.5h1M3 60.5h3M4 61.5h1M26 61.5h1M1 62.5h3M1 63.5h2M25 63.5h1M0 64.5h1M25 64.5h1M0 65.5h1M24 65.5h1M24 66.5h1M23 67.5h1M22 68.5h2M22 69.5h1M21 70.5h1M20 71.5h1M18 72.5h2M16 73.5h1M18 73.5h1M15 74.5h3" stroke="#008cff"/>
<path d="M26 25.5h2M24 26.5h4M24 27.5h5M23 28.5h7M22 29.5h6M29 29.5h1M22 30.5h8M22 31.5h2M27 31.5h3M21 32.5h3M28 32.5h2M21 33.5h2M28 33.5h2M21 34.5h2M28 34.5h2M20 35.5h3M28 35.5h2M20 36.5h2M28 36.5h2M20 37.5h2M28 37.5h2M20 38.5h2M28 38.5h2M20 39.5h2M27 39.5h3M20 40.5h2M27 40.5h2M19 41.5h3M27 41.5h2M19 42.5h2M27 42.5h2M19 43.5h2M27 43.5h2M19 44.5h2M27 44.5h2M19 45.5h1M18 46.5h2M27 46.5h1M18 47.5h1M27 47.5h1M17 48.5h2M17 49.5h1M27 49.5h1M16 50.5h2M27 50.5h1M16 51.5h1M27 51.5h1M27 52.5h1M14 53.5h2M27 53.5h1M14 54.5h1M27 54.5h1M12 55.5h2M11 56.5h2M26 56.5h1M10 57.5h2M26 57.5h1M9 58.5h2M26 58.5h1M7 59.5h3M26 59.5h1M7 60.5h2M25 60.5h1M5 61.5h3M4 62.5h3M25 62.5h1M3 63.5h3M24 63.5h1M2 64.5h2M24 64.5h1M1 65.5h2M23 65.5h1M1 66.5h1M23 66.5h1M22 67.5h1M21 68.5h1M20 69.5h2M19 70.5h2M17 71.5h3M15 72.5h3M14 73.5h2M13 74.5h2" stroke="#00d3ff"/>
<path d="M24 31.5h3M24 32.5h4M23 33.5h5M23 34.5h5M23 35.5h5M22 36.5h6M22 37.5h6M22 38.5h6M22 39.5h5M22 40.5h5M22 41.5h5M21 42.5h6M21 43.5h6M21 44.5h6M20 45.5h3M24 45.5h3M20 46.5h2M24 46.5h3M19 47.5h2M25 47.5h2M19 48.5h1M25 48.5h2M18 49.5h2M25 49.5h2M18 50.5h1M26 50.5h1M17 51.5h1M26 51.5h1M16 52.5h1M26 52.5h1M16 53.5h1M26 53.5h1M15 54.5h1M26 54.5h1M14 55.5h1M26 55.5h1M14 56.5h1M12 57.5h2M25 57.5h1M11 58.5h2M25 58.5h1M10 59.5h3M25 59.5h1M9 60.5h3M8 61.5h3M24 61.5h1M7 62.5h4M24 62.5h1M6 63.5h4M4 64.5h5M23 64.5h1M3 65.5h3M2 66.5h1M22 66.5h1M0 67.5h2M21 67.5h1M0 68.5h1M20 68.5h1M18 69.5h1M15 70.5h4M14 71.5h1M16 71.5h1M13 72.5h2M13 73.5h1M0 74.5h1M12 74.5h1" stroke="#1affe4"/>
<path d="M22 46.5h2M21 47.5h4M20 48.5h5M20 49.5h1M24 49.5h1M19 50.5h1M24 50.5h2M18 51.5h1M25 51.5h1M17 52.5h1M25 52.5h1M17 53.5h1M25 53.5h1M16 54.5h1M25 54.5h1M15 55.5h1M25 55.5h1M15 56.5h1M25 56.5h1M14 57.5h1M13 58.5h2M13 59.5h1M24 59.5h1M13 60.5h1M24 60.5h1M11 61.5h2M11 62.5h2M23 62.5h1M10 63.5h3M23 63.5h1M9 64.5h4M22 64.5h1M6 65.5h8M22 65.5h1M3 66.5h3M8 66.5h6M21 66.5h1M2 67.5h1M11 67.5h4M20 67.5h1M1 68.5h1M12 68.5h4M18 68.5h2M0 69.5h1M13 69.5h5M13 70.5h2M13 71.5h1M12 72.5h1M12 73.5h1M11 74.5h1" stroke="#61ff9d"/>
<path d="M21 49.5h3M20 50.5h4M19 51.5h2M23 51.5h2M18 52.5h1M24 52.5h1M18 53.5h1M24 53.5h1M17 54.5h1M24 54.5h1M16 55.5h1M24 55.5h1M16 56.5h1M24 56.5h1M15 57.5h1M24 57.5h1M15 58.5h1M24 58.5h1M14 59.5h1M14 60.5h1M23 60.5h1M13 61.5h2M23 61.5h1M13 62.5h1M13 63.5h2M22 63.5h1M13 64.5h2M14 65.5h1M21 65.5h1M6 66.5h2M14 66.5h2M20 66.5h1M3 67.5h1M8 67.5h3M15 67.5h5M2 68.5h1M10 68.5h2M16 68.5h2M11 69.5h2M0 70.5h1M12 70.5h1M0 71.5h1M12 71.5h1M0 72.5h1M11 72.5h1M0 73.5h1M11 73.5h1M1 74.5h1M10 74.5h1" stroke="#a7ff57"/>
<path d="M21 51.5h2M19 52.5h5M19 53.5h1M23 53.5h1M18 54.5h1M23 54.5h1M17 55.5h1M16 57.5h1M23 58.5h1M15 59.5h1M23 59.5h1M15 60.5h1M15 61.5h1M22 61.5h1M14 62.5h1M22 62.5h1M15 63.5h1M21 63.5h1M15 64.5h1M21 64.5h1M15 65.5h2M20 65.5h1M16 66.5h4M5 67.5h3M3 68.5h1M9 68.5h1M1 69.5h1M10 69.5h1M1 70.5h1M11 70.5h1M11 71.5h1M1 73.5h1M10 73.5h1M2 74.5h1M9 74.5h1" stroke="#eeff10"/>
<path d="M20 53.5h3M19 54.5h1M22 54.5h1M18 55.5h1M23 55.5h1M17 56.5h1M23 56.5h1M17 57.5h1M23 57.5h1M16 58.5h1M16 59.5h1M22 59.5h1M16 60.5h1M22 60.5h1M15 62.5h1M21 62.5h1M16 63.5h1M16 64.5h1M19 64.5h2M17 65.5h3M4 68.5h5M2 69.5h1M9 69.5h1M10 70.5h1M1 71.5h1M10 71.5h1M1 72.5h1M10 72.5h1M2 73.5h1M9 73.5h1M3 74.5h2M7 74.5h2" stroke="#ffc900"/>
<path d="M20 54.5h2M19 55.5h4M18 56.5h1M22 56.5h1M18 57.5h1M22 57.5h1M17 58.5h1M22 58.5h1M17 59.5h1M21 60.5h1M16 61.5h1M21 61.5h1M16 62.5h2M20 62.5h1M17 63.5h4M17 64.5h2M3 69.5h1M8 69.5h1M2 70.5h1M9 70.5h1M2 71.5h1M9 71.5h1M2 72.5h1M9 72.5h1M3 73.5h1M8 73.5h1M5 74.5h2" stroke="#ff8200"/>
<path d="M19 56.5h3M19 57.5h3M18 58.5h4M18 59.5h1M20 59.5h2M17 60.5h2M20 60.5h1M17 61.5h4M18 62.5h2M4 69.5h4M3 70.5h1M8 70.5h1M3 72.5h1M8 72.5h1M4 73.5h1M7 73.5h1" stroke="#ff3c00"/>
<path d="M19 59.5h1M19 60.5h1M4 70.5h4M3 71.5h6M4 72.5h4M5 73.5h2" stroke="#f40000"/>
</g>
<path d="M353.2 641L352.2 666L335 716H383V641Z" fill="none" stroke="#111" stroke-width="1.5" stroke-linejoin="miter"/>
<rect x="394.6" y="641" width="75.2" height="75" fill="none" stroke="#8c8c8c" stroke-width="0.6" />
<path d="M394.6 716h-2M394.6 701.85h-2M394.6 687.7h-2M394.6 673.55h-2M394.6 659.4h-2M394.6 645.25h-2M399.8 716v2M423.7 716v2M443.6 716v2M462.9 716v2M394.6 714h-1M394.6 709.82h-1M394.6 705.65h-1M394.6 701.47h-1M394.6 697.29h-1M394.6 693.12h-1M394.6 688.94h-1M394.6 684.76h-1M394.6 680.59h-1M394.6 676.41h-1M394.6 672.24h-1M394.6 668.06h-1M394.6 663.88h-1M394.6 659.71h-1M394.6 655.53h-1M394.6 651.35h-1M394.6 647.18h-1M394.6 643h-1M396.6 716v1M403.07 716v1M409.55 716v1M416.02 716v1M422.49 716v1M428.96 716v1M435.44 716v1M441.91 716v1M448.38 716v1M454.85 716v1M461.33 716v1M467.8 716v1" stroke="#777" stroke-width="0.5"/>
<text x="392.2" y="717.2" font-size="3.6" text-anchor="end" fill="#555">0</text>
<text x="392.2" y="703.05" font-size="3.6" text-anchor="end" fill="#555">50K</text>
<text x="392.2" y="688.9" font-size="3.6" text-anchor="end" fill="#555">100K</text>
<text x="392.2" y="674.75" font-size="3.6" text-anchor="end" fill="#555">150K</text>
<text x="392.2" y="660.6" font-size="3.6" text-anchor="end" fill="#555">200K</text>
<text x="392.2" y="646.45" font-size="3.6" text-anchor="end" fill="#555">250K</text>
<text x="399.8" y="722.2" font-size="3.6" text-anchor="middle" fill="#555">0</text>
<text x="423.7" y="722.2" font-size="3.6" text-anchor="middle" fill="#555">10<tspan dy="-1" font-size="2.6">3</tspan></text>
<text x="443.6" y="722.2" font-size="3.6" text-anchor="middle" fill="#555">10<tspan dy="-1" font-size="2.6">4</tspan></text>
<text x="462.9" y="722.2" font-size="3.6" text-anchor="middle" fill="#555">10<tspan dy="-1" font-size="2.6">5</tspan></text>
<g transform="translate(394.6 641)" stroke-width="1.25" filter="url(#blurf)">
<path d="M12 0.5h1M19 0.5h1M26 0.5h1M36 0.5h1M6 1.5h1M11 1.5h1M14 1.5h2M22 1.5h1M2 2.5h1M6 2.5h1M17 2.5h1M20 2.5h1M23 2.5h3M28 2.5h1M0 3.5h1M4 3.5h1M8 3.5h2M12 3.5h2M25 3.5h1M27 3.5h1M5 4.5h1M10 4.5h1M13 4.5h1M17 4.5h1M24 4.5h2M28 4.5h2M38 4.5h1M4 5.5h1M9 5.5h1M13 5.5h2M17 5.5h1M19 5.5h1M21 5.5h2M25 5.5h1M0 6.5h1M6 6.5h1M8 6.5h2M11 6.5h1M15 6.5h1M17 6.5h1M21 6.5h1M26 6.5h1M28 6.5h3M39 6.5h1M41 6.5h1M48 6.5h1M1 7.5h2M4 7.5h1M6 7.5h1M9 7.5h5M17 7.5h2M22 7.5h2M25 7.5h2M29 7.5h2M39 7.5h1M1 8.5h2M7 8.5h1M10 8.5h2M15 8.5h1M17 8.5h4M22 8.5h3M29 8.5h1M44 8.5h1M7 9.5h1M13 9.5h1M16 9.5h1M19 9.5h1M21 9.5h5M27 9.5h3M31 9.5h1M42 9.5h1M0 10.5h2M5 10.5h1M8 10.5h2M12 10.5h10M23 10.5h6M31 10.5h3M35 10.5h2M0 11.5h1M2 11.5h5M8 11.5h2M13 11.5h1M20 11.5h4M27 11.5h2M31 11.5h1M33 11.5h3M39 11.5h1M41 11.5h1M49 11.5h1M0 12.5h1M2 12.5h6M9 12.5h2M12 12.5h2M21 12.5h10M33 12.5h1M37 12.5h1M39 12.5h1M0 13.5h4M5 13.5h3M9 13.5h2M25 13.5h4M30 13.5h1M32 13.5h1M34 13.5h1M40 13.5h1M42 13.5h1M44 13.5h2M3 14.5h5M26 14.5h4M31 14.5h5M37 14.5h1M40 14.5h1M48 14.5h1M55 14.5h1M0 15.5h4M5 15.5h2M28 15.5h5M35 15.5h1M38 15.5h1M41 15.5h1M49 15.5h1M0 16.5h3M4 16.5h1M29 16.5h2M33 16.5h1M46 16.5h1M0 17.5h4M30 17.5h3M34 17.5h3M38 17.5h1M49 17.5h1M57 17.5h1M0 18.5h3M32 18.5h1M35 18.5h2M38 18.5h2M43 18.5h2M51 18.5h2M0 19.5h3M32 19.5h8M41 19.5h1M45 19.5h3M0 20.5h2M33 20.5h6M40 20.5h3M45 20.5h1M47 20.5h1M49 20.5h1M54 20.5h1M33 21.5h1M35 21.5h1M37 21.5h1M39 21.5h1M43 21.5h3M0 22.5h1M34 22.5h2M37 22.5h4M45 22.5h1M48 22.5h1M0 23.5h1M34 23.5h1M36 23.5h4M41 23.5h1M47 23.5h1M53 23.5h1M35 24.5h1M37 24.5h2M40 24.5h1M43 24.5h2M46 24.5h1M50 24.5h1M57 24.5h1M35 25.5h2M40 25.5h3M45 25.5h1M51 25.5h1M35 26.5h1M37 26.5h1M40 26.5h1M43 26.5h1M46 26.5h1M52 26.5h3M38 27.5h4M43 27.5h2M47 27.5h2M55 27.5h1M37 28.5h2M40 28.5h1M42 28.5h2M45 28.5h4M50 28.5h1M52 28.5h1M41 29.5h2M44 29.5h1M49 29.5h2M55 29.5h2M38 30.5h1M40 30.5h2M44 30.5h2M49 30.5h1M54 30.5h1M38 31.5h3M42 31.5h3M46 31.5h3M53 31.5h1M0 32.5h1M44 32.5h3M48 32.5h1M0 33.5h1M47 33.5h1M49 33.5h1M51 33.5h2M54 33.5h1M0 34.5h1M48 34.5h2M52 34.5h2M49 35.5h1M52 35.5h2M0 36.5h2M51 36.5h1M0 37.5h2M50 37.5h4M55 37.5h1M0 38.5h2M50 38.5h2M53 38.5h1M58 38.5h1M61 38.5h1M0 39.5h2M52 39.5h4M57 39.5h1M0 40.5h2M52 40.5h3M58 40.5h1M0 41.5h1M51 41.5h4M0 42.5h1M2 42.5h1M57 42.5h1M2 43.5h1M53 43.5h3M57 43.5h2M61 43.5h1M0 44.5h3M52 44.5h1M54 44.5h4M59 44.5h1M1 45.5h2M53 45.5h1M0 46.5h3M52 46.5h2M0 47.5h2M3 47.5h1M53 47.5h3M0 48.5h1M2 48.5h2M53 48.5h5M2 49.5h1M53 49.5h2M57 49.5h1M1 50.5h2M54 50.5h2M1 51.5h1M53 51.5h3M0 52.5h2M3 52.5h1M53 52.5h2M56 52.5h1M58 52.5h1M1 53.5h1M3 53.5h1M52 53.5h1M0 54.5h1M3 54.5h2M53 54.5h4M60 54.5h1M1 55.5h1M3 55.5h1M52 55.5h2M60 55.5h1M0 56.5h1M2 56.5h1M52 56.5h1M0 57.5h3M4 57.5h2M54 57.5h1M58 57.5h1M2 58.5h2M5 58.5h1M51 58.5h3M56 58.5h1M2 59.5h1M4 59.5h2M52 59.5h3M0 60.5h2M3 60.5h1M5 60.5h1M54 60.5h1M0 61.5h5M51 61.5h1M53 61.5h1M0 62.5h4M51 62.5h2M0 63.5h1M49 63.5h4M54 63.5h1M48 64.5h4M53 64.5h1M55 64.5h1M38 65.5h2M47 65.5h2M51 65.5h3M55 65.5h1M57 65.5h1M36 66.5h6M43 66.5h3M47 66.5h2M51 66.5h1M36 67.5h5M42 67.5h6M50 67.5h3M35 68.5h2M38 68.5h6M47 68.5h1M52 68.5h1M36 69.5h1M39 69.5h1M41 69.5h1M44 69.5h1M47 69.5h2M50 69.5h1M55 69.5h1M33 70.5h2M40 70.5h1M42 70.5h4M47 70.5h1M49 70.5h1M52 70.5h1M33 71.5h2M36 71.5h1M38 71.5h1M45 71.5h2M48 71.5h1M50 71.5h1M39 72.5h1M41 72.5h3M45 72.5h1M47 72.5h1M51 72.5h1M57 72.5h1M31 73.5h2M35 73.5h1M40 73.5h1M43 73.5h5M51 73.5h1M53 73.5h1M55 73.5h1M30 74.5h2M33 74.5h3M41 74.5h6M54 74.5h1" stroke="#0000ff"/>
<path d="M14 12.5h2M17 12.5h4M11 13.5h3M16 13.5h4M23 13.5h1M8 14.5h6M15 14.5h10M7 15.5h21M5 16.5h24M5 17.5h4M10 17.5h1M12 17.5h18M3 18.5h25M29 18.5h1M3 19.5h18M22 19.5h8M31 19.5h1M2 20.5h11M22 20.5h5M28 20.5h5M1 21.5h5M7 21.5h5M24 21.5h9M1 22.5h4M6 22.5h4M26 22.5h8M1 23.5h1M3 23.5h7M26 23.5h6M33 23.5h1M0 24.5h1M2 24.5h7M27 24.5h8M0 25.5h2M3 25.5h4M8 25.5h1M27 25.5h8M0 26.5h2M3 26.5h5M28 26.5h7M0 27.5h1M2 27.5h6M28 27.5h5M34 27.5h2M0 28.5h8M28 28.5h6M35 28.5h1M3 29.5h5M29 29.5h8M0 30.5h8M29 30.5h8M1 31.5h7M29 31.5h3M33 31.5h5M2 32.5h4M7 32.5h1M29 32.5h10M40 32.5h4M1 33.5h7M30 33.5h4M35 33.5h5M41 33.5h6M2 34.5h5M30 34.5h18M1 35.5h2M4 35.5h1M6 35.5h2M30 35.5h19M3 36.5h6M30 36.5h4M35 36.5h5M41 36.5h8M2 37.5h3M6 37.5h3M30 37.5h5M36 37.5h2M40 37.5h4M45 37.5h5M2 38.5h7M30 38.5h8M40 38.5h8M49 38.5h1M3 39.5h6M31 39.5h3M35 39.5h9M45 39.5h6M3 40.5h6M31 40.5h1M33 40.5h5M39 40.5h10M50 40.5h1M3 41.5h6M31 41.5h7M39 41.5h11M3 42.5h2M6 42.5h3M31 42.5h11M47 42.5h1M49 42.5h3M3 43.5h2M6 43.5h3M31 43.5h11M47 43.5h3M3 44.5h3M7 44.5h3M32 44.5h5M38 44.5h3M48 44.5h4M3 45.5h4M8 45.5h2M32 45.5h9M48 45.5h4M3 46.5h7M32 46.5h6M39 46.5h1M48 46.5h2M51 46.5h1M4 47.5h6M33 47.5h7M48 47.5h4M4 48.5h1M6 48.5h4M33 48.5h7M48 48.5h4M4 49.5h6M33 49.5h6M49 49.5h4M5 50.5h5M34 50.5h6M49 50.5h3M4 51.5h6M34 51.5h6M48 51.5h5M4 52.5h2M7 52.5h3M34 52.5h6M48 52.5h5M5 53.5h5M34 53.5h7M48 53.5h4M6 54.5h1M8 54.5h2M34 54.5h7M48 54.5h4M6 55.5h5M34 55.5h7M47 55.5h5M5 56.5h6M34 56.5h3M38 56.5h4M47 56.5h5M6 57.5h5M34 57.5h9M46 57.5h2M49 57.5h3M6 58.5h5M34 58.5h3M38 58.5h13M6 59.5h5M34 59.5h17M6 60.5h5M34 60.5h15M50 60.5h1M6 61.5h6M34 61.5h4M39 61.5h11M4 62.5h8M34 62.5h16M3 63.5h1M5 63.5h7M33 63.5h7M41 63.5h7M0 64.5h12M33 64.5h15M0 65.5h3M33 65.5h4M43 65.5h3M0 66.5h1M32 66.5h4M32 67.5h2M31 68.5h4M30 69.5h4M30 70.5h3M14 71.5h3M29 71.5h4M13 72.5h6M27 72.5h3M31 72.5h1M12 73.5h4M17 73.5h5M24 73.5h7M11 74.5h5M17 74.5h2M20 74.5h7M28 74.5h1" stroke="#0046ff"/>
<path d="M13 20.5h9M12 21.5h12M10 22.5h15M10 23.5h16M9 24.5h18M9 25.5h18M8 26.5h20M8 27.5h20M8 28.5h20M8 29.5h21M8 30.5h21M8 31.5h21M8 32.5h10M20 32.5h9M8 33.5h9M21 33.5h9M8 34.5h9M21 34.5h9M8 35.5h9M22 35.5h8M9 36.5h8M22 36.5h8M9 37.5h8M23 37.5h6M9 38.5h8M23 38.5h7M9 39.5h7M24 39.5h7M9 40.5h5M15 40.5h1M24 40.5h7M9 41.5h7M25 41.5h6M9 42.5h7M25 42.5h6M42 42.5h4M9 43.5h7M26 43.5h5M42 43.5h5M10 44.5h5M27 44.5h4M41 44.5h4M46 44.5h2M10 45.5h5M28 45.5h4M41 45.5h7M10 46.5h5M28 46.5h4M40 46.5h7M10 47.5h5M29 47.5h4M40 47.5h8M10 48.5h4M29 48.5h4M40 48.5h8M10 49.5h4M30 49.5h3M41 49.5h8M10 50.5h4M30 50.5h4M40 50.5h9M10 51.5h4M31 51.5h3M40 51.5h8M10 52.5h4M31 52.5h3M40 52.5h8M10 53.5h4M32 53.5h1M41 53.5h7M10 54.5h4M32 54.5h2M41 54.5h7M11 55.5h3M32 55.5h2M41 55.5h6M11 56.5h3M32 56.5h2M42 56.5h5M11 57.5h3M32 57.5h2M43 57.5h3M11 58.5h3M32 58.5h2M11 59.5h3M32 59.5h2M11 60.5h3M32 60.5h1M12 61.5h2M32 61.5h2M12 62.5h2M32 62.5h2M12 63.5h3M31 63.5h2M12 64.5h3M31 64.5h2M3 65.5h12M31 65.5h1M1 66.5h3M7 66.5h5M13 66.5h3M30 66.5h2M0 67.5h2M9 67.5h8M30 67.5h2M11 68.5h6M29 68.5h2M11 69.5h8M28 69.5h2M11 70.5h9M26 70.5h4M11 71.5h3M17 71.5h12M11 72.5h2M20 72.5h7M0 73.5h1M10 73.5h2M22 73.5h2M0 74.5h2M9 74.5h2" stroke="#008cff"/>
<path d="M18 32.5h2M17 33.5h4M17 34.5h4M17 35.5h5M17 36.5h5M17 37.5h6M17 38.5h6M16 39.5h8M16 40.5h8M16 41.5h9M16 42.5h9M16 43.5h10M15 44.5h12M15 45.5h13M15 46.5h13M15 47.5h5M25 47.5h4M14 48.5h5M26 48.5h3M14 49.5h4M27 49.5h3M14 50.5h3M28 50.5h2M14 51.5h3M29 51.5h2M14 52.5h2M29 52.5h2M14 53.5h2M30 53.5h2M14 54.5h2M30 54.5h2M14 55.5h2M30 55.5h2M14 56.5h2M30 56.5h2M14 57.5h2M31 57.5h1M14 58.5h2M31 58.5h1M14 59.5h2M31 59.5h1M14 60.5h2M31 60.5h1M14 61.5h2M30 61.5h2M14 62.5h2M30 62.5h2M15 63.5h1M30 63.5h1M15 64.5h2M29 64.5h2M15 65.5h2M29 65.5h2M4 66.5h3M16 66.5h2M28 66.5h2M2 67.5h7M17 67.5h2M27 67.5h3M0 68.5h2M8 68.5h3M17 68.5h4M26 68.5h3M0 69.5h1M9 69.5h2M19 69.5h9M0 70.5h1M10 70.5h1M20 70.5h6M0 71.5h1M9 71.5h2M0 72.5h1M9 72.5h2M1 73.5h1M8 73.5h2M2 74.5h7" stroke="#00d3ff"/>
<path d="M20 47.5h5M19 48.5h7M18 49.5h9M17 50.5h4M25 50.5h3M17 51.5h2M26 51.5h3M16 52.5h3M27 52.5h2M16 53.5h2M28 53.5h2M16 54.5h2M28 54.5h2M16 55.5h1M29 55.5h1M16 56.5h1M29 56.5h1M16 57.5h1M29 57.5h2M16 58.5h1M29 58.5h2M16 59.5h1M29 59.5h2M16 60.5h1M29 60.5h2M16 61.5h1M29 61.5h1M16 62.5h2M29 62.5h1M16 63.5h2M28 63.5h2M17 64.5h2M28 64.5h1M17 65.5h2M27 65.5h2M18 66.5h3M26 66.5h2M19 67.5h8M2 68.5h6M21 68.5h5M1 69.5h2M7 69.5h2M1 70.5h2M8 70.5h2M1 71.5h2M8 71.5h1M1 72.5h2M7 72.5h2M2 73.5h6" stroke="#1affe4"/>
<path d="M21 50.5h4M19 51.5h7M19 52.5h3M24 52.5h3M18 53.5h2M26 53.5h2M18 54.5h2M26 54.5h2M17 55.5h2M27 55.5h2M17 56.5h2M27 56.5h2M17 57.5h2M28 57.5h1M17 58.5h2M28 58.5h1M17 59.5h2M28 59.5h1M17 60.5h2M28 60.5h1M17 61.5h2M28 61.5h1M18 62.5h1M27 62.5h2M18 63.5h2M27 63.5h1M19 64.5h2M26 64.5h2M19 65.5h4M24 65.5h3M21 66.5h5M3 69.5h4M3 70.5h5M3 71.5h5M3 72.5h4" stroke="#61ff9d"/>
<path d="M22 52.5h2M20 53.5h6M20 54.5h6M19 55.5h3M25 55.5h2M19 56.5h2M26 56.5h1M19 57.5h1M26 57.5h2M19 58.5h1M26 58.5h2M19 59.5h1M26 59.5h2M19 60.5h1M26 60.5h2M19 61.5h2M26 61.5h2M19 62.5h2M25 62.5h2M20 63.5h7M21 64.5h5M23 65.5h1" stroke="#a7ff57"/>
<path d="M22 55.5h3M21 56.5h5M20 57.5h6M20 58.5h6M20 59.5h6M20 60.5h6M21 61.5h5M21 62.5h4" stroke="#eeff10"/>
</g>
<path d="M440 641L439 666L421.8 716H469.8V641Z" fill="none" stroke="#111" stroke-width="1.5" stroke-linejoin="miter"/>
<rect x="481.4" y="641" width="75.2" height="75" fill="none" stroke="#8c8c8c" stroke-width="0.6" />
<path d="M481.4 716h-2M481.4 701.85h-2M481.4 687.7h-2M481.4 673.55h-2M481.4 659.4h-2M481.4 645.25h-2M486.6 716v2M510.5 716v2M530.4 716v2M549.7 716v2M481.4 714h-1M481.4 709.82h-1M481.4 705.65h-1M481.4 701.47h-1M481.4 697.29h-1M481.4 693.12h-1M481.4 688.94h-1M481.4 684.76h-1M481.4 680.59h-1M481.4 676.41h-1M481.4 672.24h-1M481.4 668.06h-1M481.4 663.88h-1M481.4 659.71h-1M481.4 655.53h-1M481.4 651.35h-1M481.4 647.18h-1M481.4 643h-1M483.4 716v1M489.87 716v1M496.35 716v1M502.82 716v1M509.29 716v1M515.76 716v1M522.24 716v1M528.71 716v1M535.18 716v1M541.65 716v1M548.13 716v1M554.6 716v1" stroke="#777" stroke-width="0.5"/>
<text x="479" y="717.2" font-size="3.6" text-anchor="end" fill="#555">0</text>
<text x="479" y="703.05" font-size="3.6" text-anchor="end" fill="#555">50K</text>
<text x="479" y="688.9" font-size="3.6" text-anchor="end" fill="#555">100K</text>
<text x="479" y="674.75" font-size="3.6" text-anchor="end" fill="#555">150K</text>
<text x="479" y="660.6" font-size="3.6" text-anchor="end" fill="#555">200K</text>
<text x="479" y="646.45" font-size="3.6" text-anchor="end" fill="#555">250K</text>
<text x="486.6" y="722.2" font-size="3.6" text-anchor="middle" fill="#555">0</text>
<text x="510.5" y="722.2" font-size="3.6" text-anchor="middle" fill="#555">10<tspan dy="-1" font-size="2.6">3</tspan></text>
<text x="530.4" y="722.2" font-size="3.6" text-anchor="middle" fill="#555">10<tspan dy="-1" font-size="2.6">4</tspan></text>
<text x="549.7" y="722.2" font-size="3.6" text-anchor="middle" fill="#555">10<tspan dy="-1" font-size="2.6">5</tspan></text>
<g transform="translate(481.4 641)" stroke-width="1.25" filter="url(#blurf)">
<path d="M0 0.5h1M14 1.5h1M29 1.5h1M55 1.5h1M6 2.5h2M16 2.5h1M28 2.5h1M34 2.5h1M46 2.5h1M4 3.5h1M12 3.5h1M19 3.5h1M1 4.5h1M9 4.5h2M16 4.5h6M32 4.5h1M11 5.5h1M13 5.5h3M27 5.5h1M30 5.5h2M43 5.5h1M0 6.5h1M7 6.5h2M12 6.5h1M15 6.5h1M20 6.5h1M23 6.5h1M27 6.5h1M29 6.5h1M32 6.5h1M2 7.5h1M4 7.5h1M11 7.5h1M17 7.5h1M20 7.5h1M23 7.5h1M27 7.5h1M43 7.5h1M47 7.5h1M5 8.5h1M9 8.5h1M12 8.5h2M16 8.5h2M19 8.5h2M24 8.5h1M26 8.5h3M31 8.5h1M38 8.5h1M44 8.5h1M9 9.5h1M11 9.5h1M13 9.5h1M18 9.5h2M22 9.5h1M26 9.5h1M30 9.5h1M33 9.5h2M38 9.5h1M0 10.5h1M6 10.5h4M12 10.5h2M17 10.5h2M20 10.5h4M26 10.5h2M31 10.5h1M48 10.5h1M2 11.5h1M4 11.5h1M7 11.5h2M10 11.5h3M14 11.5h4M20 11.5h1M23 11.5h1M25 11.5h4M30 11.5h2M37 11.5h3M45 11.5h2M5 12.5h1M9 12.5h1M11 12.5h4M16 12.5h3M20 12.5h1M23 12.5h6M37 12.5h3M45 12.5h1M48 12.5h1M2 13.5h1M4 13.5h2M7 13.5h2M10 13.5h5M18 13.5h4M23 13.5h10M34 13.5h3M39 13.5h1M45 13.5h1M1 14.5h1M5 14.5h1M8 14.5h3M12 14.5h3M17 14.5h13M32 14.5h1M34 14.5h1M37 14.5h1M39 14.5h2M2 15.5h4M7 15.5h8M16 15.5h2M19 15.5h3M23 15.5h3M27 15.5h5M33 15.5h3M37 15.5h1M39 15.5h1M44 15.5h1M46 15.5h1M2 16.5h2M5 16.5h6M12 16.5h1M14 16.5h2M18 16.5h5M24 16.5h4M32 16.5h4M40 16.5h1M43 16.5h1M49 16.5h2M57 16.5h1M59 16.5h1M0 17.5h1M3 17.5h7M11 17.5h2M25 17.5h3M29 17.5h1M31 17.5h2M36 17.5h2M42 17.5h2M49 17.5h1M52 17.5h1M1 18.5h1M3 18.5h2M7 18.5h2M25 18.5h1M27 18.5h4M32 18.5h2M35 18.5h1M37 18.5h1M42 18.5h2M54 18.5h1M2 19.5h7M27 19.5h10M46 19.5h1M48 19.5h1M53 19.5h1M0 20.5h2M3 20.5h6M26 20.5h8M38 20.5h6M45 20.5h1M53 20.5h1M4 21.5h1M7 21.5h1M27 21.5h5M33 21.5h1M35 21.5h2M38 21.5h1M41 21.5h4M46 21.5h5M52 21.5h2M0 22.5h2M4 22.5h3M27 22.5h3M31 22.5h6M38 22.5h2M41 22.5h3M48 22.5h1M50 22.5h1M53 22.5h1M55 22.5h2M0 23.5h6M27 23.5h4M33 23.5h1M40 23.5h8M50 23.5h2M2 24.5h4M29 24.5h4M34 24.5h3M38 24.5h3M43 24.5h1M45 24.5h2M51 24.5h2M1 25.5h1M3 25.5h2M28 25.5h5M34 25.5h5M40 25.5h1M42 25.5h1M44 25.5h5M50 25.5h1M55 25.5h1M2 26.5h1M4 26.5h1M28 26.5h6M36 26.5h2M39 26.5h1M41 26.5h1M44 26.5h3M48 26.5h1M50 26.5h1M58 26.5h2M61 26.5h1M0 27.5h1M2 27.5h2M30 27.5h2M33 27.5h7M41 27.5h3M46 27.5h1M52 27.5h1M54 27.5h1M58 27.5h1M1 28.5h1M28 28.5h4M34 28.5h4M39 28.5h1M41 28.5h6M50 28.5h1M52 28.5h1M55 28.5h1M57 28.5h2M0 29.5h3M28 29.5h8M37 29.5h11M49 29.5h2M52 29.5h1M56 29.5h1M0 30.5h3M28 30.5h5M34 30.5h2M37 30.5h3M41 30.5h3M46 30.5h4M52 30.5h1M54 30.5h1M0 31.5h2M29 31.5h2M32 31.5h4M37 31.5h6M44 31.5h3M49 31.5h2M52 31.5h1M0 32.5h2M28 32.5h4M33 32.5h1M36 32.5h4M46 32.5h3M50 32.5h2M53 32.5h1M0 33.5h1M28 33.5h9M38 33.5h1M48 33.5h7M56 33.5h2M0 34.5h1M28 34.5h3M32 34.5h6M49 34.5h2M55 34.5h1M0 35.5h1M28 35.5h1M30 35.5h7M49 35.5h5M0 36.5h1M29 36.5h2M32 36.5h2M36 36.5h1M50 36.5h2M54 36.5h1M0 37.5h1M29 37.5h3M33 37.5h3M50 37.5h1M52 37.5h2M56 37.5h1M0 38.5h1M29 38.5h5M35 38.5h1M54 38.5h2M60 38.5h1M29 39.5h6M51 39.5h1M53 39.5h1M55 39.5h1M30 40.5h4M52 40.5h1M54 40.5h2M57 40.5h3M30 41.5h4M52 41.5h2M56 41.5h1M58 41.5h1M61 41.5h1M30 42.5h1M33 42.5h1M52 42.5h2M59 42.5h1M32 43.5h1M52 43.5h1M55 43.5h2M58 43.5h1M31 44.5h2M53 44.5h4M53 45.5h3M57 45.5h2M53 46.5h6M62 46.5h1M55 47.5h3M59 47.5h1M53 48.5h1M56 48.5h1M61 48.5h1M53 49.5h6M53 50.5h3M57 50.5h1M59 50.5h2M53 51.5h4M61 51.5h1M0 52.5h1M53 52.5h1M56 52.5h3M0 53.5h1M53 53.5h2M56 53.5h1M64 53.5h1M0 54.5h1M53 54.5h1M55 54.5h2M59 54.5h1M61 54.5h1M32 55.5h1M53 55.5h2M57 55.5h3M1 56.5h1M33 56.5h1M52 56.5h1M54 56.5h1M57 56.5h1M59 56.5h1M0 57.5h2M31 57.5h3M53 57.5h1M55 57.5h2M58 57.5h1M31 58.5h4M53 58.5h1M55 58.5h3M59 58.5h1M1 59.5h1M32 59.5h1M34 59.5h1M52 59.5h4M57 59.5h1M2 60.5h1M30 60.5h2M33 60.5h1M51 60.5h4M56 60.5h1M0 61.5h3M30 61.5h3M34 61.5h2M51 61.5h1M54 61.5h1M59 61.5h1M2 62.5h1M30 62.5h3M34 62.5h3M50 62.5h1M53 62.5h2M56 62.5h1M1 63.5h1M30 63.5h5M36 63.5h2M50 63.5h4M56 63.5h1M59 63.5h1M0 64.5h1M29 64.5h4M35 64.5h3M49 64.5h1M51 64.5h2M54 64.5h1M57 64.5h1M60 64.5h1M29 65.5h4M35 65.5h3M48 65.5h6M65 65.5h1M28 66.5h8M37 66.5h4M48 66.5h1M50 66.5h1M52 66.5h3M28 67.5h2M31 67.5h1M33 67.5h4M40 67.5h2M45 67.5h4M50 67.5h1M52 67.5h2M55 67.5h2M27 68.5h1M30 68.5h1M35 68.5h7M44 68.5h2M47 68.5h3M51 68.5h2M54 68.5h3M27 69.5h2M31 69.5h1M33 69.5h1M35 69.5h2M38 69.5h4M45 69.5h2M50 69.5h1M52 69.5h2M55 69.5h1M26 70.5h2M29 70.5h1M31 70.5h1M34 70.5h1M38 70.5h4M43 70.5h3M47 70.5h6M54 70.5h1M56 70.5h1M26 71.5h3M32 71.5h2M35 71.5h1M38 71.5h1M44 71.5h1M47 71.5h5M53 71.5h1M28 72.5h2M33 72.5h2M37 72.5h2M41 72.5h1M43 72.5h1M45 72.5h1M47 72.5h1M50 72.5h1M24 73.5h2M28 73.5h1M31 73.5h1M34 73.5h9M45 73.5h1M48 73.5h2M53 73.5h1M24 74.5h4M30 74.5h1M37 74.5h1M41 74.5h2M44 74.5h1M46 74.5h1M48 74.5h3" stroke="#0000ff"/>
<path d="M13 17.5h1M15 17.5h8M13 18.5h3M17 18.5h2M20 18.5h3M24 18.5h1M10 19.5h2M13 19.5h12M9 20.5h7M17 20.5h2M20 20.5h6M9 21.5h12M22 21.5h5M7 22.5h1M10 22.5h12M25 22.5h2M6 23.5h3M10 23.5h4M15 23.5h6M22 23.5h5M7 24.5h14M22 24.5h6M5 25.5h5M11 25.5h10M22 25.5h6M5 26.5h3M10 26.5h11M22 26.5h1M24 26.5h1M5 27.5h23M4 28.5h6M11 28.5h12M24 28.5h3M3 29.5h1M5 29.5h6M12 29.5h16M3 30.5h8M13 30.5h12M26 30.5h2M3 31.5h6M10 31.5h2M18 31.5h10M43 31.5h1M2 32.5h9M19 32.5h9M40 32.5h4M45 32.5h1M2 33.5h7M20 33.5h8M39 33.5h5M45 33.5h3M1 34.5h4M6 34.5h2M21 34.5h6M39 34.5h5M45 34.5h4M1 35.5h1M3 35.5h5M22 35.5h6M37 35.5h1M39 35.5h7M48 35.5h1M1 36.5h1M3 36.5h5M22 36.5h2M26 36.5h3M37 36.5h3M42 36.5h8M1 37.5h6M23 37.5h3M27 37.5h2M36 37.5h1M38 37.5h8M47 37.5h2M1 38.5h6M23 38.5h2M26 38.5h3M36 38.5h5M42 38.5h9M1 39.5h6M24 39.5h5M35 39.5h5M41 39.5h2M44 39.5h7M1 40.5h5M24 40.5h2M27 40.5h3M35 40.5h11M47 40.5h5M1 41.5h2M4 41.5h2M24 41.5h6M34 41.5h18M0 42.5h6M25 42.5h4M34 42.5h14M49 42.5h1M51 42.5h1M0 43.5h6M25 43.5h6M33 43.5h14M48 43.5h2M51 43.5h1M0 44.5h2M3 44.5h3M26 44.5h5M33 44.5h7M41 44.5h2M45 44.5h7M0 45.5h6M26 45.5h2M29 45.5h4M35 45.5h7M46 45.5h7M0 46.5h5M26 46.5h2M31 46.5h6M38 46.5h1M40 46.5h1M46 46.5h1M48 46.5h5M0 47.5h1M2 47.5h3M26 47.5h4M31 47.5h4M36 47.5h1M38 47.5h3M47 47.5h1M49 47.5h1M51 47.5h2M0 48.5h3M28 48.5h4M33 48.5h8M47 48.5h3M51 48.5h2M0 49.5h5M27 49.5h6M35 49.5h1M37 49.5h4M47 49.5h2M50 49.5h3M0 50.5h1M2 50.5h3M27 50.5h2M30 50.5h11M47 50.5h3M51 50.5h2M1 51.5h5M27 51.5h4M32 51.5h3M36 51.5h5M47 51.5h6M1 52.5h3M5 52.5h1M27 52.5h1M30 52.5h1M32 52.5h1M34 52.5h7M47 52.5h6M2 53.5h4M27 53.5h1M29 53.5h2M32 53.5h9M46 53.5h5M52 53.5h1M1 54.5h1M3 54.5h3M27 54.5h3M31 54.5h10M46 54.5h5M52 54.5h1M2 55.5h4M27 55.5h5M33 55.5h2M36 55.5h7M45 55.5h8M3 56.5h3M27 56.5h4M34 56.5h18M2 57.5h4M27 57.5h2M30 57.5h1M34 57.5h2M38 57.5h1M40 57.5h3M44 57.5h8M2 58.5h3M6 58.5h1M27 58.5h4M37 58.5h13M51 58.5h1M2 59.5h5M27 59.5h4M35 59.5h17M4 60.5h2M27 60.5h3M36 60.5h8M45 60.5h6M3 61.5h4M27 61.5h3M37 61.5h1M39 61.5h1M41 61.5h2M44 61.5h7M3 62.5h4M26 62.5h3M38 62.5h12M2 63.5h5M26 63.5h2M39 63.5h6M47 63.5h3M1 64.5h6M26 64.5h1M28 64.5h1M38 64.5h7M46 64.5h3M2 65.5h4M25 65.5h4M39 65.5h1M42 65.5h6M0 66.5h4M25 66.5h1M41 66.5h6M0 67.5h2M25 67.5h2M42 67.5h3M0 68.5h1M24 68.5h3M0 69.5h1M23 69.5h4M23 70.5h2M21 71.5h3M0 72.5h1M20 72.5h4M0 73.5h2M11 73.5h13M0 74.5h3M9 74.5h3M13 74.5h11" stroke="#0046ff"/>
<path d="M12 31.5h6M11 32.5h8M10 33.5h10M9 34.5h12M8 35.5h13M8 36.5h14M7 37.5h16M7 38.5h16M7 39.5h7M18 39.5h6M6 40.5h6M19 40.5h5M6 41.5h5M20 41.5h4M6 42.5h5M21 42.5h4M6 43.5h4M22 43.5h3M6 44.5h4M22 44.5h4M43 44.5h2M6 45.5h4M23 45.5h3M42 45.5h4M5 46.5h4M23 46.5h3M41 46.5h5M5 47.5h4M24 47.5h1M41 47.5h6M5 48.5h4M24 48.5h3M41 48.5h6M5 49.5h4M24 49.5h3M41 49.5h6M5 50.5h4M25 50.5h2M41 50.5h6M6 51.5h3M25 51.5h1M41 51.5h6M6 52.5h3M25 52.5h2M41 52.5h6M6 53.5h3M25 53.5h2M41 53.5h2M44 53.5h2M6 54.5h3M25 54.5h2M42 54.5h4M6 55.5h3M25 55.5h2M43 55.5h2M6 56.5h3M25 56.5h2M6 57.5h3M25 57.5h2M8 58.5h1M25 58.5h2M7 59.5h2M25 59.5h2M7 60.5h3M25 60.5h2M7 61.5h3M25 61.5h2M7 62.5h2M24 62.5h2M7 63.5h3M24 63.5h2M7 64.5h3M24 64.5h2M6 65.5h1M8 65.5h3M23 65.5h2M4 66.5h7M23 66.5h2M2 67.5h9M22 67.5h3M1 68.5h5M8 68.5h4M21 68.5h3M1 69.5h3M9 69.5h5M19 69.5h4M0 70.5h3M9 70.5h14M0 71.5h3M9 71.5h10M20 71.5h1M1 72.5h3M7 72.5h13M2 73.5h9M3 74.5h6" stroke="#008cff"/>
<path d="M14 39.5h4M12 40.5h7M11 41.5h9M11 42.5h10M10 43.5h12M10 44.5h5M18 44.5h4M10 45.5h4M20 45.5h3M9 46.5h4M21 46.5h2M9 47.5h3M21 47.5h3M9 48.5h3M22 48.5h2M9 49.5h2M22 49.5h2M9 50.5h2M23 50.5h2M9 51.5h2M23 51.5h2M9 52.5h2M23 52.5h2M9 53.5h2M23 53.5h2M9 54.5h2M23 54.5h2M9 55.5h2M23 55.5h2M9 56.5h2M23 56.5h2M9 57.5h2M23 57.5h2M9 58.5h2M23 58.5h2M9 59.5h2M23 59.5h2M10 60.5h2M23 60.5h2M10 61.5h2M23 61.5h2M10 62.5h2M22 62.5h2M10 63.5h3M22 63.5h2M10 64.5h3M21 64.5h3M11 65.5h3M21 65.5h2M11 66.5h4M20 66.5h3M11 67.5h11M6 68.5h2M12 68.5h9M4 69.5h5M14 69.5h5M3 70.5h6M3 71.5h6M4 72.5h3" stroke="#00d3ff"/>
<path d="M15 44.5h3M14 45.5h6M13 46.5h8M12 47.5h9M12 48.5h3M18 48.5h4M11 49.5h3M20 49.5h2M11 50.5h3M20 50.5h3M11 51.5h2M21 51.5h2M11 52.5h2M21 52.5h2M11 53.5h2M21 53.5h2M11 54.5h2M22 54.5h1M11 55.5h2M22 55.5h1M11 56.5h2M22 56.5h1M11 57.5h2M22 57.5h1M11 58.5h2M22 58.5h1M11 59.5h2M21 59.5h2M12 60.5h2M21 60.5h2M12 61.5h2M21 61.5h2M12 62.5h3M20 62.5h2M13 63.5h2M19 63.5h3M13 64.5h8M14 65.5h7M15 66.5h5" stroke="#1affe4"/>
<path d="M15 48.5h3M14 49.5h6M14 50.5h6M13 51.5h8M13 52.5h4M18 52.5h3M13 53.5h3M19 53.5h2M13 54.5h2M19 54.5h3M13 55.5h2M19 55.5h3M13 56.5h2M20 56.5h2M13 57.5h2M20 57.5h2M13 58.5h2M19 58.5h3M13 59.5h3M19 59.5h2M14 60.5h3M18 60.5h3M14 61.5h7M15 62.5h5M15 63.5h4" stroke="#61ff9d"/>
<path d="M17 52.5h1M16 53.5h3M15 54.5h4M15 55.5h4M15 56.5h5M15 57.5h5M15 58.5h4M16 59.5h3M17 60.5h1" stroke="#a7ff57"/>
</g>
<path d="M526.8 641L525.8 666L508.6 716H556.6V641Z" fill="none" stroke="#111" stroke-width="1.5" stroke-linejoin="miter"/>
<rect x="568.2" y="641" width="75.2" height="75" fill="none" stroke="#8c8c8c" stroke-width="0.6" />
<path d="M568.2 716h-2M568.2 701.85h-2M568.2 687.7h-2M568.2 673.55h-2M568.2 659.4h-2M568.2 645.25h-2M573.4 716v2M597.3 716v2M617.2 716v2M636.5 716v2M568.2 714h-1M568.2 709.82h-1M568.2 705.65h-1M568.2 701.47h-1M568.2 697.29h-1M568.2 693.12h-1M568.2 688.94h-1M568.2 684.76h-1M568.2 680.59h-1M568.2 676.41h-1M568.2 672.24h-1M568.2 668.06h-1M568.2 663.88h-1M568.2 659.71h-1M568.2 655.53h-1M568.2 651.35h-1M568.2 647.18h-1M568.2 643h-1M570.2 716v1M576.67 716v1M583.15 716v1M589.62 716v1M596.09 716v1M602.56 716v1M609.04 716v1M615.51 716v1M621.98 716v1M628.45 716v1M634.93 716v1M641.4 716v1" stroke="#777" stroke-width="0.5"/>
<text x="565.8" y="717.2" font-size="3.6" text-anchor="end" fill="#555">0</text>
<text x="565.8" y="703.05" font-size="3.6" text-anchor="end" fill="#555">50K</text>
<text x="565.8" y="688.9" font-size="3.6" text-anchor="end" fill="#555">100K</text>
<text x="565.8" y="674.75" font-size="3.6" text-anchor="end" fill="#555">150K</text>
<text x="565.8" y="660.6" font-size="3.6" text-anchor="end" fill="#555">200K</text>
<text x="565.8" y="646.45" font-size="3.6" text-anchor="end" fill="#555">250K</text>
<text x="573.4" y="722.2" font-size="3.6" text-anchor="middle" fill="#555">0</text>
<text x="597.3" y="722.2" font-size="3.6" text-anchor="middle" fill="#555">10<tspan dy="-1" font-size="2.6">3</tspan></text>
<text x="617.2" y="722.2" font-size="3.6" text-anchor="middle" fill="#555">10<tspan dy="-1" font-size="2.6">4</tspan></text>
<text x="636.5" y="722.2" font-size="3.6" text-anchor="middle" fill="#555">10<tspan dy="-1" font-size="2.6">5</tspan></text>
<g transform="translate(568.2 641)" stroke-width="1.25" filter="url(#blurf)">
<path d="M11 0.5h1M17 0.5h1M11 1.5h2M19 1.5h1M0 2.5h1M4 2.5h1M12 2.5h1M15 2.5h1M42 2.5h1M45 2.5h1M0 3.5h2M3 3.5h3M7 3.5h1M11 3.5h1M15 3.5h2M36 3.5h1M0 4.5h2M8 4.5h3M14 4.5h2M46 4.5h1M1 5.5h2M4 5.5h2M7 5.5h1M9 5.5h3M13 5.5h5M49 5.5h1M0 6.5h2M6 6.5h3M13 6.5h1M18 6.5h1M2 7.5h1M4 7.5h3M8 7.5h2M11 7.5h3M15 7.5h1M17 7.5h1M27 7.5h1M36 7.5h1M39 7.5h1M45 7.5h1M48 7.5h1M55 7.5h1M0 8.5h1M4 8.5h5M11 8.5h1M13 8.5h1M17 8.5h1M20 8.5h2M40 8.5h1M44 8.5h1M52 8.5h1M4 9.5h2M8 9.5h1M10 9.5h5M21 9.5h1M38 9.5h1M40 9.5h2M45 9.5h2M48 9.5h1M52 9.5h1M55 9.5h1M4 10.5h12M20 10.5h1M26 10.5h1M38 10.5h1M40 10.5h1M43 10.5h1M1 11.5h1M3 11.5h2M6 11.5h2M9 11.5h2M12 11.5h1M15 11.5h1M17 11.5h1M19 11.5h1M27 11.5h1M30 11.5h1M33 11.5h1M40 11.5h1M44 11.5h1M60 11.5h1M3 12.5h1M5 12.5h1M7 12.5h6M14 12.5h2M17 12.5h1M33 12.5h1M35 12.5h1M37 12.5h1M58 12.5h1M1 13.5h1M4 13.5h1M6 13.5h6M13 13.5h1M15 13.5h1M19 13.5h1M27 13.5h1M33 13.5h1M35 13.5h1M38 13.5h2M44 13.5h1M51 13.5h1M58 13.5h1M61 13.5h1M0 14.5h1M2 14.5h4M7 14.5h6M15 14.5h1M17 14.5h2M25 14.5h1M33 14.5h1M36 14.5h1M38 14.5h1M41 14.5h2M44 14.5h1M46 14.5h1M51 14.5h1M3 15.5h1M5 15.5h1M7 15.5h3M11 15.5h5M29 15.5h1M31 15.5h1M34 15.5h1M36 15.5h2M40 15.5h2M43 15.5h1M46 15.5h1M53 15.5h1M57 15.5h1M1 16.5h1M3 16.5h3M7 16.5h9M17 16.5h3M22 16.5h1M33 16.5h2M36 16.5h1M42 16.5h2M45 16.5h1M47 16.5h1M0 17.5h1M5 17.5h2M8 17.5h5M14 17.5h1M16 17.5h5M32 17.5h1M36 17.5h1M44 17.5h1M46 17.5h1M50 17.5h2M2 18.5h6M12 18.5h9M30 18.5h1M33 18.5h2M36 18.5h3M40 18.5h1M42 18.5h2M52 18.5h1M0 19.5h1M2 19.5h4M13 19.5h5M19 19.5h2M22 19.5h1M24 19.5h1M27 19.5h1M30 19.5h2M44 19.5h1M46 19.5h2M52 19.5h1M2 20.5h4M14 20.5h5M22 20.5h1M24 20.5h1M27 20.5h3M33 20.5h5M40 20.5h2M43 20.5h1M51 20.5h1M0 21.5h5M15 21.5h2M18 21.5h1M21 21.5h2M26 21.5h1M28 21.5h1M31 21.5h2M34 21.5h1M36 21.5h1M40 21.5h3M46 21.5h1M50 21.5h1M52 21.5h1M0 22.5h5M15 22.5h4M25 22.5h1M33 22.5h1M36 22.5h1M40 22.5h2M46 22.5h2M49 22.5h1M1 23.5h1M16 23.5h3M20 23.5h1M30 23.5h3M34 23.5h1M37 23.5h5M44 23.5h1M53 23.5h1M55 23.5h1M0 24.5h4M16 24.5h8M30 24.5h3M34 24.5h1M36 24.5h3M40 24.5h4M48 24.5h1M51 24.5h1M53 24.5h1M0 25.5h3M20 25.5h1M27 25.5h1M35 25.5h1M37 25.5h4M42 25.5h1M44 25.5h2M47 25.5h1M51 25.5h1M53 25.5h1M56 25.5h1M1 26.5h1M18 26.5h3M22 26.5h2M25 26.5h1M30 26.5h2M36 26.5h1M39 26.5h6M47 26.5h1M49 26.5h4M0 27.5h1M2 27.5h1M17 27.5h1M19 27.5h1M21 27.5h2M26 27.5h2M29 27.5h1M34 27.5h2M38 27.5h3M42 27.5h1M49 27.5h1M51 27.5h1M55 27.5h1M2 28.5h1M17 28.5h2M20 28.5h1M23 28.5h1M29 28.5h1M32 28.5h1M35 28.5h1M37 28.5h1M40 28.5h1M42 28.5h2M47 28.5h1M50 28.5h1M1 29.5h1M19 29.5h3M29 29.5h4M34 29.5h3M39 29.5h3M43 29.5h2M47 29.5h1M49 29.5h1M51 29.5h1M54 29.5h1M0 30.5h2M18 30.5h2M21 30.5h1M25 30.5h1M27 30.5h1M32 30.5h1M35 30.5h1M37 30.5h1M40 30.5h4M45 30.5h1M47 30.5h1M49 30.5h2M52 30.5h1M54 30.5h2M0 31.5h2M18 31.5h6M31 31.5h1M35 31.5h2M41 31.5h7M50 31.5h2M54 31.5h1M56 31.5h1M0 32.5h2M18 32.5h2M21 32.5h1M23 32.5h2M33 32.5h1M35 32.5h2M38 32.5h2M41 32.5h5M49 32.5h3M58 32.5h1M0 33.5h2M20 33.5h1M22 33.5h3M26 33.5h1M29 33.5h1M33 33.5h2M37 33.5h1M40 33.5h4M45 33.5h3M50 33.5h3M0 34.5h1M19 34.5h1M23 34.5h1M25 34.5h1M29 34.5h1M32 34.5h1M36 34.5h2M39 34.5h1M41 34.5h4M46 34.5h4M51 34.5h1M53 34.5h3M0 35.5h1M20 35.5h1M22 35.5h1M35 35.5h2M38 35.5h2M41 35.5h10M52 35.5h1M55 35.5h1M0 36.5h1M19 36.5h2M30 36.5h4M36 36.5h3M40 36.5h11M53 36.5h2M58 36.5h1M0 37.5h1M19 37.5h1M21 37.5h1M25 37.5h1M28 37.5h1M33 37.5h1M35 37.5h7M43 37.5h1M45 37.5h9M55 37.5h1M19 38.5h2M22 38.5h2M27 38.5h2M31 38.5h2M34 38.5h3M38 38.5h9M48 38.5h4M53 38.5h2M58 38.5h1M0 39.5h1M19 39.5h1M21 39.5h1M23 39.5h1M25 39.5h1M31 39.5h2M37 39.5h3M41 39.5h2M46 39.5h6M53 39.5h1M55 39.5h1M64 39.5h1M0 40.5h1M19 40.5h2M22 40.5h2M29 40.5h1M31 40.5h2M34 40.5h4M39 40.5h2M49 40.5h4M54 40.5h1M56 40.5h1M62 40.5h1M0 41.5h1M19 41.5h3M34 41.5h1M37 41.5h2M40 41.5h1M48 41.5h1M50 41.5h1M53 41.5h1M57 41.5h1M0 42.5h1M19 42.5h5M32 42.5h1M35 42.5h2M38 42.5h1M49 42.5h5M56 42.5h1M60 42.5h1M19 43.5h2M24 43.5h3M31 43.5h1M33 43.5h1M35 43.5h5M51 43.5h4M56 43.5h1M58 43.5h1M63 43.5h2M0 44.5h1M19 44.5h2M24 44.5h1M31 44.5h1M33 44.5h2M37 44.5h2M50 44.5h3M55 44.5h1M57 44.5h1M0 45.5h1M20 45.5h5M27 45.5h1M31 45.5h2M34 45.5h6M51 45.5h3M56 45.5h1M0 46.5h1M19 46.5h6M26 46.5h1M28 46.5h1M30 46.5h1M34 46.5h6M51 46.5h4M56 46.5h1M60 46.5h2M0 47.5h1M19 47.5h2M22 47.5h1M24 47.5h2M29 47.5h1M35 47.5h5M51 47.5h6M65 47.5h1M0 48.5h1M19 48.5h2M22 48.5h2M26 48.5h1M31 48.5h1M37 48.5h3M52 48.5h4M57 48.5h1M61 48.5h1M0 49.5h1M19 49.5h1M22 49.5h2M26 49.5h1M32 49.5h1M34 49.5h2M37 49.5h3M52 49.5h6M0 50.5h1M19 50.5h3M25 50.5h1M28 50.5h1M30 50.5h2M34 50.5h1M36 50.5h4M52 50.5h5M58 50.5h1M60 50.5h2M64 50.5h1M19 51.5h2M33 51.5h1M35 51.5h2M38 51.5h2M52 51.5h3M56 51.5h1M60 51.5h2M64 51.5h1M19 52.5h4M24 52.5h1M32 52.5h7M52 52.5h2M57 52.5h3M61 52.5h2M65 52.5h1M19 53.5h1M21 53.5h2M25 53.5h1M27 53.5h1M32 53.5h2M36 53.5h1M52 53.5h5M63 53.5h1M20 54.5h4M29 54.5h2M32 54.5h1M34 54.5h2M37 54.5h1M39 54.5h1M52 54.5h6M64 54.5h1M20 55.5h2M25 55.5h1M30 55.5h1M34 55.5h1M37 55.5h3M52 55.5h5M58 55.5h1M60 55.5h2M63 55.5h1M20 56.5h2M25 56.5h1M31 56.5h3M36 56.5h2M39 56.5h2M53 56.5h1M55 56.5h5M61 56.5h1M65 56.5h1M20 57.5h3M25 57.5h1M33 57.5h6M40 57.5h1M52 57.5h4M58 57.5h1M21 58.5h1M24 58.5h1M28 58.5h2M31 58.5h1M33 58.5h1M35 58.5h1M37 58.5h2M40 58.5h1M52 58.5h7M21 59.5h1M23 59.5h1M25 59.5h1M29 59.5h1M31 59.5h5M37 59.5h3M52 59.5h7M63 59.5h1M21 60.5h4M26 60.5h2M29 60.5h9M51 60.5h1M53 60.5h1M55 60.5h1M57 60.5h3M22 61.5h6M29 61.5h3M33 61.5h1M51 61.5h8M63 61.5h1M21 62.5h1M23 62.5h5M29 62.5h3M50 62.5h5M56 62.5h5M63 62.5h1M23 63.5h2M28 63.5h2M50 63.5h4M55 63.5h3M59 63.5h1M64 63.5h1M22 64.5h2M26 64.5h3M49 64.5h6M58 64.5h1M61 64.5h1M22 65.5h6M49 65.5h7M59 65.5h2M22 66.5h2M25 66.5h3M47 66.5h5M54 66.5h1M56 66.5h1M21 67.5h4M26 67.5h2M46 67.5h3M50 67.5h5M56 67.5h1M60 67.5h2M63 67.5h2M21 68.5h7M45 68.5h2M48 68.5h3M52 68.5h7M61 68.5h1M63 68.5h1M21 69.5h8M44 69.5h4M50 69.5h3M55 69.5h1M20 70.5h2M23 70.5h3M27 70.5h1M29 70.5h1M42 70.5h2M45 70.5h5M52 70.5h4M57 70.5h2M20 71.5h2M23 71.5h9M40 71.5h9M51 71.5h1M55 71.5h3M59 71.5h2M19 72.5h3M24 72.5h1M26 72.5h2M30 72.5h11M42 72.5h7M50 72.5h1M57 72.5h2M67 72.5h1M18 73.5h1M20 73.5h1M26 73.5h5M34 73.5h6M41 73.5h2M46 73.5h4M51 73.5h1M53 73.5h1M56 73.5h1M62 73.5h1M0 74.5h1M17 74.5h6M24 74.5h3M28 74.5h1M33 74.5h1M35 74.5h3M39 74.5h1M41 74.5h2M44 74.5h1M46 74.5h2M49 74.5h1M51 74.5h1M54 74.5h1M57 74.5h3M62 74.5h1" stroke="#0000ff"/>
<path d="M8 18.5h4M7 19.5h1M9 19.5h1M11 19.5h2M6 20.5h8M5 21.5h7M13 21.5h2M5 22.5h10M4 23.5h8M13 23.5h3M4 24.5h1M6 24.5h10M4 25.5h13M3 26.5h11M15 26.5h2M3 27.5h5M9 27.5h6M16 27.5h1M3 28.5h14M2 29.5h10M13 29.5h5M2 30.5h16M3 31.5h6M11 31.5h7M2 32.5h6M12 32.5h6M3 33.5h4M13 33.5h4M1 34.5h1M3 34.5h4M13 34.5h6M1 35.5h6M13 35.5h4M18 35.5h1M1 36.5h5M14 36.5h5M1 37.5h1M3 37.5h3M14 37.5h3M18 37.5h1M1 38.5h5M14 38.5h3M18 38.5h1M1 39.5h5M14 39.5h5M43 39.5h3M1 40.5h5M14 40.5h5M41 40.5h4M46 40.5h1M1 41.5h5M14 41.5h4M41 41.5h4M46 41.5h2M1 42.5h1M3 42.5h3M14 42.5h5M40 42.5h9M1 43.5h5M14 43.5h5M40 43.5h4M45 43.5h5M1 44.5h5M14 44.5h5M40 44.5h10M1 45.5h5M14 45.5h5M40 45.5h4M45 45.5h6M1 46.5h5M14 46.5h5M40 46.5h11M1 47.5h4M14 47.5h4M40 47.5h11M1 48.5h4M14 48.5h5M40 48.5h9M50 48.5h2M1 49.5h1M3 49.5h2M15 49.5h4M40 49.5h12M1 50.5h4M15 50.5h4M40 50.5h12M0 51.5h1M2 51.5h3M15 51.5h4M40 51.5h12M1 52.5h3M15 52.5h4M40 52.5h12M2 53.5h2M16 53.5h2M40 53.5h12M0 54.5h3M16 54.5h4M40 54.5h12M0 55.5h3M16 55.5h4M43 55.5h5M49 55.5h2M0 56.5h2M17 56.5h3M41 56.5h4M46 56.5h5M0 57.5h2M17 57.5h3M42 57.5h10M0 58.5h1M18 58.5h1M41 58.5h3M45 58.5h2M48 58.5h4M0 59.5h1M18 59.5h2M40 59.5h2M43 59.5h1M45 59.5h7M18 60.5h3M39 60.5h12M18 61.5h3M35 61.5h1M37 61.5h7M45 61.5h6M18 62.5h3M32 62.5h3M36 62.5h14M19 63.5h3M30 63.5h3M34 63.5h16M19 64.5h3M29 64.5h20M19 65.5h3M29 65.5h5M35 65.5h13M18 66.5h3M28 66.5h19M18 67.5h3M28 67.5h16M45 67.5h1M18 68.5h3M28 68.5h2M31 68.5h14M0 69.5h1M17 69.5h4M29 69.5h15M0 70.5h1M17 70.5h3M30 70.5h2M33 70.5h1M35 70.5h7M0 71.5h2M16 71.5h4M32 71.5h7M0 72.5h3M15 72.5h2M18 72.5h1M0 73.5h4M14 73.5h4M1 74.5h5M13 74.5h4" stroke="#0046ff"/>
<path d="M9 31.5h2M8 32.5h4M7 33.5h6M7 34.5h6M7 35.5h6M6 36.5h8M6 37.5h8M6 38.5h8M6 39.5h8M6 40.5h8M6 41.5h8M6 42.5h8M6 43.5h8M6 44.5h8M6 45.5h8M6 46.5h8M5 47.5h9M5 48.5h9M5 49.5h10M5 50.5h10M5 51.5h10M4 52.5h11M4 53.5h12M3 54.5h4M12 54.5h4M3 55.5h3M13 55.5h3M2 56.5h3M14 56.5h3M2 57.5h2M15 57.5h2M1 58.5h3M15 58.5h3M1 59.5h2M16 59.5h2M0 60.5h3M16 60.5h2M0 61.5h2M16 61.5h2M0 62.5h2M16 62.5h2M0 63.5h2M17 63.5h2M0 64.5h2M17 64.5h2M0 65.5h2M17 65.5h2M0 66.5h2M16 66.5h2M0 67.5h2M16 67.5h2M0 68.5h3M16 68.5h2M1 69.5h2M15 69.5h2M1 70.5h3M14 70.5h3M2 71.5h3M13 71.5h3M3 72.5h4M12 72.5h3M4 73.5h10M6 74.5h7" stroke="#008cff"/>
<path d="M7 54.5h5M6 55.5h7M5 56.5h9M4 57.5h4M11 57.5h4M4 58.5h2M12 58.5h3M3 59.5h2M13 59.5h3M3 60.5h2M14 60.5h2M2 61.5h2M14 61.5h2M2 62.5h2M15 62.5h1M2 63.5h2M15 63.5h2M2 64.5h2M15 64.5h2M2 65.5h2M15 65.5h2M2 66.5h2M14 66.5h2M2 67.5h2M14 67.5h2M3 68.5h2M14 68.5h2M3 69.5h3M13 69.5h2M4 70.5h3M11 70.5h3M5 71.5h8M7 72.5h5" stroke="#00d3ff"/>
<path d="M8 57.5h3M6 58.5h6M5 59.5h8M5 60.5h2M11 60.5h3M4 61.5h2M12 61.5h2M4 62.5h2M12 62.5h3M4 63.5h2M13 63.5h2M4 64.5h1M13 64.5h2M4 65.5h2M13 65.5h2M4 66.5h2M12 66.5h2M4 67.5h3M12 67.5h2M5 68.5h3M10 68.5h4M6 69.5h7M7 70.5h4" stroke="#1affe4"/>
<path d="M7 60.5h4M6 61.5h6M6 62.5h6M6 63.5h7M5 64.5h8M6 65.5h7M6 66.5h6M7 67.5h5M8 68.5h2" stroke="#61ff9d"/>
</g>
<path d="M613.6 641L612.6 666L595.4 716H643.4V641Z" fill="none" stroke="#111" stroke-width="1.5" stroke-linejoin="miter"/>
<text transform="translate(34.3 678) rotate(-90)" font-size="13.3" text-anchor="middle">SSC-A</text>
<text x="58.8" y="735.4" font-size="13.6">CX<tspan dy="3" font-size="9.79">3</tspan><tspan dy="-3">​</tspan>CR1/GFP</text>
<line x1="152" y1="730.3" x2="633.5" y2="730.3" stroke="#000" stroke-width="1.3" />
<path d="M639 730.3L633 727.3L633 733.3Z" fill="#000"/>
<line x1="48.2" y1="743.8" x2="291" y2="743.8" stroke="#888" stroke-width="0.9" stroke-dasharray="2.5 1.8"/>
<line x1="403.6" y1="743.8" x2="642" y2="743.8" stroke="#888" stroke-width="0.9" stroke-dasharray="2.5 1.8"/>
<text x="303.6" y="751" font-size="13.6">CX<tspan dy="3" font-size="9.79">3</tspan><tspan dy="-3">​</tspan>CR1/GFP<tspan dy="-5" font-size="9.79">+</tspan><tspan dy="5">​</tspan></text>
<rect x="47.4" y="756.1" width="75.2" height="75" fill="none" stroke="#8c8c8c" stroke-width="0.6" />
<path d="M47.4 827.1h-2M47.4 804.77h-2M47.4 782.43h-2M47.4 760.1h-2M51.4 831.1v2M64.84 831.1v2M78.28 831.1v2M91.72 831.1v2M105.16 831.1v2M118.6 831.1v2M47.4 829.1h-1M47.4 822.65h-1M47.4 816.19h-1M47.4 809.74h-1M47.4 803.28h-1M47.4 796.83h-1M47.4 790.37h-1M47.4 783.92h-1M47.4 777.46h-1M47.4 771.01h-1M47.4 764.55h-1M47.4 758.1h-1M49.4 831.1v1M53.59 831.1v1M57.78 831.1v1M61.96 831.1v1M66.15 831.1v1M70.34 831.1v1M74.53 831.1v1M78.72 831.1v1M82.91 831.1v1M87.09 831.1v1M91.28 831.1v1M95.47 831.1v1M99.66 831.1v1M103.85 831.1v1M108.04 831.1v1M112.22 831.1v1M116.41 831.1v1M120.6 831.1v1" stroke="#777" stroke-width="0.5"/>
<text x="45" y="828.3" font-size="3.6" text-anchor="end" fill="#555">10<tspan dy="-1" font-size="2.6">1</tspan><tspan dy="1"> </tspan></text>
<text x="45" y="805.97" font-size="3.6" text-anchor="end" fill="#555">10<tspan dy="-1" font-size="2.6">2</tspan><tspan dy="1"> </tspan></text>
<text x="45" y="783.63" font-size="3.6" text-anchor="end" fill="#555">10<tspan dy="-1" font-size="2.6">3</tspan><tspan dy="1"> </tspan></text>
<text x="45" y="761.3" font-size="3.6" text-anchor="end" fill="#555">10<tspan dy="-1" font-size="2.6">4</tspan><tspan dy="1"> </tspan></text>
<text x="51.4" y="837.3" font-size="3.6" text-anchor="middle" fill="#555">10<tspan dy="-1" font-size="2.6">1</tspan><tspan dy="1"> </tspan></text>
<text x="64.84" y="837.3" font-size="3.6" text-anchor="middle" fill="#555">10<tspan dy="-1" font-size="2.6">2</tspan><tspan dy="1"> </tspan></text>
<text x="78.28" y="837.3" font-size="3.6" text-anchor="middle" fill="#555">10<tspan dy="-1" font-size="2.6">3</tspan><tspan dy="1"> </tspan></text>
<text x="91.72" y="837.3" font-size="3.6" text-anchor="middle" fill="#555">10<tspan dy="-1" font-size="2.6">4</tspan><tspan dy="1"> </tspan></text>
<text x="105.16" y="837.3" font-size="3.6" text-anchor="middle" fill="#555">10<tspan dy="-1" font-size="2.6">5</tspan><tspan dy="1"> </tspan></text>
<text x="118.6" y="837.3" font-size="3.6" text-anchor="middle" fill="#555">10<tspan dy="-1" font-size="2.6">6</tspan><tspan dy="1"> </tspan></text>
<g transform="translate(47.4 756.1)" stroke-width="1.45" filter="url(#blurf)">
<path d="M32 28.5h1M48 30.5h1M53 30.5h2M28 31.5h1M34 31.5h1M29 32.5h2M34 32.5h1M42 32.5h2M46 32.5h1M54 32.5h1M31 33.5h2M37 33.5h1M42 33.5h1M44 33.5h1M57 33.5h1M34 34.5h2M37 34.5h2M41 34.5h1M43 34.5h2M49 34.5h2M55 34.5h1M57 34.5h1M61 34.5h1M23 35.5h1M27 35.5h2M32 35.5h1M35 35.5h1M39 35.5h1M41 35.5h1M44 35.5h1M47 35.5h2M50 35.5h1M54 35.5h1M22 36.5h1M27 36.5h1M30 36.5h1M34 36.5h1M37 36.5h4M43 36.5h1M45 36.5h1M48 36.5h3M52 36.5h2M29 37.5h1M31 37.5h1M34 37.5h1M36 37.5h1M40 37.5h1M43 37.5h1M46 37.5h4M52 37.5h1M24 38.5h1M30 38.5h2M33 38.5h2M36 38.5h1M39 38.5h1M41 38.5h1M44 38.5h1M46 38.5h1M48 38.5h2M52 38.5h2M57 38.5h1M26 39.5h1M28 39.5h1M32 39.5h3M39 39.5h1M42 39.5h2M45 39.5h2M48 39.5h2M51 39.5h1M56 39.5h1M29 40.5h1M39 40.5h2M47 40.5h3M52 40.5h1M56 40.5h1M26 41.5h1M28 41.5h2M32 41.5h1M34 41.5h1M39 41.5h1M45 41.5h1M48 41.5h1M52 41.5h1M34 42.5h1M38 42.5h1M45 42.5h1M29 43.5h1M43 43.5h1M36 45.5h1M39 45.5h1M43 45.5h1M48 45.5h1M38 46.5h1M41 48.5h1" stroke="#0a0af0"/>
</g>
<rect x="83.8" y="756.1" width="38.8" height="42.9" fill="none" stroke="#111" stroke-width="1.5" />
<rect x="134.2" y="756.1" width="75.2" height="75" fill="none" stroke="#8c8c8c" stroke-width="0.6" />
<path d="M134.2 827.1h-2M134.2 804.77h-2M134.2 782.43h-2M134.2 760.1h-2M138.2 831.1v2M151.64 831.1v2M165.08 831.1v2M178.52 831.1v2M191.96 831.1v2M205.4 831.1v2M134.2 829.1h-1M134.2 822.65h-1M134.2 816.19h-1M134.2 809.74h-1M134.2 803.28h-1M134.2 796.83h-1M134.2 790.37h-1M134.2 783.92h-1M134.2 777.46h-1M134.2 771.01h-1M134.2 764.55h-1M134.2 758.1h-1M136.2 831.1v1M140.39 831.1v1M144.58 831.1v1M148.76 831.1v1M152.95 831.1v1M157.14 831.1v1M161.33 831.1v1M165.52 831.1v1M169.71 831.1v1M173.89 831.1v1M178.08 831.1v1M182.27 831.1v1M186.46 831.1v1M190.65 831.1v1M194.84 831.1v1M199.02 831.1v1M203.21 831.1v1M207.4 831.1v1" stroke="#777" stroke-width="0.5"/>
<text x="131.8" y="828.3" font-size="3.6" text-anchor="end" fill="#555">10<tspan dy="-1" font-size="2.6">1</tspan><tspan dy="1"> </tspan></text>
<text x="131.8" y="805.97" font-size="3.6" text-anchor="end" fill="#555">10<tspan dy="-1" font-size="2.6">2</tspan><tspan dy="1"> </tspan></text>
<text x="131.8" y="783.63" font-size="3.6" text-anchor="end" fill="#555">10<tspan dy="-1" font-size="2.6">3</tspan><tspan dy="1"> </tspan></text>
<text x="131.8" y="761.3" font-size="3.6" text-anchor="end" fill="#555">10<tspan dy="-1" font-size="2.6">4</tspan><tspan dy="1"> </tspan></text>
<text x="138.2" y="837.3" font-size="3.6" text-anchor="middle" fill="#555">10<tspan dy="-1" font-size="2.6">1</tspan><tspan dy="1"> </tspan></text>
<text x="151.64" y="837.3" font-size="3.6" text-anchor="middle" fill="#555">10<tspan dy="-1" font-size="2.6">2</tspan><tspan dy="1"> </tspan></text>
<text x="165.08" y="837.3" font-size="3.6" text-anchor="middle" fill="#555">10<tspan dy="-1" font-size="2.6">3</tspan><tspan dy="1"> </tspan></text>
<text x="178.52" y="837.3" font-size="3.6" text-anchor="middle" fill="#555">10<tspan dy="-1" font-size="2.6">4</tspan><tspan dy="1"> </tspan></text>
<text x="191.96" y="837.3" font-size="3.6" text-anchor="middle" fill="#555">10<tspan dy="-1" font-size="2.6">5</tspan><tspan dy="1"> </tspan></text>
<text x="205.4" y="837.3" font-size="3.6" text-anchor="middle" fill="#555">10<tspan dy="-1" font-size="2.6">6</tspan><tspan dy="1"> </tspan></text>
<g transform="translate(134.2 756.1)" stroke-width="1.45" filter="url(#blurf)">
<path d="M45 24.5h1M48 25.5h1M36 27.5h1M49 27.5h1M45 29.5h1M39 30.5h1M51 30.5h1M41 31.5h1M48 32.5h1M50 32.5h1M47 34.5h1M52 36.5h1M35 38.5h1M38 38.5h1M48 38.5h1M34 39.5h1M50 39.5h1M40 40.5h1M43 40.5h2M36 41.5h1M39 41.5h2M43 41.5h1M32 42.5h1M35 42.5h1M40 42.5h2M45 42.5h1M47 42.5h1M40 43.5h1M43 43.5h1M42 44.5h1M47 44.5h1M37 45.5h2M40 45.5h1M37 46.5h1M44 46.5h2M37 47.5h1M40 47.5h1M48 50.5h1" stroke="#0a0af0"/>
</g>
<rect x="170.6" y="756.1" width="38.8" height="42.9" fill="none" stroke="#111" stroke-width="1.5" />
<rect x="221" y="756.1" width="75.2" height="75" fill="none" stroke="#8c8c8c" stroke-width="0.6" />
<path d="M221 827.1h-2M221 804.77h-2M221 782.43h-2M221 760.1h-2M225 831.1v2M238.44 831.1v2M251.88 831.1v2M265.32 831.1v2M278.76 831.1v2M292.2 831.1v2M221 829.1h-1M221 822.65h-1M221 816.19h-1M221 809.74h-1M221 803.28h-1M221 796.83h-1M221 790.37h-1M221 783.92h-1M221 777.46h-1M221 771.01h-1M221 764.55h-1M221 758.1h-1M223 831.1v1M227.19 831.1v1M231.38 831.1v1M235.56 831.1v1M239.75 831.1v1M243.94 831.1v1M248.13 831.1v1M252.32 831.1v1M256.51 831.1v1M260.69 831.1v1M264.88 831.1v1M269.07 831.1v1M273.26 831.1v1M277.45 831.1v1M281.64 831.1v1M285.82 831.1v1M290.01 831.1v1M294.2 831.1v1" stroke="#777" stroke-width="0.5"/>
<text x="218.6" y="828.3" font-size="3.6" text-anchor="end" fill="#555">10<tspan dy="-1" font-size="2.6">1</tspan><tspan dy="1"> </tspan></text>
<text x="218.6" y="805.97" font-size="3.6" text-anchor="end" fill="#555">10<tspan dy="-1" font-size="2.6">2</tspan><tspan dy="1"> </tspan></text>
<text x="218.6" y="783.63" font-size="3.6" text-anchor="end" fill="#555">10<tspan dy="-1" font-size="2.6">3</tspan><tspan dy="1"> </tspan></text>
<text x="218.6" y="761.3" font-size="3.6" text-anchor="end" fill="#555">10<tspan dy="-1" font-size="2.6">4</tspan><tspan dy="1"> </tspan></text>
<text x="225" y="837.3" font-size="3.6" text-anchor="middle" fill="#555">10<tspan dy="-1" font-size="2.6">1</tspan><tspan dy="1"> </tspan></text>
<text x="238.44" y="837.3" font-size="3.6" text-anchor="middle" fill="#555">10<tspan dy="-1" font-size="2.6">2</tspan><tspan dy="1"> </tspan></text>
<text x="251.88" y="837.3" font-size="3.6" text-anchor="middle" fill="#555">10<tspan dy="-1" font-size="2.6">3</tspan><tspan dy="1"> </tspan></text>
<text x="265.32" y="837.3" font-size="3.6" text-anchor="middle" fill="#555">10<tspan dy="-1" font-size="2.6">4</tspan><tspan dy="1"> </tspan></text>
<text x="278.76" y="837.3" font-size="3.6" text-anchor="middle" fill="#555">10<tspan dy="-1" font-size="2.6">5</tspan><tspan dy="1"> </tspan></text>
<text x="292.2" y="837.3" font-size="3.6" text-anchor="middle" fill="#555">10<tspan dy="-1" font-size="2.6">6</tspan><tspan dy="1"> </tspan></text>
<g transform="translate(221 756.1)" stroke-width="1.45" filter="url(#blurf)">
<path d="M31 27.5h1M49 28.5h1M30 29.5h1M53 29.5h1M25 30.5h1M27 31.5h1M29 31.5h2M43 31.5h1M49 31.5h1M52 32.5h1M26 33.5h1M28 33.5h1M33 33.5h1M36 33.5h3M25 34.5h1M30 34.5h1M32 34.5h1M34 34.5h1M53 34.5h2M28 35.5h1M30 35.5h1M32 35.5h3M38 35.5h1M44 35.5h1M53 35.5h1M31 36.5h2M34 36.5h1M39 36.5h1M44 36.5h1M62 36.5h1M22 37.5h1M32 37.5h3M36 37.5h2M41 37.5h2M50 37.5h2M53 37.5h1M64 37.5h1M29 38.5h2M33 38.5h1M36 38.5h1M39 38.5h1M48 38.5h2M32 39.5h1M34 39.5h1M40 39.5h1M47 39.5h1M32 40.5h2M37 40.5h2M45 40.5h3M50 40.5h1M31 41.5h1M37 41.5h5M43 41.5h1M55 41.5h2M34 42.5h2M40 42.5h1M42 42.5h1M47 42.5h1M51 42.5h1M37 43.5h1M48 43.5h1M33 44.5h1M35 44.5h6M42 44.5h3M37 45.5h3M43 45.5h1M45 45.5h1M32 46.5h1M38 46.5h1M42 46.5h1M49 46.5h1M35 47.5h2M39 47.5h1M41 47.5h1M36 48.5h1M38 48.5h1M45 48.5h1M47 48.5h1M48 50.5h1" stroke="#0a0af0"/>
</g>
<rect x="257.4" y="756.1" width="38.8" height="42.9" fill="none" stroke="#111" stroke-width="1.5" />
<rect x="307.8" y="756.1" width="75.2" height="75" fill="none" stroke="#8c8c8c" stroke-width="0.6" />
<path d="M307.8 827.1h-2M307.8 804.77h-2M307.8 782.43h-2M307.8 760.1h-2M311.8 831.1v2M325.24 831.1v2M338.68 831.1v2M352.12 831.1v2M365.56 831.1v2M379 831.1v2M307.8 829.1h-1M307.8 822.65h-1M307.8 816.19h-1M307.8 809.74h-1M307.8 803.28h-1M307.8 796.83h-1M307.8 790.37h-1M307.8 783.92h-1M307.8 777.46h-1M307.8 771.01h-1M307.8 764.55h-1M307.8 758.1h-1M309.8 831.1v1M313.99 831.1v1M318.18 831.1v1M322.36 831.1v1M326.55 831.1v1M330.74 831.1v1M334.93 831.1v1M339.12 831.1v1M343.31 831.1v1M347.49 831.1v1M351.68 831.1v1M355.87 831.1v1M360.06 831.1v1M364.25 831.1v1M368.44 831.1v1M372.62 831.1v1M376.81 831.1v1M381 831.1v1" stroke="#777" stroke-width="0.5"/>
<text x="305.4" y="828.3" font-size="3.6" text-anchor="end" fill="#555">10<tspan dy="-1" font-size="2.6">1</tspan><tspan dy="1"> </tspan></text>
<text x="305.4" y="805.97" font-size="3.6" text-anchor="end" fill="#555">10<tspan dy="-1" font-size="2.6">2</tspan><tspan dy="1"> </tspan></text>
<text x="305.4" y="783.63" font-size="3.6" text-anchor="end" fill="#555">10<tspan dy="-1" font-size="2.6">3</tspan><tspan dy="1"> </tspan></text>
<text x="305.4" y="761.3" font-size="3.6" text-anchor="end" fill="#555">10<tspan dy="-1" font-size="2.6">4</tspan><tspan dy="1"> </tspan></text>
<text x="311.8" y="837.3" font-size="3.6" text-anchor="middle" fill="#555">10<tspan dy="-1" font-size="2.6">1</tspan><tspan dy="1"> </tspan></text>
<text x="325.24" y="837.3" font-size="3.6" text-anchor="middle" fill="#555">10<tspan dy="-1" font-size="2.6">2</tspan><tspan dy="1"> </tspan></text>
<text x="338.68" y="837.3" font-size="3.6" text-anchor="middle" fill="#555">10<tspan dy="-1" font-size="2.6">3</tspan><tspan dy="1"> </tspan></text>
<text x="352.12" y="837.3" font-size="3.6" text-anchor="middle" fill="#555">10<tspan dy="-1" font-size="2.6">4</tspan><tspan dy="1"> </tspan></text>
<text x="365.56" y="837.3" font-size="3.6" text-anchor="middle" fill="#555">10<tspan dy="-1" font-size="2.6">5</tspan><tspan dy="1"> </tspan></text>
<text x="379" y="837.3" font-size="3.6" text-anchor="middle" fill="#555">10<tspan dy="-1" font-size="2.6">6</tspan><tspan dy="1"> </tspan></text>
<g transform="translate(307.8 756.1)" stroke-width="1.45" filter="url(#blurf)">
<path d="M43 19.5h1M36 22.5h1M31 24.5h1M44 27.5h1M52 27.5h1M40 28.5h1M33 29.5h1M41 29.5h1M43 29.5h1M45 29.5h1M47 30.5h1M27 31.5h1M30 32.5h1M35 33.5h1M41 34.5h1M45 34.5h2M28 35.5h1M30 40.5h1M40 40.5h1M26 43.5h1M31 43.5h1M42 43.5h1M46 43.5h1M39 44.5h1M42 44.5h2M43 45.5h2M37 46.5h1M42 46.5h1M50 46.5h1M32 47.5h1" stroke="#0a0af0"/>
</g>
<rect x="344.2" y="756.1" width="38.8" height="42.9" fill="none" stroke="#111" stroke-width="1.5" />
<rect x="394.6" y="756.1" width="75.2" height="75" fill="none" stroke="#8c8c8c" stroke-width="0.6" />
<path d="M394.6 827.1h-2M394.6 804.77h-2M394.6 782.43h-2M394.6 760.1h-2M398.6 831.1v2M412.04 831.1v2M425.48 831.1v2M438.92 831.1v2M452.36 831.1v2M465.8 831.1v2M394.6 829.1h-1M394.6 822.65h-1M394.6 816.19h-1M394.6 809.74h-1M394.6 803.28h-1M394.6 796.83h-1M394.6 790.37h-1M394.6 783.92h-1M394.6 777.46h-1M394.6 771.01h-1M394.6 764.55h-1M394.6 758.1h-1M396.6 831.1v1M400.79 831.1v1M404.98 831.1v1M409.16 831.1v1M413.35 831.1v1M417.54 831.1v1M421.73 831.1v1M425.92 831.1v1M430.11 831.1v1M434.29 831.1v1M438.48 831.1v1M442.67 831.1v1M446.86 831.1v1M451.05 831.1v1M455.24 831.1v1M459.42 831.1v1M463.61 831.1v1M467.8 831.1v1" stroke="#777" stroke-width="0.5"/>
<text x="392.2" y="828.3" font-size="3.6" text-anchor="end" fill="#555">10<tspan dy="-1" font-size="2.6">1</tspan><tspan dy="1"> </tspan></text>
<text x="392.2" y="805.97" font-size="3.6" text-anchor="end" fill="#555">10<tspan dy="-1" font-size="2.6">2</tspan><tspan dy="1"> </tspan></text>
<text x="392.2" y="783.63" font-size="3.6" text-anchor="end" fill="#555">10<tspan dy="-1" font-size="2.6">3</tspan><tspan dy="1"> </tspan></text>
<text x="392.2" y="761.3" font-size="3.6" text-anchor="end" fill="#555">10<tspan dy="-1" font-size="2.6">4</tspan><tspan dy="1"> </tspan></text>
<text x="398.6" y="837.3" font-size="3.6" text-anchor="middle" fill="#555">10<tspan dy="-1" font-size="2.6">1</tspan><tspan dy="1"> </tspan></text>
<text x="412.04" y="837.3" font-size="3.6" text-anchor="middle" fill="#555">10<tspan dy="-1" font-size="2.6">2</tspan><tspan dy="1"> </tspan></text>
<text x="425.48" y="837.3" font-size="3.6" text-anchor="middle" fill="#555">10<tspan dy="-1" font-size="2.6">3</tspan><tspan dy="1"> </tspan></text>
<text x="438.92" y="837.3" font-size="3.6" text-anchor="middle" fill="#555">10<tspan dy="-1" font-size="2.6">4</tspan><tspan dy="1"> </tspan></text>
<text x="452.36" y="837.3" font-size="3.6" text-anchor="middle" fill="#555">10<tspan dy="-1" font-size="2.6">5</tspan><tspan dy="1"> </tspan></text>
<text x="465.8" y="837.3" font-size="3.6" text-anchor="middle" fill="#555">10<tspan dy="-1" font-size="2.6">6</tspan><tspan dy="1"> </tspan></text>
<g transform="translate(394.6 756.1)" stroke-width="1.45" filter="url(#blurf)">
<path d="M4 0.5h1M14 4.5h2M4 5.5h1M22 5.5h1M7 6.5h1M9 6.5h1M12 7.5h1M17 7.5h2M10 8.5h1M6 9.5h1M10 9.5h1M15 9.5h1M10 10.5h1M14 10.5h2M14 11.5h3M20 11.5h1M9 12.5h1M12 12.5h2M15 12.5h2M18 12.5h1M20 12.5h1M22 12.5h1M26 12.5h1M12 13.5h1M14 13.5h8M7 14.5h1M13 14.5h2M18 14.5h1M14 15.5h2M19 15.5h3M23 15.5h2M12 16.5h1M14 16.5h1M17 16.5h1M19 16.5h2M24 16.5h1M13 17.5h3M17 17.5h1M20 17.5h1M22 17.5h1M24 17.5h1M13 18.5h1M15 18.5h1M17 18.5h4M22 18.5h1M24 18.5h1M26 18.5h2M29 18.5h1M16 19.5h4M21 19.5h3M26 19.5h2M10 20.5h1M12 20.5h2M15 20.5h2M18 20.5h1M20 20.5h7M11 21.5h1M14 21.5h4M19 21.5h2M23 21.5h3M27 21.5h1M29 21.5h1M14 22.5h14M30 22.5h1M14 23.5h2M17 23.5h1M20 23.5h3M24 23.5h1M17 24.5h4M22 24.5h4M27 24.5h1M53 24.5h1M55 24.5h1M16 25.5h5M23 25.5h2M26 25.5h1M13 26.5h1M19 26.5h1M21 26.5h2M25 26.5h1M27 26.5h3M44 26.5h1M50 26.5h1M15 27.5h1M17 27.5h1M20 27.5h3M25 27.5h1M30 27.5h1M45 27.5h1M47 27.5h3M51 27.5h2M54 27.5h2M19 28.5h9M29 28.5h2M50 28.5h3M16 29.5h1M18 29.5h1M24 29.5h1M26 29.5h1M29 29.5h1M32 29.5h1M50 29.5h2M54 29.5h1M20 30.5h1M22 30.5h3M26 30.5h3M30 30.5h1M32 30.5h1M45 30.5h3M15 31.5h1M19 31.5h1M22 31.5h2M25 31.5h7M38 31.5h1M44 31.5h9M54 31.5h1M56 31.5h1M18 32.5h1M20 32.5h1M22 32.5h3M26 32.5h5M32 32.5h3M44 32.5h4M49 32.5h1M52 32.5h1M21 33.5h2M24 33.5h1M26 33.5h3M30 33.5h1M34 33.5h1M43 33.5h7M51 33.5h1M17 34.5h1M21 34.5h1M23 34.5h2M26 34.5h5M32 34.5h2M35 34.5h1M39 34.5h3M43 34.5h6M20 35.5h1M25 35.5h2M28 35.5h8M41 35.5h4M46 35.5h3M17 36.5h2M23 36.5h2M26 36.5h6M33 36.5h3M37 36.5h1M39 36.5h8M48 36.5h1M25 37.5h1M27 37.5h8M36 37.5h1M38 37.5h1M41 37.5h1M43 37.5h1M45 37.5h2M23 38.5h1M25 38.5h2M28 38.5h3M33 38.5h3M37 38.5h1M39 38.5h1M42 38.5h4M47 38.5h1M24 39.5h1M26 39.5h4M31 39.5h1M33 39.5h3M37 39.5h4M42 39.5h6M24 40.5h9M34 40.5h1M40 40.5h1M42 40.5h1M44 40.5h2M29 41.5h2M33 41.5h1M39 41.5h3M43 41.5h1M27 42.5h2M31 42.5h2M35 42.5h1M40 42.5h1M26 43.5h2M30 43.5h2M36 43.5h1M38 43.5h2M43 43.5h2M30 44.5h5M25 45.5h1M27 45.5h1M34 45.5h1M30 46.5h1M36 46.5h2M31 47.5h1M29 48.5h1M25 49.5h1M31 49.5h1M31 50.5h1M36 50.5h1M35 51.5h1M33 52.5h1M34 57.5h1M53 74.5h3" stroke="#0a0af0"/>
</g>
<rect x="431" y="756.1" width="38.8" height="42.9" fill="none" stroke="#111" stroke-width="1.5" />
<path d="M418.71 784.25h1.3v1.3h-1.3zM418.57 777.59h1.3v1.3h-1.3zM417.08 787.01h1.3v1.3h-1.3zM415.23 786.07h1.3v1.3h-1.3zM417.23 787.77h1.3v1.3h-1.3zM418.95 782.14h1.3v1.3h-1.3zM417.75 780.37h1.3v1.3h-1.3zM415.11 782.73h1.3v1.3h-1.3zM413.76 784.6h1.3v1.3h-1.3zM423.59 778.35h1.3v1.3h-1.3zM414.74 787.44h1.3v1.3h-1.3zM415.26 781.57h1.3v1.3h-1.3zM416.3 784.57h1.3v1.3h-1.3zM408.27 789.48h1.3v1.3h-1.3z" fill="#ff5020"/>
<rect x="481.4" y="756.1" width="75.2" height="75" fill="none" stroke="#8c8c8c" stroke-width="0.6" />
<path d="M481.4 827.1h-2M481.4 804.77h-2M481.4 782.43h-2M481.4 760.1h-2M485.4 831.1v2M498.84 831.1v2M512.28 831.1v2M525.72 831.1v2M539.16 831.1v2M552.6 831.1v2M481.4 829.1h-1M481.4 822.65h-1M481.4 816.19h-1M481.4 809.74h-1M481.4 803.28h-1M481.4 796.83h-1M481.4 790.37h-1M481.4 783.92h-1M481.4 777.46h-1M481.4 771.01h-1M481.4 764.55h-1M481.4 758.1h-1M483.4 831.1v1M487.59 831.1v1M491.78 831.1v1M495.96 831.1v1M500.15 831.1v1M504.34 831.1v1M508.53 831.1v1M512.72 831.1v1M516.91 831.1v1M521.09 831.1v1M525.28 831.1v1M529.47 831.1v1M533.66 831.1v1M537.85 831.1v1M542.04 831.1v1M546.22 831.1v1M550.41 831.1v1M554.6 831.1v1" stroke="#777" stroke-width="0.5"/>
<text x="479" y="828.3" font-size="3.6" text-anchor="end" fill="#555">10<tspan dy="-1" font-size="2.6">1</tspan><tspan dy="1"> </tspan></text>
<text x="479" y="805.97" font-size="3.6" text-anchor="end" fill="#555">10<tspan dy="-1" font-size="2.6">2</tspan><tspan dy="1"> </tspan></text>
<text x="479" y="783.63" font-size="3.6" text-anchor="end" fill="#555">10<tspan dy="-1" font-size="2.6">3</tspan><tspan dy="1"> </tspan></text>
<text x="479" y="761.3" font-size="3.6" text-anchor="end" fill="#555">10<tspan dy="-1" font-size="2.6">4</tspan><tspan dy="1"> </tspan></text>
<text x="485.4" y="837.3" font-size="3.6" text-anchor="middle" fill="#555">10<tspan dy="-1" font-size="2.6">1</tspan><tspan dy="1"> </tspan></text>
<text x="498.84" y="837.3" font-size="3.6" text-anchor="middle" fill="#555">10<tspan dy="-1" font-size="2.6">2</tspan><tspan dy="1"> </tspan></text>
<text x="512.28" y="837.3" font-size="3.6" text-anchor="middle" fill="#555">10<tspan dy="-1" font-size="2.6">3</tspan><tspan dy="1"> </tspan></text>
<text x="525.72" y="837.3" font-size="3.6" text-anchor="middle" fill="#555">10<tspan dy="-1" font-size="2.6">4</tspan><tspan dy="1"> </tspan></text>
<text x="539.16" y="837.3" font-size="3.6" text-anchor="middle" fill="#555">10<tspan dy="-1" font-size="2.6">5</tspan><tspan dy="1"> </tspan></text>
<text x="552.6" y="837.3" font-size="3.6" text-anchor="middle" fill="#555">10<tspan dy="-1" font-size="2.6">6</tspan><tspan dy="1"> </tspan></text>
<g transform="translate(481.4 756.1)" stroke-width="1.45" filter="url(#blurf)">
<path d="M22 1.5h1M6 5.5h1M8 6.5h1M10 6.5h1M13 6.5h1M16 6.5h1M9 7.5h1M22 7.5h1M3 8.5h1M6 8.5h2M12 8.5h1M18 8.5h1M20 8.5h1M6 9.5h1M10 9.5h1M12 9.5h1M16 9.5h1M22 9.5h2M51 9.5h1M3 10.5h1M5 10.5h1M8 10.5h2M12 10.5h1M14 10.5h1M16 10.5h3M4 11.5h1M7 11.5h1M9 11.5h1M11 11.5h1M13 11.5h1M17 11.5h1M20 11.5h1M22 11.5h2M5 12.5h1M14 12.5h1M16 12.5h1M19 12.5h1M24 12.5h2M30 12.5h1M5 13.5h1M12 13.5h3M16 13.5h2M19 13.5h2M26 13.5h1M50 13.5h1M6 14.5h1M8 14.5h1M10 14.5h5M16 14.5h1M19 14.5h6M26 14.5h1M2 15.5h1M4 15.5h1M6 15.5h4M11 15.5h7M19 15.5h4M25 15.5h2M53 15.5h1M3 16.5h1M6 16.5h5M12 16.5h8M21 16.5h1M23 16.5h1M27 16.5h2M32 16.5h2M5 17.5h1M7 17.5h1M10 17.5h1M14 17.5h2M17 17.5h7M26 17.5h3M31 17.5h1M10 18.5h2M14 18.5h9M27 18.5h1M42 18.5h1M45 18.5h1M3 19.5h1M7 19.5h1M10 19.5h4M15 19.5h1M18 19.5h8M27 19.5h2M4 20.5h1M8 20.5h1M11 20.5h4M16 20.5h2M19 20.5h2M22 20.5h3M26 20.5h2M32 20.5h1M35 20.5h1M46 20.5h1M8 21.5h1M14 21.5h3M18 21.5h2M21 21.5h2M24 21.5h1M26 21.5h1M28 21.5h1M10 22.5h1M14 22.5h4M19 22.5h4M24 22.5h1M26 22.5h1M33 22.5h2M46 22.5h1M5 23.5h1M10 23.5h1M13 23.5h3M18 23.5h1M21 23.5h6M33 23.5h2M52 23.5h1M2 24.5h1M11 24.5h2M14 24.5h1M17 24.5h1M19 24.5h1M3 25.5h1M7 25.5h1M12 25.5h1M15 25.5h1M18 25.5h1M21 25.5h2M27 25.5h1M30 25.5h1M32 25.5h1M45 25.5h2M49 25.5h1M51 25.5h1M6 26.5h1M16 26.5h4M21 26.5h1M23 26.5h1M25 26.5h1M39 26.5h1M50 26.5h2M11 27.5h1M17 27.5h4M23 27.5h1M25 27.5h1M27 27.5h2M30 27.5h1M43 27.5h1M45 27.5h1M11 28.5h1M13 28.5h1M25 28.5h1M30 28.5h1M40 28.5h1M44 28.5h1M50 28.5h1M8 29.5h1M13 29.5h2M16 29.5h1M18 29.5h1M24 29.5h1M28 29.5h1M44 29.5h1M51 29.5h1M55 29.5h1M25 30.5h1M43 30.5h1M46 30.5h1M49 30.5h1M22 31.5h1M28 31.5h2M41 31.5h1M46 31.5h1M19 32.5h2M35 32.5h1M41 32.5h2M53 32.5h1M12 33.5h1M15 33.5h1M26 33.5h1M36 33.5h1M43 33.5h1M46 33.5h1M50 33.5h1M17 34.5h1M24 34.5h1M42 34.5h1M44 34.5h1M49 34.5h1M54 34.5h1M14 35.5h1M24 35.5h1M27 35.5h1M51 35.5h1M38 36.5h1M42 36.5h1M45 36.5h1M57 36.5h1M40 37.5h1M44 37.5h1M49 37.5h2M52 37.5h1M35 38.5h1M40 38.5h1M44 38.5h1M52 38.5h1M40 39.5h2M53 39.5h1M37 40.5h1M39 40.5h3M44 40.5h2M47 40.5h2M37 41.5h5M43 41.5h1M51 41.5h1M37 42.5h1M39 42.5h4M50 42.5h1M31 43.5h2M41 43.5h4M47 43.5h1M54 43.5h1M35 44.5h1M37 44.5h1M39 44.5h1M45 44.5h1M47 44.5h1M55 44.5h1M28 45.5h1M31 45.5h1M34 45.5h1M37 45.5h5M44 45.5h1M50 45.5h1M31 46.5h1M34 46.5h1M36 46.5h1M38 46.5h2M41 46.5h3M50 46.5h1M52 46.5h1M33 47.5h5M39 47.5h3M43 47.5h1M49 47.5h1M32 48.5h1M37 48.5h6M45 48.5h2M32 49.5h1M34 49.5h1M36 49.5h3M40 49.5h2M43 49.5h1M45 49.5h1M33 50.5h1M35 50.5h1M37 50.5h1M39 50.5h3M43 50.5h1M30 51.5h1M33 51.5h1M35 51.5h2M38 51.5h1M41 51.5h3M45 51.5h2M43 52.5h1M32 53.5h1M36 53.5h7M45 53.5h1M34 54.5h1M36 54.5h2M43 54.5h1M25 55.5h1M37 55.5h2M40 55.5h1M43 55.5h1M32 56.5h1M39 56.5h3M29 57.5h1M36 57.5h1M38 57.5h1M36 58.5h1M41 58.5h1M41 59.5h1M53 74.5h2M56 74.5h4M62 74.5h1" stroke="#0a0af0"/>
</g>
<rect x="517.8" y="756.1" width="38.8" height="42.9" fill="none" stroke="#111" stroke-width="1.5" />
<path d="M499.99 779.82h1.3v1.3h-1.3zM496.74 772.7h1.3v1.3h-1.3zM500.81 781.23h1.3v1.3h-1.3zM496.98 773.39h1.3v1.3h-1.3zM494.19 772.59h1.3v1.3h-1.3zM496.71 768h1.3v1.3h-1.3z" fill="#ff5020"/>
<rect x="568.2" y="756.1" width="75.2" height="75" fill="none" stroke="#8c8c8c" stroke-width="0.6" />
<path d="M568.2 827.1h-2M568.2 804.77h-2M568.2 782.43h-2M568.2 760.1h-2M572.2 831.1v2M585.64 831.1v2M599.08 831.1v2M612.52 831.1v2M625.96 831.1v2M639.4 831.1v2M568.2 829.1h-1M568.2 822.65h-1M568.2 816.19h-1M568.2 809.74h-1M568.2 803.28h-1M568.2 796.83h-1M568.2 790.37h-1M568.2 783.92h-1M568.2 777.46h-1M568.2 771.01h-1M568.2 764.55h-1M568.2 758.1h-1M570.2 831.1v1M574.39 831.1v1M578.58 831.1v1M582.76 831.1v1M586.95 831.1v1M591.14 831.1v1M595.33 831.1v1M599.52 831.1v1M603.71 831.1v1M607.89 831.1v1M612.08 831.1v1M616.27 831.1v1M620.46 831.1v1M624.65 831.1v1M628.84 831.1v1M633.02 831.1v1M637.21 831.1v1M641.4 831.1v1" stroke="#777" stroke-width="0.5"/>
<text x="565.8" y="828.3" font-size="3.6" text-anchor="end" fill="#555">10<tspan dy="-1" font-size="2.6">1</tspan><tspan dy="1"> </tspan></text>
<text x="565.8" y="805.97" font-size="3.6" text-anchor="end" fill="#555">10<tspan dy="-1" font-size="2.6">2</tspan><tspan dy="1"> </tspan></text>
<text x="565.8" y="783.63" font-size="3.6" text-anchor="end" fill="#555">10<tspan dy="-1" font-size="2.6">3</tspan><tspan dy="1"> </tspan></text>
<text x="565.8" y="761.3" font-size="3.6" text-anchor="end" fill="#555">10<tspan dy="-1" font-size="2.6">4</tspan><tspan dy="1"> </tspan></text>
<text x="572.2" y="837.3" font-size="3.6" text-anchor="middle" fill="#555">10<tspan dy="-1" font-size="2.6">1</tspan><tspan dy="1"> </tspan></text>
<text x="585.64" y="837.3" font-size="3.6" text-anchor="middle" fill="#555">10<tspan dy="-1" font-size="2.6">2</tspan><tspan dy="1"> </tspan></text>
<text x="599.08" y="837.3" font-size="3.6" text-anchor="middle" fill="#555">10<tspan dy="-1" font-size="2.6">3</tspan><tspan dy="1"> </tspan></text>
<text x="612.52" y="837.3" font-size="3.6" text-anchor="middle" fill="#555">10<tspan dy="-1" font-size="2.6">4</tspan><tspan dy="1"> </tspan></text>
<text x="625.96" y="837.3" font-size="3.6" text-anchor="middle" fill="#555">10<tspan dy="-1" font-size="2.6">5</tspan><tspan dy="1"> </tspan></text>
<text x="639.4" y="837.3" font-size="3.6" text-anchor="middle" fill="#555">10<tspan dy="-1" font-size="2.6">6</tspan><tspan dy="1"> </tspan></text>
<g transform="translate(568.2 756.1)" stroke-width="1.45" filter="url(#blurf)">
<path d="M17 0.5h1M23 0.5h1M28 1.5h1M26 2.5h1M35 2.5h1M37 2.5h1M21 3.5h1M23 4.5h1M32 4.5h1M36 4.5h1M23 5.5h1M26 5.5h1M29 5.5h2M34 5.5h1M22 6.5h1M25 6.5h1M29 6.5h2M32 6.5h1M34 6.5h1M37 6.5h1M17 7.5h1M23 7.5h1M21 8.5h1M31 8.5h1M10 9.5h1M22 9.5h2M30 9.5h1M32 9.5h1M40 9.5h1M40 10.5h1M18 11.5h1M23 11.5h3M30 11.5h1M24 12.5h2M27 12.5h1M29 12.5h1M23 13.5h1M29 13.5h1M31 13.5h1M34 13.5h1M64 13.5h1M23 14.5h2M27 14.5h2M31 14.5h2M35 14.5h1M37 14.5h1M45 14.5h1M15 15.5h1M22 15.5h1M26 15.5h1M30 15.5h1M32 15.5h3M66 15.5h1M21 16.5h1M23 16.5h1M25 16.5h1M27 16.5h1M29 16.5h3M33 16.5h1M37 16.5h2M43 16.5h1M9 17.5h1M24 17.5h1M31 17.5h1M35 17.5h1M65 17.5h2M69 17.5h1M18 18.5h1M22 18.5h1M26 18.5h1M29 18.5h1M34 18.5h2M63 18.5h2M66 18.5h1M18 19.5h1M21 19.5h1M25 19.5h1M27 19.5h4M46 19.5h1M50 19.5h1M63 19.5h1M65 19.5h2M68 19.5h1M14 20.5h1M18 20.5h1M22 20.5h1M24 20.5h2M27 20.5h1M29 20.5h2M32 20.5h1M37 20.5h1M41 20.5h1M46 20.5h1M62 20.5h5M68 20.5h1M23 21.5h1M25 21.5h2M31 21.5h2M34 21.5h1M41 21.5h1M48 21.5h1M53 21.5h1M61 21.5h2M67 21.5h1M21 22.5h1M25 22.5h1M27 22.5h2M30 22.5h1M33 22.5h1M38 22.5h1M40 22.5h1M47 22.5h1M60 22.5h1M62 22.5h2M66 22.5h2M19 23.5h2M26 23.5h1M29 23.5h4M35 23.5h1M37 23.5h1M40 23.5h1M53 23.5h1M60 23.5h1M62 23.5h6M17 24.5h1M19 24.5h2M23 24.5h2M26 24.5h1M40 24.5h1M49 24.5h1M57 24.5h1M63 24.5h3M67 24.5h2M10 25.5h1M19 25.5h2M22 25.5h1M26 25.5h2M30 25.5h2M34 25.5h2M38 25.5h2M55 25.5h1M60 25.5h1M62 25.5h1M64 25.5h2M67 25.5h2M70 25.5h1M16 26.5h1M18 26.5h1M20 26.5h1M23 26.5h2M26 26.5h1M29 26.5h4M36 26.5h1M38 26.5h1M46 26.5h1M50 26.5h1M61 26.5h2M64 26.5h1M67 26.5h1M69 26.5h1M20 27.5h8M29 27.5h4M37 27.5h4M42 27.5h1M46 27.5h1M50 27.5h1M62 27.5h2M65 27.5h1M67 27.5h2M21 28.5h2M28 28.5h1M32 28.5h1M34 28.5h1M48 28.5h1M61 28.5h2M67 28.5h1M19 29.5h1M24 29.5h2M27 29.5h2M32 29.5h2M38 29.5h1M66 29.5h1M68 29.5h1M20 30.5h2M23 30.5h4M29 30.5h2M32 30.5h1M34 30.5h1M40 30.5h1M42 30.5h1M44 30.5h1M51 30.5h1M57 30.5h1M64 30.5h1M28 31.5h1M31 31.5h1M33 31.5h1M37 31.5h1M40 31.5h1M58 31.5h1M62 31.5h2M66 31.5h1M68 31.5h1M20 32.5h2M23 32.5h4M28 32.5h3M33 32.5h1M41 32.5h1M49 32.5h1M13 33.5h1M22 33.5h1M24 33.5h1M28 33.5h1M30 33.5h3M35 33.5h1M41 33.5h1M50 33.5h1M62 33.5h1M68 33.5h1M10 34.5h1M13 34.5h1M20 34.5h1M22 34.5h2M25 34.5h2M28 34.5h4M33 34.5h1M37 34.5h1M39 34.5h1M64 34.5h1M66 34.5h1M68 34.5h1M70 34.5h1M16 35.5h1M20 35.5h1M23 35.5h2M26 35.5h4M32 35.5h2M36 35.5h1M39 35.5h1M41 35.5h1M16 36.5h1M22 36.5h2M25 36.5h2M28 36.5h3M32 36.5h1M36 36.5h1M65 36.5h1M20 37.5h1M22 37.5h1M27 37.5h1M30 37.5h2M33 37.5h1M45 37.5h1M14 38.5h1M19 38.5h1M21 38.5h3M27 38.5h2M30 38.5h2M33 38.5h1M42 38.5h1M45 38.5h1M54 38.5h1M16 39.5h1M21 39.5h1M23 39.5h1M25 39.5h1M27 39.5h5M35 39.5h1M37 39.5h1M18 40.5h1M20 40.5h1M24 40.5h1M29 40.5h2M35 40.5h1M61 40.5h1M22 41.5h1M25 41.5h6M34 41.5h1M18 42.5h1M21 42.5h2M24 42.5h5M30 42.5h2M39 42.5h1M16 43.5h1M22 43.5h1M24 43.5h3M30 43.5h1M32 43.5h2M18 44.5h1M20 44.5h1M23 44.5h1M25 44.5h2M28 44.5h3M19 45.5h1M25 45.5h1M33 45.5h1M27 46.5h2M20 47.5h3M27 47.5h2M32 47.5h1M34 47.5h1M37 47.5h1M16 48.5h1M20 48.5h3M24 48.5h2M31 48.5h1M40 48.5h1M21 49.5h2M27 49.5h1M29 49.5h1M33 49.5h2M21 50.5h1M23 50.5h1M31 50.5h1M21 51.5h1M24 51.5h1M26 51.5h1M21 52.5h1M27 52.5h1M21 53.5h1M25 53.5h1M19 54.5h1M23 54.5h1M24 55.5h1M30 55.5h1M24 56.5h1M26 56.5h1M29 58.5h1M18 59.5h1M28 59.5h1" stroke="#0a0af0"/>
</g>
<rect x="604.6" y="756.1" width="38.8" height="42.9" fill="none" stroke="#111" stroke-width="1.5" />
<path d="M591.89 783.18h1.3v1.3h-1.3zM597.08 787.41h1.3v1.3h-1.3zM596.43 787.3h1.3v1.3h-1.3zM591.95 785.23h1.3v1.3h-1.3zM595.35 780.04h1.3v1.3h-1.3zM596.16 780.62h1.3v1.3h-1.3z" fill="#ff5020"/>
<text transform="translate(37 792.5) rotate(-90)" font-size="13.3" text-anchor="middle">CD45</text>
<text x="58.4" y="849.5" font-size="13.3">c-Kit</text>
<line x1="94.9" y1="844.5" x2="633.5" y2="844.5" stroke="#000" stroke-width="1.3" />
<path d="M639 844.5L633 841.5L633 847.5Z" fill="#000"/>
<text x="0.5" y="868.5" font-size="24" font-weight="bold">j</text>
<line x1="81" y1="865.5" x2="81" y2="970.8" stroke="#666" stroke-width="1.1" stroke-linecap="square"/>
<line x1="76.4" y1="970.8" x2="81" y2="970.8" stroke="#666" stroke-width="1.1" />
<text x="74.9" y="973.43" font-size="8.5" text-anchor="end" fill="#000">0</text>
<line x1="76.4" y1="935.7" x2="81" y2="935.7" stroke="#666" stroke-width="1.1" />
<text x="74.9" y="938.33" font-size="8.5" text-anchor="end" fill="#000">5000</text>
<line x1="76.4" y1="900.6" x2="81" y2="900.6" stroke="#666" stroke-width="1.1" />
<text x="74.9" y="903.24" font-size="8.5" text-anchor="end" fill="#000">10000</text>
<line x1="76.4" y1="865.5" x2="81" y2="865.5" stroke="#666" stroke-width="1.1" />
<text x="74.9" y="868.13" font-size="8.5" text-anchor="end" fill="#000">15000</text>
<line x1="81" y1="970.8" x2="282.5" y2="970.8" stroke="#000" stroke-width="1.3" stroke-linecap="square"/>
<line x1="101.2" y1="970.8" x2="101.2" y2="975.1" stroke="#000" stroke-width="1.3" />
<line x1="133.2" y1="970.8" x2="133.2" y2="975.1" stroke="#000" stroke-width="1.3" />
<line x1="165.4" y1="970.8" x2="165.4" y2="975.1" stroke="#000" stroke-width="1.3" />
<line x1="197.8" y1="970.8" x2="197.8" y2="975.1" stroke="#000" stroke-width="1.3" />
<line x1="230.3" y1="970.8" x2="230.3" y2="975.1" stroke="#000" stroke-width="1.3" />
<line x1="262.6" y1="970.8" x2="262.6" y2="975.1" stroke="#000" stroke-width="1.3" />
<text x="101.2" y="984.2" font-size="9" text-anchor="middle">8.5</text>
<text x="133.2" y="984.2" font-size="9" text-anchor="middle">9.5</text>
<text x="165.4" y="984.2" font-size="9" text-anchor="middle">10.5</text>
<text x="197.8" y="984.2" font-size="9" text-anchor="middle">11.5</text>
<text x="230.3" y="984.2" font-size="9" text-anchor="middle">12.5</text>
<text x="262.6" y="984.2" font-size="9" text-anchor="middle">15.5</text>
<line x1="80" y1="987.8" x2="282" y2="987.8" stroke="#000" stroke-width="1.1" stroke-dasharray="3 1.9"/>
<text x="188" y="998" font-size="10" text-anchor="middle">Embryonic (E) days</text>
<path d="M88.6 970.8V921.31H101.2V970.8" fill="none" stroke="#000" stroke-width="1.6"/>
<line x1="94.9" y1="928.68" x2="94.9" y2="914.64" stroke="#000" stroke-width="0.9" />
<line x1="92.4" y1="914.64" x2="97.4" y2="914.64" stroke="#000" stroke-width="0.9" />
<line x1="92.4" y1="928.68" x2="97.4" y2="928.68" stroke="#000" stroke-width="0.9" />
<rect x="89.7" y="906.82" width="4.4" height="4.4" fill="#000" />
<rect x="92.7" y="919.46" width="4.4" height="4.4" fill="#000" />
<rect x="95.7" y="929.99" width="4.4" height="4.4" fill="#000" />
<path d="M101.2 970.8V967.64H113.8V970.8" fill="none" stroke="#1010ff" stroke-width="1.6"/>
<rect x="101.3" y="964.39" width="4.4" height="4.4" fill="#1010ff" />
<rect x="105.3" y="966.49" width="4.4" height="4.4" fill="#1010ff" />
<rect x="109.3" y="965.44" width="4.4" height="4.4" fill="#1010ff" />
<path d="M120.6 970.8V926.57H133.2V970.8" fill="none" stroke="#000" stroke-width="1.6"/>
<line x1="126.9" y1="947.63" x2="126.9" y2="904.81" stroke="#000" stroke-width="0.9" />
<line x1="124.4" y1="904.81" x2="129.4" y2="904.81" stroke="#000" stroke-width="0.9" />
<line x1="124.4" y1="947.63" x2="129.4" y2="947.63" stroke="#000" stroke-width="0.9" />
<rect x="121.7" y="898.4" width="4.4" height="4.4" fill="#000" />
<rect x="123.2" y="905.42" width="4.4" height="4.4" fill="#000" />
<rect x="124.7" y="925.08" width="4.4" height="4.4" fill="#000" />
<rect x="126.2" y="933.5" width="4.4" height="4.4" fill="#000" />
<rect x="127.7" y="953.16" width="4.4" height="4.4" fill="#000" />
<path d="M133.2 970.8V966.59H145.8V970.8" fill="none" stroke="#1010ff" stroke-width="1.6"/>
<rect x="133.3" y="960.18" width="4.4" height="4.4" fill="#1010ff" />
<rect x="135.3" y="965.79" width="4.4" height="4.4" fill="#1010ff" />
<rect x="137.3" y="962.28" width="4.4" height="4.4" fill="#1010ff" />
<rect x="139.3" y="965.09" width="4.4" height="4.4" fill="#1010ff" />
<rect x="141.3" y="967.2" width="4.4" height="4.4" fill="#1010ff" />
<path d="M152.8 970.8V947.14H165.4V970.8" fill="none" stroke="#000" stroke-width="1.6"/>
<line x1="159.1" y1="955.36" x2="159.1" y2="938.51" stroke="#000" stroke-width="0.9" />
<line x1="156.6" y1="938.51" x2="161.6" y2="938.51" stroke="#000" stroke-width="0.9" />
<line x1="156.6" y1="955.36" x2="161.6" y2="955.36" stroke="#000" stroke-width="0.9" />
<rect x="153.9" y="934.9" width="4.4" height="4.4" fill="#000" />
<rect x="156.9" y="951.05" width="4.4" height="4.4" fill="#000" />
<rect x="159.9" y="949.65" width="4.4" height="4.4" fill="#000" />
<path d="M165.4 970.8V939.21H178V970.8" fill="none" stroke="#1fbf1f" stroke-width="1.6"/>
<line x1="171.7" y1="947.63" x2="171.7" y2="930.79" stroke="#1fbf1f" stroke-width="0.9" />
<line x1="169.2" y1="930.79" x2="174.2" y2="930.79" stroke="#1fbf1f" stroke-width="0.9" />
<line x1="169.2" y1="947.63" x2="174.2" y2="947.63" stroke="#1fbf1f" stroke-width="0.9" />
<rect x="166.5" y="926.48" width="4.4" height="4.4" fill="#1fbf1f" />
<rect x="169.5" y="942.63" width="4.4" height="4.4" fill="#1fbf1f" />
<rect x="172.5" y="939.12" width="4.4" height="4.4" fill="#1fbf1f" />
<path d="M185.2 970.8V953.6H197.8V970.8" fill="none" stroke="#000" stroke-width="1.6"/>
<line x1="191.5" y1="956.06" x2="191.5" y2="950.44" stroke="#000" stroke-width="0.9" />
<line x1="189" y1="950.44" x2="194" y2="950.44" stroke="#000" stroke-width="0.9" />
<line x1="189" y1="956.06" x2="194" y2="956.06" stroke="#000" stroke-width="0.9" />
<rect x="186.3" y="947.54" width="4.4" height="4.4" fill="#000" />
<rect x="189.3" y="953.16" width="4.4" height="4.4" fill="#000" />
<rect x="192.3" y="950.35" width="4.4" height="4.4" fill="#000" />
<path d="M197.8 970.8V946.23H210.4V970.8" fill="none" stroke="#1fbf1f" stroke-width="1.6"/>
<line x1="204.1" y1="948.34" x2="204.1" y2="944.12" stroke="#1fbf1f" stroke-width="0.9" />
<line x1="201.6" y1="944.12" x2="206.6" y2="944.12" stroke="#1fbf1f" stroke-width="0.9" />
<line x1="201.6" y1="948.34" x2="206.6" y2="948.34" stroke="#1fbf1f" stroke-width="0.9" />
<rect x="198.9" y="942.63" width="4.4" height="4.4" fill="#1fbf1f" />
<rect x="201.9" y="946.14" width="4.4" height="4.4" fill="#1fbf1f" />
<rect x="204.9" y="944.03" width="4.4" height="4.4" fill="#1fbf1f" />
<path d="M217.7 970.8V961.67H230.3V970.8" fill="none" stroke="#000" stroke-width="1.6"/>
<line x1="224" y1="965.89" x2="224" y2="957.46" stroke="#000" stroke-width="0.9" />
<line x1="221.5" y1="957.46" x2="226.5" y2="957.46" stroke="#000" stroke-width="0.9" />
<line x1="221.5" y1="965.89" x2="226.5" y2="965.89" stroke="#000" stroke-width="0.9" />
<rect x="218.8" y="953.16" width="4.4" height="4.4" fill="#000" />
<rect x="221.8" y="960.18" width="4.4" height="4.4" fill="#000" />
<rect x="224.8" y="962.98" width="4.4" height="4.4" fill="#000" />
<path d="M230.3 970.8V938.16H242.9V970.8" fill="none" stroke="#1fbf1f" stroke-width="1.6"/>
<line x1="236.6" y1="942.02" x2="236.6" y2="934.3" stroke="#1fbf1f" stroke-width="0.9" />
<line x1="234.1" y1="934.3" x2="239.1" y2="934.3" stroke="#1fbf1f" stroke-width="0.9" />
<line x1="234.1" y1="942.02" x2="239.1" y2="942.02" stroke="#1fbf1f" stroke-width="0.9" />
<rect x="231.4" y="932.8" width="4.4" height="4.4" fill="#1fbf1f" />
<rect x="234.4" y="934.9" width="4.4" height="4.4" fill="#1fbf1f" />
<rect x="237.4" y="940.52" width="4.4" height="4.4" fill="#1fbf1f" />
<path d="M250 970.8V969.04H262.6V970.8" fill="none" stroke="#000" stroke-width="1.6"/>
<line x1="256.3" y1="969.75" x2="256.3" y2="968.34" stroke="#000" stroke-width="0.9" />
<line x1="253.8" y1="968.34" x2="258.8" y2="968.34" stroke="#000" stroke-width="0.9" />
<line x1="253.8" y1="969.75" x2="258.8" y2="969.75" stroke="#000" stroke-width="0.9" />
<rect x="251.1" y="966.49" width="4.4" height="4.4" fill="#000" />
<rect x="254.1" y="966.84" width="4.4" height="4.4" fill="#000" />
<rect x="257.1" y="967.2" width="4.4" height="4.4" fill="#000" />
<path d="M262.6 970.8V944.12H275.2V970.8" fill="none" stroke="#1fbf1f" stroke-width="1.6"/>
<line x1="268.9" y1="951.14" x2="268.9" y2="936.4" stroke="#1fbf1f" stroke-width="0.9" />
<line x1="266.4" y1="936.4" x2="271.4" y2="936.4" stroke="#1fbf1f" stroke-width="0.9" />
<line x1="266.4" y1="951.14" x2="271.4" y2="951.14" stroke="#1fbf1f" stroke-width="0.9" />
<rect x="263.7" y="928.59" width="4.4" height="4.4" fill="#1fbf1f" />
<rect x="266.7" y="947.54" width="4.4" height="4.4" fill="#1fbf1f" />
<rect x="269.7" y="938.41" width="4.4" height="4.4" fill="#1fbf1f" />
<rect x="235.6" y="866.5" width="4.4" height="4.4" fill="#000" />
<text x="250.1" y="872.7" font-size="11">YS</text>
<rect x="235.6" y="880.5" width="4.4" height="4.4" fill="#1010ff" />
<text x="250.1" y="886.7" font-size="11">Embryo</text>
<rect x="235.6" y="894.3" width="4.4" height="4.4" fill="#1fbf1f" />
<text x="250.1" y="900.5" font-size="11">AGM</text>
<text transform="translate(28.2 915) rotate(-90)" font-size="13.5" text-anchor="middle">Number of</text>
<text transform="translate(45.5 915) rotate(-90)" font-size="13.5" text-anchor="middle">progenitors</text>
<text x="340.5" y="874.2" font-size="23" font-weight="bold">k</text>
<rect x="365" y="856" width="16.4" height="71.3" fill="#e6e6e6" />
<rect x="365" y="928.4" width="16.4" height="73" fill="#e6e6e6" />
<text transform="translate(378.6 891.5) rotate(-90)" font-size="12.5" text-anchor="middle" font-weight="bold">E12.5</text>
<text transform="translate(378.6 965) rotate(-90)" font-size="12.5" text-anchor="middle" font-weight="bold">E15.5</text>
<g clip-path="url(#c5)">
<rect x="382" y="856" width="72" height="71.4" fill="#02020f" />
<path d="M382 883L384.54 883.51L387.08 884.02L389.62 884.52L392.17 885.03L394.71 885.54L397.25 886.05L399.79 886.56L402.33 887.07L404.88 887.58L407.42 888.08L409.96 888.59L412.5 888.9L415.04 888.39L417.58 887.88L420.12 887.38L422.67 886.87L425.21 886.36L427.75 885.36L430.29 883.18L432.83 881L435.38 877.25L437.92 872.17L440.46 864.9L443 856L452 856L456 856L451.9 866.77L447.93 875.69L444.08 882.22L440.36 887.21L436.74 890.46L433.23 893.56L429.83 895.34L426.52 896.5L423.3 897.54L420.16 898.49L417.11 899.36L414.12 900.15L411.21 900.06L408.36 899.72L405.56 899.34L402.81 898.92L400.11 898.47L397.45 898L394.83 897.52L392.23 897.02L389.65 896.52L387.09 896.02L384.54 895.51L382 895Z" fill="#0c0c70"/>
<path d="M413.22 860.99h0M385.35 917.38h0M386.52 860.26h0M430.11 910.67h0M391.31 873.7h0M400.92 856.29h0M427.67 860.45h0M385.79 856.02h0M444.95 899.91h0M389.36 880.5h0M400.8 882.22h0M419.27 881.42h0M431.86 924.39h0M446.82 916.09h0M436.01 890.18h0M450.17 907.82h0M421.5 865.37h0M400.67 885.96h0M424 920.66h0M419.69 857.34h0M422.34 873.77h0M436.72 921.24h0M445.11 923.37h0M387.22 873.21h0M397.81 924.1h0M413.71 857.29h0M423.08 906.08h0M387.21 923.09h0M399.17 863.83h0M403.96 910.3h0M383.31 873.91h0M416.18 922.83h0M442.09 884.11h0M411.14 880.85h0M402.3 873.32h0M404.29 881.5h0M385 857.61h0M445.29 883.85h0M431.17 905.57h0M389.55 915.76h0M435.88 891.96h0M452.25 891.32h0M431.84 904.31h0M452.43 922.94h0M391.55 914.65h0M446.63 890.76h0M404.76 916.08h0M402.87 882.61h0M412.82 875.67h0M449.36 873.83h0M421.54 907.45h0M452.29 874.6h0M447.23 891.54h0M392.05 869.76h0M419.74 882.95h0M446.49 889.84h0M428.48 877.72h0M423.97 883.75h0M415.17 924.56h0M399.79 924.68h0M430.05 922.15h0M435.22 892.1h0M395.49 871.97h0M392.22 859.71h0M394.19 856.21h0M451.43 870.83h0M440.45 910.82h0M436.41 921.53h0M417.53 922.36h0M399.81 860.63h0M388.05 862.89h0M390.72 916.12h0M393.04 919.22h0M423.99 922.51h0M438 923.62h0M408.55 866.11h0M396.65 856.81h0M396.65 912.86h0M421.61 901.7h0M412.51 914.66h0M383.07 895.44h0M449.9 925.75h0M393.54 912.19h0M419.29 883.43h0M412.65 903.11h0M416.07 863.66h0M409.21 923.99h0M393.43 920.1h0M430.94 920.02h0M410.39 913.03h0M437.05 887.62h0M382.13 858.42h0M407.56 863.6h0M391.7 922.97h0M413.95 923.01h0M420.27 885.03h0M421.67 923.28h0M428.19 914.16h0M382.46 916.38h0M398.27 863.53h0M438.77 893.41h0M427.41 905.54h0M434.17 896.78h0M389.68 922.42h0M431.87 901.32h0M396.81 864.01h0M396.76 878.82h0M426.52 858.22h0M432.74 894.46h0M436.88 925.92h0M438.66 900.9h0M436.32 909.84h0M423.7 865.01h0M439.23 908.43h0M396.86 883.77h0M418.04 901.22h0M435.35 920.92h0M430.93 901.87h0M412.21 911.94h0M430.62 922.51h0M417.27 925.69h0M397.13 904.93h0M410.78 856.95h0M449.68 893.69h0M391.01 915.61h0M382.19 907.61h0M412.85 901.57h0M450.53 902.9h0M447.09 912.6h0M445.55 895.69h0M431.15 922.6h0M437.48 871.07h0M405.82 878.67h0M427.13 905.79h0M447.81 902.88h0M400.58 877.6h0M449.52 926.13h0M382.34 904.89h0M385.61 911.34h0M427.26 906.71h0M428.85 914.44h0M443.99 890.77h0M450.03 912.1h0M425.28 878.06h0M440.45 918.01h0M398.85 899.39h0M436.08 912.6h0M424.43 869.52h0M400.29 858.71h0M422.13 918.25h0M425.06 884.41h0M428.13 924.38h0M451.54 926.91h0M385.39 912.23h0M436.57 863.54h0M394.14 873.05h0M433.39 895.57h0M404.9 920.58h0M402.61 874.43h0M382.14 915.51h0M396.16 861.67h0M440.43 897.68h0M416.32 918.35h0M440.79 917.88h0M400.03 914.43h0M383.27 898.86h0M444.61 907.27h0M450.97 922.8h0M420.22 860.95h0M401.14 904.51h0M450.46 876.56h0M390.92 865.39h0M396.49 906.79h0M404.36 873.32h0M437.59 867.34h0M435.18 867.05h0M443.2 914.72h0M382.31 910.75h0M425.73 883.14h0M417.97 887.75h0M407.28 923.77h0M445.35 924.96h0M453.3 919.5h0M427.37 899.12h0M411.62 912.32h0M401.15 902.25h0M389.68 863.16h0M440.08 860.44h0M389.16 920.63h0M416.88 912.68h0M451.95 876.79h0M395.77 876.28h0M393.22 906.47h0M409.14 924.53h0M400.77 920.32h0M422.87 878.22h0M403.38 860.71h0M430.93 903.45h0M399.89 916.54h0M384.91 858.86h0M394.94 916.02h0M431.27 880.96h0M385.09 917.07h0M412.53 922.51h0M391.19 910.48h0" stroke="#1a1ae8" stroke-width="2.9" stroke-linecap="round" stroke-opacity="1" fill="none"/>
<path d="M412.57 915.12h0M392.39 864.42h0M439.2 905.98h0M442.48 923.54h0M392.87 868.6h0M410.25 884.53h0M397.03 867.6h0M389.31 882h0M400.16 880.84h0M450.47 893.77h0M440.92 908.9h0M384.01 875.98h0M408.25 871.76h0M429.01 913.17h0M451.96 884.3h0M452.58 902.99h0M451.9 902.45h0M447.52 881.3h0M448.08 891.87h0M421.99 912.08h0M437.6 892.3h0M416.42 923.32h0M391.87 864.7h0M393.12 907.2h0M406.42 870h0M389.54 874.99h0M386.14 905.21h0M386.8 917.69h0M385.63 870.43h0M418.01 868.72h0M434.78 895.4h0M440.96 886.9h0M431.52 926.24h0M400.4 867.67h0M415.08 867.26h0M401.02 862.42h0M436.04 903.01h0M452.9 866.69h0M384.24 865.52h0M427.2 900.78h0M400.16 861.32h0M426.42 901.96h0M390.53 919.9h0M414.36 875.21h0M445.85 906.29h0M403.74 866.06h0M436.05 916h0M453.91 898.13h0M389.32 915.68h0M418.79 869.57h0M428.4 876.46h0M394.05 867.56h0M447.25 927.25h0M406.62 862.51h0M399.89 884.58h0M399.89 863.8h0M400.13 901.49h0M425.28 856.75h0M445.63 889.98h0M404.13 857.56h0M384.46 880.17h0M403.24 924.06h0M429.9 923.84h0M409.26 882.73h0M407.31 924.32h0M441.15 914.77h0M404.79 875.71h0M409.83 873.95h0M437.64 899.42h0M445.61 926.63h0M435.85 916.56h0M396.34 873.69h0M429.04 926.85h0M444.36 888.11h0M424.92 900.33h0M400.35 898.86h0M430.84 869.24h0M386.56 863.25h0M393.79 905.72h0M445.56 888.95h0M451.62 870.11h0M385.84 922.22h0M395.17 871.6h0M384.75 915.93h0M438.16 888.77h0M413 862.56h0M443.71 927.22h0M418.43 878.81h0M389.53 927h0M453.32 897.28h0M424.18 903.45h0M429.02 857.59h0M396.7 900.61h0M444.73 911.92h0M399.89 920.6h0M386.2 911.69h0M396.37 899.48h0M404.28 877.47h0M415.5 909.04h0M432.05 916.44h0M428.22 925.01h0M432.23 917.31h0M397.26 900.52h0M392.21 858.05h0M447.84 923.52h0M441.4 901.15h0M383.51 874.35h0M413.42 911.27h0M394.27 856.09h0M387.82 912.34h0M388.2 919.52h0M407.09 879.36h0M393.13 867.15h0M396.13 901.62h0M410.73 912.56h0M392.21 899.17h0M423.33 909.56h0M404.54 900.92h0M427.33 873.88h0M429.12 911.64h0M449.72 893.12h0M407.59 860.05h0M412.28 905.93h0M398.27 924.92h0M400.26 886.47h0M399.64 877.58h0M427.59 857.07h0M389.31 866.21h0M420.22 909.05h0M398.86 865.96h0M452.68 892.51h0M403.09 915.18h0M421.27 859.55h0M414.97 910.53h0M441.23 912.24h0M423.42 921.68h0M397.28 866.85h0M399.44 908.45h0M443.6 908.18h0M433.64 856.82h0M404.4 908.16h0M408.16 902.11h0M432.64 915.16h0M402.4 856.12h0M431.29 921.33h0M415.5 870.77h0M445.73 893.31h0M395.01 906.13h0M395.01 861.98h0M450.2 921.06h0M451.07 874.39h0M410.3 888.06h0M384.78 874.29h0M428.56 926.46h0M400.5 864.88h0M392.28 871.85h0M406.08 868h0M430.12 871.1h0M403.13 925.97h0M394.97 911.09h0M396.83 899.79h0M386.73 908.39h0M395.4 915.46h0M398.11 869.04h0M388.95 905.98h0M419.65 906.24h0M402.13 864.73h0M412.39 901.24h0M418.34 857.49h0M421.04 922.09h0M450.84 892.74h0M411.27 876.61h0M421.46 899.82h0M402.51 926.61h0M444.73 887.46h0M407.38 904.29h0M416.22 912.12h0M417.85 924.84h0M414.97 907.7h0M451.03 870.61h0M419.82 863.08h0M441.47 892.65h0M418.35 869.45h0M453.55 901.51h0M431.73 856.28h0M453.79 897.07h0M419.62 914.85h0M407.48 868.11h0M385.94 919.67h0M394.49 881.63h0M411.03 860.68h0M384.51 903.5h0M401.42 915.7h0M450.47 892.1h0M397.3 918.38h0M405.11 903.39h0M391.52 875.77h0M411.71 903.12h0M427.28 868.99h0M396.26 877.67h0M433.6 874.21h0M442.07 911.52h0M385.41 873.48h0M435.18 915.34h0" stroke="#2626ff" stroke-width="2.5" stroke-linecap="round" stroke-opacity="0.9" fill="none"/>
<path d="M385.92 895.12l2.6 -1.6M384.88 893.08l2.6 -1.6M439.46 869.72l2.6 -1.6M429.69 887.37l2.6 -1.6M422.86 889.2l2.6 -1.6M422.06 894.35l2.6 -1.6M389.2 886.7l2.6 -1.6M391.64 891.76l2.6 -1.6M443.73 879.23l2.6 -1.6M423.49 898.26l2.6 -1.6M382.32 889.81l2.6 -1.6M443.44 862.56l2.6 -1.6M442.91 876.71l2.6 -1.6M397.5 891.47l2.6 -1.6M430.42 893.66l2.6 -1.6M414.25 891.39l2.6 -1.6M440.38 868.34l2.6 -1.6M437.52 880.57l2.6 -1.6M438.77 867.25l2.6 -1.6M440.18 871.89l2.6 -1.6M393.11 890.65l2.6 -1.6M424.8 892.95l2.6 -1.6M430.58 889.14l2.6 -1.6M392.33 887.65l2.6 -1.6M425.62 893.43l2.6 -1.6M436.79 876.14l2.6 -1.6M408.18 890.74l2.6 -1.6M395.17 892.89l2.6 -1.6M397.46 898.67l2.6 -1.6M439.18 866.76l2.6 -1.6M402.62 897.39l2.6 -1.6M417.89 890.02l2.6 -1.6M448.78 871.87l2.6 -1.6M380.96 891.96l2.6 -1.6M433.43 889.04l2.6 -1.6M447.43 865.9l2.6 -1.6M402.36 896.65l2.6 -1.6M399.3 897.53l2.6 -1.6M434.68 886.31l2.6 -1.6M389.76 892.79l2.6 -1.6M442.83 872.24l2.6 -1.6M413.63 896.23l2.6 -1.6M429.26 886.83l2.6 -1.6M384.25 890.65l2.6 -1.6M446.9 870.6l2.6 -1.6M445.28 858.97l2.6 -1.6M448.61 858.53l2.6 -1.6M431.8 888.76l2.6 -1.6M410.71 901.15l2.6 -1.6M446.54 859.69l2.6 -1.6M403.19 897.31l2.6 -1.6M446.21 863.17l2.6 -1.6M407.4 892.87l2.6 -1.6M388.53 891.87l2.6 -1.6M423.87 896.13l2.6 -1.6M439.43 867.07l2.6 -1.6M446.93 871.7l2.6 -1.6M420.67 898.27l2.6 -1.6M425.06 887.7l2.6 -1.6M445.18 866.24l2.6 -1.6M396.85 898.53l2.6 -1.6M399.85 896.4l2.6 -1.6M444.06 857.89l2.6 -1.6M434.42 880.17l2.6 -1.6M446.28 867.14l2.6 -1.6M444.87 861.52l2.6 -1.6M432.23 883.11l2.6 -1.6M442.78 863.3l2.6 -1.6M416.04 891.94l2.6 -1.6M393.99 892.16l2.6 -1.6M397.52 889.75l2.6 -1.6M392.91 888.17l2.6 -1.6M444.43 873.81l2.6 -1.6M404.21 894.14l2.6 -1.6M413.47 901.24l2.6 -1.6M422.07 895.48l2.6 -1.6M438.41 884.83l2.6 -1.6M426.37 890.34l2.6 -1.6M441.95 875.92l2.6 -1.6M436.59 881.57l2.6 -1.6M441.09 870.91l2.6 -1.6M384.91 890.2l2.6 -1.6M416.08 892.42l2.6 -1.6M442.83 857.27l2.6 -1.6M414.39 897.02l2.6 -1.6M441.22 883.61l2.6 -1.6M449.86 862.19l2.6 -1.6M445.32 859.22l2.6 -1.6M407.06 890.73l2.6 -1.6M411.11 896.41l2.6 -1.6M447.94 860.71l2.6 -1.6M381.72 884.48l2.6 -1.6M450.28 863.1l2.6 -1.6M407.16 897.91l2.6 -1.6M411.12 898.74l2.6 -1.6M444.6 859.82l2.6 -1.6M386.82 896.39l2.6 -1.6M397.47 898.24l2.6 -1.6M405.53 893.94l2.6 -1.6M415.71 897.35l2.6 -1.6M444.69 866.79l2.6 -1.6M425.94 889.14l2.6 -1.6M443.39 875.85l2.6 -1.6M451.16 860.86l2.6 -1.6M447.31 863.78l2.6 -1.6M445.23 860.91l2.6 -1.6M438.81 881.17l2.6 -1.6M396.42 897.65l2.6 -1.6M424.52 892.23l2.6 -1.6M381.03 893.97l2.6 -1.6M431.91 884.07l2.6 -1.6M416.33 893.5l2.6 -1.6M389.56 892.09l2.6 -1.6M391.3 897.76l2.6 -1.6M436.64 881.01l2.6 -1.6M441.73 860.63l2.6 -1.6M444.39 859.26l2.6 -1.6M398.74 894l2.6 -1.6M414.28 894.97l2.6 -1.6M387.03 895.86l2.6 -1.6M424.62 897.57l2.6 -1.6M397.87 896.6l2.6 -1.6M446.56 865.9l2.6 -1.6M408.83 896.51l2.6 -1.6M446.26 857.56l2.6 -1.6M417.96 893.78l2.6 -1.6M409.56 896.94l2.6 -1.6M405.42 894.7l2.6 -1.6M394.86 892.4l2.6 -1.6M436.18 879.88l2.6 -1.6M405.82 888.96l2.6 -1.6M442.24 879.31l2.6 -1.6M439.44 878.51l2.6 -1.6M388.97 894.96l2.6 -1.6M440.16 881.91l2.6 -1.6M417.64 895.6l2.6 -1.6M436.27 884.31l2.6 -1.6" stroke="#2020e0" stroke-width="1.8" stroke-linecap="round" fill="none"/>
<g transform="translate(394.2 907.5) rotate(28)"><path d="M-0.95 4.6V-0.6H-3L0 -4.9L3 -0.6H0.95V4.6Z" fill="#fff"/></g>
<g transform="translate(420.5 907.5) rotate(28)"><path d="M-0.95 4.6V-0.6H-3L0 -4.9L3 -0.6H0.95V4.6Z" fill="#fff"/></g>
<g transform="translate(428.6 903.5) rotate(28)"><path d="M-0.95 4.6V-0.6H-3L0 -4.9L3 -0.6H0.95V4.6Z" fill="#fff"/></g>
</g>
<g clip-path="url(#c6)">
<rect x="455.2" y="856" width="71.2" height="71.4" fill="#020a02" />
<rect x="455.2" y="881" width="71.2" height="46.4" fill="#0e3c0e" />
<path d="M455.2 883L457.74 883.51L460.28 884.02L462.82 884.52L465.37 885.03L467.91 885.54L470.45 886.05L472.99 886.56L475.53 887.07L478.07 887.58L480.62 888.08L483.16 888.59L485.7 888.9L488.24 888.39L490.78 887.88L493.32 887.38L495.87 886.87L498.41 886.36L500.95 885.36L503.49 883.18L506.03 881L508.57 877.25L511.12 872.17L513.66 864.9L516.2 856L525.2 856L529.2 856L525.1 866.77L521.13 875.69L517.28 882.22L513.56 887.21L509.94 890.46L506.43 893.56L503.03 895.34L499.72 896.5L496.5 897.54L493.36 898.49L490.31 899.36L487.32 900.15L484.41 900.06L481.56 899.72L478.76 899.34L476.01 898.92L473.31 898.47L470.65 898L468.03 897.52L465.43 897.02L462.85 896.52L460.29 896.02L457.74 895.51L455.2 895Z" fill="#1a5a16"/>
<path d="M472.6 892.85h0M505.72 888.03h0M468.87 894.83h0M514.62 878.89h0M490.8 891.72h0M458.08 887.42h0M487.11 896.28h0M476.59 896.84h0M517.28 874.12h0M492.15 898.07h0M512.85 869.25h0M483.46 890.02h0M456.68 888.85h0M496.17 893.76h0M460.08 890.64h0M459.34 885.62h0M497.57 895.68h0M510.94 881.92h0M517.41 860.29h0M487.82 897.41h0M457.93 892.09h0M464.98 886.64h0M458.31 892.38h0M520.61 859.54h0M500.48 894.83h0M492.92 893.71h0M505.24 888.13h0M515.26 862.53h0M458.36 887.64h0M497.88 889.07h0M504.95 885.88h0M458.95 894.38h0M477.83 894.12h0M517.31 861.14h0M515.4 876.99h0M461.9 890.66h0M521.77 858.32h0M511.92 877.32h0M493.75 892.23h0M483.52 893.05h0M513.85 880.46h0M469.46 888.74h0M455.52 890.97h0M505.68 887.61h0M483.59 891.73h0M462.47 895.52h0M497.5 897.24h0M466.85 897.12h0M460.23 895.22h0M459.95 885.54h0M518.46 865.39h0M487.29 895.68h0M512.33 870.94h0M460.34 890.17h0M514.38 865.17h0M470.61 897.85h0M521.39 874.8h0M521.18 856.16h0M492.65 888.58h0M514.63 878.43h0M466.8 893.96h0M516.58 865.3h0M501.38 889.73h0M471.81 887.48h0M502.21 892.8h0M489.55 892.58h0M465.07 893.34h0M521.06 863.44h0M464.99 885.04h0M510.37 877.51h0M485.25 890.24h0M458.73 892.73h0M483.07 890.57h0M510.66 882.57h0M488.74 900.28h0M467.01 894.03h0M475.99 889.26h0M473.57 889.55h0M514.16 875.02h0M514.28 880.69h0M512.55 872.24h0M461.85 893.44h0M494.57 891.77h0M473.6 892.94h0M466.81 885.32h0M478.47 890.29h0M513.2 866.5h0" stroke="#2a8a22" stroke-width="2.8" stroke-linecap="round" stroke-opacity="1" fill="none"/>
<path d="M518.9 866.14h0M478.56 889.51h0M508.65 879.36h0M515.06 873.12h0M476.77 897.55h0M502.84 892.8h0M478.51 888.92h0M493.36 896.38h0M490.43 895.61h0M469.11 887.94h0M466.07 891.88h0M488.88 897.26h0M474.88 891.75h0M526.64 858.44h0M521.65 871.17h0M490.79 898.75h0M455.85 890.02h0M459.53 891.88h0M479.07 890.72h0M525.35 856.67h0M518.46 864.61h0M480.66 891.48h0M494.37 895.24h0M506.48 884.14h0M492.79 890.08h0M461.54 884.28h0M469.66 896.79h0M517.04 870.42h0M493.06 891.51h0M508.51 884.72h0M516.88 874.38h0M488.62 890.96h0M518.42 860.13h0M521.29 870.79h0M514.85 864.73h0M498.24 894.66h0M479.19 888.15h0M518.49 864.37h0M519.32 857.08h0M519.32 862.03h0M497.71 887.13h0M506.35 884.03h0M498.74 888.71h0M514.45 869.16h0M515.01 867.6h0M525.49 860.07h0M503.91 883.2h0M512.34 880.83h0M504.02 885.51h0M484.27 897.02h0M515.58 879.25h0M479.03 896.64h0M492.07 898.1h0M474.32 896.06h0M495.77 892.32h0M469.59 888.63h0M513.31 867.64h0M516.28 863.25h0M518.43 868.86h0M481.63 894.42h0M467.89 887.32h0M511.93 873.99h0M463.68 890.29h0M460.56 888.39h0M472.05 891.68h0M487.9 896.17h0M519.03 860.07h0M502.25 892.67h0M505.92 887.26h0M456.28 894.24h0M469.08 897.65h0M491.69 893.27h0M478.11 890.1h0M462.76 888.58h0M524.57 859.66h0M525.17 864.36h0M513.77 880.23h0M468.7 885.92h0M513.74 874.11h0M517.83 871.31h0M521.03 858.49h0M512 881.5h0M492.15 889.48h0M465.43 888.89h0M476.67 895.63h0M483.07 899.55h0M525.53 858.72h0" stroke="#38a82c" stroke-width="2.2" stroke-linecap="round" stroke-opacity="0.9" fill="none"/>
<path d="M505.8 913.61h0M522.58 881.13h0M510.36 915.43h0M489.81 902.29h0M468.8 904.53h0M519.28 895.19h0M526.53 907.59h0M465.05 911.5h0M476.79 906.58h0M458.33 899.17h0M476.08 905.13h0M500.78 901.38h0M509.15 902.4h0M471.63 910.1h0M457.29 911.63h0M478.52 920.6h0M509.31 914.83h0M517.41 927.13h0M467.35 904.82h0M508.35 891.8h0M498.96 922.23h0M497.85 927.12h0M499.32 904.42h0M513.03 893.28h0M468.05 907.35h0M496.87 922.12h0M526.39 875.64h0M521.4 895.76h0M470.39 915.94h0M459.28 905.74h0M488.64 908.07h0M488.45 921.84h0M512.19 890.3h0M511.68 918.26h0M514.66 885.05h0M491.69 926.68h0M504.41 895.86h0M475.42 910.52h0M492.35 918.73h0M524.58 875.08h0M466.15 910.13h0M505.03 911.38h0M505.87 899.78h0M458.05 915.16h0M513.43 894.4h0M469.43 906.32h0M490.09 901.72h0M501.02 906.55h0M503.65 907.03h0M526.25 872.35h0M456.51 910.13h0M477 910.51h0M487.01 906.51h0M475.89 920.82h0M474.89 911.01h0M457.41 915.26h0M502.16 896.73h0M473.08 912.91h0M488.32 906.87h0M467.49 917.82h0M498.25 920.46h0M470.78 915.63h0M479.91 903.81h0M467.26 897.87h0M492.92 904.43h0M503.59 913.17h0M471.94 908.57h0M505.95 925.09h0M500.13 905.81h0M522.09 896.07h0M512.59 913.34h0M493.59 907.8h0M477.6 903.37h0M525.84 921.04h0M469.14 924.51h0M517.34 897.1h0M516.25 918.84h0M518.12 896.99h0M486.33 907.3h0M478.89 908.35h0M500.64 913.44h0M498.61 920.65h0M515.56 922.14h0M480.54 905.39h0M497.68 904.42h0M479.13 914.73h0" stroke="#1e7a1a" stroke-width="3" stroke-linecap="round" stroke-opacity="0.9" fill="none"/>
<path d="M506.1 903.93h0M503.19 898.81h0M487.11 925.34h0M479.93 919.28h0M461.33 903.22h0M506.65 910.12h0M514.98 884.03h0M456.29 898.49h0M467.3 909.3h0M494.72 913.42h0M519.57 898.13h0M474.5 906.36h0M492.88 923.28h0M508.32 921.88h0M479.98 913.24h0M476.69 927.09h0M511.35 917.73h0M466.06 908.63h0M518.7 926.04h0M465.5 927.38h0M477.92 925.47h0M500.52 909.15h0M515.11 914.47h0M512.68 910.25h0M512.25 900.18h0M460.3 910.06h0M481.53 913.3h0M474.9 912.92h0M485.06 903.11h0M482.56 901.82h0M482.18 903.41h0M508.03 904.53h0M461.85 907.3h0M473.34 915.94h0M524.15 881.91h0M460.67 900.62h0M523.81 919.74h0M506.3 905.4h0M477.48 923.48h0M501.07 911.67h0M522.87 874.98h0M483.47 913.61h0M481.1 906.01h0M471.36 901.01h0M508.19 892.91h0M519.21 894.19h0M462.69 898.27h0M460.06 907.8h0M501.97 905.48h0M472.51 922.54h0M464 902.48h0M515.48 907.24h0M512.41 894.04h0M457.19 905.42h0M484.64 905.3h0M468.88 920.7h0M481.38 907.67h0M482.62 910.68h0M524.5 917.34h0M469.98 903.4h0M456.11 923.81h0M524.41 879.01h0M463.88 924.66h0M523.03 885.15h0M508.57 900.63h0M486.21 924.49h0M502.96 910.83h0M506.4 926.59h0M512.21 908.11h0M466.28 905.52h0M502.97 896.4h0M499.46 920.48h0M477.91 907.57h0M510.28 886.44h0M467.64 909.25h0M482.61 916.04h0M460.07 908.99h0M524.22 905.76h0M508.83 913.32h0M495.6 912.86h0M506.82 909.51h0M506.47 906.81h0M523.18 887.65h0M508.12 923.88h0M519.82 913.24h0" stroke="#145a10" stroke-width="2.4" stroke-linecap="round" stroke-opacity="0.9" fill="none"/>
<path d="M455.2 856L455.2 883L457.74 883.51L460.28 884.02L462.82 884.52L465.37 885.03L467.91 885.54L470.45 886.05L472.99 886.56L475.53 887.07L478.07 887.58L480.62 888.08L483.16 888.59L485.7 888.9L488.24 888.39L490.78 887.88L493.32 887.38L495.87 886.87L498.41 886.36L500.95 885.36L503.49 883.18L506.03 881L508.57 877.25L511.12 872.17L513.66 864.9L516.2 856Z" fill="#000"/>
<path d="M463.7 903h0M491.7 903.5h0M499.7 899h0M485.2 896h0M467.2 892h0M510.2 918h0M477.2 911h0" stroke="#55ff44" stroke-width="3" stroke-linecap="round" stroke-opacity="1" fill="none"/>
<g transform="translate(467.4 907.5) rotate(28)"><path d="M-0.95 4.6V-0.6H-3L0 -4.9L3 -0.6H0.95V4.6Z" fill="#fff"/></g>
<g transform="translate(493.7 907.5) rotate(28)"><path d="M-0.95 4.6V-0.6H-3L0 -4.9L3 -0.6H0.95V4.6Z" fill="#fff"/></g>
<g transform="translate(501.8 903.5) rotate(28)"><path d="M-0.95 4.6V-0.6H-3L0 -4.9L3 -0.6H0.95V4.6Z" fill="#fff"/></g>
</g>
<g clip-path="url(#c7)">
<rect x="528.2" y="856" width="70.4" height="71.4" fill="#080000" />
<path d="M555.8 905.38h0M548.01 921.99h0M534.48 911.56h0M560.01 907.94h0M580.78 902.39h0M563.76 907.61h0M536.74 909.56h0M567.15 908.94h0M530.68 889.22h0M579.95 908.13h0M595.36 869.25h0M586.86 864.59h0M546.21 921.25h0M562.06 891.26h0M555.92 895.14h0M545.78 925.56h0M528.91 895.55h0M570.64 914.94h0M535.52 922.64h0M536.16 909.36h0M573.08 902.72h0M593.01 874.24h0M569.56 896.07h0M545.62 914.91h0M534.87 890.14h0M552.36 910.71h0M595.64 873.47h0M579.05 886.66h0M532.4 892.24h0M559.4 903.28h0M593.19 856.26h0M577.7 927.06h0M547.37 903.95h0M564.37 890.92h0M569.83 925.81h0M579.7 913.26h0M554.6 906.92h0M598.63 887.31h0M542.35 893.09h0M564.41 892.03h0M584.43 892.99h0M543.53 888.32h0M573.94 905.59h0M598.34 869.11h0M576.75 899.69h0M545 897.9h0M536.55 926.53h0M589.87 873.42h0M562.7 926.57h0M556.08 913.17h0M599.7 862.5h0M565.36 926.2h0M564.96 891.3h0M596.98 882.41h0M575.47 894.04h0M551.85 916.42h0M576.06 887.91h0M574.66 905.61h0M540.56 892.43h0M584.35 896.86h0M582.42 882.03h0M535.87 899.75h0M547.47 916.48h0M587.81 893.23h0M542.82 920.25h0M533.39 900.63h0M542.36 924.38h0M581.83 915.43h0M578.24 884.32h0M564.91 891.84h0M573.96 890.49h0M528.34 913.11h0M576.68 924.13h0M535.45 885.45h0M566.92 887.44h0M569.24 894.46h0M554.96 890.32h0M574.52 905.43h0M567.85 908.41h0M534.41 890.99h0M549.81 889h0M584.97 907.67h0M599.9 870.94h0M568.5 888.99h0M575.49 903.03h0M548.86 912.53h0M567.5 913.78h0M556.51 910h0M591.12 870.52h0M583.12 875.75h0M592.81 873.02h0M542.2 893.01h0M587.32 885.81h0M545.55 916.03h0M570.51 907.55h0M548.48 897.88h0M547.99 901.94h0M585.88 891.45h0M536.48 892.38h0M580 882.73h0M590.36 868.55h0M575.02 884.77h0M561.72 916h0M584.9 889.98h0M539.41 896.61h0M551.89 916.69h0M547.46 884.23h0M559.56 883.16h0M590.23 882.82h0M597.35 872.33h0M570.1 892.04h0M586.73 867.04h0M582.89 878.72h0M572.82 913.84h0M577.43 919.82h0M537.97 891.25h0M585.3 901.17h0M598.17 868.48h0M542.78 880h0M529.1 883.42h0M555.24 891.18h0M592.65 873.7h0M568.95 926.94h0M596.38 857h0M584.3 924.05h0M586.05 868.51h0M583.93 922.89h0M567.64 922.35h0M591.55 867.57h0M566.48 906.01h0M590.3 874.33h0M548.92 887.89h0M562.62 924.95h0M557.96 926.85h0M585.81 908.26h0M550.91 891.29h0M584.54 919.58h0M548.3 887.87h0M560.84 907.16h0M556.48 896.17h0M544.81 916.28h0M530.34 894.99h0M583.63 878.52h0M543.9 889.74h0M571.25 908.11h0M540.65 908.31h0M546.32 892.82h0M529.92 915.76h0M529.18 920.33h0M569.84 887.9h0M568.65 890h0M530.62 906.09h0M564.08 903.57h0M541.71 906.84h0M562.06 922.65h0M556.85 924.46h0M567.5 923.3h0M586.69 877.53h0M530.02 890.98h0M596.35 856.23h0M532.31 927.34h0M599.4 871.39h0M580.75 910.24h0M571.06 911.45h0M598.61 864.46h0M582.69 896.94h0M554.62 873.1h0M579.69 888.84h0M532.56 908.33h0M551.78 899.33h0M546.54 897.89h0M559.78 920.93h0M557.27 889.97h0M570.37 886.72h0M531.51 926.21h0M553.86 919.56h0M595.21 873.71h0M541.13 918.5h0M592.57 889.48h0M585.37 885.21h0M555.93 895.43h0M557.27 913.21h0M584.9 896.94h0M585.52 918.99h0M566.28 895.61h0M557.74 895.85h0M594.43 863.36h0M578.07 922.54h0M582.02 884.45h0M533.7 896.75h0M547 888h0M580.52 915.06h0M597.23 871.85h0M568.6 898.71h0M562.12 889.17h0M599.09 863.95h0M536.29 916.34h0M593.62 879.54h0M566.71 924.42h0M530.04 923.65h0M546.68 914.7h0M558.18 923.51h0M554.64 897.6h0M579.2 902.65h0M529.97 894.4h0M571.32 882.06h0M598.81 870.97h0M559.82 926.5h0M550.94 889.97h0M557.17 906.07h0M585.54 869.18h0M541.6 889.15h0M530.83 886.86h0M566.07 901.23h0M547.14 911.76h0M572.09 913.83h0M584.31 883.92h0M593.21 914.25h0M545.09 917.27h0M552.79 926.68h0M583.44 880.06h0M580.86 900.03h0" stroke="#2e0303" stroke-width="2.4" stroke-linecap="round" stroke-opacity="0.9" fill="none"/>
<path d="M555.8 905.38h0M563.76 907.61h0M595.36 869.25h0M545.78 925.56h0M573.08 902.72h0M552.36 910.71h0M593.19 856.26h0M579.7 913.26h0M584.43 892.99h0M545 897.9h0M599.7 862.5h0M551.85 916.42h0M582.42 882.03h0M533.39 900.63h0M573.96 890.49h0M569.24 894.46h0M549.81 889h0M548.86 912.53h0M592.81 873.02h0M548.48 897.88h0M590.36 868.55h0M551.89 916.69h0M570.1 892.04h0M537.97 891.25h0M555.24 891.18h0M586.05 868.51h0M590.3 874.33h0M550.91 891.29h0M544.81 916.28h0M540.65 908.31h0M568.65 890h0M556.85 924.46h0M532.31 927.34h0M582.69 896.94h0M546.54 897.89h0M553.86 919.56h0M555.93 895.43h0M557.74 895.85h0M547 888h0M599.09 863.95h0M546.68 914.7h0M571.32 882.06h0M585.54 869.18h0M572.09 913.83h0M583.44 880.06h0" stroke="#5a0808" stroke-width="1.6" stroke-linecap="round" stroke-opacity="0.9" fill="none"/>
<path d="M528.2 856L528.2 883L530.74 883.51L533.28 884.02L535.83 884.52L538.37 885.03L540.91 885.54L543.45 886.05L545.99 886.56L548.53 887.07L551.08 887.58L553.62 888.08L556.16 888.59L558.7 888.9L561.24 888.39L563.78 887.88L566.33 887.38L568.87 886.87L571.41 886.36L573.95 885.36L576.49 883.18L579.03 881L581.58 877.25L584.12 872.17L586.66 864.9L589.2 856Z" fill="#000" fill-opacity="0.8"/>
<path d="M537.2 903.5h0M564.7 902.5h0M572.2 899h0M580.2 891h0M548.2 916h0M588.2 911h0" stroke="#e01818" stroke-width="2.6" stroke-linecap="round" stroke-opacity="1" fill="none"/>
<g transform="translate(540.4 907.5) rotate(28)"><path d="M-0.95 4.6V-0.6H-3L0 -4.9L3 -0.6H0.95V4.6Z" fill="#fff"/></g>
<g transform="translate(566.7 907.5) rotate(28)"><path d="M-0.95 4.6V-0.6H-3L0 -4.9L3 -0.6H0.95V4.6Z" fill="#fff"/></g>
<g transform="translate(574.8 903.5) rotate(28)"><path d="M-0.95 4.6V-0.6H-3L0 -4.9L3 -0.6H0.95V4.6Z" fill="#fff"/></g>
</g>
<g clip-path="url(#c8)">
<rect x="600.3" y="856" width="72.1" height="71.4" fill="#03031a" />
<path d="M600.3 883L602.84 883.51L605.38 884.02L607.92 884.52L610.47 885.03L613.01 885.54L615.55 886.05L618.09 886.56L620.63 887.07L623.17 887.58L625.72 888.08L628.26 888.59L630.8 888.9L633.34 888.39L635.88 887.88L638.42 887.38L640.97 886.87L643.51 886.36L646.05 885.36L648.59 883.18L651.13 881L653.67 877.25L656.22 872.17L658.76 864.9L661.3 856L670.3 856L674.3 856L670.2 866.77L666.23 875.69L662.38 882.22L658.66 887.21L655.04 890.46L651.53 893.56L648.13 895.34L644.82 896.5L641.6 897.54L638.46 898.49L635.41 899.36L632.42 900.15L629.51 900.06L626.66 899.72L623.86 899.34L621.11 898.92L618.41 898.47L615.75 898L613.13 897.52L610.53 897.02L607.95 896.52L605.39 896.02L602.84 895.51L600.3 895Z" fill="#3a5470"/>
<path d="M628.72 875.23h0M657.35 865.06h0M600.74 874.51h0M615.08 856.18h0M617.85 879.18h0M626.21 879.17h0M660.58 908.79h0M627.51 860.92h0M659.27 915.53h0M648.78 872.71h0M661.75 909.8h0M638.8 868.11h0M610.88 861.51h0M664.13 902.91h0M668.01 887.96h0M638.64 878.04h0M635.15 861.05h0M638.47 883.78h0M620.55 881.15h0M600.68 865.49h0M626.86 884.56h0M669.83 887.4h0M669.67 901.9h0M666.41 882.37h0M664.48 890.17h0M662.28 924.2h0M605.26 883.78h0M669.96 919.55h0M603.73 862.17h0M650.08 864.61h0M608.82 871.44h0M637.54 864.15h0M647.32 861.68h0M636.27 881.42h0M615.93 874.34h0M667.75 890.87h0M667.05 910.51h0M660.45 899.04h0M624.2 866.67h0M665.44 910.92h0M665.26 891.22h0M616.75 867.29h0M647.68 860.77h0M622.31 862.14h0M662.91 911.57h0M601.9 881.14h0M618.63 885.36h0M636.11 874.5h0M665.24 925.37h0M637.34 863.46h0M669.2 910.51h0M661.14 917.2h0M668.78 902.2h0M668.51 907.24h0M648.46 868.76h0M604.74 879.43h0M634.76 866.09h0M647.08 866.44h0M621.91 886.96h0M606.48 864.02h0M617.99 869.08h0M658.64 904.31h0M618.47 871.01h0M668.31 915.93h0M623.75 861.72h0M668.02 883.97h0M625.29 876.33h0M667.53 916.13h0M601.53 857.56h0M660.43 890.03h0M660.76 913.35h0M639.4 881.27h0M663.67 917.93h0M630.51 871.99h0M604.9 870.69h0M661.59 892.98h0M665.78 899.42h0M644.85 882.82h0M654.46 856.5h0M626.04 862.04h0M669.8 916.31h0M666.35 919.98h0M638.24 868.15h0M651.76 879.52h0M618.98 870.74h0M665.8 900.52h0M659.25 919.25h0M648.28 856.52h0M667.37 882.58h0M608.25 856.34h0M669.25 904.5h0M640.84 865.63h0M634.5 857.03h0M671.73 900.12h0M622.62 886.14h0M648.75 860.47h0M620.09 869.19h0M661.45 921.75h0M601.4 874.13h0M649.38 867.05h0M624.08 862.5h0M664.1 911.72h0M637.47 871.28h0M618.95 878.42h0M663.47 913.47h0M655.48 868.57h0M600.8 870.34h0M669.89 902.71h0M604.01 876.25h0M658.79 909.57h0M606.14 869.47h0M666.55 912.46h0M624.53 859.01h0M614.61 875.97h0M661.56 906.28h0M652.54 858.77h0M649.54 870.11h0M660.67 920.16h0M639.71 885.59h0M628.68 871.81h0M672.03 897.52h0M638.76 861.3h0M664.57 923.13h0M615.34 866.4h0M647.64 856.01h0M638.12 858.18h0M669.46 911.6h0M644.73 857.14h0M632 885.91h0M609.28 861.34h0M664.86 906.85h0M646.14 880.24h0M633.36 860.47h0M630.64 856.79h0M616.48 856.93h0M670.45 913.63h0M635.08 871.6h0M609.69 876.42h0M666.98 909.92h0M669.36 897.44h0M670.46 913.42h0M643.21 871.9h0M631.74 888.27h0M638.26 877.04h0M602.37 873.63h0M647.07 868.45h0M632.42 888.51h0M645.45 859.89h0M605.44 857.87h0M622.62 865.57h0M672.18 900.37h0M631.09 887.63h0M661.86 884.63h0M668.94 894.01h0M667.99 911.6h0M663.46 907.57h0M670.6 920.95h0M626.42 886.02h0M636.24 871.65h0M661.65 901.92h0M646.4 869.24h0M618.39 858.67h0M611.85 885.28h0M625.11 886.97h0M655.98 864.26h0M616.23 872.49h0M633.22 870.39h0M635.83 881.84h0M671.02 918.39h0M616.1 858.02h0M618.55 862.54h0M611.17 884.66h0M661.43 887.2h0M602.56 870.6h0M670.47 905.4h0M607.89 882.12h0M671.98 908.48h0M663.92 909.59h0M650.42 861.98h0M644.63 869.23h0M660.49 900.2h0M631.27 856.19h0M660.93 888.54h0M632.81 859.74h0M659.97 910.32h0M623.16 861.48h0M608.83 879.99h0M663.98 911.91h0M610.74 868.21h0M649.5 862.1h0M671.44 910.53h0M664.46 903.93h0M629.6 883.28h0M643.49 859.89h0M618.77 884.84h0M651.32 876.37h0M636.57 872.95h0M621.71 869.36h0M632.28 858.2h0M607.96 871.95h0" stroke="#2222f0" stroke-width="2.8" stroke-linecap="round" stroke-opacity="1" fill="none"/>
<path d="M634.99 921.04h0M616.3 903.05h0M605.77 911.01h0M607.52 912.96h0M660.75 926.62h0M669.37 925.4h0M631.04 906.53h0M619.3 903.85h0M602.89 924.47h0M615.45 912.9h0M626 914.21h0M652.4 892.39h0M637.57 912.18h0M630.8 922.17h0M609.26 912.62h0M640.78 899.51h0M618.36 912.94h0M661.89 882.35h0M613.34 897.62h0M602.08 917.23h0M602.51 906.1h0M610.66 917.9h0M603.63 902.95h0M647.98 906.75h0M650.94 900.39h0M622.61 916.89h0M611.69 917.14h0M639.36 910.13h0M626.07 905.07h0M646.93 902.83h0M634.34 925.59h0M621.23 927.06h0M669.22 875.83h0M604.55 922.85h0M620.51 924.15h0M629.94 906.63h0M624.84 920.93h0M644.06 902.95h0M656.03 917.79h0M641.68 918.65h0M637.96 914.49h0M606.21 906.64h0M601.25 924.5h0M649.97 900.15h0M628.9 919.92h0M624.65 914.77h0M639.15 918.47h0M609.95 909.89h0M629.95 905.34h0M654.24 913.71h0M601.15 924.81h0M622.58 909.25h0M638.5 903.69h0M602.82 910.48h0M623.66 910.89h0M652.25 897.77h0M634.63 909.57h0M635.95 903.96h0M658.03 905.09h0M602.66 913.12h0M605.77 915.55h0M609.57 909.57h0M613.4 926.81h0M643.36 912.19h0M642.66 919.66h0M603.37 913.52h0M610.81 903.62h0M650.06 900.44h0M637.8 918.24h0M656.76 904.62h0M645.6 924.55h0M609.79 902.69h0M602.02 915.94h0M670.91 866.36h0M670.2 867.4h0M657.1 894.9h0M618.82 910.67h0M655.66 891.03h0M637.44 909.23h0M608.44 896.78h0M652.59 903.67h0M648.4 918.02h0M640.51 924.15h0M651.21 899.2h0M654.56 914.08h0M601.8 918.66h0M656.52 902.34h0M641.19 925.27h0M612.8 920.31h0M614.52 912.43h0M650.34 895.24h0M651.78 897.62h0M657.51 891.17h0M612.38 918.7h0M617.8 908.56h0M656.03 893.87h0M631.37 915.98h0M644.82 909.49h0M600.87 904.99h0M623.41 910.35h0M645.72 907.31h0M639.07 916.1h0M638.01 911.95h0M649.38 920.6h0M654.31 900.53h0M667.38 876.23h0M612.26 920.48h0M652.49 926.25h0M622.44 922.64h0M606.88 915.44h0M635.19 908.63h0M652.35 907.4h0M638.09 902.2h0M604.67 926.73h0M655.35 918.5h0M600.93 925.25h0M603.45 897.45h0M628.93 915.83h0M604.05 905.38h0M603.85 922.99h0M607.43 905.02h0M640.37 908.94h0M605.47 925.01h0M661.41 883.16h0M605.71 912.35h0M652.72 902.84h0M607.95 916.62h0M609.31 923.64h0M608.72 901.99h0M614.44 909.88h0M607.43 907.96h0M624.36 918.86h0M661.34 927.37h0M604.29 927.2h0M602.12 905.42h0M611.25 910.67h0M619.44 920.57h0M628.79 913.03h0M648.72 918.31h0M651.69 918.65h0M658.92 884.94h0M654.14 892.08h0M643.41 909.92h0M633.9 912.31h0M611.08 897.49h0M656.23 890.31h0M628.43 901.68h0M630.34 917.2h0M626.74 904.62h0" stroke="#3448b0" stroke-width="2.7" stroke-linecap="round" stroke-opacity="1" fill="none"/>
<path d="M646.2 897.84h0M648.79 900.93h0M667.7 874.6h0M616.07 898.3h0M639.08 907.25h0M616.22 906.75h0M671.56 927.42h0M653.76 891.27h0M627.21 901.97h0M630.13 911.99h0M641.62 917.71h0M603.92 918.34h0M620.42 926.41h0M628.28 925.5h0M634.33 927.19h0M643.98 899.88h0M626 924.91h0M641.87 926.58h0M634.38 906.98h0M649.31 897.85h0M609.26 920.69h0M607.87 897.18h0M612.77 926.36h0M670.25 875.1h0M613.48 905.73h0M637.1 906.76h0M658.24 902.55h0M605.84 918.6h0M620.19 922.6h0M605.76 920.25h0M623.73 917.41h0M668.7 881.65h0M636.78 913.11h0M630.65 910.01h0M625.59 907.58h0M652.03 902.65h0M649.41 897.36h0M627.19 901.68h0M644.64 900.3h0M615.35 902.31h0M617.02 901.33h0M603.42 919.13h0M616.07 906.17h0M668.73 877.12h0M655.28 898.9h0M628.75 912.88h0M607.31 916.22h0M640.12 923.82h0M650.15 922.4h0M622.06 917.99h0M639.6 924.56h0M613.66 906.32h0M626.71 924.07h0M625.22 908.81h0M617.47 905.77h0M621.95 909.77h0M600.93 922.7h0M605.37 915.84h0M670.12 870.71h0M607.91 914.91h0M642.12 905.38h0M647.24 919.09h0M636.75 916.75h0M619.65 899.47h0M670.75 926.97h0M616.24 921.44h0M615.56 918.3h0M654.69 894.12h0M649.86 919h0M650.7 922.11h0M610.69 913.66h0M618.08 905.04h0M619.3 905.79h0M605.9 925.44h0M627.75 913.6h0M652.37 892.25h0M646.38 905.66h0M654.09 919.31h0M644.17 902.7h0M641.32 909.83h0M635.35 910.92h0M637 912.86h0M627.12 927.47h0M671.35 884.54h0M627.75 906.89h0M660.81 923.27h0M643.96 905.15h0M659.32 924.7h0M622.74 915.23h0M655.17 921.91h0M670.9 883.19h0M624.79 916.46h0M607.86 909.85h0M672.08 865.91h0M669.51 925.93h0M648.44 923.86h0M607.75 921.89h0M621.76 906.86h0M624.05 927.14h0M610.4 921.19h0M628.85 917.33h0M608.68 914.79h0M643.94 908.63h0M611.42 925.96h0M654.95 923h0M671.05 865.23h0M601.95 908.68h0M658.06 925.42h0M626.21 912.04h0M658.18 891.35h0M624.41 911.51h0M633.24 926.11h0M628.41 907.96h0M640.58 901.92h0M626.28 909.08h0M625.77 903.89h0M605.02 922.19h0M613.8 902.22h0M657.96 907.58h0M640.22 911.27h0M632.73 914.48h0M645.14 921.36h0M647.1 910.09h0M667.21 878.1h0M620.74 915.64h0M649.84 910.46h0M649.79 902.29h0M622.34 923.01h0M628.2 914.83h0M647.6 926.22h0M645.75 902.01h0M637.81 909.82h0M609.68 920.29h0M653.42 911.93h0M638.38 916.09h0M617.9 905.31h0M603.72 896.74h0M610.06 898.62h0M669.77 925.06h0M601.65 923.3h0M620.99 918.99h0M605.02 920.8h0M623.62 905.34h0M618.76 907.33h0M641.64 900.63h0M626.06 914.4h0M646.96 905.02h0M650.17 927.41h0" stroke="#4a7494" stroke-width="2.5" stroke-linecap="round" stroke-opacity="0.9" fill="none"/>
<path d="M624.86 895.4h0M631.61 891.8h0M601.83 884.62h0M671.2 862.69h0M643.79 886.42h0M609.74 892.14h0M631.85 889.39h0M611.49 891.23h0M666.89 867.37h0M621.68 888.08h0M638.08 890.33h0M641.2 895.94h0M622.42 895.65h0M618.93 890.21h0M627 896.24h0M663 876.38h0M601.78 894.14h0M643.86 894.75h0M639.63 898.41h0M630.98 894.67h0M663.82 876.4h0M650.21 882.1h0M602.14 889.56h0M600.58 883.73h0M660.71 879.4h0M637.93 892.63h0M654.06 882.5h0M664.68 863.1h0M649.16 887.04h0M638.4 897.87h0M622.28 891.35h0M603.05 889.72h0M651.14 887.87h0M655.81 884.62h0M627.87 892.29h0M649.77 887.55h0M648.3 887.97h0M652.99 880.22h0M604.1 891.41h0M607.92 890.06h0M612.34 893.5h0M620.4 896.37h0M656.77 872.14h0M660.73 879.56h0M606.63 891.72h0M621.12 888.25h0M661.74 869.3h0M620.88 892.85h0M613.88 887.78h0M621.05 892.33h0M652.06 891.48h0M631.53 897.91h0M629.76 892.41h0M649.82 885.66h0M671.77 856.6h0M637.22 892.84h0M655.29 885.67h0M607.59 893.52h0M664.75 866.38h0M653.1 879.27h0M601.97 885.79h0" stroke="#6a8aa0" stroke-width="2.4" stroke-linecap="round" stroke-opacity="0.8" fill="none"/>
<path d="M650.42 883.5h0M643.11 889.32h0M634.37 896.99h0M658.42 875.69h0M636 889.71h0M650.58 885.23h0M645.84 892.6h0M660.04 872.73h0M604.99 884.16h0M622.37 894.58h0M635.87 897.53h0M620.61 898.58h0M652.65 882.3h0M666.16 872.5h0M611.62 896.01h0M610.42 886.23h0M633.79 897.5h0M608.85 885.62h0M611.85 890.36h0M610.08 893.25h0M665.96 874.27h0M666.37 871.28h0M616.61 888.25h0M607.2 893.08h0M607.49 895.56h0M603.22 885.72h0M667.32 859.64h0M630.07 899.6h0M645.39 888.87h0M635.03 891.19h0M634.9 897.02h0M629.95 898.11h0M655.35 884.09h0M621.82 889.61h0M657.7 876.31h0M658.36 872.32h0M669.88 858.85h0M633.7 898.22h0M615.76 889.66h0M652.27 890.64h0M638.16 891.68h0M637.41 888.21h0M628.06 889.17h0M665.67 856.18h0M657 871.98h0M658.57 883.53h0M620.89 897.39h0M666.74 870.96h0M633.08 895.29h0M623.55 898.73h0M606.23 884.42h0M606.71 892.19h0M643.97 896.35h0M617.85 886.53h0M610.07 891.74h0M624.49 889.1h0M611.91 886.22h0M625.87 892.14h0M610.43 890.39h0M615.46 887.56h0" stroke="#4a6a88" stroke-width="2" stroke-linecap="round" stroke-opacity="0.8" fill="none"/>
<path d="M608.8 903h0M636.8 903.5h0M644.8 899h0M630.3 896h0M620.3 891h0" stroke="#a0f070" stroke-width="3" stroke-linecap="round" stroke-opacity="1" fill="none"/>
<path d="M614.3 911h0M628.3 906h0M650.3 894h0M640.3 914h0" stroke="#c0a030" stroke-width="2" stroke-linecap="round" stroke-opacity="1" fill="none"/>
<text x="631.8" y="869.5" font-size="9" text-anchor="middle" font-weight="bold" fill="#fff">L</text>
<rect x="639.7" y="918.8" width="29.8" height="3.4" fill="#fff" />
<g transform="translate(612.5 907.5) rotate(28)"><path d="M-0.95 4.6V-0.6H-3L0 -4.9L3 -0.6H0.95V4.6Z" fill="#fff"/></g>
<g transform="translate(638.8 907.5) rotate(28)"><path d="M-0.95 4.6V-0.6H-3L0 -4.9L3 -0.6H0.95V4.6Z" fill="#fff"/></g>
<g transform="translate(646.9 903.5) rotate(28)"><path d="M-0.95 4.6V-0.6H-3L0 -4.9L3 -0.6H0.95V4.6Z" fill="#fff"/></g>
</g>
<g clip-path="url(#c9)">
<rect x="382" y="928.9" width="72" height="72.3" fill="#000010" />
<path d="M423.53 998.25h0M419.33 998.75h0M396.13 953.2h0M400.54 997.35h0M430.19 930.95h0M407.14 934.04h0M394.4 982.36h0M420.24 942.29h0M400.43 998.4h0M428.14 931.17h0M424.99 974.41h0M397.37 985.55h0M395.95 933.88h0M395.8 954.96h0M405.94 995.97h0M427.13 947.21h0M397.27 983.76h0M417.75 929.25h0M425.26 947.52h0M397.29 960.51h0M397.96 976.35h0M424.87 966.9h0M399.01 935.04h0M410.2 949.8h0M396.22 933.53h0M396.7 929.44h0M408.98 953.58h0M420.21 952.45h0M401 937.28h0M419.06 992.6h0M398.22 992.6h0M411.22 981.98h0M416.41 950.77h0M403.81 937.06h0M394.55 964.75h0M394.28 932.85h0M391.87 967.15h0M423.15 980.03h0M391.48 965.75h0M414.17 955.24h0M414.98 947.58h0M398.86 950.61h0M419.62 979.7h0M403.45 992.06h0M394.38 950.54h0M409.58 961.8h0M416.67 993.62h0M406.76 986.64h0M414.45 928.95h0M421.05 997.13h0M409.89 932.49h0M393.76 974.66h0M399.88 1000.18h0M396.98 941.94h0M392.3 943.8h0M412.06 945.9h0M399.27 947.94h0M394.19 932.56h0M416.53 992.47h0M404.05 957.65h0M405.11 932.74h0M392.3 943.76h0M418.75 978.47h0M397.29 931.94h0M408.47 949.7h0M398.27 992.3h0M412.58 997.36h0M421.08 992.05h0M399.09 998.27h0M394.9 948.35h0M408.09 945.51h0M396.13 965.17h0M423.09 985.66h0M413.87 978.19h0M413.64 966.09h0M399.31 962.28h0M424.15 972.83h0M401.5 953.7h0M421.54 945.29h0M393.08 947.43h0M395.62 956.54h0M409.1 939.17h0M423.37 964.77h0M401.88 992.97h0M425.31 951.93h0M412.38 975.48h0M415.72 957.24h0M406.59 996.52h0M404.24 995.17h0M406.1 946.15h0M414.17 989.76h0M408.8 953.17h0M414.74 996.91h0M396.82 934.92h0M394.31 960.08h0M405.84 998.2h0M396.19 964.71h0M418.49 999.69h0M412.8 943.35h0M424.39 996.64h0M422.21 978.9h0M391.5 937.56h0M411.9 975.92h0M412.93 970.26h0M409.56 947.85h0M395.61 946.25h0M424.31 957.79h0M417.47 949.92h0M412.98 993.14h0M416.12 950.59h0M405.34 953.76h0M425.17 944.63h0M394.04 964.36h0M412.73 937.51h0M418.49 990.05h0M415.35 946.56h0M404.33 997h0M393.99 976.62h0M414.88 969.73h0M404.75 992.69h0M403.63 1000.01h0M409.89 997.68h0M415.11 937.22h0M426.5 947.73h0M405.46 931.38h0M417.71 956.82h0M392.21 943.65h0M410.76 988.95h0M395.24 976.69h0M418.98 934.28h0M397.27 968.81h0M414.24 955.84h0M416.75 953.66h0M419.3 953.5h0M416.14 972.95h0M422.1 945.29h0M415.61 947.9h0M412.16 951.99h0M425.6 979.7h0M392.98 943.55h0M427.43 947.59h0M425.39 978.17h0M406 942.61h0M405.2 999.95h0M417.54 966.64h0M409.7 992.54h0M417.83 948.99h0M395.51 966.83h0M419.65 938.46h0M397.22 995.5h0M407.04 995.91h0M405.48 986.78h0M421.23 956.74h0M416.28 993.02h0M397.09 989.64h0M419.92 944.89h0M424.18 971.26h0M422.83 997.65h0M414.13 930.97h0M416.76 929.73h0M417.02 932.73h0M420.47 959.31h0M395.65 969.44h0M424.13 972.01h0M413.75 955.99h0M407.24 985.7h0M398.29 945.16h0M420.1 949.85h0M398.24 946.93h0M406.02 986.58h0M400.93 945.69h0M403.53 951.57h0M393.39 978.48h0M404.47 935.65h0M396.7 938.34h0M395.22 982.06h0M410.71 979.78h0M396.68 951.41h0M400.03 985.64h0M409.82 981.43h0M395.84 943.43h0M396.4 934.41h0M402.6 939.25h0M418.84 975.13h0M415.77 968.06h0M414.01 989.82h0M416.72 952.49h0M421.61 951.89h0M423.84 991.03h0M421.78 963.59h0M417.94 933.31h0M423.87 999.93h0M429.28 932.25h0M396.54 978.51h0M396.81 961.92h0M394.87 957.23h0M410.76 965.67h0M409.21 937.67h0M394.06 961.94h0M403.14 932.74h0M423.02 986.74h0M397.65 991.73h0M413.75 947.54h0M423.77 951.42h0M420.23 939.81h0M398.83 982.48h0M398.33 962.81h0M409.42 984.83h0M418.76 990.9h0M429.19 930.13h0M405.7 946.98h0M427.5 944.18h0M420.53 996.36h0M413.38 943.32h0M412.47 986.75h0M426.63 934.76h0M410.61 955.95h0M392.11 975.4h0M413.03 982.55h0M393.65 948.06h0M407.74 983.73h0M400.31 937.86h0M403.34 990.5h0M416.86 968.16h0M424.22 991.25h0M415.44 966.41h0M423.05 933.6h0M419.68 935.94h0M395.63 959.77h0M425.9 946.63h0" stroke="#1c1cf0" stroke-width="2.6" stroke-linecap="round" stroke-opacity="1" fill="none"/>
<path d="M429.39 936.91h0M395.83 987.2h0M427.53 939.17h0M409.72 987.53h0M421.34 967.79h0M424.91 956.08h0M392.99 929.98h0M392.07 969.19h0M398.45 958.31h0M415.45 968.49h0M397.15 970.73h0M417.94 994.29h0M409.66 940.27h0M403.64 950.66h0M408.58 984.97h0M412.75 988.63h0M392.04 944.94h0M412.23 971.07h0M411.67 998.53h0M415.52 958.66h0M403.51 954.17h0M408.11 994.28h0M416.99 962.13h0M409.84 950.78h0M416.23 959.44h0M395.73 945h0M418.24 931.59h0M422.26 972.23h0M425 956.28h0M423.39 988.04h0M396.58 957.06h0M414.7 967.75h0M403.63 932.6h0M417.57 989.52h0M395.92 934.06h0M394.45 963.83h0M425.27 933.61h0M403.63 932.33h0M412.19 978.59h0M404.67 940.98h0M423.74 936.75h0M393.66 959.7h0M419.77 957.16h0M424.98 999.87h0M405.55 945.67h0M427.94 947.92h0M403.9 985.85h0M416 932.91h0M392.12 937.18h0M404.97 932.49h0M421.1 931.06h0M423.55 974.31h0M395.05 931.33h0M404.17 953.54h0M422.72 937.33h0M416.26 975.37h0M403.67 950.35h0M418.81 937.1h0M412.12 968.06h0M396.6 987.69h0M408.91 986.85h0M402.05 993.43h0M406.82 999.81h0M394.71 955.24h0M410.58 929.26h0M398.44 991.26h0M428.68 951.01h0M403 943.72h0M392.79 952.19h0M395.71 966.61h0M411.72 949.85h0M400.66 956.03h0M427.7 960.75h0M396.6 987.96h0M404.95 986.25h0M423.83 942.81h0M419.11 971.11h0M419.71 963.93h0M416.15 970.12h0M392.98 944.87h0M424.52 930.21h0M423.99 965.45h0M406.29 985.76h0M392.5 940.02h0M428.94 931.24h0M421.49 980.25h0M398.45 935.02h0M424.47 994.61h0M414.41 949.31h0M416.22 935.27h0M412.91 979.73h0M396.73 962.03h0M413.74 971.79h0M425.27 943.9h0M422.65 946.26h0M424.8 929.84h0M420.96 939.68h0M425.95 941.31h0M397.9 995.89h0M407.04 996.76h0M411.88 932.04h0M399.97 945.12h0M397.94 988.95h0M415.64 980.78h0M414.97 934.99h0M417.3 942.1h0M394.81 940.03h0M415.46 954.29h0M403.37 957.75h0M403.99 989.41h0M398.03 962.53h0M422.15 957.03h0M411.15 973.23h0M400.79 991.81h0M419.08 971.01h0M398.53 932.12h0M398.78 979.38h0M399.01 952.38h0M420.38 948.77h0M402.29 937.51h0M400.84 996.73h0M408.66 981.33h0M402.62 958.5h0M408.16 942.44h0M429.98 930.84h0M411.37 965.23h0M412.54 937.24h0M402.18 943.3h0M423.85 942.54h0M424.83 944.63h0M414.38 930.15h0M407.38 994.5h0M406.17 951.28h0M418.93 930.54h0M419.69 947.65h0M405.59 937.9h0M423.35 944.18h0M419.55 960.74h0M430.3 938.98h0M393.04 952.53h0M410.78 939.3h0M418.37 935.5h0M415.48 973.57h0M415.97 974.25h0M395.72 971.39h0M401.45 956.41h0M419.06 936.79h0M408.19 998.67h0M404.32 999.49h0M409.82 976.84h0M407.53 929.06h0M411.58 956.12h0M421.31 996.39h0M396.11 956.33h0M402.75 945.09h0M410.47 975.69h0M409.35 996.97h0M409.15 984.39h0M417.03 991.02h0M422.58 990.05h0M395.4 984.66h0M419.64 989.63h0M399.6 946.81h0M405.09 997.14h0M423.19 940.03h0M397.36 991.02h0M427.56 957.91h0M413.55 981.71h0M404.97 983.38h0M418.05 942.32h0M412.13 935.22h0M407.32 952.28h0M391.69 935.18h0M410.89 941.14h0M410.76 983.82h0M413.52 934.72h0M421.85 975.38h0M405.07 945.51h0M395.52 931.4h0M413.49 959.89h0M393.13 930.79h0M419.99 945.62h0M420.93 942.87h0M429.41 942.51h0M392.89 958.47h0M425.05 965.56h0M397.3 972.26h0M424.3 932.24h0M396.42 963.21h0M416.89 985.62h0M409.39 979.73h0M394.91 933.99h0M418.73 967.38h0M415.19 967h0M403.92 951.63h0M425.4 962.24h0M417.45 998h0M417.75 978.67h0M424.72 964.77h0M417.81 941.62h0M420.88 935.83h0M416.4 948.02h0M398.06 947.84h0M399.11 944.54h0M411.95 961.03h0M421.68 977.69h0M415.89 990h0M401.79 929.77h0M422.46 995.46h0M405.86 948.84h0M412.17 985.74h0M403.59 996.14h0M414.73 947.03h0M392.95 961.6h0M400.09 951.51h0M423.24 986.91h0M413.6 974.21h0M426.7 959.39h0M407.02 988.52h0M402.11 940.29h0M421.71 997.68h0M400.57 937.6h0M400.2 940.72h0M399.45 950.54h0M406.14 953.52h0M411.15 999.65h0M425.12 982.81h0M411.09 980.32h0M416.2 943.21h0M421.06 975.7h0M400.89 957.66h0" stroke="#2a2aff" stroke-width="2.2" stroke-linecap="round" stroke-opacity="0.85" fill="none"/>
<path d="M402.19 966.46h0M442.67 952.61h0M433.16 993.4h0M439.83 979.69h0M437.81 953.49h0M447.95 971.14h0M450.85 974.33h0M442.04 939.92h0M433.31 999.57h0M431.3 998.27h0M435.77 975.27h0M435.36 949.86h0M434.93 974.08h0M429.76 957.51h0M438.08 950.26h0M435.2 978.31h0M440.5 984.5h0M433.32 971.31h0M436.59 974.38h0M449.53 949.39h0M436.05 981.66h0M436.02 991.05h0M443.4 959.83h0M448.3 945.78h0M432.49 978.7h0M440.36 983.55h0M451.13 992.03h0M437.03 999.74h0M447.29 963.63h0M438.4 998.07h0M451.4 936.57h0M450.72 952.4h0M433.67 969.94h0M442.9 994.97h0" stroke="#0c0c60" stroke-width="2.2" stroke-linecap="round" stroke-opacity="0.8" fill="none"/>
<g transform="translate(404.5 975.1) rotate(28)"><path d="M-0.95 4.6V-0.6H-3L0 -4.9L3 -0.6H0.95V4.6Z" fill="#fff"/></g>
<g transform="translate(412.4 964.1) rotate(28)"><path d="M-0.95 4.6V-0.6H-3L0 -4.9L3 -0.6H0.95V4.6Z" fill="#fff"/></g>
<g transform="translate(416.1 971.8) rotate(28)"><path d="M-0.95 4.6V-0.6H-3L0 -4.9L3 -0.6H0.95V4.6Z" fill="#fff"/></g>
</g>
<g clip-path="url(#c10)">
<rect x="455.2" y="928.9" width="71.2" height="72.3" fill="#000500" />
<path d="M467.16 980.95h0M470.59 962.35h0M488.24 940.95h0M487.14 972.09h0M481.2 980.96h0M482.77 942.18h0M487.26 983.35h0M492.16 945.35h0M495.02 988.52h0M497.76 941.84h0M478.35 946.53h0M471.33 953.49h0M495.7 981.02h0M498.33 980.17h0M485.77 938.18h0M472.74 984.49h0M478.38 995.12h0M471.55 990.64h0M495.41 990.6h0M472.17 985.91h0M476.44 931.54h0M469.61 951.81h0M488.02 936.38h0M496.49 930.42h0M496.62 987.88h0M481.02 929.68h0M468.89 967.55h0M467.93 950.83h0M486.9 933.58h0M496.37 972.01h0M474.95 955.67h0M496.42 942.18h0M471.58 965.2h0M465.73 941.32h0M465.82 967.18h0M478.98 942.69h0M468.67 972.93h0M483.18 984.65h0M475.25 938.14h0M478.27 987.17h0M491.08 952.09h0M484.68 958.84h0M490.35 930.03h0M482.3 955.1h0M498.46 957.41h0M487.89 957.78h0M471.86 982.13h0M483.62 929.22h0M487.76 990.07h0M478.36 994.74h0M486.05 975.65h0M490.23 963.1h0M485.66 953.69h0M489.39 996.41h0M473.16 943.74h0M470.58 973.65h0M493.19 972.92h0M489.58 953.27h0M466.64 952.58h0M483.8 946.34h0M491 973.89h0M480.27 987.47h0M493.47 967.33h0M470.61 963.76h0M484.95 985.97h0M494.2 982.7h0M485.12 990.39h0M482.1 944.06h0M465.43 939.84h0M485.26 994h0M491.4 994.86h0M491.12 936.88h0M478.61 940.08h0M500.15 960.91h0M485.22 932.14h0M488.91 975.54h0M464.88 975.63h0M469.81 957.16h0M494.31 973.78h0M493.08 935.51h0M488 968.24h0M495.24 974.18h0M479.59 947.96h0M500.02 950.75h0M488.3 985.78h0M475.45 951.24h0M470.9 946.81h0M478.17 997.07h0M467.45 977.55h0M468.25 933.38h0M491.93 943.02h0M489.33 944.87h0M493.11 956.91h0M488.33 937.98h0M468.93 941.12h0M470.47 959.65h0M490.4 969.75h0M466.93 951.39h0M466.69 953.69h0M501.13 939.73h0M468.81 956.38h0M478.51 999.72h0M481.15 930.64h0M471.87 950.44h0M471.38 983.6h0M492.49 993.64h0M495.83 964.27h0M483.73 943.74h0M487.99 989.16h0M487.38 972.21h0M486.9 956.65h0M472.21 999.29h0M492.19 962.56h0M469.14 951.76h0M479.82 949.08h0M488.6 959.62h0M495.31 956.77h0M486.47 950.3h0M483.77 977.64h0M484.67 976.84h0M479.23 958.88h0M501.89 949.87h0M491.92 937.83h0M491.07 943.78h0M469.33 989.02h0M489.29 994.77h0M466.38 970.64h0M488.5 949.69h0M477.31 949.29h0M475.72 942.64h0M490.55 991.98h0M469.15 974.04h0M467.25 948.56h0M466.16 970.18h0M490.1 956.02h0M480.03 989.6h0M488.27 975.16h0M493.28 961.57h0M496.47 957.16h0M485.15 984.73h0M491.32 935.62h0M471.56 947.97h0M464.83 968.99h0M493.29 932.75h0M480.75 954.03h0M478.51 933.97h0M490.59 972.64h0M482.8 989.86h0M485.24 969.49h0M484.54 945.02h0M481.59 938.25h0M481.4 959.92h0M481.96 951.59h0M486.57 971.33h0M481.09 984.57h0M496.49 992.82h0M491.08 953.67h0M490.7 931.65h0M476.82 945.32h0M488.6 992.89h0M487.46 999.21h0M477.07 944.49h0M491.59 997.95h0M489.19 962.52h0M489.62 995.62h0M491.99 999.21h0M489.82 940.67h0M478.76 992.73h0M488.85 939.64h0M489.91 996.89h0M474.44 956.37h0M491.63 990.54h0M491.4 938.58h0M493.23 951.84h0M475.1 957.24h0M474.1 989.13h0M493.67 995.39h0M495.06 951.87h0M487.66 953.96h0M482.6 953.84h0M475.2 989.92h0M483.8 944.08h0M469.8 962.28h0M471.09 933.55h0M487.53 970.22h0M482.99 964.79h0M491.89 958.19h0M467.57 951.12h0M481.36 999.2h0M488.27 946.28h0M477.01 993.63h0M492.63 937.95h0M491.86 990.77h0M471.01 965.23h0M494.52 953.09h0M472.92 931.98h0M482.75 984.4h0M490.02 940.61h0M492.21 935.73h0M490.95 980.16h0M484.61 955.92h0M486.17 960.69h0M467.58 951.77h0M471.68 949.71h0M472.65 997.26h0M471.54 931.43h0M477.69 946.79h0M495.32 969.95h0M468.33 938.05h0M487.96 969.92h0M492.48 987.13h0M468.37 940.01h0M494.91 957.25h0M474.77 935.39h0M471.84 943.08h0M488.24 945.13h0M468.33 943.92h0M480.58 934.26h0M493.82 934.96h0M472.26 943.94h0M471.06 995.64h0M492.8 954.16h0M477.83 938.73h0M470.4 944.13h0M499.31 932.6h0M471.93 953.76h0M482.97 977.55h0M487.66 992.31h0M467.41 953.7h0M487.72 951.29h0M486.08 936.65h0M470.54 964.56h0M490.79 946.34h0M487.37 932.19h0M483.24 950.45h0M491.47 985.15h0M480.11 998.33h0M471.86 986.12h0M474.33 995.4h0M490.51 994.3h0M486.23 953.99h0M487.75 951.68h0M494.34 931.81h0M473.38 948.73h0M475.06 955.13h0M472.02 997.02h0M477.2 949.19h0M466.11 977.07h0M494.21 954.63h0M473.42 943.78h0M481.16 938.75h0M471.08 979.93h0M471.12 960.99h0M481.32 937.99h0M468.42 934h0M466.86 973.77h0M477.18 984.24h0M483.53 969.9h0M502.87 940.79h0M469.89 964.57h0M495.01 971.21h0M492.73 987.52h0M493.44 995.55h0M473.6 988.04h0M491 955h0M483.96 975.26h0M494.05 976.31h0M496.41 977.53h0M492.36 955.69h0M479.81 950.9h0M489.75 957.65h0M468.05 955.66h0M466.17 965.78h0M493.35 978.58h0M478.03 998.92h0M467.78 978.69h0M488.07 990.16h0M487.75 944.51h0M484.84 963.76h0M491.19 956.53h0M485.62 998.4h0" stroke="#1f8a1f" stroke-width="2.3" stroke-linecap="round" stroke-opacity="0.9" fill="none"/>
<path d="M512.49 991.47h0M525.25 974.79h0M524.46 967.07h0M522.59 984.71h0M514.16 995.57h0M514.55 964.21h0M516.84 941.65h0M508.92 953.35h0M525.21 947.12h0M512.51 980.97h0M522.4 959.83h0M516.53 973.82h0M509.15 982.63h0M514.43 933.41h0M508.99 988.52h0M512.14 970.83h0M509.9 941.12h0M519.71 972.65h0M501.13 965.36h0M510.82 976.89h0M519.53 1000.39h0M523.33 954.73h0M525.39 941.98h0M512.63 983.08h0M510.66 953.76h0M523.88 952.58h0M522.64 949.15h0M508.58 952.13h0M525.27 953.83h0M511.33 978.37h0M522.29 938.99h0M508.94 950.84h0M505.71 996.5h0M519.92 980.49h0M455.49 960.65h0M520.9 930.01h0M519.73 948.36h0M512.24 956.33h0M515.85 977.92h0M519.97 960.36h0M511.77 970.37h0M518.43 992.35h0M506.95 981.8h0M518.6 932.24h0M519.58 982.16h0M520.31 992.2h0M518.4 947.56h0M513.7 988.37h0M516.04 930.8h0M510.44 968.66h0M517.48 934.85h0M522.22 980.87h0M524.14 997.22h0M513.22 971.14h0M514.22 999.54h0M525.74 972.81h0M507.62 987.33h0M522.24 975.1h0M523.48 946.36h0M508.86 996.08h0M514.17 992.23h0M518.71 995.67h0M524.42 943h0M512.09 980.65h0M508.27 979.73h0M503.33 971.79h0M513.89 931.12h0M526.06 958.71h0M516.21 1000.02h0M512.26 936.5h0M524.6 996.47h0M523.56 946.85h0M525.65 986.24h0M514.46 942.92h0M512.15 937.61h0M510.03 974.05h0M525.01 948.75h0M505.34 959.69h0M474.03 967.21h0M506.93 997.36h0M511.29 942.95h0M511.93 964.48h0M510.15 952.42h0M510.1 970.04h0M514.36 950.62h0M460.56 989.73h0M517.48 978.25h0M504.96 999.92h0M512.53 985.36h0M524.72 974.66h0M522.76 998.51h0M512.43 989.94h0M519.74 956.81h0M512.22 985.57h0M510.57 971.57h0M521.88 933.4h0M514.64 997.24h0M513.21 973.02h0M525.39 931.45h0M518.13 937.36h0M515.9 945.76h0M517.9 977.15h0M508.34 974.67h0M525.29 958.64h0M522.21 981.05h0M521.27 987.91h0M517.69 993.96h0M519.34 969.02h0M507.35 993.24h0M521.81 991.77h0M511.21 964.94h0M523.87 992.13h0M521.9 985.87h0M514.18 935.16h0M511.26 976.7h0M517.94 961.75h0M523.06 948.86h0M512.36 977.82h0M518.68 941.22h0M513.75 987.36h0M513.18 929.81h0M518.28 953.19h0M513.11 982.35h0M523.14 988.77h0M519.44 999.2h0M510.96 988.54h0M522.33 997.86h0M525.4 942.59h0M513.41 944.58h0M506.62 971.58h0M521.03 973.71h0M515.42 960.02h0M510.52 951.45h0M506.17 994.53h0M525.43 941.26h0" stroke="#0f400f" stroke-width="2.3" stroke-linecap="round" stroke-opacity="0.9" fill="none"/>
<path d="M479.7 973.4h0M487.6 962.4h0M491.3 970.1h0M467.2 936.9h0M475.2 942.9h0M483.2 948.9h0" stroke="#50e050" stroke-width="2.8" stroke-linecap="round" stroke-opacity="1" fill="none"/>
<g transform="translate(477.7 975.1) rotate(28)"><path d="M-0.95 4.6V-0.6H-3L0 -4.9L3 -0.6H0.95V4.6Z" fill="#fff"/></g>
<g transform="translate(485.6 964.1) rotate(28)"><path d="M-0.95 4.6V-0.6H-3L0 -4.9L3 -0.6H0.95V4.6Z" fill="#fff"/></g>
<g transform="translate(489.3 971.8) rotate(28)"><path d="M-0.95 4.6V-0.6H-3L0 -4.9L3 -0.6H0.95V4.6Z" fill="#fff"/></g>
</g>
<g clip-path="url(#c11)">
<rect x="528.2" y="928.9" width="70.4" height="72.3" fill="#050000" />
<path d="M540.73 956.02h0M566.97 938.52h0M570.6 1000.31h0M563.81 968.43h0M567.24 995.48h0M554.09 947.18h0M568.39 959.95h0M566.24 972.86h0M538.02 958.14h0M544.02 965.06h0M561.39 958.27h0M571.29 972.57h0M567.12 941.83h0M548.25 938.76h0M564.23 946.79h0M556.94 989.39h0M546.65 957.98h0M554.09 942.6h0M551.89 989.89h0M560.48 969.83h0M556.19 966.63h0M562.1 971.15h0M565.85 983.71h0M560.17 999.47h0M553.41 988.53h0M556.75 998.97h0M556.04 930.56h0M550.92 941.4h0M551.5 929.3h0M569.87 955.96h0M562.92 949.52h0M555.9 999.59h0M552.74 939.48h0M565.33 991.41h0M539.44 936.84h0M546.66 944.8h0M555.92 995.38h0M558.32 946.68h0M565.69 949.98h0M555.09 991.51h0M555.78 951.72h0M559.19 975.63h0M541.77 982.49h0M558.23 978.78h0M560.91 941.93h0M562.77 943.59h0M558.54 990.67h0M556.77 965.51h0M564.74 985.29h0M550.4 951.29h0M550.91 952.06h0M564.43 972.35h0M559.77 938.84h0M555.83 960.98h0M558.87 969.57h0M550.97 931.47h0M560.09 950.79h0M541.25 949.06h0M537.8 939.93h0M563.14 952.3h0M559.73 990.23h0M565.2 932.68h0M558.5 970.56h0M539.84 929h0M563.67 952.65h0M559.23 994.73h0M541.58 951.27h0M553.97 939.3h0M559.01 955.96h0M572.31 973.86h0M548.18 982.91h0M562.75 960.7h0" stroke="#7a0a0a" stroke-width="2.2" stroke-linecap="round" stroke-opacity="0.85" fill="none"/>
<path d="M554.85 979.65h0M551.66 985.1h0M567.77 929.1h0M539.02 967.42h0M549.65 986.06h0M573.35 956.77h0M548.87 944.76h0M545.96 997.72h0M538.45 967.24h0M575.2 935.53h0M557.05 977.79h0M564.41 938.89h0M565.07 979.46h0M559.78 977.5h0M567.27 987.33h0M561.13 934.53h0M564.16 983.75h0M552.57 939.47h0M557.02 998.69h0M556.51 947.46h0M540.95 930.98h0M570.48 932.71h0M562.72 956.83h0M560.93 987.96h0M548.18 942.38h0M541.29 968.93h0M550.47 997.88h0M563.55 937.93h0M541.51 965.98h0M557.77 994.44h0M560.51 992.13h0M565.51 991.54h0M559.33 943.43h0M564.12 950.69h0M544.44 950.61h0M538.55 948.96h0M570.93 961.25h0M555.77 997.11h0M568.01 999.63h0M555.58 999.77h0M557.62 932.28h0M556.49 955.2h0M563.48 966.11h0M558.67 932.36h0M564.52 966.65h0M557.99 930.38h0M549.04 954.09h0M567.77 936.54h0M568.15 973.4h0M550.25 955.01h0M559.34 934.98h0M551.36 942.14h0M547.3 938.09h0M549.57 956.39h0M569.52 990.64h0M572.21 974.96h0M557.79 984.51h0M555.99 991.22h0M556.37 940.38h0M561.26 941.07h0M542.41 931.47h0M563.31 943.06h0M565.6 961.04h0M544.22 992.67h0M554.64 999.07h0M566.73 991.6h0M560.06 943.93h0M560.56 951.65h0M547.87 997.15h0M569.9 946.32h0M565.04 981.62h0M559.18 952.26h0M570.53 968.13h0M548.42 998.62h0M555.9 932.84h0M568.22 969.7h0M574.41 947.21h0M538.08 934.04h0M546.17 953.02h0M568.11 979.98h0M559.43 966.61h0M541.1 957.86h0M544.56 982.68h0M541.13 968.84h0M565.52 959.01h0M555.36 950.17h0M556.07 936h0M556.86 939.54h0M554.9 938.31h0M562.55 934.2h0M549.35 997.37h0M563.15 934.25h0M570.49 952.82h0M551.79 952.07h0M564.19 977.86h0M555.84 952.17h0M542.82 936.75h0M564.91 967.41h0M542.14 937.39h0M562.46 938.28h0M541.26 936.11h0M543.25 966.48h0M540.65 972.75h0M558.55 992.07h0M572.49 932.3h0M570.01 939.84h0M540.39 979.05h0M549.36 935.6h0M563.83 996.97h0M570.17 941.48h0M559.68 937.48h0M560.87 951.64h0M557.52 1000.02h0M566.11 937.68h0M551.35 935.71h0M538.84 966.04h0M539.37 929.77h0M571.28 947.56h0M564.98 969.59h0M571.48 960.87h0M543.91 944.9h0M569.22 974.98h0M560.04 981.34h0M546.31 988.06h0M564.77 988.97h0M538.22 969.11h0M556.07 963.85h0M565.96 986.57h0M555.89 999.58h0M573.13 947.08h0M553.82 994.56h0M561.98 966.24h0M564.41 946.28h0M563.12 996.47h0M549.07 987.18h0M557.08 937.38h0M543.32 937.21h0M563.61 972.83h0M549.12 958.44h0M553.06 955.68h0M572.67 930.42h0M543.91 958.4h0" stroke="#360404" stroke-width="2.2" stroke-linecap="round" stroke-opacity="0.85" fill="none"/>
<path d="M593.49 995.28h0M595.31 955.67h0M579.82 967.21h0M593.24 974.7h0M590.55 966.73h0M599.31 946.12h0M589.53 999.33h0M588.59 952.59h0M580.88 978.04h0M586.5 956.81h0M598.63 935.17h0M595.67 982.34h0M588.04 950.71h0M592.31 998.3h0M593.65 958.89h0M595.7 947.48h0M579.78 985.2h0M597.04 975.26h0M582.24 998.13h0M597.4 995.8h0M580.34 996.49h0M583.53 984.96h0M585.49 978.86h0M580.16 995.81h0M595.01 938.67h0M598.52 971.44h0M590.5 982.24h0M547.67 968.79h0M580.39 960.54h0M587.01 972.21h0M595.05 967.66h0M584.98 990.12h0M587.14 952.23h0M590.91 972.41h0M590.94 939.08h0M586.8 977.85h0M594.48 934.72h0M585.11 963.13h0M598.74 982.96h0M598.66 976.07h0M585.37 948.41h0M598.83 947.97h0M587.69 998.91h0M578.36 992.43h0M593.73 957.8h0M587.89 973.91h0M598.6 930.57h0M580.16 985h0M582.37 953.19h0M593.35 947.33h0M597.33 977.19h0M584.51 976.71h0M599.06 941.02h0M599.09 997.67h0M582.41 950.01h0M583.57 962.6h0M598.42 945.46h0M584.98 949.73h0M589.99 936.86h0M593 979.4h0M599.12 972.47h0M596.45 969.78h0M594.48 965.56h0M588.9 937.66h0M581.58 958.73h0M588.16 992.07h0M590.16 971.33h0M596.88 954.57h0M580.61 984.33h0M530.41 963.59h0M584.56 930.01h0M592.47 997.77h0M578.74 978.39h0M587.03 1000.39h0M596.71 940.96h0M582.47 966.87h0M587.33 983.44h0M594.31 967.43h0M586 981.68h0M592.18 932.32h0M580.59 956.73h0M584.46 966.87h0M593.09 994.58h0M596.27 956.02h0M585.81 991.58h0M584.73 966.15h0M597.11 977.58h0M585.39 994.21h0M598.6 939.31h0M598.39 935.84h0M598.87 936.09h0M579.62 969.96h0M599.18 993.76h0M583.1 943.9h0M589.99 982.48h0M583.55 986.21h0M594.56 954.06h0M594.42 981.04h0M596.64 975.04h0M596.65 977.77h0M583.42 984.22h0M594.99 961.13h0M591.78 981.78h0M594.06 932.35h0M587.14 942.65h0M597.54 993.06h0" stroke="#2a0303" stroke-width="2.2" stroke-linecap="round" stroke-opacity="0.85" fill="none"/>
<path d="M548.7 973.4h0M556.6 962.4h0M560.3 970.1h0M543.2 940.9h0" stroke="#e01a1a" stroke-width="2.6" stroke-linecap="round" stroke-opacity="1" fill="none"/>
<g transform="translate(550.7 975.1) rotate(28)"><path d="M-0.95 4.6V-0.6H-3L0 -4.9L3 -0.6H0.95V4.6Z" fill="#fff"/></g>
<g transform="translate(558.6 964.1) rotate(28)"><path d="M-0.95 4.6V-0.6H-3L0 -4.9L3 -0.6H0.95V4.6Z" fill="#fff"/></g>
<g transform="translate(562.3 971.8) rotate(28)"><path d="M-0.95 4.6V-0.6H-3L0 -4.9L3 -0.6H0.95V4.6Z" fill="#fff"/></g>
</g>
<g clip-path="url(#c12)">
<rect x="600.3" y="928.9" width="72.1" height="72.3" fill="#000008" />
<rect x="647.3" y="928.9" width="25.1" height="72.3" fill="#2a1a06" />
<path d="M643.99 957.76h0M626.71 944.36h0M643.21 950.02h0M630.14 940.16h0M634.66 956.07h0M639.38 969.61h0M638.61 951.15h0M635.76 939.61h0M638.08 930.18h0M633.83 944.41h0M645.73 939.72h0M610.32 960.73h0M646.82 951.18h0M635.73 949.09h0M634.15 935.89h0M639.39 993.56h0M628.65 930.26h0M638.6 950.54h0M630.43 994.06h0M610.1 965.45h0M620.38 998.34h0M625.34 938.35h0M613.96 961.31h0M628.53 943.54h0M618.99 944.84h0M647.54 933.94h0M639.52 976.62h0M620.51 935.75h0M612.63 932.71h0M633.17 936.27h0M625.52 994.7h0M629.44 975.14h0M613.28 936.03h0M645.06 941.94h0M611.11 943.41h0M635.39 953.69h0M628.29 958.7h0M621.79 949.38h0M640.48 931.84h0M621.21 985.51h0M621.86 958.52h0M611.84 977.37h0M649.1 933.09h0M641.77 997.5h0M641.56 971.46h0M631.93 962.62h0M630.59 945.11h0M642.56 971.95h0M621.36 993.54h0M629.3 948.42h0M637.11 963.54h0M611.9 930.29h0M637.89 935.61h0M629.43 995.14h0M625.91 937.68h0M646.07 931.38h0M610.69 952.01h0M637.24 996.22h0M648.97 931.74h0M636.98 942.27h0M629.71 929.18h0M637.41 948.25h0M625.57 949.35h0M645.86 939.46h0M642.05 988.28h0M644.63 971.95h0M641.42 951.65h0M629.97 945.23h0M615.56 979.58h0M630.2 970.5h0M643.04 943.86h0M610.65 974.22h0M638.35 988.7h0M622.63 940.08h0M618.52 929.04h0M618.93 957.4h0M640.13 951.19h0M616.15 958.79h0M616.16 988.08h0M625.24 956.86h0M610.98 965.98h0M613.94 934.28h0M618.44 955.78h0M628.39 999.31h0M639.14 929.21h0M638.19 989.1h0M636.55 982.72h0M640.38 972.7h0M613.1 983.32h0M624.33 994.14h0M630.15 998.19h0M643.45 943.25h0M629.57 997.4h0M628.31 958.82h0M611.6 952.78h0M625.04 954.15h0M643.24 979.94h0M637.6 951.97h0M621.64 956.37h0M639.61 972.58h0M633.96 978.39h0M614.31 933.54h0M615.98 976.33h0M630.51 999.43h0M642.53 996.52h0M631.24 973.32h0M641.57 988.25h0M623.96 956.65h0M614.95 967.37h0M627.22 959.97h0M648.43 933.66h0M611.47 950.27h0M644.13 959.27h0M643.01 972.9h0M634.84 946.56h0M644.33 948.35h0M637.1 950.95h0M632.46 975.75h0M646.15 950.98h0M630.91 952h0M638.91 976.25h0M643.27 961.38h0M621.96 939.97h0M618.28 984.96h0M637.52 937.7h0M610.32 958.08h0M642.65 994.55h0M639.3 978.51h0M633.75 972.03h0M637.86 991.55h0M636.11 934.19h0M630.81 929.92h0M639.1 979.3h0M636.21 1000.26h0M637.28 992.45h0M639.57 935.79h0M629.36 983.86h0M637.54 958.46h0M622.95 948.22h0M635.48 988.81h0M610.59 935.06h0M625.36 948.81h0M630.77 934.07h0M617.19 943.06h0M637.08 950.85h0M641.68 992.04h0M639.65 947.07h0M619.25 996.36h0M646.9 939.57h0M629.66 990.96h0M640.69 930.32h0M633.31 994.65h0M633.98 971.74h0M639.59 959.29h0M635.79 972.95h0M640.67 983.46h0M636.7 993.67h0M638.94 989.23h0M617.52 980.77h0M636.3 973.69h0M626.82 991.36h0M635.85 934.66h0M629.88 973.29h0M617 942.46h0M636.9 995.81h0M627.04 980.09h0M633.81 953.58h0M638.5 978.18h0M638.71 964.5h0M614.71 944.21h0M615.8 975.42h0M620.06 931.56h0M612 956.98h0M642.95 997.57h0M612.42 978.45h0M634.99 934.72h0M626 954.08h0M617.72 945.3h0M646.22 943.26h0M641.93 929.69h0M646.26 948.78h0M640.56 997.57h0M627.16 958.37h0M639.38 960.06h0M634.35 958.07h0M640.67 955.65h0M641.56 997.85h0M619.93 948.44h0M642.02 955.49h0M626.92 997.49h0M642.58 959.48h0M625.67 940.67h0M635.88 934.72h0M641.54 983.55h0M611.13 968.66h0M633.03 993.06h0M612.72 958.62h0M628.59 942.7h0M619 956.07h0M610.87 967.73h0M635.42 962.98h0M645.47 936.31h0M640.01 939.48h0M632.6 952.19h0M616.54 990.04h0M639.06 952.63h0M634.69 941.01h0M609.86 967.96h0M618.43 994.19h0M630.24 979.19h0M617.02 986.58h0M624.41 931.79h0M627.56 953.24h0M644.02 938.65h0M642.48 971.44h0M621.21 930.18h0M638.72 941.7h0M618.21 994.4h0M636.25 956.58h0M622.7 930.81h0M645.48 935.32h0M626.85 992.96h0M620.33 985.95h0M622.9 988.07h0M623.72 984.57h0M643.17 951.37h0M645 951.64h0M615.17 963.28h0M633.13 929.76h0M620.33 948.5h0M629.93 981.89h0M633.97 942.48h0M638.08 949.07h0M617.06 999.03h0M645.52 938.75h0M626.28 954.07h0M646.49 939.84h0M641.06 973.92h0M646.54 947.46h0M643.29 961.03h0M634.75 956.88h0M648.54 929.75h0M634.15 955.96h0M642.52 940.17h0M621.61 943.15h0M643.4 933.72h0M618.51 992.43h0M621.49 951.31h0M634.32 989.4h0M636 937.31h0M633.05 957.1h0M618.78 982.31h0" stroke="#2a34c8" stroke-width="2.5" stroke-linecap="round" stroke-opacity="1" fill="none"/>
<path d="M637.74 940.53h0M618.76 951.53h0M637.83 982.11h0M631.01 958.77h0M630.67 970.88h0M644.49 974.47h0M632.01 980.22h0M621.62 984.37h0M619.37 991.36h0M646.13 941.27h0M617.18 944.61h0M634.58 966.39h0M629.88 946.18h0M640.01 938.87h0M635.05 983.16h0M613.89 977.07h0M632.06 986.06h0M644.72 957.82h0M627.68 954.25h0M627.27 951.08h0M635.9 958.06h0M614.55 975.99h0M622.62 942.34h0M609.65 935.02h0M637.74 933.34h0M618.77 951.43h0M646.5 932.75h0M627.55 936.66h0M631.66 965.74h0M642.65 953.33h0M634.5 970.98h0M614.47 957.82h0M612.37 936.24h0M630.86 988.86h0M634.6 944.21h0M642.6 976.09h0M636.54 968.92h0M648.29 934.01h0M626.55 951.57h0M627.09 984.56h0M648.24 934.57h0M639.57 958.38h0M628.77 934.15h0M622.46 953.46h0M645.83 940.76h0M638.24 928.93h0M622.57 939.88h0M644.83 947.65h0M625.15 983.39h0M611.36 940.2h0M626.53 999.78h0M618.21 944.04h0M643.28 930.43h0M628.03 982.24h0M631.98 985.19h0M622.64 933.46h0M615.84 986.03h0M627.23 958.51h0M635.28 990.75h0M639.08 936.88h0M615.61 969.03h0M614.01 969.72h0M641.4 993.19h0M629.87 935h0M625.09 943.59h0M644.47 972.44h0M614.96 992.54h0M619.08 999.09h0M616.99 994.4h0M640.04 997.44h0M637.38 992.94h0M612.6 936.6h0M611.66 969.73h0M627.88 939.22h0M631.79 943.08h0M615.47 965.08h0M637.25 944.6h0M642.92 946.54h0M635.79 982.78h0M623.1 950.18h0M610.02 963.56h0M612.47 948.09h0M630.36 999.94h0M643.95 936.67h0M627.8 977.2h0M624.09 935.46h0M623.72 957.43h0M615.85 941.03h0M632.49 935.17h0M616.22 961.26h0M631.87 969.18h0M620.44 957.07h0M634.43 938.62h0M625.64 996.42h0M647.7 937.26h0M625.43 949.74h0M634.91 962.74h0M640.69 934.82h0M627.54 985.93h0M615.82 943.28h0M616.54 942.1h0M640.6 931.87h0M636.8 929.58h0M629.07 953.98h0M628.47 965.56h0M617.68 988.02h0M644.88 963.15h0M636.37 965.77h0M617.2 930.7h0M648.32 931.24h0M642.4 977.27h0M614.88 933.5h0M629.6 987.8h0M625.11 998.36h0M619.19 998.81h0M618.59 950.45h0M618.29 997.34h0M644.71 948.72h0M629.72 957.74h0M635.71 962.94h0M614.73 970.53h0M615.8 945.25h0M615.92 980.6h0M640.73 934.98h0M633.19 986.28h0M645 932.79h0M624.24 945.58h0M621.31 940.64h0M631.89 979.36h0M619.08 956.57h0M630.91 971.93h0M626.48 995.95h0M616.8 946.57h0M641.01 956.3h0M619.65 946.72h0M624.05 942.01h0M640.96 983.89h0M638.65 962.76h0M621.22 989.98h0M638.89 941.95h0M610.81 967.28h0M632.29 979.2h0M616.25 957.88h0M643.89 957.51h0M633.37 953.58h0M628.87 982.3h0M631.9 971.13h0M634.44 976.29h0M616.04 974.87h0M647.46 937.84h0M639.59 995.39h0M625.74 934.79h0M633.49 960.85h0M633.41 986.17h0M644.48 946.99h0M643.71 969.71h0M627.58 955.85h0M614.86 986.8h0M629.44 971.61h0M612.03 930.81h0M632.94 957.72h0M617.5 931.82h0M634.28 982.14h0M629.73 989.97h0M624.81 955.28h0M612.7 955.65h0M610.62 966.49h0M621 948.76h0M627.62 977.74h0M637.19 952.96h0M628.96 992.36h0M640.01 953h0M636.55 931.04h0M626.23 987.01h0M633.67 939.98h0M611.25 939.84h0M630.15 995.62h0M631.9 967.21h0M615.12 952.85h0M611.69 959.24h0M634.18 978.05h0M640.93 930.16h0M642.29 948.02h0M615.17 992.58h0M639.18 938.72h0M626.74 956.32h0M634.24 945.29h0M609.45 970.4h0M630.87 972.02h0M632.47 981.3h0M637.74 960.66h0M634.65 977.37h0M618.65 960.21h0M640.17 978.35h0M619.44 991.49h0M615.05 991h0M643.58 977.48h0M612.91 953.68h0M637.83 938.57h0M645.16 947.27h0M633.74 931.25h0M630.37 969.7h0M623.47 953.36h0M620.36 957.93h0M643.08 979.91h0M621.16 995.3h0M642.23 955.2h0M621.44 996.02h0M620.08 934.57h0M616.23 994h0M644.61 942.53h0M631.88 956.51h0M634.45 936.77h0M639.87 961.17h0M634.8 961.79h0M615.76 932.32h0M631.74 970.29h0M613.77 980.6h0M635.23 971.26h0M643.55 976.82h0M634.29 962.38h0M613.45 975.13h0M632.88 995.7h0M640.29 972.86h0M621.33 942.72h0M617.47 995.74h0M627.79 948.93h0M620.72 986.11h0M646.91 939.27h0M622.56 931.95h0M629.83 937.21h0M619.05 985.46h0M641.51 958.91h0M630.28 957.2h0M641.78 935.41h0M642.5 964.33h0M630.07 950.66h0M614.42 937.38h0M643.21 932.12h0M625.52 947.72h0M614.47 955.27h0M640.23 980.78h0M618.36 957.29h0M629.89 929.24h0M635.98 954.47h0M643.71 978.59h0M637.7 932.16h0M615.99 946.53h0M618.57 988.8h0M630.61 955.66h0M628.06 996.5h0M643.25 988.24h0M631.36 957.22h0" stroke="#3a6aa8" stroke-width="2.2" stroke-linecap="round" stroke-opacity="0.85" fill="none"/>
<path d="M655.11 951.07h0M654.58 956.11h0M663.27 939.36h0M653.39 973.79h0M657.23 996.75h0M653.87 948.52h0M659.36 992.59h0M665.46 955.59h0M659.94 989.06h0M664.84 983.39h0M665.07 942.67h0M667.76 978.41h0M667.64 951.91h0M654.41 993.31h0M653.78 990.55h0M667.65 979.4h0M661.62 963.86h0M663.13 968.77h0M654.58 942.57h0M654.6 998.99h0M649.8 989.53h0M653.49 985.02h0M653.48 965.53h0M660.14 975.69h0M660.58 941.29h0M657.96 954.38h0M659.19 991.76h0M670.89 987.8h0M661.08 962.35h0M658.66 951.85h0M663.68 938.6h0M657.08 981.89h0M666.67 936.17h0M657.54 940.12h0M664.58 962.27h0M668.09 960.58h0M659.94 957.47h0M656.9 970.06h0M664.11 958.87h0M663.47 945.64h0M670.91 958.18h0M656.33 981.96h0M656.34 987.07h0M650.56 982.36h0M660.98 933.05h0M653.02 982.4h0M653.76 972.31h0M669.72 993.93h0M656.53 982.09h0M665.25 929.92h0M663.26 959.79h0M657.25 965.81h0M656.43 943.71h0M665.44 968.58h0M656.18 930.24h0M660.97 985.14h0M651.31 994.34h0M664.57 931.77h0M654.99 991.72h0M657.53 938.1h0M661.68 987.72h0M655.44 981.87h0M663.56 934.92h0M668.53 997.39h0M663.76 958.87h0M666.61 966.92h0M662.29 988.3h0M653.87 976.19h0M650.7 978.58h0M653.23 972.42h0M652.9 981.7h0M659.23 948.96h0M655.24 937.41h0M652.69 980.61h0M665.65 956.51h0M653.13 980.45h0M665.27 949.25h0M656.17 993.03h0M668.66 946.44h0M668.01 984.92h0M658.36 942.08h0M667.52 946.93h0M652.51 960.91h0M667.03 938.99h0M653.56 970.71h0M654.42 950.74h0M666.26 980.75h0M662.94 943.44h0M669.34 963.75h0M659.8 963.06h0M669.83 961.49h0M658.51 975.32h0M656.51 935.58h0M667.36 994.15h0M656.03 978.67h0M667.6 978.75h0M663.96 983.8h0M665 995.93h0M670.49 987.32h0M663.64 993.53h0M669.38 966.22h0M662.89 992.15h0M667.99 993.75h0M654.74 965.49h0M660.06 969.97h0M653.07 954.41h0M669.1 953.86h0M655.32 996.96h0M670.39 975.44h0M666.2 950.99h0M655.79 969.15h0M666.11 961.16h0M662.73 971.89h0M650.45 996.67h0M660.49 983.3h0M653.31 978.22h0M655.44 938.12h0M664.6 939.85h0M651.02 983.72h0M653.15 960.96h0M663.04 992.72h0M656.53 995.73h0M665.75 970.26h0M665.3 974.37h0M662.24 940.76h0M658.92 973.03h0M656.35 964.57h0M658.48 999.24h0M666.55 989.09h0M666.87 982.27h0M664.17 932.18h0M656.19 992.3h0" stroke="#5a3c10" stroke-width="2.6" stroke-linecap="round" stroke-opacity="1" fill="none"/>
<path d="M652.36 975.41h0M667.21 974.42h0M655.47 999.67h0M655.03 955.55h0M658.53 980.16h0M659.76 994.72h0M660.94 992.75h0M660.58 930.11h0M651.99 965.33h0M665.32 950.28h0M655.2 989.03h0M663.19 949.16h0M665.41 936.52h0M660.76 984.95h0M665.97 970.43h0M664.99 937.66h0M662.55 955.74h0M659.77 977.82h0M655.15 953.26h0M656.34 940.63h0M665.4 979.03h0M661.44 983.57h0M659.54 985.75h0M650.61 997.58h0M649.92 1000.18h0M660.86 988.5h0M656.23 940.21h0M666.26 952.87h0M654.3 954.44h0M658.57 986.49h0M669.65 966.73h0M650.98 990.92h0M660.5 935.78h0M668.99 959.56h0M661.67 934.65h0M653.68 967.28h0M661.03 946.91h0M666.34 939.25h0M654.24 991.7h0M650.1 997.11h0M666.99 985.76h0M670.41 980.43h0M670.98 932.53h0M651.99 973.42h0M664.38 958.53h0M653.18 977.42h0M657.14 971.32h0M655.31 990.78h0M658.32 986.56h0M654.71 998.58h0M668.88 956.24h0M665.85 975.82h0M663.87 945.97h0M654.51 997.74h0M665.08 969.08h0M657.69 960.2h0M661.57 933.93h0M669.22 961.64h0M666.95 984.14h0M667.49 944.04h0M663.02 975.62h0M661.72 934.45h0M668.24 984.28h0M661.16 985.92h0M658.73 960.74h0M658.18 939.33h0M662.42 956.27h0M663.04 937.19h0M653.51 995.05h0M653.59 955.31h0M670.8 997.74h0M657.95 942.3h0M661.04 974.29h0M659.49 940.6h0M668 945.52h0M664.91 974.09h0M662.87 984.9h0M670.12 959.54h0M663.43 994.53h0M654.24 967.94h0M659.11 986.92h0M654.08 952.34h0M668.69 975.6h0M666.67 989.91h0M664.59 988.99h0M667.5 978.48h0M653.53 995.52h0M660.17 940.32h0M651.98 966.55h0M669.07 935.98h0M655.19 946.92h0M662.92 989.86h0M669.64 988.2h0M670.95 996.63h0M657.57 965.44h0M663.3 961.67h0M655.15 947.68h0M659.13 988.06h0M649.53 995.67h0M663.97 940.4h0M668.06 982.17h0M666.17 931.3h0M656.26 971.83h0M664.54 981.61h0M662.65 966.92h0M655.87 947.61h0M655.07 981.63h0M661.28 979.87h0M667.77 960.26h0M663.91 959.68h0M665.51 934.57h0M667.47 998.97h0M652.16 974.08h0M652.58 991.14h0M660.74 971.58h0M668.23 944.73h0M664.09 955.27h0M652.48 960.55h0M655.49 953.65h0M656.8 964.22h0M656.13 976.38h0M671.26 991.97h0M661.56 983.44h0M670.71 972.51h0M658.75 936.96h0M655.07 942.05h0M663.09 968.66h0M662.3 995.62h0M659.95 971.1h0M669.84 985.56h0M663.09 939.95h0M665.9 939.99h0M669.82 931.02h0" stroke="#7a5a18" stroke-width="2.2" stroke-linecap="round" stroke-opacity="0.85" fill="none"/>
<path d="M624.8 973.4h0M632.7 962.4h0M636.4 970.1h0M614.3 938.9h0M622.3 944.9h0M630.3 934.9h0" stroke="#e0d040" stroke-width="2.6" stroke-linecap="round" stroke-opacity="1" fill="none"/>
<text x="664.4" y="965" font-size="9" text-anchor="middle" font-weight="bold" fill="#fff">L</text>
<rect x="654.5" y="993.3" width="14.4" height="2.8" fill="#fff" />
<g transform="translate(622.8 975.1) rotate(28)"><path d="M-0.95 4.6V-0.6H-3L0 -4.9L3 -0.6H0.95V4.6Z" fill="#fff"/></g>
<g transform="translate(630.7 964.1) rotate(28)"><path d="M-0.95 4.6V-0.6H-3L0 -4.9L3 -0.6H0.95V4.6Z" fill="#fff"/></g>
<g transform="translate(634.4 971.8) rotate(28)"><path d="M-0.95 4.6V-0.6H-3L0 -4.9L3 -0.6H0.95V4.6Z" fill="#fff"/></g>
</g>
<text x="383.3" y="924.4" font-size="7.8" font-weight="bold" fill="#4a78ff">DAPI</text>
<text x="456.3" y="924.4" font-size="7.8" font-weight="bold" fill="#10a050">CX<tspan dy="1.95" font-size="5.07">3</tspan><tspan dy="-1.95">​</tspan>CR1/GFP</text>
<text x="529.3" y="924.4" font-size="7.8" font-weight="bold" fill="#e00000">c-Kit</text>
<text x="601.4" y="924.4" font-size="7.8" font-weight="bold" fill="#f0f000">Merge</text>
<text x="383.3" y="997.6" font-size="7.8" font-weight="bold" fill="#4a78ff">DAPI</text>
<text x="456.3" y="997.6" font-size="7.8" font-weight="bold" fill="#10a050">CX<tspan dy="1.95" font-size="5.07">3</tspan><tspan dy="-1.95">​</tspan>CR1/GFP</text>
<text x="529.3" y="997.6" font-size="7.8" font-weight="bold" fill="#e00000">c-Kit</text>
<text x="601.4" y="997.6" font-size="7.8" font-weight="bold" fill="#f0f000">Merge</text></svg></body></html>
